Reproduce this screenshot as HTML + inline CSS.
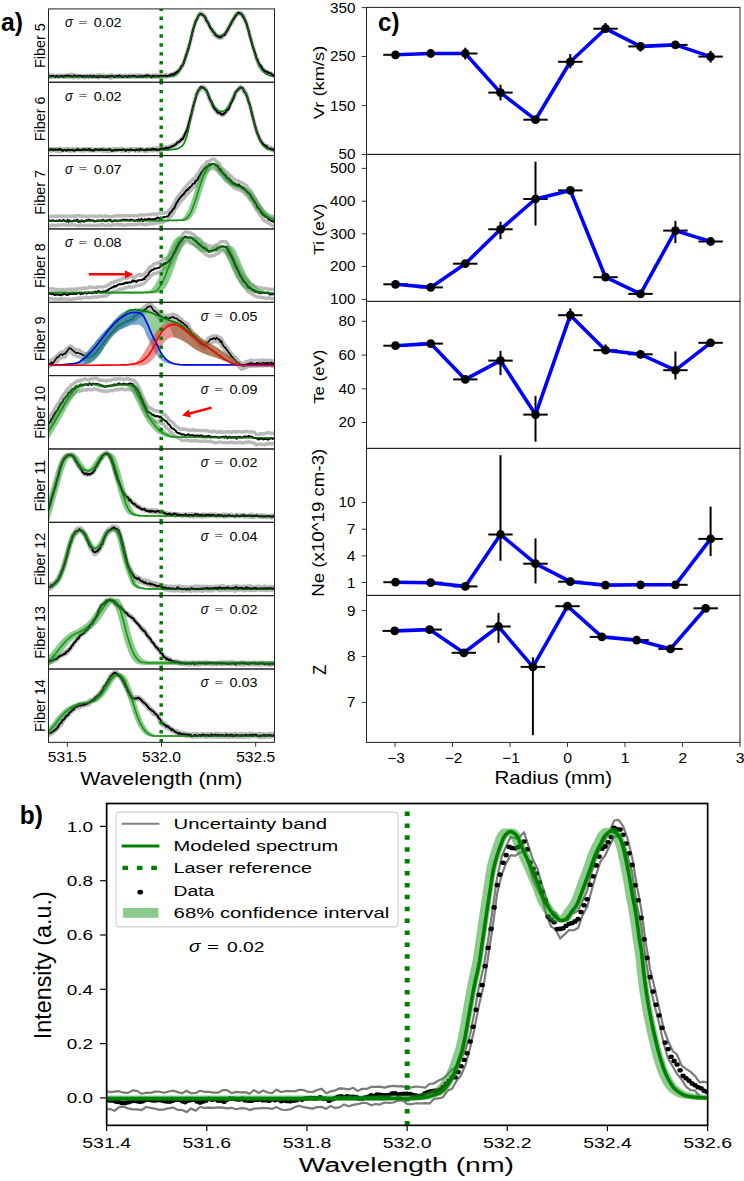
<!DOCTYPE html>
<html><head><meta charset="utf-8"><style>
html,body{margin:0;padding:0;background:#fff;}
svg{display:block;}
</style></head><body>
<svg width="744" height="1181" viewBox="0 0 744 1181" font-family='"Liberation Sans", sans-serif'>
<rect x="0" y="0" width="744" height="1181" fill="#fff"/>
<defs>
<clipPath id="ca0"><rect x="48.50" y="8.90" width="226.00" height="73.34"/></clipPath>
<clipPath id="ca1"><rect x="48.50" y="82.25" width="226.00" height="73.34"/></clipPath>
<clipPath id="ca2"><rect x="48.50" y="155.59" width="226.00" height="73.34"/></clipPath>
<clipPath id="ca3"><rect x="48.50" y="228.94" width="226.00" height="73.34"/></clipPath>
<clipPath id="ca4"><rect x="48.50" y="302.28" width="226.00" height="73.34"/></clipPath>
<clipPath id="ca5"><rect x="48.50" y="375.62" width="226.00" height="73.34"/></clipPath>
<clipPath id="ca6"><rect x="48.50" y="448.97" width="226.00" height="73.34"/></clipPath>
<clipPath id="ca7"><rect x="48.50" y="522.31" width="226.00" height="73.34"/></clipPath>
<clipPath id="ca8"><rect x="48.50" y="595.66" width="226.00" height="73.34"/></clipPath>
<clipPath id="ca9"><rect x="48.50" y="669.00" width="226.00" height="73.34"/></clipPath>
</defs>
<g clip-path="url(#ca0)">
<path d="M48.5,75.1 L49.5,74.9 L50.5,74.8 L51.5,75.1 L52.5,75.2 L53.5,75.2 L54.5,75.5 L55.5,75.9 L56.5,75.5 L57.5,75.2 L58.5,75.5 L59.5,75.3 L60.5,75.0 L61.5,74.9 L62.5,75.4 L63.5,75.5 L64.5,75.4 L65.5,75.3 L66.5,75.6 L67.5,75.6 L68.5,74.8 L69.5,74.7 L70.5,74.7 L71.5,74.1 L72.5,74.4 L73.5,75.6 L74.5,75.7 L75.5,75.1 L76.5,74.9 L77.5,75.4 L78.5,75.7 L79.5,75.4 L80.5,75.4 L81.5,75.4 L82.5,75.6 L83.5,75.7 L84.5,75.6 L85.5,75.2 L86.5,75.3 L87.5,75.4 L88.5,75.5 L89.5,75.4 L90.5,75.0 L91.5,75.4 L92.5,75.1 L93.5,75.5 L94.5,76.2 L95.5,75.6 L96.5,75.5 L97.5,75.7 L98.5,74.8 L99.5,74.8 L100.5,75.4 L101.5,75.4 L102.5,75.2 L103.5,75.1 L104.5,75.3 L105.5,75.6 L106.5,75.8 L107.5,75.5 L108.5,75.8 L109.5,75.6 L110.5,75.2 L111.5,74.8 L112.5,75.3 L113.5,76.0 L114.5,75.8 L115.5,75.8 L116.5,75.6 L117.5,75.5 L118.5,75.4 L119.5,75.3 L120.5,75.3 L121.5,75.7 L122.5,75.9 L123.5,75.5 L124.5,75.2 L125.5,75.0 L126.5,75.6 L127.5,75.9 L128.5,75.5 L129.5,75.3 L130.5,75.0 L131.5,75.0 L132.5,75.5 L133.5,75.4 L134.5,75.1 L135.5,75.2 L136.5,75.3 L137.5,74.9 L138.5,74.8 L139.5,75.0 L140.5,75.3 L141.5,75.3 L142.5,75.2 L143.5,75.8 L144.5,75.5 L145.5,75.0 L146.5,75.1 L147.5,75.3 L148.5,75.0 L149.5,75.1 L150.5,75.8 L151.5,75.6 L152.5,75.1 L153.5,74.9 L154.5,75.0 L155.5,74.9 L156.5,74.6 L157.5,75.2 L158.5,75.2 L159.5,75.2 L160.5,75.7 L161.5,75.5 L162.5,75.3 L163.5,75.7 L164.5,75.4 L165.5,74.8 L166.5,74.4 L167.5,74.5 L168.5,75.1 L169.5,75.2 L170.5,74.4 L171.5,73.7 L172.5,73.6 L173.5,73.6 L174.5,73.2 L175.5,72.5 L176.5,71.8 L177.5,70.9 L178.5,69.8 L179.5,68.8 L180.5,67.4 L181.5,65.8 L182.5,64.5 L183.5,62.3 L184.5,59.3 L185.5,55.9 L186.5,53.1 L187.5,50.0 L188.5,46.2 L189.5,43.3 L190.5,39.9 L191.5,35.4 L192.5,30.8 L193.5,27.1 L194.5,23.7 L195.5,20.8 L196.5,19.2 L197.5,17.2 L198.5,14.8 L199.5,13.2 L200.5,12.8 L201.5,13.2 L202.5,13.5 L203.5,14.5 L204.5,15.5 L205.5,17.2 L206.5,19.7 L207.5,21.7 L208.5,23.1 L209.5,24.9 L210.5,26.9 L211.5,28.4 L212.5,29.8 L213.5,31.0 L214.5,32.1 L215.5,33.7 L216.5,34.8 L217.5,35.4 L218.5,36.2 L219.5,36.1 L220.5,35.6 L221.5,35.7 L222.5,35.4 L223.5,34.5 L224.5,33.7 L225.5,32.5 L226.5,30.4 L227.5,28.4 L228.5,27.3 L229.5,25.8 L230.5,23.2 L231.5,21.5 L232.5,20.4 L233.5,18.5 L234.5,16.5 L235.5,14.5 L236.5,13.2 L237.5,13.1 L238.5,12.7 L239.5,12.2 L240.5,12.5 L241.5,13.1 L242.5,14.0 L243.5,15.3 L244.5,17.9 L245.5,19.9 L246.5,22.6 L247.5,26.3 L248.5,29.5 L249.5,33.0 L250.5,36.6 L251.5,40.3 L252.5,43.7 L253.5,46.9 L254.5,50.5 L255.5,53.8 L256.5,56.5 L257.5,59.1 L258.5,61.9 L259.5,63.5 L260.5,64.9 L261.5,66.5 L262.5,67.5 L263.5,68.9 L264.5,69.9 L265.5,70.8 L266.5,71.3 L267.5,71.5 L268.5,72.1 L269.5,72.3 L270.5,72.9 L271.5,73.5 L272.5,73.9 L273.5,74.4 L274.5,74.3" fill="none" stroke="#b9b9b9" stroke-width="3.4" stroke-linejoin="round" />
<path d="M48.5,77.3 L49.5,77.3 L50.5,77.6 L51.5,77.3 L52.5,77.1 L53.5,76.9 L54.5,77.1 L55.5,77.2 L56.5,76.6 L57.5,76.9 L58.5,77.6 L59.5,77.2 L60.5,76.7 L61.5,76.9 L62.5,76.9 L63.5,77.2 L64.5,77.3 L65.5,77.0 L66.5,77.3 L67.5,77.3 L68.5,77.3 L69.5,77.2 L70.5,76.8 L71.5,76.6 L72.5,77.4 L73.5,77.8 L74.5,77.4 L75.5,77.4 L76.5,77.4 L77.5,77.4 L78.5,77.9 L79.5,77.6 L80.5,76.7 L81.5,76.8 L82.5,76.8 L83.5,77.2 L84.5,77.8 L85.5,77.4 L86.5,76.8 L87.5,77.0 L88.5,77.7 L89.5,77.0 L90.5,76.8 L91.5,77.3 L92.5,77.4 L93.5,77.4 L94.5,77.1 L95.5,77.0 L96.5,76.8 L97.5,77.5 L98.5,77.9 L99.5,77.5 L100.5,77.1 L101.5,76.7 L102.5,76.8 L103.5,77.3 L104.5,77.4 L105.5,77.4 L106.5,77.1 L107.5,77.1 L108.5,77.4 L109.5,77.7 L110.5,78.2 L111.5,77.8 L112.5,77.2 L113.5,77.2 L114.5,77.2 L115.5,77.0 L116.5,77.2 L117.5,77.1 L118.5,77.3 L119.5,77.5 L120.5,77.4 L121.5,77.4 L122.5,77.1 L123.5,76.9 L124.5,77.1 L125.5,77.1 L126.5,77.3 L127.5,77.4 L128.5,77.0 L129.5,77.0 L130.5,77.0 L131.5,76.8 L132.5,77.1 L133.5,76.7 L134.5,76.8 L135.5,77.4 L136.5,77.3 L137.5,77.1 L138.5,77.1 L139.5,76.9 L140.5,77.0 L141.5,77.1 L142.5,77.1 L143.5,77.0 L144.5,77.0 L145.5,77.3 L146.5,77.2 L147.5,77.1 L148.5,77.2 L149.5,76.9 L150.5,76.9 L151.5,77.4 L152.5,77.3 L153.5,77.3 L154.5,77.1 L155.5,76.9 L156.5,77.2 L157.5,77.4 L158.5,77.3 L159.5,76.8 L160.5,76.9 L161.5,77.5 L162.5,77.6 L163.5,77.3 L164.5,76.7 L165.5,76.8 L166.5,77.1 L167.5,76.2 L168.5,76.2 L169.5,76.3 L170.5,75.7 L171.5,75.7 L172.5,76.1 L173.5,75.9 L174.5,75.1 L175.5,75.0 L176.5,74.5 L177.5,73.2 L178.5,71.8 L179.5,70.4 L180.5,68.8 L181.5,67.6 L182.5,66.1 L183.5,63.8 L184.5,61.4 L185.5,58.4 L186.5,55.3 L187.5,52.5 L188.5,49.3 L189.5,45.9 L190.5,41.9 L191.5,37.3 L192.5,33.3 L193.5,29.5 L194.5,25.3 L195.5,22.5 L196.5,20.6 L197.5,18.7 L198.5,16.6 L199.5,15.2 L200.5,14.9 L201.5,14.9 L202.5,15.1 L203.5,16.1 L204.5,17.9 L205.5,19.6 L206.5,21.1 L207.5,23.0 L208.5,25.2 L209.5,26.4 L210.5,28.1 L211.5,30.6 L212.5,32.3 L213.5,34.0 L214.5,35.4 L215.5,36.2 L216.5,36.8 L217.5,37.6 L218.5,38.0 L219.5,38.1 L220.5,38.4 L221.5,38.5 L222.5,37.7 L223.5,36.5 L224.5,35.6 L225.5,34.6 L226.5,32.9 L227.5,31.3 L228.5,29.5 L229.5,27.2 L230.5,25.5 L231.5,23.8 L232.5,22.4 L233.5,19.9 L234.5,17.7 L235.5,16.6 L236.5,15.5 L237.5,14.3 L238.5,14.0 L239.5,14.3 L240.5,14.5 L241.5,15.2 L242.5,16.5 L243.5,18.0 L244.5,19.9 L245.5,22.1 L246.5,24.2 L247.5,27.7 L248.5,31.5 L249.5,35.3 L250.5,39.1 L251.5,42.2 L252.5,45.6 L253.5,49.2 L254.5,52.9 L255.5,56.2 L256.5,58.8 L257.5,61.7 L258.5,64.5 L259.5,66.7 L260.5,67.8 L261.5,68.7 L262.5,70.3 L263.5,71.3 L264.5,71.5 L265.5,72.3 L266.5,73.3 L267.5,73.5 L268.5,73.5 L269.5,73.8 L270.5,74.8 L271.5,75.4 L272.5,75.6 L273.5,76.2 L274.5,76.8" fill="none" stroke="#b9b9b9" stroke-width="3.4" stroke-linejoin="round" />
<path d="M48.5,76.6 L49.5,76.6 L50.5,76.6 L51.5,76.6 L52.5,76.6 L53.5,76.6 L54.5,76.6 L55.5,76.6 L56.5,76.6 L57.5,76.6 L58.5,76.6 L59.5,76.6 L60.5,76.6 L61.5,76.6 L62.5,76.6 L63.5,76.6 L64.5,76.6 L65.5,76.6 L66.5,76.6 L67.5,76.6 L68.5,76.6 L69.5,76.6 L70.5,76.6 L71.5,76.6 L72.5,76.6 L73.5,76.6 L74.5,76.6 L75.5,76.6 L76.5,76.6 L77.5,76.6 L78.5,76.6 L79.5,76.6 L80.5,76.6 L81.5,76.6 L82.5,76.6 L83.5,76.6 L84.5,76.6 L85.5,76.6 L86.5,76.6 L87.5,76.6 L88.5,76.6 L89.5,76.6 L90.5,76.6 L91.5,76.6 L92.5,76.6 L93.5,76.6 L94.5,76.6 L95.5,76.6 L96.5,76.6 L97.5,76.6 L98.5,76.6 L99.5,76.6 L100.5,76.6 L101.5,76.6 L102.5,76.6 L103.5,76.6 L104.5,76.6 L105.5,76.6 L106.5,76.6 L107.5,76.6 L108.5,76.6 L109.5,76.6 L110.5,76.6 L111.5,76.6 L112.5,76.6 L113.5,76.6 L114.5,76.6 L115.5,76.6 L116.5,76.6 L117.5,76.6 L118.5,76.6 L119.5,76.6 L120.5,76.6 L121.5,76.6 L122.5,76.6 L123.5,76.6 L124.5,76.6 L125.5,76.6 L126.5,76.6 L127.5,76.6 L128.5,76.6 L129.5,76.6 L130.5,76.6 L131.5,76.6 L132.5,76.6 L133.5,76.6 L134.5,76.6 L135.5,76.6 L136.5,76.6 L137.5,76.6 L138.5,76.6 L139.5,76.6 L140.5,76.6 L141.5,76.6 L142.5,76.6 L143.5,76.6 L144.5,76.6 L145.5,76.6 L146.5,76.6 L147.5,76.6 L148.5,76.6 L149.5,76.6 L150.5,76.6 L151.5,76.6 L152.5,76.6 L153.5,76.6 L154.5,76.6 L155.5,76.6 L156.5,76.6 L157.5,76.6 L158.5,76.6 L159.5,76.6 L160.5,76.6 L161.5,76.6 L162.5,76.6 L163.5,76.5 L164.5,76.5 L165.5,76.5 L166.5,76.5 L167.5,76.5 L168.5,76.5 L169.5,76.4 L170.5,76.3 L171.5,76.2 L172.5,76.0 L173.5,75.7 L174.5,75.4 L175.5,74.9 L176.5,74.0 L177.5,73.1 L178.5,72.1 L179.5,70.8 L180.5,69.2 L181.5,67.5 L182.5,65.6 L183.5,63.3 L184.5,60.7 L185.5,57.9 L186.5,54.9 L187.5,51.6 L188.5,48.1 L189.5,44.5 L190.5,40.5 L191.5,36.3 L192.5,32.3 L193.5,28.6 L194.5,25.0 L195.5,21.9 L196.5,19.5 L197.5,17.5 L198.5,15.7 L199.5,14.4 L200.5,14.0 L201.5,14.2 L202.5,14.7 L203.5,15.3 L204.5,16.1 L205.5,17.4 L206.5,19.3 L207.5,21.1 L208.5,22.9 L209.5,24.9 L210.5,26.8 L211.5,28.5 L212.5,30.0 L213.5,31.5 L214.5,32.8 L215.5,33.9 L216.5,34.7 L217.5,35.3 L218.5,35.9 L219.5,36.2 L220.5,36.1 L221.5,35.8 L222.5,35.2 L223.5,34.5 L224.5,33.6 L225.5,32.2 L226.5,30.6 L227.5,29.0 L228.5,27.3 L229.5,25.4 L230.5,23.5 L231.5,21.6 L232.5,19.9 L233.5,18.2 L234.5,16.5 L235.5,15.1 L236.5,14.2 L237.5,13.7 L238.5,13.3 L239.5,13.2 L240.5,13.5 L241.5,14.3 L242.5,15.4 L243.5,16.7 L244.5,18.7 L245.5,21.0 L246.5,23.6 L247.5,26.9 L248.5,30.6 L249.5,34.3 L250.5,37.9 L251.5,41.5 L252.5,45.1 L253.5,48.6 L254.5,52.2 L255.5,55.7 L256.5,58.7 L257.5,61.3 L258.5,63.7 L259.5,65.9 L260.5,67.7 L261.5,69.2 L262.5,70.6 L263.5,71.8 L264.5,72.8 L265.5,73.5 L266.5,74.1 L267.5,74.7 L268.5,75.1 L269.5,75.5 L270.5,75.8 L271.5,76.0 L272.5,76.2 L273.5,76.3 L274.5,76.4" fill="none" stroke="#008000" stroke-width="1.6" stroke-linejoin="round" />
<path d="M48.5,76.3 L49.5,76.4 L50.5,76.2 L51.5,75.9 L52.5,76.1 L53.5,75.9 L54.5,76.4 L55.5,76.9 L56.5,76.1 L57.5,76.1 L58.5,76.6 L59.5,76.5 L60.5,76.4 L61.5,75.9 L62.5,76.3 L63.5,76.7 L64.5,75.8 L65.5,76.2 L66.5,75.5 L67.5,75.8 L68.5,75.5 L69.5,76.3 L70.5,75.8 L71.5,76.5 L72.5,76.4 L73.5,76.3 L74.5,75.2 L75.5,76.1 L76.5,76.4 L77.5,76.4 L78.5,75.7 L79.5,76.2 L80.5,76.0 L81.5,76.0 L82.5,76.9 L83.5,76.0 L84.5,76.4 L85.5,76.8 L86.5,76.1 L87.5,76.3 L88.5,76.4 L89.5,76.4 L90.5,75.8 L91.5,76.4 L92.5,77.0 L93.5,75.7 L94.5,76.8 L95.5,76.5 L96.5,76.1 L97.5,77.3 L98.5,76.7 L99.5,75.9 L100.5,76.4 L101.5,76.7 L102.5,76.3 L103.5,76.7 L104.5,76.4 L105.5,76.7 L106.5,77.0 L107.5,76.1 L108.5,76.5 L109.5,76.2 L110.5,76.4 L111.5,75.9 L112.5,76.1 L113.5,76.3 L114.5,76.8 L115.5,76.9 L116.5,75.8 L117.5,76.0 L118.5,76.7 L119.5,75.5 L120.5,76.2 L121.5,76.3 L122.5,76.9 L123.5,76.7 L124.5,76.2 L125.5,76.2 L126.5,76.2 L127.5,77.0 L128.5,76.1 L129.5,76.2 L130.5,76.5 L131.5,76.3 L132.5,76.2 L133.5,75.8 L134.5,76.3 L135.5,76.1 L136.5,76.8 L137.5,76.6 L138.5,76.3 L139.5,76.6 L140.5,76.1 L141.5,76.7 L142.5,76.2 L143.5,76.5 L144.5,75.7 L145.5,76.4 L146.5,75.5 L147.5,75.3 L148.5,76.1 L149.5,75.8 L150.5,76.3 L151.5,77.2 L152.5,75.8 L153.5,75.9 L154.5,76.3 L155.5,76.4 L156.5,76.1 L157.5,76.0 L158.5,76.4 L159.5,76.3 L160.5,75.6 L161.5,76.0 L162.5,76.1 L163.5,75.6 L164.5,76.1 L165.5,75.6 L166.5,76.4 L167.5,75.9 L168.5,75.7 L169.5,75.3 L170.5,75.3 L171.5,74.3 L172.5,74.4 L173.5,74.8 L174.5,73.2 L175.5,73.9 L176.5,71.9 L177.5,72.2 L178.5,70.5 L179.5,70.1 L180.5,68.4 L181.5,66.0 L182.5,65.5 L183.5,63.4 L184.5,60.1 L185.5,57.2 L186.5,54.4 L187.5,50.9 L188.5,48.5 L189.5,44.2 L190.5,40.5 L191.5,36.0 L192.5,32.0 L193.5,28.1 L194.5,25.6 L195.5,21.7 L196.5,20.0 L197.5,17.6 L198.5,15.6 L199.5,14.6 L200.5,13.9 L201.5,14.3 L202.5,14.7 L203.5,15.6 L204.5,16.1 L205.5,17.9 L206.5,20.9 L207.5,21.8 L208.5,23.5 L209.5,26.1 L210.5,28.4 L211.5,28.9 L212.5,30.9 L213.5,32.2 L214.5,33.0 L215.5,35.2 L216.5,35.7 L217.5,36.4 L218.5,36.6 L219.5,37.5 L220.5,37.0 L221.5,36.8 L222.5,35.7 L223.5,35.0 L224.5,35.1 L225.5,33.0 L226.5,31.7 L227.5,30.0 L228.5,28.1 L229.5,26.3 L230.5,24.8 L231.5,22.5 L232.5,20.8 L233.5,19.1 L234.5,17.8 L235.5,16.0 L236.5,14.8 L237.5,13.5 L238.5,12.5 L239.5,13.3 L240.5,13.7 L241.5,14.2 L242.5,15.6 L243.5,17.1 L244.5,19.1 L245.5,21.4 L246.5,23.4 L247.5,27.6 L248.5,30.1 L249.5,34.7 L250.5,38.1 L251.5,41.8 L252.5,45.7 L253.5,48.9 L254.5,51.3 L255.5,54.4 L256.5,58.4 L257.5,60.0 L258.5,62.7 L259.5,65.0 L260.5,65.5 L261.5,66.7 L262.5,69.0 L263.5,69.9 L264.5,70.7 L265.5,71.5 L266.5,71.7 L267.5,72.0 L268.5,73.0 L269.5,73.1 L270.5,73.2 L271.5,74.6 L272.5,74.8 L273.5,75.4 L274.5,75.2" fill="none" stroke="#000" stroke-width="2.0" stroke-linejoin="round" />
<path d="M48.5,76.3 L49.5,76.3 L50.5,76.3 L51.5,76.3 L52.5,76.3 L53.5,76.3 L54.5,76.3 L55.5,76.3 L56.5,76.3 L57.5,76.3 L58.5,76.3 L59.5,76.3 L60.5,76.3 L61.5,76.3 L62.5,76.3 L63.5,76.3 L64.5,76.3 L65.5,76.3 L66.5,76.3 L67.5,76.3 L68.5,76.3 L69.5,76.3 L70.5,76.3 L71.5,76.3 L72.5,76.3 L73.5,76.3 L74.5,76.3 L75.5,76.3 L76.5,76.3 L77.5,76.3 L78.5,76.3 L79.5,76.3 L80.5,76.3 L81.5,76.3 L82.5,76.3 L83.5,76.3 L84.5,76.3 L85.5,76.3 L86.5,76.3 L87.5,76.3 L88.5,76.3 L89.5,76.3 L90.5,76.3 L91.5,76.3 L92.5,76.3 L93.5,76.3 L94.5,76.3 L95.5,76.3 L96.5,76.3 L97.5,76.3 L98.5,76.3 L99.5,76.3 L100.5,76.3 L101.5,76.3 L102.5,76.3 L103.5,76.3 L104.5,76.3 L105.5,76.3 L106.5,76.3 L107.5,76.3 L108.5,76.3 L109.5,76.3 L110.5,76.3 L111.5,76.3 L112.5,76.3 L113.5,76.3 L114.5,76.3 L115.5,76.3 L116.5,76.3 L117.5,76.3 L118.5,76.3 L119.5,76.3 L120.5,76.3 L121.5,76.3 L122.5,76.3 L123.5,76.3 L124.5,76.3 L125.5,76.3 L126.5,76.3 L127.5,76.3 L128.5,76.3 L129.5,76.3 L130.5,76.3 L131.5,76.3 L132.5,76.3 L133.5,76.3 L134.5,76.3 L135.5,76.3 L136.5,76.3 L137.5,76.3 L138.5,76.3 L139.5,76.3 L140.5,76.3 L141.5,76.3 L142.5,76.3 L143.5,76.3 L144.5,76.3 L145.5,76.3 L146.5,76.3 L147.5,76.3 L148.5,76.3 L149.5,76.3 L150.5,76.3 L151.5,76.3 L152.5,76.3 L153.5,76.3 L154.5,76.3 L155.5,76.3 L156.5,76.3 L157.5,76.3 L158.5,76.3 L159.5,76.3 L160.5,76.3 L161.5,76.3 L162.5,76.3 L163.5,76.2 L164.5,76.2 L165.5,76.2 L166.5,76.2 L167.5,76.2 L168.5,76.2 L169.5,76.1 L170.5,75.9 L171.5,75.7 L172.5,75.5 L173.5,75.3 L174.5,74.8 L175.5,74.1 L176.5,73.2 L177.5,72.2 L178.5,71.0 L179.5,69.6 L180.5,67.9 L181.5,66.1 L182.5,64.0 L183.5,61.5 L184.5,58.7 L185.5,55.8 L186.5,52.6 L187.5,49.2 L188.5,45.6 L189.5,41.8 L190.5,37.7 L191.5,33.5 L192.5,29.8 L193.5,26.2 L194.5,22.8 L195.5,20.0 L196.5,18.0 L197.5,16.0 L198.5,14.5 L199.5,13.7 L200.5,13.7 L201.5,13.7 L202.5,14.1 L203.5,14.6 L204.5,15.3 L205.5,16.2 L206.5,17.8 L207.5,19.7 L208.5,21.5 L209.5,23.4 L210.5,25.3 L211.5,27.2 L212.5,28.9 L213.5,30.3 L214.5,31.7 L215.5,32.9 L216.5,33.9 L217.5,34.6 L218.5,35.2 L219.5,35.7 L220.5,35.6 L221.5,35.1 L222.5,34.5 L223.5,33.7 L224.5,32.5 L225.5,31.0 L226.5,29.3 L227.5,27.7 L228.5,25.9 L229.5,24.0 L230.5,22.1 L231.5,20.3 L232.5,18.6 L233.5,16.8 L234.5,15.3 L235.5,14.2 L236.5,13.6 L237.5,13.2 L238.5,12.9 L239.5,12.9 L240.5,13.0 L241.5,13.5 L242.5,14.5 L243.5,15.6 L244.5,17.2 L245.5,19.3 L246.5,21.7 L247.5,24.5 L248.5,28.1 L249.5,31.8 L250.5,35.5 L251.5,39.1 L252.5,42.7 L253.5,46.2 L254.5,49.7 L255.5,53.3 L256.5,56.7 L257.5,59.5 L258.5,62.0 L259.5,64.3 L260.5,66.3 L261.5,68.0 L262.5,69.5 L263.5,70.8 L264.5,71.9 L265.5,72.8 L266.5,73.5 L267.5,74.1 L268.5,74.6 L269.5,75.0 L270.5,75.3 L271.5,75.6 L272.5,75.8 L273.5,76.0 L274.5,76.1 L274.5,76.7 L273.5,76.7 L272.5,76.6 L271.5,76.4 L270.5,76.2 L269.5,76.0 L268.5,75.7 L267.5,75.3 L266.5,74.8 L265.5,74.2 L264.5,73.6 L263.5,72.7 L262.5,71.6 L261.5,70.4 L260.5,68.9 L259.5,67.3 L258.5,65.3 L257.5,63.1 L256.5,60.6 L255.5,57.9 L254.5,54.6 L253.5,51.1 L252.5,47.5 L251.5,44.0 L250.5,40.4 L249.5,36.8 L248.5,33.2 L247.5,29.4 L246.5,25.8 L245.5,22.8 L244.5,20.3 L243.5,18.1 L242.5,16.4 L241.5,15.3 L240.5,14.3 L239.5,13.6 L238.5,13.8 L237.5,14.3 L236.5,14.9 L235.5,16.2 L234.5,17.8 L233.5,19.5 L232.5,21.2 L231.5,23.0 L230.5,25.0 L229.5,26.9 L228.5,28.6 L227.5,30.3 L226.5,31.9 L225.5,33.3 L224.5,34.5 L223.5,35.2 L222.5,35.9 L221.5,36.3 L220.5,36.5 L219.5,36.5 L218.5,36.4 L217.5,36.0 L216.5,35.4 L215.5,34.7 L214.5,33.8 L213.5,32.6 L212.5,31.2 L211.5,29.7 L210.5,28.2 L209.5,26.3 L208.5,24.4 L207.5,22.5 L206.5,20.7 L205.5,18.8 L204.5,17.1 L203.5,16.0 L202.5,15.3 L201.5,14.7 L200.5,14.4 L199.5,15.4 L198.5,17.0 L197.5,19.0 L196.5,21.1 L195.5,24.0 L194.5,27.5 L193.5,31.1 L192.5,34.9 L191.5,39.1 L190.5,43.2 L189.5,47.0 L188.5,50.5 L187.5,53.9 L186.5,57.0 L185.5,59.9 L184.5,62.6 L183.5,65.0 L182.5,67.1 L181.5,68.9 L180.5,70.5 L179.5,71.9 L178.5,73.0 L177.5,74.0 L176.5,74.9 L175.5,75.5 L174.5,75.9 L173.5,76.2 L172.5,76.4 L171.5,76.6 L170.5,76.7 L169.5,76.8 L168.5,76.8 L167.5,76.8 L166.5,76.8 L165.5,76.8 L164.5,76.8 L163.5,76.9 L162.5,76.9 L161.5,76.9 L160.5,76.9 L159.5,76.9 L158.5,76.9 L157.5,76.9 L156.5,76.9 L155.5,76.9 L154.5,76.9 L153.5,76.9 L152.5,76.9 L151.5,76.9 L150.5,76.9 L149.5,76.9 L148.5,76.9 L147.5,76.9 L146.5,76.9 L145.5,76.9 L144.5,76.9 L143.5,76.9 L142.5,76.9 L141.5,76.9 L140.5,76.9 L139.5,76.9 L138.5,76.9 L137.5,76.9 L136.5,76.9 L135.5,76.9 L134.5,76.9 L133.5,76.9 L132.5,76.9 L131.5,76.9 L130.5,76.9 L129.5,76.9 L128.5,76.9 L127.5,76.9 L126.5,76.9 L125.5,76.9 L124.5,76.9 L123.5,76.9 L122.5,76.9 L121.5,76.9 L120.5,76.9 L119.5,76.9 L118.5,76.9 L117.5,76.9 L116.5,76.9 L115.5,76.9 L114.5,76.9 L113.5,76.9 L112.5,76.9 L111.5,76.9 L110.5,76.9 L109.5,76.9 L108.5,76.9 L107.5,76.9 L106.5,76.9 L105.5,76.9 L104.5,76.9 L103.5,76.9 L102.5,76.9 L101.5,76.9 L100.5,76.9 L99.5,76.9 L98.5,76.9 L97.5,76.9 L96.5,76.9 L95.5,76.9 L94.5,76.9 L93.5,76.9 L92.5,76.9 L91.5,76.9 L90.5,76.9 L89.5,76.9 L88.5,76.9 L87.5,76.9 L86.5,76.9 L85.5,76.9 L84.5,76.9 L83.5,76.9 L82.5,76.9 L81.5,76.9 L80.5,76.9 L79.5,76.9 L78.5,76.9 L77.5,76.9 L76.5,76.9 L75.5,76.9 L74.5,76.9 L73.5,76.9 L72.5,76.9 L71.5,76.9 L70.5,76.9 L69.5,76.9 L68.5,76.9 L67.5,76.9 L66.5,76.9 L65.5,76.9 L64.5,76.9 L63.5,76.9 L62.5,76.9 L61.5,76.9 L60.5,76.9 L59.5,76.9 L58.5,76.9 L57.5,76.9 L56.5,76.9 L55.5,76.9 L54.5,76.9 L53.5,76.9 L52.5,76.9 L51.5,76.9 L50.5,76.9 L49.5,76.9 L48.5,76.9 Z" fill="#2ca02c" stroke="none" fill-opacity="0.55"/>
</g>
<line x1="161.2" y1="82.25" x2="161.2" y2="8.90" stroke="#008000" stroke-width="3.5" stroke-dasharray="3.4 5.5"/>
<rect x="48.50" y="8.90" width="226.00" height="73.34" stroke="#222" stroke-width="1.0" fill="none" />
<text transform="translate(44.85,67.98) rotate(-90) scale(0.9800,1)" font-size="14.69" font-family='"Liberation Sans", sans-serif' fill="#000">Fiber 5</text>
<text transform="translate(64.90,27.36) scale(0.9376,1)" font-size="13.94" font-family='"Liberation Sans", sans-serif' fill="#000" font-style="italic">σ</text>
<text transform="translate(78.60,24.80) scale(1.6594,1)" font-size="9.18" font-family='"Liberation Sans", sans-serif' fill="#000">=</text>
<text transform="translate(93.70,27.37) scale(1.1405,1)" font-size="12.57" font-family='"Liberation Sans", sans-serif' fill="#000">0.02</text>
<g clip-path="url(#ca1)">
<path d="M48.5,148.3 L49.5,148.5 L50.5,148.9 L51.5,149.0 L52.5,149.0 L53.5,148.5 L54.5,148.6 L55.5,148.9 L56.5,148.9 L57.5,148.8 L58.5,148.7 L59.5,148.1 L60.5,148.4 L61.5,149.1 L62.5,148.9 L63.5,148.8 L64.5,149.0 L65.5,148.9 L66.5,148.5 L67.5,148.6 L68.5,149.0 L69.5,148.7 L70.5,148.7 L71.5,148.9 L72.5,148.4 L73.5,148.9 L74.5,149.1 L75.5,148.5 L76.5,148.4 L77.5,149.0 L78.5,149.4 L79.5,149.0 L80.5,148.8 L81.5,149.1 L82.5,148.9 L83.5,148.8 L84.5,149.0 L85.5,148.7 L86.5,148.6 L87.5,148.8 L88.5,148.9 L89.5,148.8 L90.5,148.6 L91.5,149.1 L92.5,149.2 L93.5,149.2 L94.5,149.4 L95.5,149.3 L96.5,149.6 L97.5,149.3 L98.5,148.9 L99.5,149.0 L100.5,149.3 L101.5,149.8 L102.5,148.8 L103.5,148.2 L104.5,148.8 L105.5,149.3 L106.5,149.3 L107.5,149.1 L108.5,149.0 L109.5,149.2 L110.5,149.0 L111.5,149.1 L112.5,148.6 L113.5,148.5 L114.5,148.8 L115.5,148.9 L116.5,149.1 L117.5,148.6 L118.5,148.7 L119.5,148.7 L120.5,148.4 L121.5,148.3 L122.5,148.5 L123.5,149.0 L124.5,149.2 L125.5,149.1 L126.5,149.1 L127.5,149.1 L128.5,148.8 L129.5,149.0 L130.5,149.2 L131.5,149.0 L132.5,148.7 L133.5,148.7 L134.5,148.8 L135.5,148.6 L136.5,148.8 L137.5,148.9 L138.5,148.8 L139.5,148.7 L140.5,148.7 L141.5,149.0 L142.5,148.8 L143.5,149.1 L144.5,149.3 L145.5,149.3 L146.5,149.4 L147.5,148.8 L148.5,148.5 L149.5,148.7 L150.5,148.8 L151.5,148.7 L152.5,148.6 L153.5,148.1 L154.5,148.1 L155.5,147.9 L156.5,148.0 L157.5,148.4 L158.5,148.0 L159.5,148.1 L160.5,148.3 L161.5,147.9 L162.5,147.3 L163.5,147.2 L164.5,147.0 L165.5,146.8 L166.5,147.5 L167.5,147.2 L168.5,146.7 L169.5,146.3 L170.5,145.8 L171.5,145.6 L172.5,144.9 L173.5,144.6 L174.5,144.4 L175.5,143.7 L176.5,142.7 L177.5,141.7 L178.5,141.1 L179.5,140.6 L180.5,139.8 L181.5,138.8 L182.5,138.0 L183.5,136.2 L184.5,134.1 L185.5,132.7 L186.5,130.3 L187.5,127.1 L188.5,123.6 L189.5,119.7 L190.5,115.9 L191.5,112.9 L192.5,109.0 L193.5,104.2 L194.5,100.1 L195.5,96.6 L196.5,93.9 L197.5,91.6 L198.5,89.2 L199.5,88.0 L200.5,87.2 L201.5,86.4 L202.5,86.2 L203.5,86.5 L204.5,87.5 L205.5,88.3 L206.5,90.0 L207.5,92.4 L208.5,94.7 L209.5,97.9 L210.5,100.3 L211.5,101.7 L212.5,103.8 L213.5,106.4 L214.5,107.6 L215.5,108.4 L216.5,109.8 L217.5,110.7 L218.5,111.9 L219.5,112.2 L220.5,111.9 L221.5,112.7 L222.5,113.0 L223.5,112.8 L224.5,112.2 L225.5,111.2 L226.5,110.3 L227.5,108.6 L228.5,106.7 L229.5,105.2 L230.5,103.2 L231.5,101.3 L232.5,99.0 L233.5,96.4 L234.5,94.4 L235.5,92.4 L236.5,90.3 L237.5,89.4 L238.5,88.9 L239.5,87.1 L240.5,86.1 L241.5,87.1 L242.5,88.0 L243.5,88.8 L244.5,90.1 L245.5,91.5 L246.5,93.8 L247.5,96.5 L248.5,99.9 L249.5,103.3 L250.5,106.5 L251.5,110.4 L252.5,114.7 L253.5,118.8 L254.5,122.4 L255.5,126.5 L256.5,130.2 L257.5,133.1 L258.5,135.6 L259.5,137.6 L260.5,139.4 L261.5,141.0 L262.5,142.7 L263.5,143.5 L264.5,144.5 L265.5,145.4 L266.5,145.4 L267.5,145.8 L268.5,146.3 L269.5,146.9 L270.5,147.3 L271.5,148.0 L272.5,148.4 L273.5,147.9 L274.5,148.3" fill="none" stroke="#b9b9b9" stroke-width="3.4" stroke-linejoin="round" />
<path d="M48.5,150.1 L49.5,150.1 L50.5,150.9 L51.5,151.1 L52.5,150.5 L53.5,150.1 L54.5,150.9 L55.5,151.2 L56.5,150.8 L57.5,151.0 L58.5,151.6 L59.5,151.6 L60.5,151.1 L61.5,150.8 L62.5,151.0 L63.5,150.7 L64.5,150.3 L65.5,150.5 L66.5,150.5 L67.5,150.5 L68.5,150.8 L69.5,151.4 L70.5,151.2 L71.5,150.6 L72.5,150.7 L73.5,150.9 L74.5,151.2 L75.5,151.0 L76.5,150.5 L77.5,150.2 L78.5,150.2 L79.5,150.8 L80.5,151.0 L81.5,150.6 L82.5,150.5 L83.5,150.8 L84.5,151.0 L85.5,150.9 L86.5,150.7 L87.5,150.4 L88.5,150.1 L89.5,151.0 L90.5,150.7 L91.5,150.3 L92.5,150.9 L93.5,150.9 L94.5,150.6 L95.5,150.7 L96.5,150.9 L97.5,150.9 L98.5,150.4 L99.5,150.4 L100.5,150.7 L101.5,150.6 L102.5,150.8 L103.5,151.1 L104.5,151.3 L105.5,151.0 L106.5,151.0 L107.5,151.4 L108.5,151.5 L109.5,151.5 L110.5,151.2 L111.5,150.8 L112.5,151.1 L113.5,150.8 L114.5,150.6 L115.5,150.8 L116.5,150.7 L117.5,150.4 L118.5,150.2 L119.5,150.6 L120.5,151.1 L121.5,151.3 L122.5,151.1 L123.5,150.8 L124.5,150.6 L125.5,150.7 L126.5,150.9 L127.5,150.9 L128.5,151.4 L129.5,151.3 L130.5,150.5 L131.5,150.2 L132.5,150.2 L133.5,150.2 L134.5,150.8 L135.5,151.2 L136.5,150.5 L137.5,150.6 L138.5,151.3 L139.5,151.0 L140.5,150.5 L141.5,150.5 L142.5,150.7 L143.5,151.0 L144.5,151.2 L145.5,151.3 L146.5,151.3 L147.5,151.4 L148.5,151.2 L149.5,150.5 L150.5,150.3 L151.5,150.7 L152.5,150.6 L153.5,150.8 L154.5,150.7 L155.5,150.2 L156.5,150.6 L157.5,151.0 L158.5,150.6 L159.5,150.6 L160.5,150.8 L161.5,150.5 L162.5,149.5 L163.5,149.1 L164.5,149.5 L165.5,149.2 L166.5,149.1 L167.5,149.4 L168.5,149.0 L169.5,148.1 L170.5,148.3 L171.5,148.0 L172.5,146.6 L173.5,146.2 L174.5,146.0 L175.5,145.2 L176.5,144.6 L177.5,144.0 L178.5,142.9 L179.5,142.3 L180.5,141.8 L181.5,140.7 L182.5,139.5 L183.5,138.4 L184.5,137.3 L185.5,135.1 L186.5,132.4 L187.5,129.7 L188.5,125.8 L189.5,122.2 L190.5,118.7 L191.5,114.8 L192.5,110.5 L193.5,106.2 L194.5,102.3 L195.5,98.9 L196.5,96.0 L197.5,94.0 L198.5,92.1 L199.5,90.3 L200.5,89.4 L201.5,88.7 L202.5,88.2 L203.5,88.5 L204.5,89.4 L205.5,91.1 L206.5,92.5 L207.5,94.4 L208.5,97.2 L209.5,99.9 L210.5,102.2 L211.5,103.9 L212.5,105.8 L213.5,107.8 L214.5,109.6 L215.5,110.8 L216.5,112.0 L217.5,113.6 L218.5,113.9 L219.5,114.0 L220.5,114.6 L221.5,114.8 L222.5,115.4 L223.5,115.0 L224.5,114.3 L225.5,113.0 L226.5,111.9 L227.5,111.0 L228.5,109.3 L229.5,107.6 L230.5,104.7 L231.5,102.4 L232.5,101.0 L233.5,99.2 L234.5,96.8 L235.5,94.2 L236.5,92.1 L237.5,91.1 L238.5,90.7 L239.5,89.3 L240.5,88.3 L241.5,88.0 L242.5,89.0 L243.5,91.4 L244.5,92.9 L245.5,94.2 L246.5,96.4 L247.5,98.6 L248.5,102.0 L249.5,105.2 L250.5,108.4 L251.5,112.8 L252.5,117.3 L253.5,121.4 L254.5,124.9 L255.5,128.2 L256.5,131.3 L257.5,134.6 L258.5,137.2 L259.5,139.0 L260.5,140.8 L261.5,142.7 L262.5,144.0 L263.5,144.8 L264.5,145.7 L265.5,146.7 L266.5,147.8 L267.5,148.7 L268.5,148.7 L269.5,148.5 L270.5,149.5 L271.5,150.1 L272.5,150.2 L273.5,151.0 L274.5,151.3" fill="none" stroke="#b9b9b9" stroke-width="3.4" stroke-linejoin="round" />
<path d="M48.5,150.0 L49.5,150.0 L50.5,150.0 L51.5,150.0 L52.5,150.0 L53.5,150.0 L54.5,150.0 L55.5,150.0 L56.5,150.0 L57.5,150.0 L58.5,150.0 L59.5,150.0 L60.5,150.0 L61.5,150.0 L62.5,150.0 L63.5,150.0 L64.5,150.0 L65.5,150.0 L66.5,150.0 L67.5,150.0 L68.5,150.0 L69.5,150.0 L70.5,150.0 L71.5,150.0 L72.5,150.0 L73.5,150.0 L74.5,150.0 L75.5,150.0 L76.5,150.0 L77.5,150.0 L78.5,150.0 L79.5,150.0 L80.5,150.0 L81.5,150.0 L82.5,150.0 L83.5,150.0 L84.5,150.0 L85.5,150.0 L86.5,150.0 L87.5,150.0 L88.5,150.0 L89.5,150.0 L90.5,150.0 L91.5,150.0 L92.5,150.0 L93.5,150.0 L94.5,150.0 L95.5,150.0 L96.5,150.0 L97.5,150.0 L98.5,150.0 L99.5,150.0 L100.5,150.0 L101.5,150.0 L102.5,150.0 L103.5,150.0 L104.5,150.0 L105.5,150.0 L106.5,150.0 L107.5,150.0 L108.5,150.0 L109.5,150.0 L110.5,150.0 L111.5,150.0 L112.5,150.0 L113.5,150.0 L114.5,150.0 L115.5,150.0 L116.5,150.0 L117.5,150.0 L118.5,150.0 L119.5,150.0 L120.5,150.0 L121.5,150.0 L122.5,150.0 L123.5,150.0 L124.5,150.0 L125.5,150.0 L126.5,150.0 L127.5,150.0 L128.5,150.0 L129.5,150.0 L130.5,150.0 L131.5,150.0 L132.5,150.0 L133.5,150.0 L134.5,150.0 L135.5,150.0 L136.5,150.0 L137.5,150.0 L138.5,150.0 L139.5,150.0 L140.5,150.0 L141.5,150.0 L142.5,150.0 L143.5,150.0 L144.5,150.0 L145.5,150.0 L146.5,150.0 L147.5,150.0 L148.5,150.0 L149.5,150.0 L150.5,150.0 L151.5,150.0 L152.5,150.0 L153.5,150.0 L154.5,150.0 L155.5,150.0 L156.5,150.0 L157.5,150.0 L158.5,150.0 L159.5,150.0 L160.5,150.0 L161.5,150.0 L162.5,150.0 L163.5,150.0 L164.5,150.0 L165.5,150.0 L166.5,150.0 L167.5,149.9 L168.5,149.9 L169.5,149.8 L170.5,149.7 L171.5,149.6 L172.5,149.5 L173.5,149.4 L174.5,149.3 L175.5,149.1 L176.5,148.9 L177.5,148.7 L178.5,148.3 L179.5,147.7 L180.5,147.1 L181.5,146.3 L182.5,145.4 L183.5,144.3 L184.5,142.5 L185.5,140.0 L186.5,137.1 L187.5,133.6 L188.5,129.1 L189.5,124.3 L190.5,119.7 L191.5,115.1 L192.5,110.6 L193.5,106.3 L194.5,102.3 L195.5,98.2 L196.5,94.8 L197.5,92.5 L198.5,90.6 L199.5,89.0 L200.5,87.9 L201.5,87.5 L202.5,87.7 L203.5,88.1 L204.5,88.7 L205.5,89.5 L206.5,90.5 L207.5,92.3 L208.5,94.5 L209.5,96.9 L210.5,99.0 L211.5,101.0 L212.5,103.1 L213.5,105.0 L214.5,106.5 L215.5,107.8 L216.5,108.9 L217.5,109.9 L218.5,110.6 L219.5,111.0 L220.5,111.2 L221.5,111.4 L222.5,111.5 L223.5,111.3 L224.5,110.7 L225.5,109.9 L226.5,109.0 L227.5,107.9 L228.5,106.5 L229.5,104.7 L230.5,102.7 L231.5,100.7 L232.5,98.7 L233.5,96.5 L234.5,94.1 L235.5,92.0 L236.5,90.6 L237.5,89.6 L238.5,88.7 L239.5,88.0 L240.5,87.6 L241.5,87.7 L242.5,88.5 L243.5,89.7 L244.5,91.1 L245.5,92.7 L246.5,94.9 L247.5,97.7 L248.5,100.9 L249.5,104.2 L250.5,107.7 L251.5,111.7 L252.5,115.9 L253.5,120.0 L254.5,123.8 L255.5,127.5 L256.5,131.1 L257.5,134.4 L258.5,137.0 L259.5,139.3 L260.5,141.4 L261.5,143.2 L262.5,144.8 L263.5,145.9 L264.5,146.8 L265.5,147.5 L266.5,148.2 L267.5,148.8 L268.5,149.2 L269.5,149.5 L270.5,149.8 L271.5,150.0 L272.5,150.2 L273.5,150.4 L274.5,150.4" fill="none" stroke="#008000" stroke-width="1.6" stroke-linejoin="round" />
<path d="M48.5,149.4 L49.5,149.8 L50.5,149.2 L51.5,149.5 L52.5,149.2 L53.5,150.2 L54.5,149.6 L55.5,149.3 L56.5,149.5 L57.5,149.6 L58.5,150.0 L59.5,149.0 L60.5,149.3 L61.5,149.6 L62.5,150.9 L63.5,150.2 L64.5,149.7 L65.5,150.1 L66.5,150.7 L67.5,149.7 L68.5,149.6 L69.5,150.3 L70.5,150.0 L71.5,150.1 L72.5,149.6 L73.5,150.7 L74.5,150.6 L75.5,150.1 L76.5,150.1 L77.5,148.9 L78.5,150.1 L79.5,149.8 L80.5,150.0 L81.5,150.2 L82.5,149.7 L83.5,149.1 L84.5,150.0 L85.5,149.5 L86.5,149.7 L87.5,149.6 L88.5,149.7 L89.5,148.8 L90.5,150.4 L91.5,150.0 L92.5,150.4 L93.5,150.8 L94.5,149.9 L95.5,149.1 L96.5,149.5 L97.5,149.4 L98.5,149.7 L99.5,149.9 L100.5,149.0 L101.5,150.1 L102.5,149.2 L103.5,150.0 L104.5,149.8 L105.5,149.8 L106.5,149.9 L107.5,149.7 L108.5,149.6 L109.5,149.1 L110.5,149.9 L111.5,150.7 L112.5,150.8 L113.5,150.5 L114.5,150.2 L115.5,149.6 L116.5,150.5 L117.5,149.9 L118.5,149.8 L119.5,149.7 L120.5,149.9 L121.5,149.7 L122.5,149.8 L123.5,149.4 L124.5,149.7 L125.5,150.9 L126.5,149.8 L127.5,149.7 L128.5,150.1 L129.5,150.2 L130.5,149.3 L131.5,149.7 L132.5,150.2 L133.5,149.9 L134.5,149.9 L135.5,150.5 L136.5,149.5 L137.5,149.8 L138.5,149.6 L139.5,150.5 L140.5,148.9 L141.5,149.5 L142.5,149.5 L143.5,150.1 L144.5,150.0 L145.5,150.4 L146.5,149.0 L147.5,150.1 L148.5,149.6 L149.5,149.4 L150.5,149.9 L151.5,149.3 L152.5,148.7 L153.5,149.5 L154.5,148.9 L155.5,149.3 L156.5,149.7 L157.5,149.6 L158.5,150.1 L159.5,149.2 L160.5,148.6 L161.5,148.8 L162.5,148.6 L163.5,148.4 L164.5,148.9 L165.5,148.3 L166.5,147.4 L167.5,148.4 L168.5,147.8 L169.5,147.6 L170.5,147.1 L171.5,146.8 L172.5,146.1 L173.5,146.0 L174.5,145.1 L175.5,144.4 L176.5,143.8 L177.5,142.3 L178.5,142.2 L179.5,141.4 L180.5,140.7 L181.5,139.0 L182.5,139.3 L183.5,137.3 L184.5,135.1 L185.5,132.8 L186.5,131.1 L187.5,128.3 L188.5,124.6 L189.5,121.1 L190.5,117.0 L191.5,113.5 L192.5,108.8 L193.5,105.2 L194.5,102.0 L195.5,99.1 L196.5,94.3 L197.5,92.3 L198.5,90.2 L199.5,89.3 L200.5,87.2 L201.5,87.1 L202.5,87.5 L203.5,87.7 L204.5,88.6 L205.5,89.9 L206.5,90.4 L207.5,92.7 L208.5,95.6 L209.5,98.3 L210.5,100.4 L211.5,101.9 L212.5,104.6 L213.5,107.2 L214.5,108.8 L215.5,109.8 L216.5,110.7 L217.5,112.5 L218.5,112.7 L219.5,112.9 L220.5,113.4 L221.5,114.7 L222.5,114.2 L223.5,114.4 L224.5,112.9 L225.5,112.6 L226.5,110.8 L227.5,109.8 L228.5,109.4 L229.5,106.7 L230.5,104.1 L231.5,102.2 L232.5,100.3 L233.5,98.3 L234.5,95.1 L235.5,92.3 L236.5,91.3 L237.5,90.1 L238.5,88.9 L239.5,88.5 L240.5,87.5 L241.5,87.8 L242.5,87.7 L243.5,89.9 L244.5,92.0 L245.5,93.1 L246.5,95.1 L247.5,97.8 L248.5,101.7 L249.5,103.8 L250.5,107.7 L251.5,112.0 L252.5,116.3 L253.5,119.8 L254.5,123.8 L255.5,127.2 L256.5,130.9 L257.5,133.8 L258.5,135.8 L259.5,138.5 L260.5,140.8 L261.5,141.7 L262.5,143.4 L263.5,144.9 L264.5,144.9 L265.5,146.1 L266.5,146.1 L267.5,147.6 L268.5,148.6 L269.5,148.9 L270.5,148.4 L271.5,149.2 L272.5,149.3 L273.5,149.7 L274.5,150.7" fill="none" stroke="#000" stroke-width="2.0" stroke-linejoin="round" />
<path d="M48.5,149.7 L49.5,149.7 L50.5,149.7 L51.5,149.7 L52.5,149.7 L53.5,149.7 L54.5,149.7 L55.5,149.7 L56.5,149.7 L57.5,149.7 L58.5,149.7 L59.5,149.7 L60.5,149.7 L61.5,149.7 L62.5,149.7 L63.5,149.7 L64.5,149.7 L65.5,149.7 L66.5,149.7 L67.5,149.7 L68.5,149.7 L69.5,149.7 L70.5,149.7 L71.5,149.7 L72.5,149.7 L73.5,149.7 L74.5,149.7 L75.5,149.7 L76.5,149.7 L77.5,149.7 L78.5,149.7 L79.5,149.7 L80.5,149.7 L81.5,149.7 L82.5,149.7 L83.5,149.7 L84.5,149.7 L85.5,149.7 L86.5,149.7 L87.5,149.7 L88.5,149.7 L89.5,149.7 L90.5,149.7 L91.5,149.7 L92.5,149.7 L93.5,149.7 L94.5,149.7 L95.5,149.7 L96.5,149.7 L97.5,149.7 L98.5,149.7 L99.5,149.7 L100.5,149.7 L101.5,149.7 L102.5,149.7 L103.5,149.7 L104.5,149.7 L105.5,149.7 L106.5,149.7 L107.5,149.7 L108.5,149.7 L109.5,149.7 L110.5,149.7 L111.5,149.7 L112.5,149.7 L113.5,149.7 L114.5,149.7 L115.5,149.7 L116.5,149.7 L117.5,149.7 L118.5,149.7 L119.5,149.7 L120.5,149.7 L121.5,149.7 L122.5,149.7 L123.5,149.7 L124.5,149.7 L125.5,149.7 L126.5,149.7 L127.5,149.7 L128.5,149.7 L129.5,149.7 L130.5,149.7 L131.5,149.7 L132.5,149.7 L133.5,149.7 L134.5,149.7 L135.5,149.7 L136.5,149.7 L137.5,149.7 L138.5,149.7 L139.5,149.7 L140.5,149.7 L141.5,149.7 L142.5,149.7 L143.5,149.7 L144.5,149.7 L145.5,149.7 L146.5,149.7 L147.5,149.7 L148.5,149.7 L149.5,149.7 L150.5,149.7 L151.5,149.7 L152.5,149.7 L153.5,149.7 L154.5,149.7 L155.5,149.7 L156.5,149.7 L157.5,149.7 L158.5,149.7 L159.5,149.7 L160.5,149.7 L161.5,149.7 L162.5,149.7 L163.5,149.7 L164.5,149.7 L165.5,149.7 L166.5,149.7 L167.5,149.6 L168.5,149.5 L169.5,149.5 L170.5,149.4 L171.5,149.3 L172.5,149.1 L173.5,149.0 L174.5,148.8 L175.5,148.7 L176.5,148.4 L177.5,148.1 L178.5,147.6 L179.5,146.9 L180.5,146.2 L181.5,145.3 L182.5,144.3 L183.5,142.7 L184.5,140.3 L185.5,137.4 L186.5,134.1 L187.5,129.8 L188.5,124.9 L189.5,120.3 L190.5,115.7 L191.5,111.2 L192.5,106.8 L193.5,102.8 L194.5,98.7 L195.5,95.1 L196.5,92.6 L197.5,90.7 L198.5,89.0 L199.5,87.8 L200.5,87.2 L201.5,87.2 L202.5,87.2 L203.5,87.4 L204.5,87.9 L205.5,88.6 L206.5,89.3 L207.5,90.5 L208.5,92.4 L209.5,94.7 L210.5,97.0 L211.5,99.1 L212.5,101.1 L213.5,103.2 L214.5,105.0 L215.5,106.5 L216.5,107.7 L217.5,108.8 L218.5,109.8 L219.5,110.4 L220.5,110.7 L221.5,111.0 L222.5,111.1 L223.5,110.6 L224.5,109.8 L225.5,108.9 L226.5,107.9 L227.5,106.5 L228.5,104.7 L229.5,102.8 L230.5,100.8 L231.5,98.8 L232.5,96.6 L233.5,94.3 L234.5,92.1 L235.5,90.5 L236.5,89.5 L237.5,88.6 L238.5,87.8 L239.5,87.4 L240.5,87.3 L241.5,87.3 L242.5,87.5 L243.5,88.4 L244.5,89.6 L245.5,91.1 L246.5,92.8 L247.5,95.1 L248.5,98.0 L249.5,101.2 L250.5,104.5 L251.5,108.2 L252.5,112.3 L253.5,116.5 L254.5,120.5 L255.5,124.2 L256.5,127.9 L257.5,131.5 L258.5,134.6 L259.5,137.1 L260.5,139.4 L261.5,141.4 L262.5,143.2 L263.5,144.7 L264.5,145.8 L265.5,146.6 L266.5,147.4 L267.5,148.0 L268.5,148.6 L269.5,149.0 L270.5,149.3 L271.5,149.5 L272.5,149.8 L273.5,150.0 L274.5,150.1 L274.5,150.7 L273.5,150.7 L272.5,150.6 L271.5,150.5 L270.5,150.3 L269.5,150.1 L268.5,149.8 L267.5,149.4 L266.5,149.0 L265.5,148.4 L264.5,147.7 L263.5,146.9 L262.5,146.0 L261.5,144.8 L260.5,143.2 L259.5,141.3 L258.5,139.1 L257.5,136.8 L256.5,134.1 L255.5,130.7 L254.5,127.1 L253.5,123.3 L252.5,119.5 L251.5,115.4 L250.5,111.2 L249.5,107.3 L248.5,103.8 L247.5,100.5 L246.5,97.4 L245.5,94.7 L244.5,92.7 L243.5,91.1 L242.5,89.7 L241.5,88.6 L240.5,88.2 L239.5,88.8 L238.5,89.7 L237.5,90.7 L236.5,92.0 L235.5,94.0 L234.5,96.3 L233.5,98.6 L232.5,100.6 L231.5,102.6 L230.5,104.6 L229.5,106.4 L228.5,108.0 L227.5,109.1 L226.5,110.0 L225.5,110.9 L224.5,111.5 L223.5,111.8 L222.5,111.8 L221.5,111.8 L220.5,111.7 L219.5,111.5 L218.5,111.2 L217.5,110.8 L216.5,110.0 L215.5,109.0 L214.5,107.8 L213.5,106.6 L212.5,104.9 L211.5,103.0 L210.5,100.9 L209.5,98.9 L208.5,96.7 L207.5,94.4 L206.5,92.2 L205.5,90.5 L204.5,89.6 L203.5,88.9 L202.5,88.3 L201.5,88.1 L200.5,89.1 L199.5,90.6 L198.5,92.4 L197.5,94.6 L196.5,97.8 L195.5,101.7 L194.5,105.8 L193.5,110.0 L192.5,114.5 L191.5,119.1 L190.5,123.6 L189.5,128.4 L188.5,133.1 L187.5,136.8 L186.5,139.8 L185.5,142.4 L184.5,144.4 L183.5,145.5 L182.5,146.4 L181.5,147.2 L180.5,147.9 L179.5,148.5 L178.5,148.9 L177.5,149.2 L176.5,149.4 L175.5,149.5 L174.5,149.7 L173.5,149.8 L172.5,149.9 L171.5,150.0 L170.5,150.1 L169.5,150.2 L168.5,150.2 L167.5,150.3 L166.5,150.3 L165.5,150.3 L164.5,150.3 L163.5,150.3 L162.5,150.3 L161.5,150.3 L160.5,150.3 L159.5,150.3 L158.5,150.3 L157.5,150.3 L156.5,150.3 L155.5,150.3 L154.5,150.3 L153.5,150.3 L152.5,150.3 L151.5,150.3 L150.5,150.3 L149.5,150.3 L148.5,150.3 L147.5,150.3 L146.5,150.3 L145.5,150.3 L144.5,150.3 L143.5,150.3 L142.5,150.3 L141.5,150.3 L140.5,150.3 L139.5,150.3 L138.5,150.3 L137.5,150.3 L136.5,150.3 L135.5,150.3 L134.5,150.3 L133.5,150.3 L132.5,150.3 L131.5,150.3 L130.5,150.3 L129.5,150.3 L128.5,150.3 L127.5,150.3 L126.5,150.3 L125.5,150.3 L124.5,150.3 L123.5,150.3 L122.5,150.3 L121.5,150.3 L120.5,150.3 L119.5,150.3 L118.5,150.3 L117.5,150.3 L116.5,150.3 L115.5,150.3 L114.5,150.3 L113.5,150.3 L112.5,150.3 L111.5,150.3 L110.5,150.3 L109.5,150.3 L108.5,150.3 L107.5,150.3 L106.5,150.3 L105.5,150.3 L104.5,150.3 L103.5,150.3 L102.5,150.3 L101.5,150.3 L100.5,150.3 L99.5,150.3 L98.5,150.3 L97.5,150.3 L96.5,150.3 L95.5,150.3 L94.5,150.3 L93.5,150.3 L92.5,150.3 L91.5,150.3 L90.5,150.3 L89.5,150.3 L88.5,150.3 L87.5,150.3 L86.5,150.3 L85.5,150.3 L84.5,150.3 L83.5,150.3 L82.5,150.3 L81.5,150.3 L80.5,150.3 L79.5,150.3 L78.5,150.3 L77.5,150.3 L76.5,150.3 L75.5,150.3 L74.5,150.3 L73.5,150.3 L72.5,150.3 L71.5,150.3 L70.5,150.3 L69.5,150.3 L68.5,150.3 L67.5,150.3 L66.5,150.3 L65.5,150.3 L64.5,150.3 L63.5,150.3 L62.5,150.3 L61.5,150.3 L60.5,150.3 L59.5,150.3 L58.5,150.3 L57.5,150.3 L56.5,150.3 L55.5,150.3 L54.5,150.3 L53.5,150.3 L52.5,150.3 L51.5,150.3 L50.5,150.3 L49.5,150.3 L48.5,150.3 Z" fill="#2ca02c" stroke="none" fill-opacity="0.55"/>
</g>
<line x1="161.2" y1="155.59" x2="161.2" y2="82.25" stroke="#008000" stroke-width="3.5" stroke-dasharray="3.4 5.5"/>
<rect x="48.50" y="82.25" width="226.00" height="73.34" stroke="#222" stroke-width="1.0" fill="none" />
<text transform="translate(44.85,141.32) rotate(-90) scale(0.9800,1)" font-size="14.69" font-family='"Liberation Sans", sans-serif' fill="#000">Fiber 6</text>
<text transform="translate(64.90,100.71) scale(0.9376,1)" font-size="13.94" font-family='"Liberation Sans", sans-serif' fill="#000" font-style="italic">σ</text>
<text transform="translate(78.60,98.15) scale(1.6594,1)" font-size="9.18" font-family='"Liberation Sans", sans-serif' fill="#000">=</text>
<text transform="translate(93.70,100.72) scale(1.1405,1)" font-size="12.57" font-family='"Liberation Sans", sans-serif' fill="#000">0.02</text>
<g clip-path="url(#ca2)">
<path d="M48.5,216.6 L49.5,216.5 L50.5,216.5 L51.5,216.7 L52.5,216.3 L53.5,216.2 L54.5,216.4 L55.5,215.9 L56.5,215.9 L57.5,216.3 L58.5,216.2 L59.5,215.9 L60.5,215.9 L61.5,216.3 L62.5,216.4 L63.5,216.1 L64.5,216.3 L65.5,216.2 L66.5,216.0 L67.5,216.7 L68.5,216.5 L69.5,216.1 L70.5,216.5 L71.5,216.5 L72.5,216.2 L73.5,216.3 L74.5,216.7 L75.5,216.1 L76.5,215.6 L77.5,215.9 L78.5,215.8 L79.5,215.8 L80.5,215.9 L81.5,216.2 L82.5,216.2 L83.5,216.1 L84.5,216.5 L85.5,216.2 L86.5,216.2 L87.5,216.8 L88.5,216.8 L89.5,216.2 L90.5,216.1 L91.5,216.0 L92.5,216.1 L93.5,216.6 L94.5,216.3 L95.5,216.0 L96.5,216.5 L97.5,216.4 L98.5,216.2 L99.5,216.0 L100.5,215.8 L101.5,215.9 L102.5,216.6 L103.5,216.7 L104.5,216.0 L105.5,215.9 L106.5,216.0 L107.5,216.3 L108.5,216.4 L109.5,216.7 L110.5,216.7 L111.5,216.6 L112.5,216.6 L113.5,216.3 L114.5,215.9 L115.5,215.7 L116.5,216.0 L117.5,216.0 L118.5,215.5 L119.5,215.7 L120.5,216.1 L121.5,215.8 L122.5,215.8 L123.5,215.9 L124.5,216.0 L125.5,215.7 L126.5,215.4 L127.5,215.8 L128.5,216.0 L129.5,215.8 L130.5,215.6 L131.5,215.5 L132.5,215.6 L133.5,216.0 L134.5,215.8 L135.5,215.8 L136.5,216.2 L137.5,215.7 L138.5,215.7 L139.5,215.4 L140.5,214.7 L141.5,214.7 L142.5,215.0 L143.5,215.1 L144.5,215.1 L145.5,215.1 L146.5,214.6 L147.5,214.7 L148.5,214.8 L149.5,214.4 L150.5,214.6 L151.5,214.4 L152.5,214.0 L153.5,214.0 L154.5,214.2 L155.5,214.4 L156.5,214.4 L157.5,213.9 L158.5,213.4 L159.5,213.3 L160.5,213.5 L161.5,213.1 L162.5,213.1 L163.5,213.3 L164.5,212.7 L165.5,212.6 L166.5,212.8 L167.5,212.2 L168.5,211.2 L169.5,210.0 L170.5,208.8 L171.5,207.8 L172.5,205.9 L173.5,204.2 L174.5,202.5 L175.5,200.4 L176.5,198.5 L177.5,197.0 L178.5,196.0 L179.5,194.5 L180.5,193.2 L181.5,192.3 L182.5,191.0 L183.5,189.2 L184.5,187.9 L185.5,187.4 L186.5,186.1 L187.5,184.9 L188.5,183.3 L189.5,182.4 L190.5,181.8 L191.5,180.9 L192.5,179.6 L193.5,178.7 L194.5,178.1 L195.5,177.1 L196.5,175.8 L197.5,174.1 L198.5,173.3 L199.5,171.6 L200.5,169.3 L201.5,167.9 L202.5,166.6 L203.5,165.8 L204.5,165.3 L205.5,163.8 L206.5,162.0 L207.5,161.7 L208.5,161.7 L209.5,161.0 L210.5,160.4 L211.5,159.5 L212.5,159.0 L213.5,159.1 L214.5,159.2 L215.5,160.4 L216.5,161.3 L217.5,162.3 L218.5,163.5 L219.5,163.9 L220.5,165.4 L221.5,167.4 L222.5,168.5 L223.5,168.9 L224.5,169.9 L225.5,171.5 L226.5,172.3 L227.5,172.7 L228.5,174.1 L229.5,175.2 L230.5,175.7 L231.5,176.5 L232.5,177.5 L233.5,178.5 L234.5,179.4 L235.5,180.2 L236.5,180.8 L237.5,180.5 L238.5,180.8 L239.5,181.8 L240.5,182.2 L241.5,182.7 L242.5,183.1 L243.5,183.3 L244.5,184.5 L245.5,185.3 L246.5,185.5 L247.5,187.0 L248.5,188.5 L249.5,189.5 L250.5,190.7 L251.5,191.9 L252.5,193.4 L253.5,195.1 L254.5,197.2 L255.5,198.4 L256.5,200.3 L257.5,202.3 L258.5,203.4 L259.5,205.4 L260.5,207.1 L261.5,208.0 L262.5,209.8 L263.5,211.2 L264.5,211.7 L265.5,212.8 L266.5,213.8 L267.5,214.3 L268.5,214.8 L269.5,215.2 L270.5,215.7 L271.5,216.2 L272.5,216.2 L273.5,217.3 L274.5,217.7" fill="none" stroke="#b9b9b9" stroke-width="3.4" stroke-linejoin="round" />
<path d="M48.5,225.2 L49.5,225.8 L50.5,225.8 L51.5,225.1 L52.5,225.2 L53.5,225.1 L54.5,225.2 L55.5,225.8 L56.5,225.4 L57.5,224.9 L58.5,225.1 L59.5,225.2 L60.5,225.0 L61.5,225.1 L62.5,224.8 L63.5,224.6 L64.5,225.0 L65.5,225.0 L66.5,225.2 L67.5,224.9 L68.5,225.0 L69.5,225.3 L70.5,225.0 L71.5,224.7 L72.5,224.5 L73.5,225.0 L74.5,225.0 L75.5,224.9 L76.5,225.4 L77.5,225.7 L78.5,225.8 L79.5,225.5 L80.5,224.8 L81.5,225.1 L82.5,225.5 L83.5,225.5 L84.5,225.4 L85.5,225.4 L86.5,225.6 L87.5,225.5 L88.5,225.4 L89.5,225.3 L90.5,225.3 L91.5,225.2 L92.5,225.4 L93.5,225.2 L94.5,225.4 L95.5,225.5 L96.5,225.3 L97.5,225.3 L98.5,225.0 L99.5,225.5 L100.5,225.5 L101.5,224.6 L102.5,224.5 L103.5,224.8 L104.5,225.5 L105.5,225.6 L106.5,225.3 L107.5,225.0 L108.5,224.8 L109.5,225.2 L110.5,225.6 L111.5,225.2 L112.5,224.9 L113.5,225.1 L114.5,224.7 L115.5,224.6 L116.5,224.8 L117.5,224.2 L118.5,224.4 L119.5,225.1 L120.5,224.8 L121.5,224.4 L122.5,224.8 L123.5,225.2 L124.5,225.1 L125.5,225.3 L126.5,224.9 L127.5,224.8 L128.5,224.8 L129.5,224.6 L130.5,224.6 L131.5,224.6 L132.5,224.9 L133.5,224.9 L134.5,224.5 L135.5,224.4 L136.5,224.5 L137.5,224.3 L138.5,224.0 L139.5,224.2 L140.5,224.1 L141.5,224.1 L142.5,224.0 L143.5,224.5 L144.5,224.9 L145.5,224.4 L146.5,224.0 L147.5,224.4 L148.5,224.4 L149.5,223.8 L150.5,223.7 L151.5,223.7 L152.5,223.9 L153.5,223.7 L154.5,223.7 L155.5,223.4 L156.5,222.9 L157.5,222.7 L158.5,222.8 L159.5,222.9 L160.5,222.3 L161.5,222.5 L162.5,222.7 L163.5,222.0 L164.5,221.4 L165.5,221.1 L166.5,220.9 L167.5,220.6 L168.5,219.5 L169.5,218.2 L170.5,217.0 L171.5,215.7 L172.5,214.4 L173.5,213.2 L174.5,210.8 L175.5,208.6 L176.5,207.4 L177.5,206.1 L178.5,204.6 L179.5,203.1 L180.5,201.8 L181.5,200.8 L182.5,199.9 L183.5,198.4 L184.5,197.3 L185.5,196.1 L186.5,194.5 L187.5,193.6 L188.5,192.9 L189.5,191.7 L190.5,190.8 L191.5,190.1 L192.5,188.7 L193.5,187.3 L194.5,187.0 L195.5,186.5 L196.5,184.8 L197.5,182.8 L198.5,181.3 L199.5,179.8 L200.5,177.9 L201.5,176.6 L202.5,175.4 L203.5,173.9 L204.5,173.3 L205.5,172.4 L206.5,171.2 L207.5,170.8 L208.5,170.3 L209.5,169.4 L210.5,168.6 L211.5,168.1 L212.5,168.3 L213.5,168.9 L214.5,168.6 L215.5,169.0 L216.5,170.2 L217.5,171.0 L218.5,172.3 L219.5,173.7 L220.5,174.4 L221.5,175.4 L222.5,176.4 L223.5,177.6 L224.5,179.0 L225.5,180.6 L226.5,181.6 L227.5,181.4 L228.5,182.1 L229.5,183.6 L230.5,184.4 L231.5,185.1 L232.5,186.3 L233.5,187.4 L234.5,188.1 L235.5,188.4 L236.5,189.1 L237.5,189.6 L238.5,189.6 L239.5,189.8 L240.5,190.1 L241.5,191.1 L242.5,191.5 L243.5,192.0 L244.5,193.4 L245.5,194.2 L246.5,195.1 L247.5,195.9 L248.5,197.3 L249.5,199.1 L250.5,200.2 L251.5,201.0 L252.5,202.1 L253.5,204.3 L254.5,206.6 L255.5,208.2 L256.5,209.8 L257.5,211.3 L258.5,212.6 L259.5,214.2 L260.5,215.9 L261.5,216.9 L262.5,218.4 L263.5,220.3 L264.5,220.7 L265.5,220.8 L266.5,221.9 L267.5,222.8 L268.5,222.7 L269.5,223.6 L270.5,224.7 L271.5,224.8 L272.5,225.7 L273.5,226.2 L274.5,225.8" fill="none" stroke="#b9b9b9" stroke-width="3.4" stroke-linejoin="round" />
<path d="M48.5,220.8 L49.5,220.8 L50.5,220.8 L51.5,220.8 L52.5,220.8 L53.5,220.8 L54.5,220.8 L55.5,220.8 L56.5,220.8 L57.5,220.8 L58.5,220.8 L59.5,220.8 L60.5,220.8 L61.5,220.8 L62.5,220.8 L63.5,220.8 L64.5,220.8 L65.5,220.8 L66.5,220.8 L67.5,220.8 L68.5,220.8 L69.5,220.8 L70.5,220.8 L71.5,220.8 L72.5,220.8 L73.5,220.8 L74.5,220.8 L75.5,220.8 L76.5,220.8 L77.5,220.8 L78.5,220.8 L79.5,220.8 L80.5,220.8 L81.5,220.8 L82.5,220.8 L83.5,220.8 L84.5,220.8 L85.5,220.8 L86.5,220.8 L87.5,220.8 L88.5,220.8 L89.5,220.8 L90.5,220.8 L91.5,220.8 L92.5,220.8 L93.5,220.8 L94.5,220.8 L95.5,220.8 L96.5,220.8 L97.5,220.8 L98.5,220.8 L99.5,220.7 L100.5,220.7 L101.5,220.7 L102.5,220.7 L103.5,220.7 L104.5,220.7 L105.5,220.7 L106.5,220.7 L107.5,220.7 L108.5,220.7 L109.5,220.7 L110.5,220.7 L111.5,220.7 L112.5,220.7 L113.5,220.7 L114.5,220.7 L115.5,220.7 L116.5,220.7 L117.5,220.7 L118.5,220.7 L119.5,220.7 L120.5,220.7 L121.5,220.7 L122.5,220.7 L123.5,220.7 L124.5,220.7 L125.5,220.7 L126.5,220.7 L127.5,220.7 L128.5,220.7 L129.5,220.7 L130.5,220.7 L131.5,220.7 L132.5,220.7 L133.5,220.7 L134.5,220.7 L135.5,220.7 L136.5,220.6 L137.5,220.6 L138.5,220.6 L139.5,220.6 L140.5,220.6 L141.5,220.6 L142.5,220.6 L143.5,220.6 L144.5,220.6 L145.5,220.6 L146.5,220.6 L147.5,220.6 L148.5,220.6 L149.5,220.6 L150.5,220.6 L151.5,220.6 L152.5,220.6 L153.5,220.6 L154.5,220.6 L155.5,220.6 L156.5,220.6 L157.5,220.6 L158.5,220.6 L159.5,220.6 L160.5,220.6 L161.5,220.6 L162.5,220.5 L163.5,220.5 L164.5,220.5 L165.5,220.5 L166.5,220.5 L167.5,220.5 L168.5,220.5 L169.5,220.5 L170.5,220.5 L171.5,220.5 L172.5,220.4 L173.5,220.4 L174.5,220.4 L175.5,220.4 L176.5,220.4 L177.5,220.4 L178.5,220.3 L179.5,220.3 L180.5,220.3 L181.5,220.3 L182.5,220.2 L183.5,220.2 L184.5,219.8 L185.5,219.2 L186.5,218.4 L187.5,217.4 L188.5,216.1 L189.5,214.7 L190.5,213.1 L191.5,211.0 L192.5,208.5 L193.5,205.8 L194.5,203.1 L195.5,200.2 L196.5,196.9 L197.5,193.6 L198.5,190.3 L199.5,187.2 L200.5,184.2 L201.5,181.2 L202.5,178.3 L203.5,175.8 L204.5,173.5 L205.5,171.3 L206.5,169.3 L207.5,167.6 L208.5,166.3 L209.5,165.4 L210.5,164.5 L211.5,163.9 L212.5,163.7 L213.5,163.9 L214.5,164.5 L215.5,165.3 L216.5,166.3 L217.5,167.3 L218.5,168.4 L219.5,169.4 L220.5,170.5 L221.5,171.8 L222.5,173.1 L223.5,174.5 L224.5,175.8 L225.5,177.1 L226.5,178.2 L227.5,179.2 L228.5,180.3 L229.5,181.2 L230.5,182.2 L231.5,183.1 L232.5,183.9 L233.5,184.6 L234.5,185.1 L235.5,185.6 L236.5,185.9 L237.5,186.3 L238.5,186.6 L239.5,186.9 L240.5,187.3 L241.5,187.8 L242.5,188.3 L243.5,188.9 L244.5,189.5 L245.5,190.2 L246.5,191.0 L247.5,191.9 L248.5,192.8 L249.5,194.0 L250.5,195.3 L251.5,196.8 L252.5,198.4 L253.5,200.0 L254.5,201.5 L255.5,202.9 L256.5,204.4 L257.5,206.0 L258.5,207.5 L259.5,208.9 L260.5,210.3 L261.5,211.4 L262.5,212.4 L263.5,213.4 L264.5,214.4 L265.5,215.2 L266.5,216.0 L267.5,216.6 L268.5,217.2 L269.5,217.7 L270.5,218.1 L271.5,218.6 L272.5,218.9 L273.5,219.2 L274.5,219.4" fill="none" stroke="#008000" stroke-width="1.6" stroke-linejoin="round" />
<path d="M48.5,220.3 L49.5,220.2 L50.5,221.0 L51.5,220.9 L52.5,220.2 L53.5,220.4 L54.5,221.0 L55.5,221.1 L56.5,220.5 L57.5,221.1 L58.5,221.0 L59.5,220.0 L60.5,220.6 L61.5,221.0 L62.5,220.5 L63.5,219.8 L64.5,220.7 L65.5,221.1 L66.5,221.5 L67.5,219.8 L68.5,221.9 L69.5,220.3 L70.5,221.2 L71.5,221.3 L72.5,221.2 L73.5,220.8 L74.5,220.2 L75.5,221.0 L76.5,220.4 L77.5,219.6 L78.5,222.0 L79.5,221.1 L80.5,221.6 L81.5,220.3 L82.5,221.4 L83.5,221.4 L84.5,221.4 L85.5,220.7 L86.5,220.2 L87.5,220.6 L88.5,219.7 L89.5,219.9 L90.5,220.7 L91.5,220.2 L92.5,220.6 L93.5,220.6 L94.5,221.5 L95.5,221.3 L96.5,220.6 L97.5,221.2 L98.5,220.3 L99.5,220.5 L100.5,221.1 L101.5,220.1 L102.5,220.5 L103.5,220.0 L104.5,220.7 L105.5,221.3 L106.5,220.3 L107.5,220.7 L108.5,220.2 L109.5,220.0 L110.5,220.0 L111.5,221.2 L112.5,221.6 L113.5,220.7 L114.5,220.2 L115.5,220.8 L116.5,220.3 L117.5,220.8 L118.5,220.6 L119.5,220.6 L120.5,220.7 L121.5,220.1 L122.5,220.2 L123.5,219.6 L124.5,220.2 L125.5,219.7 L126.5,220.3 L127.5,219.9 L128.5,220.3 L129.5,220.5 L130.5,219.6 L131.5,219.9 L132.5,219.8 L133.5,220.5 L134.5,220.9 L135.5,220.5 L136.5,219.9 L137.5,220.7 L138.5,219.3 L139.5,220.6 L140.5,219.6 L141.5,218.6 L142.5,221.0 L143.5,220.4 L144.5,219.2 L145.5,219.7 L146.5,219.4 L147.5,219.5 L148.5,218.7 L149.5,219.0 L150.5,219.5 L151.5,219.3 L152.5,219.6 L153.5,219.0 L154.5,219.9 L155.5,218.4 L156.5,218.7 L157.5,217.5 L158.5,217.7 L159.5,218.7 L160.5,217.6 L161.5,218.1 L162.5,217.7 L163.5,217.1 L164.5,217.2 L165.5,216.9 L166.5,216.6 L167.5,216.6 L168.5,215.6 L169.5,213.8 L170.5,212.4 L171.5,211.7 L172.5,210.0 L173.5,208.7 L174.5,207.7 L175.5,205.1 L176.5,203.1 L177.5,201.6 L178.5,199.9 L179.5,198.6 L180.5,197.3 L181.5,196.3 L182.5,195.1 L183.5,194.4 L184.5,192.7 L185.5,191.6 L186.5,190.0 L187.5,190.2 L188.5,188.5 L189.5,188.0 L190.5,186.5 L191.5,185.9 L192.5,184.2 L193.5,183.7 L194.5,183.6 L195.5,180.8 L196.5,180.7 L197.5,179.6 L198.5,177.5 L199.5,176.0 L200.5,174.6 L201.5,172.3 L202.5,171.5 L203.5,169.7 L204.5,168.7 L205.5,167.7 L206.5,167.0 L207.5,166.3 L208.5,165.8 L209.5,164.2 L210.5,165.2 L211.5,164.4 L212.5,164.0 L213.5,163.7 L214.5,164.2 L215.5,165.1 L216.5,165.8 L217.5,165.6 L218.5,167.6 L219.5,169.8 L220.5,169.0 L221.5,171.6 L222.5,172.5 L223.5,173.4 L224.5,175.1 L225.5,175.0 L226.5,176.6 L227.5,178.1 L228.5,178.3 L229.5,179.2 L230.5,180.4 L231.5,181.1 L232.5,182.9 L233.5,182.6 L234.5,184.1 L235.5,183.7 L236.5,185.0 L237.5,185.1 L238.5,184.3 L239.5,185.8 L240.5,185.8 L241.5,186.5 L242.5,188.1 L243.5,187.5 L244.5,188.4 L245.5,190.4 L246.5,190.8 L247.5,192.4 L248.5,193.0 L249.5,193.7 L250.5,195.5 L251.5,197.5 L252.5,198.8 L253.5,199.9 L254.5,201.6 L255.5,203.3 L256.5,204.8 L257.5,207.7 L258.5,208.4 L259.5,209.3 L260.5,211.1 L261.5,213.1 L262.5,214.4 L263.5,215.3 L264.5,216.0 L265.5,217.1 L266.5,217.0 L267.5,217.8 L268.5,219.4 L269.5,219.3 L270.5,220.2 L271.5,221.1 L272.5,221.2 L273.5,221.3 L274.5,222.6" fill="none" stroke="#000" stroke-width="2.0" stroke-linejoin="round" />
<path d="M48.5,220.2 L49.5,220.2 L50.5,220.2 L51.5,220.2 L52.5,220.2 L53.5,220.2 L54.5,220.2 L55.5,220.2 L56.5,220.2 L57.5,220.2 L58.5,220.2 L59.5,220.2 L60.5,220.2 L61.5,220.2 L62.5,220.2 L63.5,220.2 L64.5,220.2 L65.5,220.2 L66.5,220.2 L67.5,220.2 L68.5,220.2 L69.5,220.2 L70.5,220.2 L71.5,220.2 L72.5,220.2 L73.5,220.2 L74.5,220.2 L75.5,220.2 L76.5,220.2 L77.5,220.2 L78.5,220.2 L79.5,220.2 L80.5,220.2 L81.5,220.2 L82.5,220.2 L83.5,220.2 L84.5,220.2 L85.5,220.2 L86.5,220.2 L87.5,220.2 L88.5,220.2 L89.5,220.2 L90.5,220.2 L91.5,220.2 L92.5,220.2 L93.5,220.2 L94.5,220.2 L95.5,220.1 L96.5,220.1 L97.5,220.1 L98.5,220.1 L99.5,220.1 L100.5,220.1 L101.5,220.1 L102.5,220.1 L103.5,220.1 L104.5,220.1 L105.5,220.1 L106.5,220.1 L107.5,220.1 L108.5,220.1 L109.5,220.1 L110.5,220.1 L111.5,220.1 L112.5,220.1 L113.5,220.1 L114.5,220.1 L115.5,220.1 L116.5,220.1 L117.5,220.1 L118.5,220.1 L119.5,220.1 L120.5,220.1 L121.5,220.1 L122.5,220.1 L123.5,220.1 L124.5,220.1 L125.5,220.1 L126.5,220.1 L127.5,220.1 L128.5,220.1 L129.5,220.1 L130.5,220.1 L131.5,220.1 L132.5,220.1 L133.5,220.0 L134.5,220.0 L135.5,220.0 L136.5,220.0 L137.5,220.0 L138.5,220.0 L139.5,220.0 L140.5,220.0 L141.5,220.0 L142.5,220.0 L143.5,220.0 L144.5,220.0 L145.5,220.0 L146.5,220.0 L147.5,220.0 L148.5,220.0 L149.5,220.0 L150.5,220.0 L151.5,220.0 L152.5,220.0 L153.5,220.0 L154.5,220.0 L155.5,220.0 L156.5,220.0 L157.5,220.0 L158.5,220.0 L159.5,219.9 L160.5,219.9 L161.5,219.9 L162.5,219.9 L163.5,219.9 L164.5,219.9 L165.5,219.9 L166.5,219.9 L167.5,219.9 L168.5,219.9 L169.5,219.8 L170.5,219.8 L171.5,219.8 L172.5,219.8 L173.5,219.8 L174.5,219.7 L175.5,219.7 L176.5,219.7 L177.5,219.7 L178.5,219.6 L179.5,219.6 L180.5,219.4 L181.5,218.9 L182.5,218.2 L183.5,217.3 L184.5,216.2 L185.5,214.8 L186.5,213.3 L187.5,211.5 L188.5,209.2 L189.5,206.6 L190.5,203.9 L191.5,201.1 L192.5,198.0 L193.5,194.7 L194.5,191.3 L195.5,188.1 L196.5,185.1 L197.5,182.1 L198.5,179.1 L199.5,176.4 L200.5,174.0 L201.5,171.8 L202.5,169.7 L203.5,167.8 L204.5,166.3 L205.5,165.2 L206.5,164.3 L207.5,163.6 L208.5,163.2 L209.5,163.1 L210.5,163.1 L211.5,163.1 L212.5,163.1 L213.5,163.1 L214.5,163.1 L215.5,163.1 L216.5,163.2 L217.5,163.5 L218.5,164.2 L219.5,165.2 L220.5,166.2 L221.5,167.3 L222.5,168.3 L223.5,169.4 L224.5,170.6 L225.5,171.9 L226.5,173.2 L227.5,174.6 L228.5,175.9 L229.5,177.1 L230.5,178.1 L231.5,179.1 L232.5,180.2 L233.5,181.1 L234.5,182.0 L235.5,182.9 L236.5,183.6 L237.5,184.2 L238.5,184.7 L239.5,185.2 L240.5,185.5 L241.5,185.8 L242.5,186.2 L243.5,186.5 L244.5,186.9 L245.5,187.4 L246.5,188.0 L247.5,188.6 L248.5,189.3 L249.5,190.0 L250.5,190.8 L251.5,191.7 L252.5,192.7 L253.5,194.0 L254.5,195.4 L255.5,197.0 L256.5,198.6 L257.5,200.1 L258.5,201.6 L259.5,203.1 L260.5,204.6 L261.5,206.1 L262.5,207.6 L263.5,209.0 L264.5,210.3 L265.5,211.3 L266.5,212.3 L267.5,213.3 L268.5,214.2 L269.5,215.0 L270.5,215.7 L271.5,216.3 L272.5,216.8 L273.5,217.3 L274.5,217.8 L274.5,220.1 L273.5,220.1 L272.5,220.1 L271.5,220.1 L270.5,219.9 L269.5,219.7 L268.5,219.3 L267.5,219.0 L266.5,218.5 L265.5,218.0 L264.5,217.5 L263.5,216.9 L262.5,216.2 L261.5,215.4 L260.5,214.5 L259.5,213.5 L258.5,212.5 L257.5,211.5 L256.5,210.2 L255.5,208.8 L254.5,207.3 L253.5,205.8 L252.5,204.3 L251.5,202.8 L250.5,201.3 L249.5,199.8 L248.5,198.2 L247.5,196.6 L246.5,195.2 L245.5,193.9 L244.5,192.9 L243.5,192.0 L242.5,191.2 L241.5,190.5 L240.5,189.8 L239.5,189.2 L238.5,188.6 L237.5,188.1 L236.5,187.7 L235.5,187.4 L234.5,187.0 L233.5,186.7 L232.5,186.4 L231.5,185.9 L230.5,185.4 L229.5,184.8 L228.5,184.1 L227.5,183.2 L226.5,182.3 L225.5,181.4 L224.5,180.3 L223.5,179.3 L222.5,178.3 L221.5,177.1 L220.5,175.8 L219.5,174.4 L218.5,173.1 L217.5,171.8 L216.5,170.6 L215.5,169.5 L214.5,168.5 L213.5,167.4 L212.5,166.4 L211.5,167.5 L210.5,169.0 L209.5,170.9 L208.5,173.0 L207.5,175.2 L206.5,177.6 L205.5,180.3 L204.5,183.3 L203.5,186.3 L202.5,189.3 L201.5,192.5 L200.5,195.9 L199.5,199.2 L198.5,202.3 L197.5,205.1 L196.5,207.8 L195.5,210.4 L194.5,212.7 L193.5,214.5 L192.5,216.0 L191.5,217.4 L190.5,218.5 L189.5,219.4 L188.5,220.1 L187.5,220.6 L186.5,220.8 L185.5,220.8 L184.5,220.9 L183.5,220.9 L182.5,220.9 L181.5,220.9 L180.5,221.0 L179.5,221.0 L178.5,221.0 L177.5,221.0 L176.5,221.0 L175.5,221.1 L174.5,221.1 L173.5,221.1 L172.5,221.1 L171.5,221.1 L170.5,221.1 L169.5,221.1 L168.5,221.1 L167.5,221.1 L166.5,221.1 L165.5,221.2 L164.5,221.2 L163.5,221.2 L162.5,221.2 L161.5,221.2 L160.5,221.2 L159.5,221.2 L158.5,221.2 L157.5,221.2 L156.5,221.2 L155.5,221.2 L154.5,221.2 L153.5,221.2 L152.5,221.2 L151.5,221.2 L150.5,221.2 L149.5,221.2 L148.5,221.2 L147.5,221.2 L146.5,221.2 L145.5,221.2 L144.5,221.2 L143.5,221.2 L142.5,221.2 L141.5,221.2 L140.5,221.2 L139.5,221.3 L138.5,221.3 L137.5,221.3 L136.5,221.3 L135.5,221.3 L134.5,221.3 L133.5,221.3 L132.5,221.3 L131.5,221.3 L130.5,221.3 L129.5,221.3 L128.5,221.3 L127.5,221.3 L126.5,221.3 L125.5,221.3 L124.5,221.3 L123.5,221.3 L122.5,221.3 L121.5,221.3 L120.5,221.3 L119.5,221.3 L118.5,221.3 L117.5,221.3 L116.5,221.3 L115.5,221.3 L114.5,221.3 L113.5,221.3 L112.5,221.3 L111.5,221.3 L110.5,221.3 L109.5,221.3 L108.5,221.3 L107.5,221.3 L106.5,221.3 L105.5,221.3 L104.5,221.3 L103.5,221.3 L102.5,221.3 L101.5,221.4 L100.5,221.4 L99.5,221.4 L98.5,221.4 L97.5,221.4 L96.5,221.4 L95.5,221.4 L94.5,221.4 L93.5,221.4 L92.5,221.4 L91.5,221.4 L90.5,221.4 L89.5,221.4 L88.5,221.4 L87.5,221.4 L86.5,221.4 L85.5,221.4 L84.5,221.4 L83.5,221.4 L82.5,221.4 L81.5,221.4 L80.5,221.4 L79.5,221.4 L78.5,221.4 L77.5,221.4 L76.5,221.4 L75.5,221.4 L74.5,221.4 L73.5,221.4 L72.5,221.4 L71.5,221.4 L70.5,221.4 L69.5,221.4 L68.5,221.4 L67.5,221.4 L66.5,221.4 L65.5,221.4 L64.5,221.4 L63.5,221.4 L62.5,221.4 L61.5,221.4 L60.5,221.4 L59.5,221.4 L58.5,221.4 L57.5,221.4 L56.5,221.4 L55.5,221.4 L54.5,221.4 L53.5,221.4 L52.5,221.4 L51.5,221.4 L50.5,221.4 L49.5,221.4 L48.5,221.4 Z" fill="#2ca02c" stroke="none" fill-opacity="0.55"/>
</g>
<line x1="161.2" y1="228.94" x2="161.2" y2="155.59" stroke="#008000" stroke-width="3.5" stroke-dasharray="3.4 5.5"/>
<rect x="48.50" y="155.59" width="226.00" height="73.34" stroke="#222" stroke-width="1.0" fill="none" />
<text transform="translate(44.85,214.67) rotate(-90) scale(0.9800,1)" font-size="14.69" font-family='"Liberation Sans", sans-serif' fill="#000">Fiber 7</text>
<text transform="translate(64.90,174.05) scale(0.9376,1)" font-size="13.94" font-family='"Liberation Sans", sans-serif' fill="#000" font-style="italic">σ</text>
<text transform="translate(78.60,171.49) scale(1.6594,1)" font-size="9.18" font-family='"Liberation Sans", sans-serif' fill="#000">=</text>
<text transform="translate(93.70,174.06) scale(1.1405,1)" font-size="12.57" font-family='"Liberation Sans", sans-serif' fill="#000">0.07</text>
<g clip-path="url(#ca3)">
<path d="M48.5,289.0 L49.5,288.8 L50.5,288.6 L51.5,289.0 L52.5,289.2 L53.5,289.0 L54.5,289.2 L55.5,289.5 L56.5,289.7 L57.5,289.8 L58.5,289.5 L59.5,289.6 L60.5,289.7 L61.5,289.5 L62.5,289.4 L63.5,289.8 L64.5,290.0 L65.5,290.2 L66.5,289.6 L67.5,289.1 L68.5,289.4 L69.5,289.4 L70.5,289.4 L71.5,289.1 L72.5,289.3 L73.5,289.4 L74.5,288.9 L75.5,289.0 L76.5,289.5 L77.5,288.9 L78.5,288.8 L79.5,288.7 L80.5,288.7 L81.5,288.7 L82.5,288.2 L83.5,288.1 L84.5,288.0 L85.5,288.1 L86.5,288.2 L87.5,288.1 L88.5,287.8 L89.5,286.8 L90.5,286.9 L91.5,287.3 L92.5,287.2 L93.5,287.9 L94.5,287.8 L95.5,287.4 L96.5,287.2 L97.5,287.1 L98.5,287.0 L99.5,286.8 L100.5,286.6 L101.5,286.9 L102.5,287.1 L103.5,286.9 L104.5,286.7 L105.5,286.2 L106.5,285.8 L107.5,285.4 L108.5,285.1 L109.5,284.4 L110.5,283.5 L111.5,282.6 L112.5,282.7 L113.5,282.4 L114.5,281.5 L115.5,281.5 L116.5,281.4 L117.5,280.7 L118.5,280.0 L119.5,280.1 L120.5,280.0 L121.5,279.3 L122.5,278.9 L123.5,278.3 L124.5,277.8 L125.5,278.0 L126.5,278.3 L127.5,278.0 L128.5,277.4 L129.5,276.9 L130.5,276.9 L131.5,276.7 L132.5,276.8 L133.5,277.2 L134.5,277.5 L135.5,277.2 L136.5,276.1 L137.5,275.5 L138.5,274.6 L139.5,274.4 L140.5,275.0 L141.5,275.2 L142.5,275.1 L143.5,274.6 L144.5,273.7 L145.5,272.7 L146.5,271.8 L147.5,270.2 L148.5,268.7 L149.5,267.5 L150.5,266.8 L151.5,266.4 L152.5,265.4 L153.5,264.2 L154.5,263.7 L155.5,263.6 L156.5,263.3 L157.5,263.0 L158.5,262.7 L159.5,262.2 L160.5,261.6 L161.5,261.0 L162.5,260.0 L163.5,259.3 L164.5,258.9 L165.5,258.8 L166.5,258.4 L167.5,257.8 L168.5,257.2 L169.5,255.7 L170.5,254.6 L171.5,253.2 L172.5,251.4 L173.5,249.9 L174.5,247.4 L175.5,245.2 L176.5,243.7 L177.5,241.9 L178.5,240.0 L179.5,238.8 L180.5,237.7 L181.5,236.3 L182.5,234.9 L183.5,233.7 L184.5,232.7 L185.5,232.0 L186.5,232.2 L187.5,232.4 L188.5,232.4 L189.5,232.4 L190.5,233.0 L191.5,233.7 L192.5,234.0 L193.5,234.3 L194.5,235.2 L195.5,236.8 L196.5,237.4 L197.5,237.6 L198.5,238.6 L199.5,238.8 L200.5,239.7 L201.5,241.1 L202.5,242.3 L203.5,243.1 L204.5,243.3 L205.5,244.0 L206.5,244.9 L207.5,245.4 L208.5,245.8 L209.5,246.0 L210.5,246.0 L211.5,246.4 L212.5,246.7 L213.5,246.3 L214.5,245.4 L215.5,245.1 L216.5,244.8 L217.5,244.4 L218.5,243.9 L219.5,242.8 L220.5,241.9 L221.5,241.6 L222.5,241.5 L223.5,241.7 L224.5,241.7 L225.5,241.4 L226.5,242.2 L227.5,243.7 L228.5,245.8 L229.5,248.4 L230.5,250.0 L231.5,252.2 L232.5,255.0 L233.5,257.1 L234.5,259.6 L235.5,262.2 L236.5,263.5 L237.5,265.4 L238.5,267.9 L239.5,269.7 L240.5,271.6 L241.5,273.0 L242.5,274.2 L243.5,275.7 L244.5,277.0 L245.5,278.5 L246.5,279.5 L247.5,280.3 L248.5,281.8 L249.5,283.0 L250.5,283.8 L251.5,284.1 L252.5,284.4 L253.5,285.2 L254.5,285.9 L255.5,286.3 L256.5,286.9 L257.5,287.4 L258.5,287.4 L259.5,287.7 L260.5,288.0 L261.5,288.0 L262.5,288.2 L263.5,288.6 L264.5,288.4 L265.5,288.4 L266.5,288.6 L267.5,288.9 L268.5,289.2 L269.5,289.1 L270.5,289.2 L271.5,289.2 L272.5,289.4 L273.5,289.4 L274.5,288.7" fill="none" stroke="#b9b9b9" stroke-width="3.4" stroke-linejoin="round" />
<path d="M48.5,298.8 L49.5,299.0 L50.5,298.4 L51.5,298.5 L52.5,298.6 L53.5,299.2 L54.5,299.7 L55.5,298.8 L56.5,298.9 L57.5,299.2 L58.5,299.6 L59.5,299.5 L60.5,298.4 L61.5,298.7 L62.5,299.2 L63.5,299.1 L64.5,298.7 L65.5,298.9 L66.5,299.8 L67.5,299.2 L68.5,299.0 L69.5,299.3 L70.5,299.5 L71.5,299.6 L72.5,298.9 L73.5,299.0 L74.5,299.1 L75.5,298.6 L76.5,298.5 L77.5,298.5 L78.5,297.8 L79.5,298.3 L80.5,298.6 L81.5,297.9 L82.5,298.0 L83.5,297.7 L84.5,297.2 L85.5,297.3 L86.5,297.5 L87.5,297.5 L88.5,297.9 L89.5,297.6 L90.5,297.4 L91.5,297.6 L92.5,297.1 L93.5,296.9 L94.5,296.9 L95.5,297.0 L96.5,297.3 L97.5,296.9 L98.5,296.4 L99.5,296.4 L100.5,296.4 L101.5,296.5 L102.5,296.5 L103.5,296.0 L104.5,296.1 L105.5,296.3 L106.5,295.5 L107.5,295.1 L108.5,294.6 L109.5,293.6 L110.5,293.1 L111.5,292.4 L112.5,291.8 L113.5,291.5 L114.5,291.5 L115.5,291.5 L116.5,290.6 L117.5,290.3 L118.5,289.9 L119.5,289.3 L120.5,289.2 L121.5,289.0 L122.5,289.1 L123.5,288.9 L124.5,287.8 L125.5,287.9 L126.5,287.9 L127.5,287.3 L128.5,286.5 L129.5,286.6 L130.5,287.4 L131.5,287.1 L132.5,286.9 L133.5,287.0 L134.5,286.5 L135.5,286.1 L136.5,285.7 L137.5,285.2 L138.5,285.4 L139.5,285.4 L140.5,284.6 L141.5,284.3 L142.5,284.3 L143.5,283.6 L144.5,283.0 L145.5,282.1 L146.5,280.4 L147.5,279.1 L148.5,278.8 L149.5,277.6 L150.5,276.0 L151.5,275.5 L152.5,274.8 L153.5,273.8 L154.5,273.2 L155.5,273.2 L156.5,273.2 L157.5,272.7 L158.5,271.8 L159.5,271.8 L160.5,271.7 L161.5,270.7 L162.5,269.5 L163.5,269.0 L164.5,268.8 L165.5,268.5 L166.5,267.8 L167.5,267.2 L168.5,266.8 L169.5,265.5 L170.5,264.1 L171.5,262.9 L172.5,261.0 L173.5,259.2 L174.5,257.0 L175.5,255.1 L176.5,253.7 L177.5,252.0 L178.5,250.5 L179.5,248.5 L180.5,246.5 L181.5,245.6 L182.5,244.7 L183.5,244.0 L184.5,243.0 L185.5,241.7 L186.5,241.7 L187.5,241.8 L188.5,241.5 L189.5,242.7 L190.5,243.5 L191.5,243.5 L192.5,243.9 L193.5,244.8 L194.5,245.4 L195.5,246.0 L196.5,246.5 L197.5,246.6 L198.5,248.1 L199.5,249.7 L200.5,250.4 L201.5,251.0 L202.5,251.8 L203.5,252.3 L204.5,253.3 L205.5,254.4 L206.5,254.8 L207.5,255.3 L208.5,255.9 L209.5,256.3 L210.5,256.3 L211.5,255.8 L212.5,255.5 L213.5,255.9 L214.5,255.2 L215.5,254.1 L216.5,254.0 L217.5,253.8 L218.5,253.2 L219.5,251.9 L220.5,251.2 L221.5,250.9 L222.5,250.5 L223.5,251.1 L224.5,251.5 L225.5,251.9 L226.5,253.5 L227.5,254.9 L228.5,256.2 L229.5,257.9 L230.5,259.6 L231.5,261.6 L232.5,263.8 L233.5,266.0 L234.5,268.3 L235.5,270.7 L236.5,272.7 L237.5,274.5 L238.5,276.4 L239.5,278.8 L240.5,281.0 L241.5,282.8 L242.5,284.6 L243.5,285.8 L244.5,287.1 L245.5,288.1 L246.5,289.7 L247.5,291.4 L248.5,291.8 L249.5,292.1 L250.5,293.1 L251.5,293.7 L252.5,294.0 L253.5,295.2 L254.5,295.9 L255.5,296.0 L256.5,296.6 L257.5,296.8 L258.5,296.9 L259.5,297.2 L260.5,297.1 L261.5,297.4 L262.5,297.5 L263.5,298.0 L264.5,298.2 L265.5,298.3 L266.5,298.3 L267.5,298.0 L268.5,298.1 L269.5,297.7 L270.5,298.2 L271.5,298.8 L272.5,298.5 L273.5,298.7 L274.5,298.9" fill="none" stroke="#b9b9b9" stroke-width="3.4" stroke-linejoin="round" />
<path d="M48.5,292.6 L49.5,292.6 L50.5,292.6 L51.5,292.6 L52.5,292.6 L53.5,292.6 L54.5,292.6 L55.5,292.6 L56.5,292.6 L57.5,292.6 L58.5,292.6 L59.5,292.6 L60.5,292.6 L61.5,292.6 L62.5,292.6 L63.5,292.6 L64.5,292.6 L65.5,292.6 L66.5,292.6 L67.5,292.6 L68.5,292.6 L69.5,292.6 L70.5,292.6 L71.5,292.6 L72.5,292.6 L73.5,292.6 L74.5,292.6 L75.5,292.6 L76.5,292.6 L77.5,292.6 L78.5,292.6 L79.5,292.6 L80.5,292.6 L81.5,292.6 L82.5,292.6 L83.5,292.6 L84.5,292.6 L85.5,292.6 L86.5,292.6 L87.5,292.6 L88.5,292.6 L89.5,292.6 L90.5,292.6 L91.5,292.6 L92.5,292.6 L93.5,292.6 L94.5,292.6 L95.5,292.6 L96.5,292.6 L97.5,292.6 L98.5,292.6 L99.5,292.6 L100.5,292.6 L101.5,292.6 L102.5,292.6 L103.5,292.6 L104.5,292.6 L105.5,292.6 L106.5,292.6 L107.5,292.6 L108.5,292.6 L109.5,292.6 L110.5,292.6 L111.5,292.6 L112.5,292.6 L113.5,292.6 L114.5,292.6 L115.5,292.6 L116.5,292.6 L117.5,292.6 L118.5,292.6 L119.5,292.6 L120.5,292.6 L121.5,292.6 L122.5,292.6 L123.5,292.6 L124.5,292.6 L125.5,292.6 L126.5,292.6 L127.5,292.6 L128.5,292.6 L129.5,292.6 L130.5,292.6 L131.5,292.6 L132.5,292.6 L133.5,292.6 L134.5,292.6 L135.5,292.6 L136.5,292.6 L137.5,292.6 L138.5,292.6 L139.5,292.6 L140.5,292.6 L141.5,292.6 L142.5,292.6 L143.5,292.6 L144.5,292.5 L145.5,292.5 L146.5,292.5 L147.5,292.4 L148.5,292.4 L149.5,292.3 L150.5,292.2 L151.5,292.1 L152.5,292.0 L153.5,291.8 L154.5,291.6 L155.5,291.3 L156.5,290.7 L157.5,289.7 L158.5,288.5 L159.5,287.2 L160.5,285.8 L161.5,284.1 L162.5,282.2 L163.5,280.0 L164.5,277.8 L165.5,275.5 L166.5,272.9 L167.5,270.2 L168.5,267.4 L169.5,264.6 L170.5,261.9 L171.5,259.1 L172.5,256.4 L173.5,253.6 L174.5,251.1 L175.5,248.8 L176.5,246.6 L177.5,244.5 L178.5,242.6 L179.5,241.1 L180.5,240.0 L181.5,239.2 L182.5,238.4 L183.5,237.8 L184.5,237.5 L185.5,237.4 L186.5,237.4 L187.5,237.5 L188.5,237.6 L189.5,237.7 L190.5,237.8 L191.5,238.2 L192.5,238.8 L193.5,239.6 L194.5,240.5 L195.5,241.5 L196.5,242.4 L197.5,243.2 L198.5,244.1 L199.5,245.1 L200.5,246.1 L201.5,247.0 L202.5,247.8 L203.5,248.6 L204.5,249.2 L205.5,249.9 L206.5,250.5 L207.5,250.9 L208.5,251.2 L209.5,251.2 L210.5,251.0 L211.5,250.8 L212.5,250.5 L213.5,250.2 L214.5,249.8 L215.5,249.5 L216.5,249.1 L217.5,248.5 L218.5,247.9 L219.5,247.4 L220.5,246.9 L221.5,246.6 L222.5,246.5 L223.5,246.6 L224.5,246.8 L225.5,247.1 L226.5,247.5 L227.5,248.0 L228.5,249.0 L229.5,250.6 L230.5,252.5 L231.5,254.6 L232.5,256.6 L233.5,258.8 L234.5,261.2 L235.5,263.7 L236.5,266.2 L237.5,268.4 L238.5,270.6 L239.5,272.7 L240.5,274.7 L241.5,276.6 L242.5,278.3 L243.5,279.8 L244.5,281.3 L245.5,282.6 L246.5,283.9 L247.5,284.9 L248.5,285.8 L249.5,286.7 L250.5,287.5 L251.5,288.3 L252.5,289.0 L253.5,289.5 L254.5,290.0 L255.5,290.4 L256.5,290.8 L257.5,291.2 L258.5,291.5 L259.5,291.8 L260.5,292.1 L261.5,292.3 L262.5,292.4 L263.5,292.5 L264.5,292.6 L265.5,292.7 L266.5,292.8 L267.5,292.9 L268.5,293.0 L269.5,293.0 L270.5,293.1 L271.5,293.1 L272.5,293.2 L273.5,293.2 L274.5,293.2" fill="none" stroke="#008000" stroke-width="1.6" stroke-linejoin="round" />
<path d="M48.5,293.7 L49.5,293.3 L50.5,293.6 L51.5,294.2 L52.5,293.8 L53.5,293.9 L54.5,295.0 L55.5,294.7 L56.5,294.7 L57.5,294.6 L58.5,294.6 L59.5,295.1 L60.5,294.5 L61.5,295.3 L62.5,294.1 L63.5,294.4 L64.5,293.9 L65.5,294.3 L66.5,294.7 L67.5,295.1 L68.5,294.1 L69.5,294.3 L70.5,294.1 L71.5,293.8 L72.5,293.5 L73.5,294.0 L74.5,293.1 L75.5,293.9 L76.5,293.7 L77.5,293.3 L78.5,293.1 L79.5,292.8 L80.5,294.2 L81.5,292.7 L82.5,293.9 L83.5,293.4 L84.5,292.9 L85.5,292.5 L86.5,293.4 L87.5,293.6 L88.5,292.3 L89.5,292.6 L90.5,293.1 L91.5,292.7 L92.5,293.3 L93.5,292.1 L94.5,292.5 L95.5,291.6 L96.5,293.0 L97.5,291.7 L98.5,290.9 L99.5,291.8 L100.5,291.7 L101.5,292.5 L102.5,291.4 L103.5,291.4 L104.5,291.6 L105.5,291.8 L106.5,290.6 L107.5,290.6 L108.5,289.8 L109.5,288.8 L110.5,288.4 L111.5,287.8 L112.5,286.9 L113.5,287.4 L114.5,285.8 L115.5,286.5 L116.5,286.0 L117.5,285.1 L118.5,284.4 L119.5,284.3 L120.5,284.3 L121.5,284.2 L122.5,283.8 L123.5,283.9 L124.5,283.0 L125.5,283.2 L126.5,282.2 L127.5,283.1 L128.5,282.6 L129.5,282.1 L130.5,282.6 L131.5,282.2 L132.5,280.4 L133.5,281.5 L134.5,280.6 L135.5,281.5 L136.5,282.0 L137.5,280.4 L138.5,280.5 L139.5,280.1 L140.5,280.2 L141.5,280.1 L142.5,280.0 L143.5,278.6 L144.5,279.0 L145.5,276.9 L146.5,276.2 L147.5,275.5 L148.5,274.2 L149.5,272.3 L150.5,271.2 L151.5,270.3 L152.5,269.7 L153.5,269.7 L154.5,268.2 L155.5,268.6 L156.5,268.4 L157.5,268.1 L158.5,267.7 L159.5,267.7 L160.5,266.5 L161.5,265.9 L162.5,265.1 L163.5,265.1 L164.5,263.0 L165.5,264.0 L166.5,263.0 L167.5,262.5 L168.5,261.6 L169.5,260.1 L170.5,259.4 L171.5,257.7 L172.5,256.5 L173.5,253.8 L174.5,253.1 L175.5,250.8 L176.5,248.7 L177.5,246.7 L178.5,245.0 L179.5,243.2 L180.5,242.2 L181.5,241.1 L182.5,239.6 L183.5,237.9 L184.5,237.4 L185.5,236.6 L186.5,237.0 L187.5,237.9 L188.5,237.6 L189.5,237.5 L190.5,237.3 L191.5,237.8 L192.5,238.1 L193.5,239.7 L194.5,239.7 L195.5,240.9 L196.5,241.3 L197.5,242.4 L198.5,243.9 L199.5,243.9 L200.5,245.0 L201.5,245.7 L202.5,247.3 L203.5,247.2 L204.5,247.8 L205.5,248.4 L206.5,249.1 L207.5,250.5 L208.5,251.9 L209.5,250.7 L210.5,251.6 L211.5,251.2 L212.5,250.3 L213.5,250.3 L214.5,249.9 L215.5,249.2 L216.5,249.9 L217.5,247.7 L218.5,248.1 L219.5,247.5 L220.5,246.4 L221.5,246.4 L222.5,246.6 L223.5,246.4 L224.5,246.8 L225.5,247.3 L226.5,246.8 L227.5,249.8 L228.5,252.1 L229.5,253.6 L230.5,255.7 L231.5,256.6 L232.5,259.3 L233.5,261.3 L234.5,263.7 L235.5,266.5 L236.5,267.8 L237.5,270.2 L238.5,271.5 L239.5,274.2 L240.5,276.1 L241.5,277.4 L242.5,279.0 L243.5,281.7 L244.5,281.7 L245.5,283.1 L246.5,284.3 L247.5,286.3 L248.5,287.7 L249.5,287.8 L250.5,288.2 L251.5,289.1 L252.5,290.3 L253.5,290.0 L254.5,291.5 L255.5,291.9 L256.5,291.7 L257.5,292.3 L258.5,292.6 L259.5,293.2 L260.5,292.1 L261.5,293.3 L262.5,292.7 L263.5,292.6 L264.5,293.1 L265.5,293.1 L266.5,292.8 L267.5,292.6 L268.5,293.0 L269.5,294.2 L270.5,294.5 L271.5,294.0 L272.5,294.4 L273.5,293.7 L274.5,294.0" fill="none" stroke="#000" stroke-width="2.0" stroke-linejoin="round" />
<path d="M48.5,291.6 L49.5,291.6 L50.5,291.6 L51.5,291.6 L52.5,291.6 L53.5,291.6 L54.5,291.6 L55.5,291.6 L56.5,291.6 L57.5,291.6 L58.5,291.6 L59.5,291.6 L60.5,291.6 L61.5,291.6 L62.5,291.6 L63.5,291.6 L64.5,291.6 L65.5,291.6 L66.5,291.6 L67.5,291.6 L68.5,291.6 L69.5,291.6 L70.5,291.6 L71.5,291.6 L72.5,291.6 L73.5,291.6 L74.5,291.6 L75.5,291.6 L76.5,291.6 L77.5,291.6 L78.5,291.6 L79.5,291.6 L80.5,291.6 L81.5,291.6 L82.5,291.6 L83.5,291.6 L84.5,291.6 L85.5,291.6 L86.5,291.6 L87.5,291.6 L88.5,291.6 L89.5,291.6 L90.5,291.6 L91.5,291.6 L92.5,291.6 L93.5,291.6 L94.5,291.6 L95.5,291.6 L96.5,291.6 L97.5,291.6 L98.5,291.6 L99.5,291.6 L100.5,291.6 L101.5,291.6 L102.5,291.6 L103.5,291.6 L104.5,291.6 L105.5,291.6 L106.5,291.6 L107.5,291.6 L108.5,291.6 L109.5,291.6 L110.5,291.6 L111.5,291.6 L112.5,291.6 L113.5,291.6 L114.5,291.6 L115.5,291.6 L116.5,291.6 L117.5,291.6 L118.5,291.6 L119.5,291.6 L120.5,291.6 L121.5,291.6 L122.5,291.6 L123.5,291.6 L124.5,291.6 L125.5,291.6 L126.5,291.6 L127.5,291.6 L128.5,291.6 L129.5,291.6 L130.5,291.6 L131.5,291.6 L132.5,291.6 L133.5,291.6 L134.5,291.6 L135.5,291.6 L136.5,291.6 L137.5,291.6 L138.5,291.5 L139.5,291.5 L140.5,291.5 L141.5,291.4 L142.5,291.4 L143.5,291.3 L144.5,291.3 L145.5,291.2 L146.5,291.1 L147.5,290.9 L148.5,290.7 L149.5,290.5 L150.5,290.0 L151.5,289.2 L152.5,288.1 L153.5,286.8 L154.5,285.5 L155.5,284.0 L156.5,282.2 L157.5,280.1 L158.5,277.9 L159.5,275.6 L160.5,273.2 L161.5,270.6 L162.5,267.8 L163.5,265.0 L164.5,262.3 L165.5,259.5 L166.5,256.7 L167.5,254.0 L168.5,251.3 L169.5,248.9 L170.5,246.7 L171.5,244.5 L172.5,242.5 L173.5,240.8 L174.5,239.5 L175.5,238.6 L176.5,237.8 L177.5,237.1 L178.5,236.6 L179.5,236.4 L180.5,236.4 L181.5,236.4 L182.5,236.4 L183.5,236.4 L184.5,236.4 L185.5,236.4 L186.5,236.4 L187.5,236.4 L188.5,236.4 L189.5,236.4 L190.5,236.4 L191.5,236.4 L192.5,236.5 L193.5,236.5 L194.5,236.6 L195.5,236.8 L196.5,237.0 L197.5,237.5 L198.5,238.2 L199.5,239.1 L200.5,240.0 L201.5,240.9 L202.5,241.8 L203.5,242.7 L204.5,243.6 L205.5,244.6 L206.5,245.5 L207.5,246.4 L208.5,247.2 L209.5,247.9 L210.5,248.3 L211.5,247.8 L212.5,247.2 L213.5,246.6 L214.5,246.1 L215.5,245.7 L216.5,245.5 L217.5,245.5 L218.5,245.5 L219.5,245.5 L220.5,245.5 L221.5,245.5 L222.5,245.5 L223.5,245.5 L224.5,245.5 L225.5,245.5 L226.5,245.5 L227.5,245.5 L228.5,245.5 L229.5,245.7 L230.5,246.0 L231.5,246.3 L232.5,246.7 L233.5,247.4 L234.5,248.7 L235.5,250.5 L236.5,252.6 L237.5,254.6 L238.5,256.7 L239.5,259.0 L240.5,261.5 L241.5,264.0 L242.5,266.3 L243.5,268.5 L244.5,270.6 L245.5,272.7 L246.5,274.7 L247.5,276.4 L248.5,278.0 L249.5,279.6 L250.5,281.0 L251.5,282.3 L252.5,283.4 L253.5,284.4 L254.5,285.3 L255.5,286.1 L256.5,286.9 L257.5,287.6 L258.5,288.2 L259.5,288.8 L260.5,289.2 L261.5,289.6 L262.5,290.0 L263.5,290.3 L264.5,290.7 L265.5,290.9 L266.5,291.2 L267.5,291.3 L268.5,291.5 L269.5,291.6 L270.5,291.7 L271.5,291.8 L272.5,291.9 L273.5,291.9 L274.5,292.0 L274.5,294.2 L273.5,294.2 L272.5,294.2 L271.5,294.2 L270.5,294.2 L269.5,294.2 L268.5,294.2 L267.5,294.2 L266.5,294.2 L265.5,294.1 L264.5,294.1 L263.5,294.0 L262.5,293.9 L261.5,293.9 L260.5,293.8 L259.5,293.7 L258.5,293.6 L257.5,293.5 L256.5,293.3 L255.5,293.2 L254.5,292.9 L253.5,292.7 L252.5,292.3 L251.5,292.0 L250.5,291.6 L249.5,291.2 L248.5,290.8 L247.5,290.2 L246.5,289.6 L245.5,288.9 L244.5,288.1 L243.5,287.3 L242.5,286.4 L241.5,285.4 L240.5,284.3 L239.5,283.0 L238.5,281.6 L237.5,280.0 L236.5,278.4 L235.5,276.7 L234.5,274.7 L233.5,272.6 L232.5,270.5 L231.5,268.3 L230.5,266.0 L229.5,263.5 L228.5,261.0 L227.5,258.7 L226.5,256.6 L225.5,254.6 L224.5,252.5 L223.5,250.7 L222.5,249.8 L221.5,250.3 L220.5,250.7 L219.5,251.0 L218.5,251.4 L217.5,251.7 L216.5,251.9 L215.5,252.1 L214.5,252.2 L213.5,252.2 L212.5,252.2 L211.5,252.2 L210.5,252.2 L209.5,252.2 L208.5,252.2 L207.5,252.2 L206.5,252.2 L205.5,252.2 L204.5,252.2 L203.5,252.2 L202.5,252.1 L201.5,251.7 L200.5,251.2 L199.5,250.6 L198.5,249.9 L197.5,249.2 L196.5,248.4 L195.5,247.5 L194.5,246.6 L193.5,245.6 L192.5,244.7 L191.5,243.8 L190.5,242.9 L189.5,242.0 L188.5,241.1 L187.5,240.2 L186.5,240.6 L185.5,241.5 L184.5,242.8 L183.5,244.5 L182.5,246.5 L181.5,248.7 L180.5,250.9 L179.5,253.3 L178.5,256.0 L177.5,258.7 L176.5,261.5 L175.5,264.3 L174.5,267.0 L173.5,269.8 L172.5,272.6 L171.5,275.2 L170.5,277.6 L169.5,279.9 L168.5,282.1 L167.5,284.2 L166.5,286.0 L165.5,287.5 L164.5,288.8 L163.5,290.1 L162.5,291.2 L161.5,292.0 L160.5,292.5 L159.5,292.7 L158.5,292.9 L157.5,293.1 L156.5,293.2 L155.5,293.3 L154.5,293.3 L153.5,293.4 L152.5,293.4 L151.5,293.5 L150.5,293.5 L149.5,293.5 L148.5,293.6 L147.5,293.6 L146.5,293.6 L145.5,293.6 L144.5,293.6 L143.5,293.6 L142.5,293.6 L141.5,293.6 L140.5,293.6 L139.5,293.6 L138.5,293.6 L137.5,293.6 L136.5,293.6 L135.5,293.6 L134.5,293.6 L133.5,293.6 L132.5,293.6 L131.5,293.6 L130.5,293.6 L129.5,293.6 L128.5,293.6 L127.5,293.6 L126.5,293.6 L125.5,293.6 L124.5,293.6 L123.5,293.6 L122.5,293.6 L121.5,293.6 L120.5,293.6 L119.5,293.6 L118.5,293.6 L117.5,293.6 L116.5,293.6 L115.5,293.6 L114.5,293.6 L113.5,293.6 L112.5,293.6 L111.5,293.6 L110.5,293.6 L109.5,293.6 L108.5,293.6 L107.5,293.6 L106.5,293.6 L105.5,293.6 L104.5,293.6 L103.5,293.6 L102.5,293.6 L101.5,293.6 L100.5,293.6 L99.5,293.6 L98.5,293.6 L97.5,293.6 L96.5,293.6 L95.5,293.6 L94.5,293.6 L93.5,293.6 L92.5,293.6 L91.5,293.6 L90.5,293.6 L89.5,293.6 L88.5,293.6 L87.5,293.6 L86.5,293.6 L85.5,293.6 L84.5,293.6 L83.5,293.6 L82.5,293.6 L81.5,293.6 L80.5,293.6 L79.5,293.6 L78.5,293.6 L77.5,293.6 L76.5,293.6 L75.5,293.6 L74.5,293.6 L73.5,293.6 L72.5,293.6 L71.5,293.6 L70.5,293.6 L69.5,293.6 L68.5,293.6 L67.5,293.6 L66.5,293.6 L65.5,293.6 L64.5,293.6 L63.5,293.6 L62.5,293.6 L61.5,293.6 L60.5,293.6 L59.5,293.6 L58.5,293.6 L57.5,293.6 L56.5,293.6 L55.5,293.6 L54.5,293.6 L53.5,293.6 L52.5,293.6 L51.5,293.6 L50.5,293.6 L49.5,293.6 L48.5,293.6 Z" fill="#2ca02c" stroke="none" fill-opacity="0.55"/>
</g>
<line x1="88.80" y1="274.30" x2="126.00" y2="274.30" stroke="#ff0000" stroke-width="2.5"/>
<path d="M133.10,274.30 L125.00,278.40 L125.00,270.20 Z" fill="#ff0000"/>
<line x1="161.2" y1="302.28" x2="161.2" y2="228.94" stroke="#008000" stroke-width="3.5" stroke-dasharray="3.4 5.5"/>
<rect x="48.50" y="228.94" width="226.00" height="73.34" stroke="#222" stroke-width="1.0" fill="none" />
<text transform="translate(44.85,288.01) rotate(-90) scale(0.9800,1)" font-size="14.69" font-family='"Liberation Sans", sans-serif' fill="#000">Fiber 8</text>
<text transform="translate(64.90,247.40) scale(0.9376,1)" font-size="13.94" font-family='"Liberation Sans", sans-serif' fill="#000" font-style="italic">σ</text>
<text transform="translate(78.60,244.83) scale(1.6594,1)" font-size="9.18" font-family='"Liberation Sans", sans-serif' fill="#000">=</text>
<text transform="translate(93.70,247.41) scale(1.1405,1)" font-size="12.57" font-family='"Liberation Sans", sans-serif' fill="#000">0.08</text>
<g clip-path="url(#ca4)">
<path d="M48.5,360.8 L49.5,360.9 L50.5,360.8 L51.5,360.3 L52.5,359.5 L53.5,358.9 L54.5,358.1 L55.5,357.1 L56.5,356.3 L57.5,355.1 L58.5,354.4 L59.5,353.5 L60.5,352.5 L61.5,352.1 L62.5,351.7 L63.5,351.6 L64.5,351.6 L65.5,350.2 L66.5,348.9 L67.5,348.2 L68.5,347.2 L69.5,346.5 L70.5,346.1 L71.5,346.2 L72.5,347.6 L73.5,348.6 L74.5,348.7 L75.5,349.5 L76.5,350.3 L77.5,350.1 L78.5,349.9 L79.5,350.2 L80.5,351.2 L81.5,352.0 L82.5,352.4 L83.5,353.1 L84.5,353.8 L85.5,353.6 L86.5,353.9 L87.5,354.5 L88.5,354.2 L89.5,354.0 L90.5,353.8 L91.5,353.2 L92.5,352.2 L93.5,351.5 L94.5,351.4 L95.5,350.3 L96.5,348.3 L97.5,347.5 L98.5,346.8 L99.5,345.7 L100.5,344.1 L101.5,343.0 L102.5,341.8 L103.5,340.0 L104.5,338.7 L105.5,337.5 L106.5,336.5 L107.5,335.4 L108.5,334.0 L109.5,332.9 L110.5,331.7 L111.5,330.6 L112.5,329.0 L113.5,327.3 L114.5,326.8 L115.5,325.8 L116.5,324.7 L117.5,324.2 L118.5,323.3 L119.5,322.5 L120.5,322.2 L121.5,321.0 L122.5,320.2 L123.5,320.8 L124.5,320.1 L125.5,319.0 L126.5,318.8 L127.5,318.9 L128.5,318.1 L129.5,317.3 L130.5,317.2 L131.5,316.9 L132.5,316.4 L133.5,315.8 L134.5,314.8 L135.5,313.8 L136.5,312.8 L137.5,311.8 L138.5,311.2 L139.5,310.5 L140.5,309.5 L141.5,309.2 L142.5,308.8 L143.5,307.3 L144.5,306.9 L145.5,306.2 L146.5,305.3 L147.5,304.9 L148.5,304.5 L149.5,304.3 L150.5,304.0 L151.5,304.7 L152.5,306.7 L153.5,307.3 L154.5,307.8 L155.5,309.5 L156.5,310.2 L157.5,310.6 L158.5,312.2 L159.5,313.2 L160.5,313.7 L161.5,314.4 L162.5,314.4 L163.5,314.9 L164.5,315.4 L165.5,315.8 L166.5,315.8 L167.5,315.5 L168.5,315.3 L169.5,315.4 L170.5,315.4 L171.5,314.7 L172.5,314.2 L173.5,314.6 L174.5,314.8 L175.5,315.1 L176.5,315.6 L177.5,316.3 L178.5,317.3 L179.5,318.2 L180.5,318.7 L181.5,319.6 L182.5,320.2 L183.5,321.2 L184.5,322.2 L185.5,322.5 L186.5,323.2 L187.5,323.8 L188.5,325.3 L189.5,327.5 L190.5,329.4 L191.5,330.3 L192.5,331.5 L193.5,333.0 L194.5,333.9 L195.5,334.4 L196.5,335.3 L197.5,336.9 L198.5,338.2 L199.5,339.5 L200.5,340.1 L201.5,341.3 L202.5,342.5 L203.5,342.8 L204.5,342.8 L205.5,342.3 L206.5,341.1 L207.5,339.4 L208.5,338.1 L209.5,337.6 L210.5,337.3 L211.5,336.7 L212.5,336.2 L213.5,336.0 L214.5,336.0 L215.5,335.8 L216.5,335.7 L217.5,336.6 L218.5,337.3 L219.5,337.3 L220.5,337.8 L221.5,338.9 L222.5,340.9 L223.5,342.9 L224.5,344.2 L225.5,345.4 L226.5,346.7 L227.5,347.8 L228.5,349.6 L229.5,351.3 L230.5,352.9 L231.5,353.8 L232.5,354.4 L233.5,356.1 L234.5,357.2 L235.5,357.6 L236.5,358.4 L237.5,359.7 L238.5,361.0 L239.5,361.8 L240.5,362.7 L241.5,363.5 L242.5,363.5 L243.5,363.1 L244.5,362.5 L245.5,362.1 L246.5,361.9 L247.5,361.5 L248.5,361.2 L249.5,361.0 L250.5,360.4 L251.5,360.1 L252.5,360.5 L253.5,360.7 L254.5,360.9 L255.5,360.7 L256.5,360.5 L257.5,360.8 L258.5,360.9 L259.5,360.4 L260.5,360.1 L261.5,360.3 L262.5,360.1 L263.5,360.2 L264.5,360.7 L265.5,360.4 L266.5,360.7 L267.5,360.7 L268.5,360.2 L269.5,360.3 L270.5,360.3 L271.5,360.6 L272.5,361.0 L273.5,361.5 L274.5,361.9" fill="none" stroke="#b9b9b9" stroke-width="3.6" stroke-linejoin="round" />
<path d="M48.5,366.5 L49.5,366.4 L50.5,365.7 L51.5,365.4 L52.5,365.1 L53.5,364.8 L54.5,364.1 L55.5,363.2 L56.5,362.1 L57.5,360.8 L58.5,359.6 L59.5,358.4 L60.5,357.9 L61.5,357.7 L62.5,357.1 L63.5,356.8 L64.5,357.2 L65.5,356.3 L66.5,354.3 L67.5,353.0 L68.5,351.7 L69.5,351.5 L70.5,352.0 L71.5,352.3 L72.5,353.4 L73.5,354.6 L74.5,354.8 L75.5,355.2 L76.5,356.1 L77.5,356.3 L78.5,356.5 L79.5,356.7 L80.5,357.3 L81.5,357.9 L82.5,358.1 L83.5,358.8 L84.5,359.5 L85.5,359.8 L86.5,360.0 L87.5,360.7 L88.5,360.7 L89.5,360.0 L90.5,359.1 L91.5,358.4 L92.5,357.7 L93.5,357.1 L94.5,356.5 L95.5,355.0 L96.5,353.9 L97.5,353.4 L98.5,352.2 L99.5,350.6 L100.5,349.7 L101.5,348.6 L102.5,346.7 L103.5,345.3 L104.5,344.2 L105.5,343.4 L106.5,342.3 L107.5,340.8 L108.5,339.0 L109.5,337.6 L110.5,336.5 L111.5,335.4 L112.5,334.1 L113.5,333.0 L114.5,332.6 L115.5,331.5 L116.5,330.6 L117.5,329.5 L118.5,328.3 L119.5,327.6 L120.5,327.5 L121.5,327.2 L122.5,326.2 L123.5,325.6 L124.5,325.1 L125.5,324.7 L126.5,324.5 L127.5,323.7 L128.5,323.4 L129.5,323.0 L130.5,322.2 L131.5,321.6 L132.5,321.4 L133.5,321.1 L134.5,320.1 L135.5,319.2 L136.5,318.6 L137.5,317.8 L138.5,316.5 L139.5,316.1 L140.5,315.9 L141.5,315.0 L142.5,313.5 L143.5,312.5 L144.5,312.3 L145.5,311.7 L146.5,311.1 L147.5,310.2 L148.5,309.7 L149.5,309.6 L150.5,309.7 L151.5,310.6 L152.5,311.8 L153.5,312.9 L154.5,313.3 L155.5,314.1 L156.5,315.3 L157.5,316.2 L158.5,317.5 L159.5,318.7 L160.5,319.1 L161.5,319.0 L162.5,319.4 L163.5,319.9 L164.5,320.7 L165.5,321.2 L166.5,321.0 L167.5,320.8 L168.5,320.0 L169.5,319.7 L170.5,319.8 L171.5,319.9 L172.5,320.1 L173.5,319.9 L174.5,320.0 L175.5,321.1 L176.5,321.5 L177.5,321.5 L178.5,322.4 L179.5,323.0 L180.5,323.6 L181.5,324.5 L182.5,325.7 L183.5,325.8 L184.5,326.1 L185.5,327.5 L186.5,328.6 L187.5,329.9 L188.5,331.3 L189.5,333.1 L190.5,334.5 L191.5,335.4 L192.5,336.8 L193.5,338.0 L194.5,339.1 L195.5,340.5 L196.5,341.5 L197.5,342.4 L198.5,343.6 L199.5,344.4 L200.5,345.4 L201.5,346.3 L202.5,347.2 L203.5,347.7 L204.5,347.4 L205.5,347.0 L206.5,346.4 L207.5,344.9 L208.5,344.1 L209.5,343.4 L210.5,342.2 L211.5,342.2 L212.5,342.0 L213.5,341.4 L214.5,341.8 L215.5,341.6 L216.5,341.0 L217.5,341.8 L218.5,342.1 L219.5,342.5 L220.5,343.7 L221.5,345.5 L222.5,346.7 L223.5,347.7 L224.5,349.6 L225.5,351.0 L226.5,351.9 L227.5,353.4 L228.5,355.1 L229.5,356.4 L230.5,357.9 L231.5,359.3 L232.5,360.4 L233.5,361.5 L234.5,362.2 L235.5,363.1 L236.5,364.4 L237.5,365.3 L238.5,366.2 L239.5,367.0 L240.5,368.1 L241.5,369.3 L242.5,369.0 L243.5,368.4 L244.5,368.0 L245.5,367.7 L246.5,367.4 L247.5,366.8 L248.5,366.5 L249.5,366.3 L250.5,366.0 L251.5,366.0 L252.5,365.9 L253.5,365.8 L254.5,365.9 L255.5,366.0 L256.5,366.0 L257.5,365.9 L258.5,365.7 L259.5,365.6 L260.5,365.8 L261.5,365.7 L262.5,365.8 L263.5,365.9 L264.5,365.4 L265.5,365.3 L266.5,365.4 L267.5,365.6 L268.5,365.5 L269.5,365.0 L270.5,365.2 L271.5,366.1 L272.5,366.4 L273.5,366.2 L274.5,366.6" fill="none" stroke="#b9b9b9" stroke-width="3.6" stroke-linejoin="round" />
<path d="M48.5,363.8 L49.5,363.8 L50.5,363.6 L51.5,362.2 L52.5,363.4 L53.5,362.3 L54.5,361.0 L55.5,359.6 L56.5,358.1 L57.5,357.1 L58.5,356.9 L59.5,355.4 L60.5,354.5 L61.5,354.4 L62.5,355.1 L63.5,354.0 L64.5,353.5 L65.5,353.6 L66.5,351.9 L67.5,350.5 L68.5,349.2 L69.5,348.1 L70.5,348.4 L71.5,349.3 L72.5,350.0 L73.5,351.0 L74.5,351.9 L75.5,352.5 L76.5,353.1 L77.5,352.9 L78.5,352.7 L79.5,353.7 L80.5,353.8 L81.5,354.3 L82.5,355.0 L83.5,355.2 L84.5,355.8 L85.5,356.7 L86.5,357.2 L87.5,357.2 L88.5,357.7 L89.5,357.1 L90.5,356.2 L91.5,356.0 L92.5,356.2 L93.5,354.3 L94.5,354.3 L95.5,353.4 L96.5,352.3 L97.5,350.1 L98.5,350.2 L99.5,348.2 L100.5,346.9 L101.5,345.7 L102.5,344.7 L103.5,343.2 L104.5,341.7 L105.5,341.0 L106.5,338.8 L107.5,337.3 L108.5,336.9 L109.5,335.7 L110.5,334.7 L111.5,332.5 L112.5,332.3 L113.5,331.0 L114.5,330.5 L115.5,328.1 L116.5,327.9 L117.5,326.8 L118.5,325.4 L119.5,325.1 L120.5,325.2 L121.5,323.8 L122.5,323.0 L123.5,323.1 L124.5,322.6 L125.5,322.2 L126.5,321.0 L127.5,320.9 L128.5,321.1 L129.5,320.0 L130.5,319.6 L131.5,319.8 L132.5,319.7 L133.5,317.8 L134.5,316.3 L135.5,315.9 L136.5,315.2 L137.5,314.8 L138.5,314.3 L139.5,313.2 L140.5,312.2 L141.5,311.9 L142.5,310.7 L143.5,310.4 L144.5,309.3 L145.5,310.0 L146.5,308.4 L147.5,307.1 L148.5,306.7 L149.5,306.7 L150.5,306.1 L151.5,307.2 L152.5,308.6 L153.5,310.5 L154.5,310.9 L155.5,311.7 L156.5,312.4 L157.5,313.4 L158.5,314.7 L159.5,315.3 L160.5,316.5 L161.5,316.2 L162.5,317.5 L163.5,317.5 L164.5,317.8 L165.5,317.1 L166.5,317.5 L167.5,318.4 L168.5,318.5 L169.5,317.8 L170.5,317.9 L171.5,317.2 L172.5,317.1 L173.5,317.0 L174.5,318.1 L175.5,318.2 L176.5,318.5 L177.5,319.1 L178.5,320.2 L179.5,320.7 L180.5,320.8 L181.5,322.5 L182.5,322.5 L183.5,323.1 L184.5,324.6 L185.5,325.2 L186.5,325.9 L187.5,327.5 L188.5,328.3 L189.5,329.9 L190.5,330.6 L191.5,333.4 L192.5,333.2 L193.5,335.6 L194.5,336.1 L195.5,337.1 L196.5,338.5 L197.5,339.8 L198.5,341.1 L199.5,342.8 L200.5,343.3 L201.5,344.4 L202.5,344.5 L203.5,345.5 L204.5,345.2 L205.5,344.3 L206.5,343.5 L207.5,342.5 L208.5,341.5 L209.5,340.5 L210.5,339.3 L211.5,338.9 L212.5,339.3 L213.5,338.1 L214.5,338.4 L215.5,339.3 L216.5,337.4 L217.5,338.6 L218.5,339.8 L219.5,339.4 L220.5,342.1 L221.5,341.0 L222.5,344.3 L223.5,345.9 L224.5,347.1 L225.5,348.0 L226.5,349.7 L227.5,350.5 L228.5,352.6 L229.5,353.1 L230.5,354.7 L231.5,356.6 L232.5,356.9 L233.5,358.4 L234.5,359.8 L235.5,360.1 L236.5,362.2 L237.5,362.8 L238.5,362.9 L239.5,364.4 L240.5,364.8 L241.5,365.4 L242.5,365.9 L243.5,365.4 L244.5,365.7 L245.5,364.4 L246.5,364.7 L247.5,363.9 L248.5,364.2 L249.5,363.4 L250.5,363.3 L251.5,362.8 L252.5,363.5 L253.5,363.6 L254.5,364.0 L255.5,363.6 L256.5,363.1 L257.5,362.9 L258.5,363.2 L259.5,363.0 L260.5,363.7 L261.5,363.4 L262.5,362.6 L263.5,362.7 L264.5,363.6 L265.5,363.1 L266.5,362.9 L267.5,363.5 L268.5,362.8 L269.5,363.0 L270.5,363.0 L271.5,362.5 L272.5,364.0 L273.5,363.2 L274.5,363.7" fill="none" stroke="#000" stroke-width="1.6" stroke-linejoin="round" />
<path d="M84.0,355.2 L85.0,354.0 L86.0,352.9 L87.0,351.7 L88.0,350.6 L89.0,349.4 L90.0,348.2 L91.0,347.0 L92.0,345.9 L93.0,344.7 L94.0,343.5 L95.0,342.2 L96.0,341.0 L97.0,339.8 L98.0,338.6 L99.0,337.4 L100.0,336.2 L101.0,335.1 L102.0,334.0 L103.0,332.9 L104.0,331.8 L105.0,330.7 L106.0,329.7 L107.0,328.6 L108.0,327.5 L109.0,326.3 L110.0,325.1 L111.0,323.9 L112.0,322.8 L113.0,321.6 L114.0,320.5 L115.0,319.4 L116.0,318.4 L117.0,317.4 L118.0,316.5 L119.0,315.6 L120.0,314.8 L121.0,314.0 L122.0,313.2 L123.0,312.6 L124.0,312.0 L125.0,311.5 L126.0,311.0 L127.0,310.6 L128.0,310.2 L129.0,309.8 L130.0,309.5 L131.0,309.3 L132.0,309.1 L133.0,308.9 L134.0,308.8 L135.0,308.6 L136.0,308.5 L137.0,308.5 L138.0,308.5 L139.0,308.6 L140.0,308.6 L141.0,308.7 L142.0,308.9 L143.0,309.0 L144.0,309.1 L145.0,309.3 L146.0,309.5 L147.0,309.9 L148.0,310.3 L149.0,310.7 L150.0,311.2 L151.0,311.6 L152.0,312.0 L153.0,312.4 L154.0,312.8 L155.0,313.2 L156.0,313.6 L157.0,314.1 L158.0,314.5 L159.0,314.9 L160.0,315.3 L161.0,315.7 L162.0,316.1 L163.0,316.6 L164.0,317.0 L165.0,317.4 L166.0,317.8 L167.0,318.2 L168.0,318.6 L169.0,319.0 L170.0,319.4 L171.0,319.8 L172.0,320.1 L173.0,320.5 L174.0,320.8 L175.0,321.1 L176.0,321.5 L177.0,321.9 L178.0,322.3 L179.0,322.7 L180.0,323.2 L181.0,323.7 L182.0,324.3 L183.0,324.8 L184.0,325.4 L185.0,326.0 L186.0,326.6 L187.0,327.3 L188.0,328.0 L189.0,328.8 L190.0,329.5 L191.0,330.3 L192.0,331.1 L193.0,331.9 L194.0,332.6 L195.0,333.4 L196.0,334.1 L197.0,334.9 L198.0,335.6 L199.0,336.3 L200.0,337.0 L201.0,337.7 L202.0,338.3 L203.0,339.0 L204.0,339.7 L205.0,340.3 L206.0,340.9 L207.0,341.5 L208.0,342.1 L209.0,342.7 L210.0,343.2 L211.0,343.8 L212.0,344.3 L213.0,344.9 L214.0,345.5 L215.0,346.1 L216.0,346.7 L217.0,347.4 L218.0,348.1 L219.0,348.8 L220.0,349.4 L221.0,350.1 L222.0,350.8 L223.0,351.5 L224.0,352.1 L225.0,352.8 L226.0,353.5 L227.0,354.1 L228.0,354.8 L229.0,355.4 L230.0,356.1 L231.0,356.8 L232.0,357.4 L233.0,358.1 L234.0,358.8 L235.0,359.5 L236.0,360.1 L237.0,360.7 L238.0,361.3 L239.0,361.8 L240.0,362.3 L241.0,362.8 L242.0,363.3 L243.0,363.8 L244.0,364.2 L245.0,364.6 L246.0,365.0 L246.0,366.0 L245.0,366.0 L244.0,366.0 L243.0,365.9 L242.0,365.9 L241.0,365.8 L240.0,365.7 L239.0,365.6 L238.0,365.5 L237.0,365.3 L236.0,365.1 L235.0,364.8 L234.0,364.4 L233.0,364.0 L232.0,363.6 L231.0,363.2 L230.0,362.9 L229.0,362.5 L228.0,362.2 L227.0,361.8 L226.0,361.5 L225.0,361.1 L224.0,360.7 L223.0,360.4 L222.0,360.0 L221.0,359.6 L220.0,359.3 L219.0,358.9 L218.0,358.5 L217.0,358.1 L216.0,357.8 L215.0,357.4 L214.0,357.0 L213.0,356.7 L212.0,356.4 L211.0,356.1 L210.0,355.8 L209.0,355.4 L208.0,355.1 L207.0,354.7 L206.0,354.4 L205.0,354.0 L204.0,353.6 L203.0,353.2 L202.0,352.7 L201.0,352.3 L200.0,351.8 L199.0,351.3 L198.0,350.8 L197.0,350.3 L196.0,349.7 L195.0,349.1 L194.0,348.4 L193.0,347.7 L192.0,347.0 L191.0,346.2 L190.0,345.5 L189.0,344.7 L188.0,344.0 L187.0,343.3 L186.0,342.6 L185.0,342.0 L184.0,341.4 L183.0,340.9 L182.0,340.4 L181.0,339.9 L180.0,339.5 L179.0,339.0 L178.0,338.5 L177.0,338.1 L176.0,337.7 L175.0,337.2 L174.0,336.5 L173.0,334.8 L172.0,332.3 L171.0,330.0 L170.0,328.2 L169.0,326.5 L168.0,325.8 L167.0,325.9 L166.0,326.3 L165.0,326.9 L164.0,327.5 L163.0,328.4 L162.0,329.7 L161.0,331.3 L160.0,333.0 L159.0,335.3 L158.0,338.1 L157.0,340.5 L156.0,341.5 L155.0,340.9 L154.0,339.2 L153.0,337.1 L152.0,335.0 L151.0,332.9 L150.0,330.4 L149.0,327.9 L148.0,325.4 L147.0,323.3 L146.0,321.2 L145.0,318.9 L144.0,317.0 L143.0,315.8 L142.0,315.5 L141.0,316.0 L140.0,316.8 L139.0,317.8 L138.0,318.5 L137.0,319.0 L136.0,319.5 L135.0,319.9 L134.0,320.3 L133.0,320.8 L132.0,321.3 L131.0,321.9 L130.0,322.6 L129.0,323.3 L128.0,324.0 L127.0,324.7 L126.0,325.5 L125.0,326.2 L124.0,326.8 L123.0,327.5 L122.0,328.1 L121.0,328.7 L120.0,329.3 L119.0,330.0 L118.0,330.6 L117.0,331.4 L116.0,332.2 L115.0,333.1 L114.0,334.1 L113.0,335.2 L112.0,336.3 L111.0,337.4 L110.0,338.7 L109.0,339.9 L108.0,341.2 L107.0,342.7 L106.0,344.4 L105.0,346.1 L104.0,347.8 L103.0,349.6 L102.0,351.2 L101.0,352.7 L100.0,354.0 L99.0,355.2 L98.0,356.4 L97.0,357.6 L96.0,358.7 L95.0,359.7 L94.0,360.5 L93.0,361.3 L92.0,361.9 L91.0,362.4 L90.0,362.9 L89.0,363.4 L88.0,363.8 L87.0,364.2 L86.0,364.5 L85.0,364.7 L84.0,364.8 Z" fill="#2ca02c" stroke="none" fill-opacity="0.5"/>
<path d="M60.0,365.0 L61.0,365.0 L62.0,365.0 L63.0,365.0 L64.0,365.0 L65.0,364.9 L66.0,364.9 L67.0,364.9 L68.0,364.8 L69.0,364.8 L70.0,364.7 L71.0,364.7 L72.0,364.6 L73.0,364.5 L74.0,364.5 L75.0,364.4 L76.0,364.3 L77.0,364.0 L78.0,363.3 L79.0,362.2 L80.0,361.0 L81.0,359.6 L82.0,358.1 L83.0,356.7 L84.0,355.4 L85.0,354.3 L86.0,353.1 L87.0,351.9 L88.0,350.7 L89.0,349.5 L90.0,348.3 L91.0,347.1 L92.0,345.9 L93.0,344.7 L94.0,343.4 L95.0,342.2 L96.0,341.0 L97.0,339.8 L98.0,338.6 L99.0,337.4 L100.0,336.2 L101.0,335.1 L102.0,334.0 L103.0,332.9 L104.0,331.8 L105.0,330.7 L106.0,329.7 L107.0,328.6 L108.0,327.5 L109.0,326.3 L110.0,325.1 L111.0,323.9 L112.0,322.8 L113.0,321.6 L114.0,320.5 L115.0,319.4 L116.0,318.4 L117.0,317.4 L118.0,316.5 L119.0,315.6 L120.0,314.8 L121.0,314.0 L122.0,313.2 L123.0,312.6 L124.0,312.0 L125.0,311.5 L126.0,311.0 L127.0,310.5 L128.0,310.1 L129.0,309.7 L130.0,309.5 L131.0,309.3 L132.0,309.2 L133.0,309.1 L134.0,309.1 L135.0,309.0 L136.0,309.0 L137.0,309.0 L138.0,309.1 L139.0,309.4 L140.0,309.8 L141.0,310.3 L142.0,311.2 L143.0,312.3 L144.0,313.9 L145.0,316.4 L146.0,319.4 L147.0,322.2 L148.0,324.7 L149.0,327.2 L150.0,329.5 L151.0,331.8 L152.0,334.0 L153.0,336.1 L154.0,338.0 L155.0,339.9 L156.0,341.8 L157.0,343.8 L158.0,345.9 L159.0,348.1 L160.0,350.3 L161.0,352.1 L162.0,353.7 L163.0,355.1 L164.0,356.4 L165.0,357.6 L166.0,358.7 L167.0,359.6 L168.0,360.3 L169.0,360.9 L170.0,361.5 L171.0,362.0 L172.0,362.5 L173.0,362.9 L174.0,363.3 L175.0,363.6 L176.0,363.8 L177.0,364.0 L178.0,364.1 L179.0,364.3 L180.0,364.4 L181.0,364.5 L182.0,364.6 L183.0,364.7 L184.0,364.7 L185.0,364.8 L186.0,364.9 L187.0,364.9 L188.0,364.9 L189.0,365.0 L190.0,365.0 L190.0,365.5 L189.0,365.5 L188.0,365.5 L187.0,365.5 L186.0,365.5 L185.0,365.4 L184.0,365.4 L183.0,365.4 L182.0,365.4 L181.0,365.3 L180.0,365.3 L179.0,365.3 L178.0,365.2 L177.0,365.1 L176.0,365.0 L175.0,364.9 L174.0,364.8 L173.0,364.6 L172.0,364.5 L171.0,364.3 L170.0,364.1 L169.0,363.9 L168.0,363.6 L167.0,363.3 L166.0,362.9 L165.0,362.5 L164.0,362.0 L163.0,361.4 L162.0,360.7 L161.0,359.9 L160.0,359.0 L159.0,358.0 L158.0,356.8 L157.0,355.5 L156.0,354.0 L155.0,352.5 L154.0,350.8 L153.0,348.8 L152.0,346.7 L151.0,344.6 L150.0,342.5 L149.0,340.6 L148.0,338.7 L147.0,336.8 L146.0,334.5 L145.0,331.3 L144.0,329.2 L143.0,327.8 L142.0,326.7 L141.0,326.0 L140.0,325.4 L139.0,325.0 L138.0,324.8 L137.0,324.8 L136.0,324.8 L135.0,324.9 L134.0,324.9 L133.0,325.0 L132.0,325.1 L131.0,325.2 L130.0,325.5 L129.0,325.9 L128.0,326.3 L127.0,326.7 L126.0,327.2 L125.0,327.6 L124.0,328.0 L123.0,328.4 L122.0,328.8 L121.0,329.3 L120.0,329.8 L119.0,330.3 L118.0,330.8 L117.0,331.5 L116.0,332.2 L115.0,333.0 L114.0,333.9 L113.0,335.0 L112.0,336.2 L111.0,337.4 L110.0,338.6 L109.0,339.9 L108.0,341.2 L107.0,342.7 L106.0,344.4 L105.0,346.1 L104.0,347.8 L103.0,349.6 L102.0,351.2 L101.0,352.7 L100.0,354.0 L99.0,355.2 L98.0,356.4 L97.0,357.6 L96.0,358.6 L95.0,359.6 L94.0,360.5 L93.0,361.3 L92.0,361.9 L91.0,362.4 L90.0,362.9 L89.0,363.4 L88.0,363.9 L87.0,364.2 L86.0,364.5 L85.0,364.7 L84.0,364.8 L83.0,364.9 L82.0,364.9 L81.0,365.0 L80.0,365.0 L79.0,365.1 L78.0,365.1 L77.0,365.2 L76.0,365.2 L75.0,365.2 L74.0,365.3 L73.0,365.3 L72.0,365.3 L71.0,365.4 L70.0,365.4 L69.0,365.4 L68.0,365.4 L67.0,365.4 L66.0,365.5 L65.0,365.5 L64.0,365.5 L63.0,365.5 L62.0,365.5 L61.0,365.5 L60.0,365.5 Z" fill="#1f77b4" stroke="none" fill-opacity="0.6"/>
<path d="M115.0,365.2 L116.0,365.2 L117.0,365.2 L118.0,365.2 L119.0,365.2 L120.0,365.1 L121.0,365.1 L122.0,365.1 L123.0,365.0 L124.0,365.0 L125.0,364.9 L126.0,364.8 L127.0,364.8 L128.0,364.7 L129.0,364.6 L130.0,364.5 L131.0,364.3 L132.0,364.0 L133.0,363.6 L134.0,363.1 L135.0,362.6 L136.0,362.0 L137.0,361.3 L138.0,360.4 L139.0,359.4 L140.0,358.2 L141.0,357.0 L142.0,355.7 L143.0,354.1 L144.0,352.4 L145.0,350.7 L146.0,349.0 L147.0,347.3 L148.0,345.4 L149.0,343.6 L150.0,341.7 L151.0,340.0 L152.0,338.3 L153.0,336.6 L154.0,335.0 L155.0,333.4 L156.0,332.0 L157.0,330.6 L158.0,329.4 L159.0,328.3 L160.0,327.3 L161.0,326.5 L162.0,325.7 L163.0,325.0 L164.0,324.4 L165.0,323.8 L166.0,323.2 L167.0,322.8 L168.0,322.5 L169.0,322.3 L170.0,322.1 L171.0,321.9 L172.0,321.8 L173.0,321.8 L174.0,321.8 L175.0,322.0 L176.0,322.1 L177.0,322.4 L178.0,322.6 L179.0,323.0 L180.0,323.4 L181.0,324.0 L182.0,324.6 L183.0,325.2 L184.0,325.9 L185.0,326.5 L186.0,327.1 L187.0,327.8 L188.0,328.5 L189.0,329.2 L190.0,330.0 L191.0,330.7 L192.0,331.5 L193.0,332.2 L194.0,333.0 L195.0,333.7 L196.0,334.4 L197.0,335.1 L198.0,335.8 L199.0,336.5 L200.0,337.2 L201.0,337.9 L202.0,338.6 L203.0,339.2 L204.0,339.9 L205.0,340.5 L206.0,341.1 L207.0,341.7 L208.0,342.3 L209.0,342.9 L210.0,343.4 L211.0,344.0 L212.0,344.5 L213.0,345.1 L214.0,345.7 L215.0,346.3 L216.0,346.9 L217.0,347.6 L218.0,348.3 L219.0,349.0 L220.0,349.6 L221.0,350.3 L222.0,351.0 L223.0,351.7 L224.0,352.3 L225.0,353.0 L226.0,353.7 L227.0,354.3 L228.0,355.0 L229.0,355.6 L230.0,356.3 L231.0,357.0 L232.0,357.6 L233.0,358.3 L234.0,359.0 L235.0,359.7 L236.0,360.3 L237.0,360.9 L238.0,361.5 L239.0,362.1 L240.0,362.8 L241.0,363.4 L242.0,364.0 L243.0,364.5 L244.0,364.9 L245.0,365.0 L246.0,365.0 L247.0,365.1 L248.0,365.1 L249.0,365.1 L250.0,365.1 L251.0,365.1 L252.0,365.1 L253.0,365.2 L254.0,365.2 L255.0,365.2 L256.0,365.2 L257.0,365.2 L258.0,365.2 L259.0,365.2 L260.0,365.2 L260.0,366.0 L259.0,366.0 L258.0,366.0 L257.0,366.0 L256.0,366.0 L255.0,366.0 L254.0,366.0 L253.0,366.0 L252.0,366.0 L251.0,366.0 L250.0,366.0 L249.0,366.0 L248.0,366.0 L247.0,366.0 L246.0,366.0 L245.0,366.0 L244.0,366.0 L243.0,365.9 L242.0,365.9 L241.0,365.8 L240.0,365.7 L239.0,365.6 L238.0,365.5 L237.0,365.3 L236.0,365.1 L235.0,364.8 L234.0,364.4 L233.0,364.0 L232.0,363.6 L231.0,363.2 L230.0,362.9 L229.0,362.5 L228.0,362.2 L227.0,361.8 L226.0,361.5 L225.0,361.1 L224.0,360.7 L223.0,360.4 L222.0,360.0 L221.0,359.6 L220.0,359.3 L219.0,358.9 L218.0,358.5 L217.0,358.1 L216.0,357.8 L215.0,357.4 L214.0,357.0 L213.0,356.7 L212.0,356.4 L211.0,356.1 L210.0,355.8 L209.0,355.4 L208.0,355.1 L207.0,354.7 L206.0,354.4 L205.0,354.0 L204.0,353.6 L203.0,353.2 L202.0,352.7 L201.0,352.3 L200.0,351.8 L199.0,351.3 L198.0,350.8 L197.0,350.3 L196.0,349.7 L195.0,349.1 L194.0,348.4 L193.0,347.7 L192.0,347.0 L191.0,346.2 L190.0,345.5 L189.0,344.7 L188.0,344.0 L187.0,343.3 L186.0,342.6 L185.0,342.0 L184.0,341.4 L183.0,340.8 L182.0,340.3 L181.0,339.7 L180.0,339.2 L179.0,338.8 L178.0,338.5 L177.0,338.2 L176.0,337.9 L175.0,337.7 L174.0,337.6 L173.0,337.5 L172.0,337.6 L171.0,337.8 L170.0,338.1 L169.0,338.6 L168.0,339.0 L167.0,339.6 L166.0,340.4 L165.0,341.4 L164.0,342.5 L163.0,343.8 L162.0,345.3 L161.0,346.9 L160.0,348.5 L159.0,350.1 L158.0,351.8 L157.0,353.5 L156.0,355.0 L155.0,356.4 L154.0,357.7 L153.0,358.9 L152.0,360.0 L151.0,361.0 L150.0,361.9 L149.0,362.7 L148.0,363.5 L147.0,364.1 L146.0,364.5 L145.0,364.8 L144.0,365.0 L143.0,365.3 L142.0,365.4 L141.0,365.6 L140.0,365.6 L139.0,365.6 L138.0,365.6 L137.0,365.6 L136.0,365.6 L135.0,365.6 L134.0,365.6 L133.0,365.6 L132.0,365.6 L131.0,365.6 L130.0,365.6 L129.0,365.6 L128.0,365.6 L127.0,365.6 L126.0,365.6 L125.0,365.6 L124.0,365.6 L123.0,365.6 L122.0,365.6 L121.0,365.6 L120.0,365.6 L119.0,365.6 L118.0,365.6 L117.0,365.6 L116.0,365.6 L115.0,365.6 Z" fill="#d62728" stroke="none" fill-opacity="0.5"/>
<path d="M48.5,365.2 L49.5,365.2 L50.5,365.2 L51.5,365.1 L52.5,365.1 L53.5,365.1 L54.5,365.1 L55.5,365.0 L56.5,365.0 L57.5,364.9 L58.5,364.9 L59.5,364.8 L60.5,364.8 L61.5,364.7 L62.5,364.7 L63.5,364.6 L64.5,364.5 L65.5,364.5 L66.5,364.4 L67.5,364.3 L68.5,364.2 L69.5,364.1 L70.5,364.0 L71.5,363.9 L72.5,363.8 L73.5,363.6 L74.5,363.5 L75.5,363.3 L76.5,363.1 L77.5,362.8 L78.5,362.3 L79.5,361.8 L80.5,361.1 L81.5,360.4 L82.5,359.7 L83.5,358.9 L84.5,358.2 L85.5,357.4 L86.5,356.4 L87.5,355.5 L88.5,354.4 L89.5,353.4 L90.5,352.3 L91.5,351.2 L92.5,350.1 L93.5,349.0 L94.5,347.8 L95.5,346.6 L96.5,345.4 L97.5,344.1 L98.5,342.9 L99.5,341.6 L100.5,340.3 L101.5,339.1 L102.5,337.7 L103.5,336.4 L104.5,335.1 L105.5,333.8 L106.5,332.5 L107.5,331.2 L108.5,330.0 L109.5,328.8 L110.5,327.7 L111.5,326.5 L112.5,325.4 L113.5,324.3 L114.5,323.3 L115.5,322.3 L116.5,321.3 L117.5,320.4 L118.5,319.5 L119.5,318.6 L120.5,317.8 L121.5,317.0 L122.5,316.2 L123.5,315.3 L124.5,314.5 L125.5,313.5 L126.5,312.5 L127.5,311.5 L128.5,310.7 L129.5,310.3 L130.5,310.1 L131.5,309.9 L132.5,309.8 L133.5,309.7 L134.5,309.6 L135.5,309.6 L136.5,309.7 L137.5,309.8 L138.5,310.0 L139.5,310.2 L140.5,310.4 L141.5,310.6 L142.5,310.7 L143.5,310.9 L144.5,311.1 L145.5,311.3 L146.5,311.5 L147.5,311.8 L148.5,312.0 L149.5,312.3 L150.5,312.6 L151.5,312.9 L152.5,313.2 L153.5,313.6 L154.5,314.1 L155.5,314.5 L156.5,315.0 L157.5,315.4 L158.5,315.9 L159.5,316.3 L160.5,316.7 L161.5,317.1 L162.5,317.5 L163.5,318.0 L164.5,318.4 L165.5,318.8 L166.5,319.2 L167.5,319.6 L168.5,320.0 L169.5,320.4 L170.5,320.8 L171.5,321.1 L172.5,321.5 L173.5,321.8 L174.5,322.1 L175.5,322.4 L176.5,322.8 L177.5,323.1 L178.5,323.6 L179.5,324.0 L180.5,324.6 L181.5,325.3 L182.5,326.2 L183.5,327.1 L184.5,328.1 L185.5,329.1 L186.5,330.1 L187.5,330.9 L188.5,331.8 L189.5,332.7 L190.5,333.5 L191.5,334.4 L192.5,335.2 L193.5,336.1 L194.5,336.9 L195.5,337.7 L196.5,338.5 L197.5,339.3 L198.5,340.1 L199.5,340.8 L200.5,341.6 L201.5,342.3 L202.5,343.1 L203.5,343.8 L204.5,344.6 L205.5,345.3 L206.5,346.0 L207.5,346.8 L208.5,347.5 L209.5,348.3 L210.5,349.0 L211.5,349.7 L212.5,350.5 L213.5,351.2 L214.5,351.9 L215.5,352.6 L216.5,353.4 L217.5,354.2 L218.5,354.9 L219.5,355.7 L220.5,356.4 L221.5,357.2 L222.5,357.9 L223.5,358.6 L224.5,359.2 L225.5,359.8 L226.5,360.4 L227.5,361.0 L228.5,361.6 L229.5,362.1 L230.5,362.6 L231.5,363.1 L232.5,363.5 L233.5,363.8 L234.5,364.1 L235.5,364.3 L236.5,364.6 L237.5,364.8 L238.5,365.0 L239.5,365.2 L240.5,365.3 L241.5,365.4 L242.5,365.5 L243.5,365.5 L244.5,365.5 L245.5,365.5 L246.5,365.5 L247.5,365.5 L248.5,365.5 L249.5,365.5 L250.5,365.5 L251.5,365.5 L252.5,365.5 L253.5,365.5 L254.5,365.5 L255.5,365.5 L256.5,365.5 L257.5,365.5 L258.5,365.5 L259.5,365.5 L260.5,365.5 L261.5,365.5 L262.5,365.5 L263.5,365.5 L264.5,365.5 L265.5,365.5 L266.5,365.5 L267.5,365.5 L268.5,365.5 L269.5,365.5 L270.5,365.5 L271.5,365.5 L272.5,365.5 L273.5,365.5 L274.5,365.5" fill="none" stroke="#008000" stroke-width="1.6" stroke-linejoin="round" />
<path d="M48.5,365.3 L49.5,365.3 L50.5,365.3 L51.5,365.2 L52.5,365.2 L53.5,365.2 L54.5,365.2 L55.5,365.1 L56.5,365.1 L57.5,365.0 L58.5,365.0 L59.5,364.9 L60.5,364.9 L61.5,364.8 L62.5,364.8 L63.5,364.7 L64.5,364.6 L65.5,364.6 L66.5,364.5 L67.5,364.4 L68.5,364.3 L69.5,364.2 L70.5,364.1 L71.5,364.0 L72.5,363.9 L73.5,363.7 L74.5,363.6 L75.5,363.4 L76.5,363.2 L77.5,362.9 L78.5,362.4 L79.5,361.9 L80.5,361.2 L81.5,360.5 L82.5,359.8 L83.5,359.0 L84.5,358.3 L85.5,357.5 L86.5,356.5 L87.5,355.6 L88.5,354.5 L89.5,353.5 L90.5,352.4 L91.5,351.3 L92.5,350.2 L93.5,349.1 L94.5,347.9 L95.5,346.7 L96.5,345.5 L97.5,344.2 L98.5,343.0 L99.5,341.7 L100.5,340.4 L101.5,339.2 L102.5,337.8 L103.5,336.5 L104.5,335.2 L105.5,333.9 L106.5,332.6 L107.5,331.3 L108.5,330.1 L109.5,328.9 L110.5,327.7 L111.5,326.6 L112.5,325.4 L113.5,324.3 L114.5,323.3 L115.5,322.3 L116.5,321.4 L117.5,320.6 L118.5,319.7 L119.5,318.9 L120.5,318.2 L121.5,317.5 L122.5,316.8 L123.5,316.2 L124.5,315.7 L125.5,315.2 L126.5,314.6 L127.5,314.1 L128.5,313.6 L129.5,313.2 L130.5,312.8 L131.5,312.6 L132.5,312.5 L133.5,312.5 L134.5,312.5 L135.5,312.5 L136.5,312.5 L137.5,312.5 L138.5,312.7 L139.5,313.1 L140.5,313.6 L141.5,314.3 L142.5,315.1 L143.5,316.2 L144.5,317.9 L145.5,319.8 L146.5,321.8 L147.5,323.8 L148.5,326.1 L149.5,328.5 L150.5,331.0 L151.5,333.4 L152.5,335.6 L153.5,337.6 L154.5,339.5 L155.5,341.4 L156.5,343.3 L157.5,345.3 L158.5,347.5 L159.5,349.7 L160.5,351.7 L161.5,353.5 L162.5,354.9 L163.5,356.3 L164.5,357.5 L165.5,358.7 L166.5,359.7 L167.5,360.5 L168.5,361.1 L169.5,361.7 L170.5,362.2 L171.5,362.7 L172.5,363.1 L173.5,363.5 L174.5,363.8 L175.5,364.0 L176.5,364.2 L177.5,364.3 L178.5,364.4 L179.5,364.6 L180.5,364.7 L181.5,364.8 L182.5,364.8 L183.5,364.9 L184.5,364.9 L185.5,364.9 L186.5,364.9 L187.5,364.9 L188.5,364.9 L189.5,364.9 L190.5,364.9 L191.5,364.9 L192.5,364.9 L193.5,364.9 L194.5,364.9 L195.5,364.9 L196.5,364.9 L197.5,364.9 L198.5,364.9 L199.5,364.9 L200.5,364.9 L201.5,364.9 L202.5,364.9 L203.5,364.9 L204.5,364.9 L205.5,364.9 L206.5,364.9 L207.5,364.9 L208.5,364.9 L209.5,364.9 L210.5,364.9 L211.5,364.9 L212.5,364.9 L213.5,364.9 L214.5,364.9 L215.5,364.9 L216.5,364.9 L217.5,364.9 L218.5,364.9 L219.5,364.9 L220.5,364.9 L221.5,364.9 L222.5,364.9 L223.5,364.9 L224.5,364.9 L225.5,364.9 L226.5,364.9 L227.5,364.9 L228.5,364.9 L229.5,364.9 L230.5,364.9 L231.5,364.9 L232.5,364.9 L233.5,364.9 L234.5,364.9 L235.5,364.9 L236.5,364.9 L237.5,364.9 L238.5,364.9 L239.5,364.9 L240.5,364.9 L241.5,364.9 L242.5,364.9 L243.5,364.9 L244.5,364.9 L245.5,364.9 L246.5,364.9 L247.5,364.9 L248.5,364.9 L249.5,364.9 L250.5,364.9 L251.5,364.9 L252.5,364.9 L253.5,364.9 L254.5,364.9 L255.5,364.9 L256.5,364.9 L257.5,364.9 L258.5,364.9 L259.5,364.9 L260.5,364.9 L261.5,364.9 L262.5,364.9 L263.5,364.9 L264.5,364.9 L265.5,364.9 L266.5,364.9 L267.5,364.9 L268.5,364.9 L269.5,364.9 L270.5,364.9 L271.5,364.9 L272.5,364.9 L273.5,364.9 L274.5,364.9" fill="none" stroke="#0000ff" stroke-width="1.6" stroke-linejoin="round" />
<path d="M48.5,365.3 L49.5,365.3 L50.5,365.3 L51.5,365.3 L52.5,365.3 L53.5,365.3 L54.5,365.3 L55.5,365.3 L56.5,365.3 L57.5,365.3 L58.5,365.3 L59.5,365.3 L60.5,365.3 L61.5,365.3 L62.5,365.3 L63.5,365.3 L64.5,365.3 L65.5,365.3 L66.5,365.3 L67.5,365.3 L68.5,365.3 L69.5,365.3 L70.5,365.3 L71.5,365.3 L72.5,365.3 L73.5,365.3 L74.5,365.3 L75.5,365.3 L76.5,365.3 L77.5,365.3 L78.5,365.3 L79.5,365.3 L80.5,365.2 L81.5,365.2 L82.5,365.2 L83.5,365.2 L84.5,365.2 L85.5,365.2 L86.5,365.2 L87.5,365.2 L88.5,365.2 L89.5,365.2 L90.5,365.2 L91.5,365.2 L92.5,365.2 L93.5,365.2 L94.5,365.2 L95.5,365.2 L96.5,365.2 L97.5,365.2 L98.5,365.2 L99.5,365.1 L100.5,365.1 L101.5,365.1 L102.5,365.1 L103.5,365.1 L104.5,365.1 L105.5,365.1 L106.5,365.1 L107.5,365.1 L108.5,365.1 L109.5,365.1 L110.5,365.1 L111.5,365.0 L112.5,365.0 L113.5,365.0 L114.5,365.0 L115.5,365.0 L116.5,365.0 L117.5,365.0 L118.5,365.0 L119.5,365.0 L120.5,365.0 L121.5,364.9 L122.5,364.9 L123.5,364.9 L124.5,364.9 L125.5,364.9 L126.5,364.8 L127.5,364.7 L128.5,364.6 L129.5,364.5 L130.5,364.4 L131.5,364.3 L132.5,364.1 L133.5,363.9 L134.5,363.7 L135.5,363.5 L136.5,363.2 L137.5,362.9 L138.5,362.5 L139.5,362.2 L140.5,361.7 L141.5,361.3 L142.5,360.7 L143.5,360.0 L144.5,359.2 L145.5,358.3 L146.5,357.4 L147.5,356.4 L148.5,355.2 L149.5,353.8 L150.5,352.3 L151.5,350.6 L152.5,348.9 L153.5,347.2 L154.5,345.3 L155.5,343.3 L156.5,341.2 L157.5,339.2 L158.5,337.3 L159.5,335.6 L160.5,333.9 L161.5,332.3 L162.5,331.0 L163.5,329.9 L164.5,328.9 L165.5,328.0 L166.5,327.2 L167.5,326.5 L168.5,325.9 L169.5,325.5 L170.5,325.1 L171.5,324.8 L172.5,324.6 L173.5,324.4 L174.5,324.4 L175.5,324.6 L176.5,324.9 L177.5,325.4 L178.5,325.8 L179.5,326.3 L180.5,326.8 L181.5,327.5 L182.5,328.3 L183.5,329.1 L184.5,329.9 L185.5,330.8 L186.5,331.6 L187.5,332.4 L188.5,333.2 L189.5,334.0 L190.5,334.8 L191.5,335.6 L192.5,336.4 L193.5,337.2 L194.5,338.0 L195.5,338.7 L196.5,339.5 L197.5,340.2 L198.5,341.0 L199.5,341.7 L200.5,342.4 L201.5,343.1 L202.5,343.7 L203.5,344.4 L204.5,345.1 L205.5,345.8 L206.5,346.5 L207.5,347.2 L208.5,347.9 L209.5,348.6 L210.5,349.3 L211.5,350.0 L212.5,350.7 L213.5,351.4 L214.5,352.1 L215.5,352.8 L216.5,353.6 L217.5,354.3 L218.5,355.0 L219.5,355.8 L220.5,356.5 L221.5,357.2 L222.5,357.9 L223.5,358.6 L224.5,359.2 L225.5,359.8 L226.5,360.4 L227.5,361.0 L228.5,361.5 L229.5,362.1 L230.5,362.6 L231.5,363.1 L232.5,363.5 L233.5,363.8 L234.5,364.1 L235.5,364.3 L236.5,364.6 L237.5,364.8 L238.5,365.0 L239.5,365.2 L240.5,365.3 L241.5,365.4 L242.5,365.5 L243.5,365.5 L244.5,365.5 L245.5,365.5 L246.5,365.5 L247.5,365.5 L248.5,365.5 L249.5,365.5 L250.5,365.5 L251.5,365.5 L252.5,365.5 L253.5,365.5 L254.5,365.5 L255.5,365.5 L256.5,365.5 L257.5,365.5 L258.5,365.5 L259.5,365.5 L260.5,365.5 L261.5,365.5 L262.5,365.5 L263.5,365.5 L264.5,365.5 L265.5,365.5 L266.5,365.5 L267.5,365.5 L268.5,365.5 L269.5,365.5 L270.5,365.5 L271.5,365.5 L272.5,365.5 L273.5,365.5 L274.5,365.5" fill="none" stroke="#ff0000" stroke-width="1.6" stroke-linejoin="round" />
</g>
<line x1="161.2" y1="375.62" x2="161.2" y2="302.28" stroke="#008000" stroke-width="3.5" stroke-dasharray="3.4 5.5"/>
<rect x="48.50" y="302.28" width="226.00" height="73.35" stroke="#222" stroke-width="1.0" fill="none" />
<text transform="translate(44.85,361.36) rotate(-90) scale(0.9800,1)" font-size="14.69" font-family='"Liberation Sans", sans-serif' fill="#000">Fiber 9</text>
<text transform="translate(200.70,320.74) scale(0.9376,1)" font-size="13.94" font-family='"Liberation Sans", sans-serif' fill="#000" font-style="italic">σ</text>
<text transform="translate(214.40,318.18) scale(1.6594,1)" font-size="9.18" font-family='"Liberation Sans", sans-serif' fill="#000">=</text>
<text transform="translate(229.50,320.75) scale(1.1405,1)" font-size="12.57" font-family='"Liberation Sans", sans-serif' fill="#000">0.05</text>
<g clip-path="url(#ca5)">
<path d="M48.5,419.3 L49.5,417.3 L50.5,415.7 L51.5,414.3 L52.5,412.5 L53.5,410.7 L54.5,409.0 L55.5,407.3 L56.5,405.8 L57.5,404.6 L58.5,403.0 L59.5,401.3 L60.5,399.7 L61.5,397.3 L62.5,395.9 L63.5,395.1 L64.5,393.5 L65.5,392.2 L66.5,390.4 L67.5,389.1 L68.5,388.4 L69.5,387.7 L70.5,386.4 L71.5,384.9 L72.5,384.5 L73.5,383.6 L74.5,382.9 L75.5,382.5 L76.5,381.2 L77.5,381.0 L78.5,381.3 L79.5,380.4 L80.5,380.1 L81.5,380.2 L82.5,379.9 L83.5,379.8 L84.5,378.9 L85.5,379.0 L86.5,379.5 L87.5,379.9 L88.5,380.0 L89.5,379.6 L90.5,379.1 L91.5,378.7 L92.5,378.7 L93.5,378.6 L94.5,378.5 L95.5,378.1 L96.5,378.2 L97.5,378.9 L98.5,379.8 L99.5,380.3 L100.5,379.9 L101.5,380.3 L102.5,380.4 L103.5,380.4 L104.5,380.3 L105.5,380.7 L106.5,381.2 L107.5,380.4 L108.5,380.1 L109.5,380.4 L110.5,380.3 L111.5,380.0 L112.5,379.5 L113.5,379.1 L114.5,379.2 L115.5,379.5 L116.5,379.2 L117.5,378.6 L118.5,379.0 L119.5,378.9 L120.5,378.9 L121.5,379.1 L122.5,379.1 L123.5,379.5 L124.5,379.4 L125.5,379.2 L126.5,378.8 L127.5,378.5 L128.5,378.9 L129.5,379.5 L130.5,379.7 L131.5,380.0 L132.5,380.1 L133.5,380.1 L134.5,381.0 L135.5,381.9 L136.5,383.1 L137.5,384.4 L138.5,386.4 L139.5,388.5 L140.5,390.8 L141.5,393.2 L142.5,395.7 L143.5,397.9 L144.5,400.0 L145.5,401.9 L146.5,403.5 L147.5,405.8 L148.5,406.8 L149.5,407.5 L150.5,408.4 L151.5,408.5 L152.5,409.3 L153.5,410.4 L154.5,410.4 L155.5,410.7 L156.5,411.0 L157.5,410.7 L158.5,411.1 L159.5,411.4 L160.5,412.3 L161.5,412.6 L162.5,413.0 L163.5,414.4 L164.5,414.6 L165.5,414.8 L166.5,416.4 L167.5,417.8 L168.5,418.8 L169.5,420.3 L170.5,421.1 L171.5,421.6 L172.5,422.1 L173.5,423.4 L174.5,424.8 L175.5,425.6 L176.5,426.6 L177.5,426.8 L178.5,427.9 L179.5,429.0 L180.5,429.3 L181.5,429.0 L182.5,428.9 L183.5,429.2 L184.5,429.3 L185.5,429.3 L186.5,429.6 L187.5,430.0 L188.5,430.1 L189.5,430.0 L190.5,430.3 L191.5,430.5 L192.5,429.6 L193.5,429.5 L194.5,430.2 L195.5,430.6 L196.5,430.6 L197.5,430.4 L198.5,430.3 L199.5,430.6 L200.5,430.7 L201.5,430.4 L202.5,430.4 L203.5,430.8 L204.5,430.9 L205.5,430.4 L206.5,430.7 L207.5,431.0 L208.5,431.0 L209.5,431.4 L210.5,431.6 L211.5,431.9 L212.5,431.5 L213.5,431.3 L214.5,431.2 L215.5,431.7 L216.5,432.2 L217.5,432.2 L218.5,432.1 L219.5,431.3 L220.5,431.8 L221.5,432.3 L222.5,432.0 L223.5,431.9 L224.5,432.1 L225.5,432.2 L226.5,431.6 L227.5,431.8 L228.5,432.0 L229.5,431.7 L230.5,432.2 L231.5,432.6 L232.5,432.0 L233.5,431.4 L234.5,431.5 L235.5,432.1 L236.5,432.0 L237.5,431.6 L238.5,431.4 L239.5,431.4 L240.5,431.6 L241.5,432.1 L242.5,432.2 L243.5,431.8 L244.5,431.5 L245.5,431.7 L246.5,431.5 L247.5,431.3 L248.5,431.9 L249.5,432.0 L250.5,431.8 L251.5,431.9 L252.5,432.0 L253.5,432.0 L254.5,432.3 L255.5,433.4 L256.5,434.3 L257.5,434.5 L258.5,434.3 L259.5,434.1 L260.5,433.7 L261.5,433.7 L262.5,433.9 L263.5,433.7 L264.5,433.7 L265.5,433.6 L266.5,432.9 L267.5,432.8 L268.5,432.8 L269.5,432.7 L270.5,433.3 L271.5,433.5 L272.5,433.2 L273.5,433.5 L274.5,433.7" fill="none" stroke="#b9b9b9" stroke-width="3.4" stroke-linejoin="round" />
<path d="M48.5,429.7 L49.5,428.3 L50.5,426.8 L51.5,424.8 L52.5,423.1 L53.5,421.1 L54.5,419.1 L55.5,417.8 L56.5,416.5 L57.5,414.8 L58.5,413.0 L59.5,411.8 L60.5,410.6 L61.5,409.0 L62.5,407.5 L63.5,405.7 L64.5,404.0 L65.5,402.8 L66.5,401.5 L67.5,400.0 L68.5,399.2 L69.5,398.2 L70.5,396.5 L71.5,395.7 L72.5,395.5 L73.5,394.5 L74.5,393.6 L75.5,392.7 L76.5,391.8 L77.5,391.3 L78.5,391.1 L79.5,391.4 L80.5,390.9 L81.5,390.6 L82.5,390.4 L83.5,389.8 L84.5,390.1 L85.5,390.2 L86.5,390.0 L87.5,389.4 L88.5,389.3 L89.5,389.4 L90.5,389.9 L91.5,390.1 L92.5,389.5 L93.5,389.2 L94.5,389.0 L95.5,389.0 L96.5,389.3 L97.5,389.7 L98.5,389.8 L99.5,390.1 L100.5,390.2 L101.5,391.0 L102.5,391.3 L103.5,390.7 L104.5,391.2 L105.5,391.3 L106.5,390.9 L107.5,391.3 L108.5,391.0 L109.5,390.8 L110.5,390.6 L111.5,390.5 L112.5,390.9 L113.5,390.3 L114.5,389.8 L115.5,389.6 L116.5,389.6 L117.5,390.0 L118.5,389.5 L119.5,389.4 L120.5,389.3 L121.5,388.9 L122.5,388.7 L123.5,389.5 L124.5,389.9 L125.5,389.5 L126.5,389.3 L127.5,389.6 L128.5,389.2 L129.5,389.0 L130.5,390.1 L131.5,390.1 L132.5,389.9 L133.5,390.8 L134.5,391.3 L135.5,392.1 L136.5,393.9 L137.5,395.6 L138.5,397.2 L139.5,399.1 L140.5,401.5 L141.5,404.1 L142.5,406.7 L143.5,409.1 L144.5,410.8 L145.5,412.1 L146.5,414.2 L147.5,416.6 L148.5,417.3 L149.5,417.6 L150.5,418.3 L151.5,419.7 L152.5,420.3 L153.5,420.4 L154.5,421.1 L155.5,421.8 L156.5,421.9 L157.5,421.7 L158.5,421.8 L159.5,422.4 L160.5,423.2 L161.5,423.3 L162.5,423.4 L163.5,424.1 L164.5,425.4 L165.5,426.3 L166.5,427.4 L167.5,428.7 L168.5,429.6 L169.5,430.7 L170.5,431.8 L171.5,432.5 L172.5,433.3 L173.5,435.1 L174.5,435.8 L175.5,435.9 L176.5,437.2 L177.5,438.0 L178.5,438.1 L179.5,438.4 L180.5,439.2 L181.5,440.1 L182.5,440.5 L183.5,440.4 L184.5,440.5 L185.5,440.3 L186.5,440.2 L187.5,440.4 L188.5,440.4 L189.5,440.9 L190.5,441.1 L191.5,440.8 L192.5,440.9 L193.5,441.1 L194.5,440.6 L195.5,440.7 L196.5,440.7 L197.5,440.8 L198.5,441.2 L199.5,441.2 L200.5,441.3 L201.5,441.4 L202.5,441.3 L203.5,441.0 L204.5,441.1 L205.5,441.3 L206.5,441.2 L207.5,441.5 L208.5,441.7 L209.5,441.4 L210.5,441.1 L211.5,441.5 L212.5,442.1 L213.5,442.3 L214.5,442.5 L215.5,442.8 L216.5,442.7 L217.5,442.5 L218.5,442.2 L219.5,442.0 L220.5,442.1 L221.5,442.4 L222.5,442.6 L223.5,442.6 L224.5,442.5 L225.5,442.6 L226.5,442.7 L227.5,442.6 L228.5,442.7 L229.5,442.4 L230.5,442.1 L231.5,442.4 L232.5,442.7 L233.5,442.5 L234.5,442.3 L235.5,443.0 L236.5,442.9 L237.5,442.3 L238.5,442.5 L239.5,442.3 L240.5,442.2 L241.5,442.9 L242.5,443.0 L243.5,442.7 L244.5,442.5 L245.5,442.3 L246.5,442.3 L247.5,442.2 L248.5,441.9 L249.5,441.9 L250.5,442.4 L251.5,442.7 L252.5,442.9 L253.5,442.7 L254.5,443.2 L255.5,444.6 L256.5,445.0 L257.5,444.6 L258.5,444.2 L259.5,444.4 L260.5,444.3 L261.5,444.4 L262.5,444.4 L263.5,444.4 L264.5,444.9 L265.5,444.1 L266.5,443.7 L267.5,444.0 L268.5,443.5 L269.5,443.5 L270.5,443.7 L271.5,444.1 L272.5,443.7 L273.5,443.6 L274.5,444.5" fill="none" stroke="#b9b9b9" stroke-width="3.4" stroke-linejoin="round" />
<path d="M48.5,431.8 L49.5,430.2 L50.5,428.6 L51.5,427.0 L52.5,425.4 L53.5,423.7 L54.5,422.0 L55.5,420.3 L56.5,418.5 L57.5,416.8 L58.5,415.0 L59.5,413.2 L60.5,411.4 L61.5,409.6 L62.5,407.8 L63.5,406.0 L64.5,404.3 L65.5,402.5 L66.5,400.8 L67.5,399.2 L68.5,397.7 L69.5,396.1 L70.5,394.6 L71.5,393.2 L72.5,391.9 L73.5,390.8 L74.5,389.8 L75.5,388.9 L76.5,388.0 L77.5,387.2 L78.5,386.6 L79.5,386.0 L80.5,385.6 L81.5,385.3 L82.5,385.0 L83.5,384.8 L84.5,384.5 L85.5,384.3 L86.5,384.2 L87.5,384.1 L88.5,384.1 L89.5,384.1 L90.5,384.1 L91.5,384.2 L92.5,384.3 L93.5,384.3 L94.5,384.4 L95.5,384.5 L96.5,384.6 L97.5,384.8 L98.5,385.1 L99.5,385.4 L100.5,385.8 L101.5,386.2 L102.5,386.5 L103.5,386.7 L104.5,386.8 L105.5,386.8 L106.5,386.7 L107.5,386.5 L108.5,386.4 L109.5,386.2 L110.5,386.0 L111.5,385.9 L112.5,385.7 L113.5,385.6 L114.5,385.4 L115.5,385.2 L116.5,385.0 L117.5,384.9 L118.5,384.7 L119.5,384.6 L120.5,384.5 L121.5,384.4 L122.5,384.4 L123.5,384.4 L124.5,384.5 L125.5,384.5 L126.5,384.6 L127.5,384.8 L128.5,384.9 L129.5,385.1 L130.5,385.5 L131.5,386.0 L132.5,386.6 L133.5,387.3 L134.5,388.5 L135.5,390.2 L136.5,392.4 L137.5,394.6 L138.5,396.6 L139.5,398.5 L140.5,400.5 L141.5,402.5 L142.5,404.5 L143.5,406.5 L144.5,408.6 L145.5,410.7 L146.5,412.7 L147.5,414.6 L148.5,416.4 L149.5,418.0 L150.5,419.6 L151.5,421.1 L152.5,422.6 L153.5,423.9 L154.5,425.2 L155.5,426.4 L156.5,427.5 L157.5,428.6 L158.5,429.7 L159.5,430.6 L160.5,431.4 L161.5,432.1 L162.5,432.7 L163.5,433.3 L164.5,433.8 L165.5,434.3 L166.5,434.7 L167.5,435.2 L168.5,435.7 L169.5,436.1 L170.5,436.5 L171.5,436.7 L172.5,436.7 L173.5,436.8 L174.5,436.9 L175.5,436.9 L176.5,436.9 L177.5,437.0 L178.5,437.0 L179.5,437.0 L180.5,437.1 L181.5,437.1 L182.5,437.1 L183.5,437.1 L184.5,437.1 L185.5,437.2 L186.5,437.2 L187.5,437.2 L188.5,437.2 L189.5,437.2 L190.5,437.2 L191.5,437.2 L192.5,437.3 L193.5,437.3 L194.5,437.3 L195.5,437.3 L196.5,437.3 L197.5,437.3 L198.5,437.3 L199.5,437.3 L200.5,437.3 L201.5,437.3 L202.5,437.4 L203.5,437.4 L204.5,437.4 L205.5,437.4 L206.5,437.4 L207.5,437.4 L208.5,437.4 L209.5,437.4 L210.5,437.4 L211.5,437.4 L212.5,437.4 L213.5,437.4 L214.5,437.4 L215.5,437.4 L216.5,437.5 L217.5,437.5 L218.5,437.5 L219.5,437.5 L220.5,437.5 L221.5,437.5 L222.5,437.5 L223.5,437.5 L224.5,437.5 L225.5,437.5 L226.5,437.5 L227.5,437.5 L228.5,437.6 L229.5,437.6 L230.5,437.6 L231.5,437.6 L232.5,437.6 L233.5,437.6 L234.5,437.6 L235.5,437.6 L236.5,437.6 L237.5,437.6 L238.5,437.6 L239.5,437.6 L240.5,437.6 L241.5,437.7 L242.5,437.7 L243.5,437.7 L244.5,437.7 L245.5,437.7 L246.5,437.7 L247.5,437.7 L248.5,437.7 L249.5,437.7 L250.5,437.7 L251.5,437.7 L252.5,437.7 L253.5,437.7 L254.5,437.8 L255.5,437.8 L256.5,437.8 L257.5,437.8 L258.5,437.8 L259.5,437.8 L260.5,437.8 L261.5,437.8 L262.5,437.8 L263.5,437.8 L264.5,437.8 L265.5,437.8 L266.5,437.8 L267.5,437.9 L268.5,437.9 L269.5,437.9 L270.5,437.9 L271.5,437.9 L272.5,437.9 L273.5,437.9 L274.5,437.9" fill="none" stroke="#008000" stroke-width="1.6" stroke-linejoin="round" />
<path d="M48.5,423.7 L49.5,422.6 L50.5,421.4 L51.5,419.3 L52.5,418.1 L53.5,415.9 L54.5,414.4 L55.5,412.5 L56.5,411.2 L57.5,410.3 L58.5,408.0 L59.5,406.3 L60.5,404.4 L61.5,402.8 L62.5,402.3 L63.5,399.7 L64.5,398.4 L65.5,397.5 L66.5,396.0 L67.5,395.8 L68.5,392.6 L69.5,392.7 L70.5,391.8 L71.5,390.0 L72.5,389.3 L73.5,388.9 L74.5,388.7 L75.5,386.8 L76.5,386.0 L77.5,386.8 L78.5,386.7 L79.5,385.5 L80.5,384.4 L81.5,385.8 L82.5,384.9 L83.5,385.3 L84.5,384.6 L85.5,384.4 L86.5,384.3 L87.5,385.1 L88.5,385.0 L89.5,383.3 L90.5,383.8 L91.5,385.0 L92.5,384.0 L93.5,383.5 L94.5,384.1 L95.5,384.1 L96.5,384.1 L97.5,384.0 L98.5,384.3 L99.5,384.6 L100.5,385.3 L101.5,385.2 L102.5,385.7 L103.5,386.0 L104.5,386.8 L105.5,386.3 L106.5,386.0 L107.5,386.1 L108.5,385.8 L109.5,385.9 L110.5,385.5 L111.5,385.8 L112.5,385.5 L113.5,384.8 L114.5,384.5 L115.5,385.0 L116.5,384.7 L117.5,384.3 L118.5,383.6 L119.5,383.4 L120.5,384.3 L121.5,384.5 L122.5,384.5 L123.5,383.5 L124.5,384.6 L125.5,383.9 L126.5,384.3 L127.5,384.4 L128.5,383.8 L129.5,384.0 L130.5,383.3 L131.5,384.0 L132.5,383.9 L133.5,385.5 L134.5,386.0 L135.5,387.4 L136.5,388.5 L137.5,389.7 L138.5,391.9 L139.5,393.6 L140.5,396.5 L141.5,398.8 L142.5,400.6 L143.5,403.2 L144.5,405.4 L145.5,407.3 L146.5,409.7 L147.5,411.7 L148.5,411.9 L149.5,412.8 L150.5,412.8 L151.5,414.4 L152.5,414.9 L153.5,414.5 L154.5,416.0 L155.5,416.4 L156.5,416.0 L157.5,416.3 L158.5,416.2 L159.5,417.2 L160.5,416.5 L161.5,417.6 L162.5,419.3 L163.5,419.3 L164.5,420.4 L165.5,421.0 L166.5,421.5 L167.5,423.0 L168.5,424.3 L169.5,424.7 L170.5,426.4 L171.5,427.8 L172.5,428.8 L173.5,428.6 L174.5,429.8 L175.5,430.3 L176.5,432.2 L177.5,432.7 L178.5,433.4 L179.5,433.2 L180.5,433.6 L181.5,434.5 L182.5,434.6 L183.5,434.4 L184.5,434.9 L185.5,435.3 L186.5,435.2 L187.5,434.7 L188.5,434.3 L189.5,435.2 L190.5,435.5 L191.5,435.3 L192.5,435.3 L193.5,435.3 L194.5,436.0 L195.5,435.7 L196.5,435.8 L197.5,435.4 L198.5,435.6 L199.5,436.0 L200.5,435.5 L201.5,435.4 L202.5,435.9 L203.5,436.6 L204.5,436.2 L205.5,436.9 L206.5,436.2 L207.5,436.2 L208.5,435.8 L209.5,436.2 L210.5,437.2 L211.5,436.8 L212.5,437.0 L213.5,437.1 L214.5,436.9 L215.5,436.8 L216.5,437.1 L217.5,437.4 L218.5,437.3 L219.5,437.4 L220.5,437.2 L221.5,436.9 L222.5,437.1 L223.5,436.8 L224.5,437.7 L225.5,436.3 L226.5,437.1 L227.5,438.3 L228.5,437.0 L229.5,436.7 L230.5,437.2 L231.5,437.8 L232.5,437.1 L233.5,437.5 L234.5,437.2 L235.5,437.0 L236.5,438.6 L237.5,437.2 L238.5,437.0 L239.5,437.0 L240.5,437.3 L241.5,437.3 L242.5,437.4 L243.5,437.1 L244.5,436.3 L245.5,437.1 L246.5,436.6 L247.5,436.6 L248.5,436.0 L249.5,436.5 L250.5,436.5 L251.5,437.0 L252.5,436.7 L253.5,437.7 L254.5,438.1 L255.5,437.9 L256.5,438.5 L257.5,438.6 L258.5,439.6 L259.5,438.1 L260.5,439.0 L261.5,438.4 L262.5,438.9 L263.5,439.4 L264.5,438.7 L265.5,439.0 L266.5,438.5 L267.5,439.7 L268.5,439.2 L269.5,439.2 L270.5,438.1 L271.5,438.1 L272.5,439.0 L273.5,438.4 L274.5,438.3" fill="none" stroke="#000" stroke-width="2.0" stroke-linejoin="round" />
<path d="M48.5,424.6 L49.5,422.9 L50.5,421.2 L51.5,419.5 L52.5,417.7 L53.5,416.0 L54.5,414.2 L55.5,412.4 L56.5,410.6 L57.5,408.8 L58.5,407.0 L59.5,405.2 L60.5,403.5 L61.5,401.7 L62.5,400.0 L63.5,398.4 L64.5,396.9 L65.5,395.3 L66.5,393.8 L67.5,392.4 L68.5,391.1 L69.5,390.0 L70.5,389.0 L71.5,388.1 L72.5,387.2 L73.5,386.4 L74.5,385.8 L75.5,385.2 L76.5,384.8 L77.5,384.5 L78.5,384.2 L79.5,384.0 L80.5,383.7 L81.5,383.5 L82.5,383.4 L83.5,383.3 L84.5,383.3 L85.5,383.3 L86.5,383.3 L87.5,383.3 L88.5,383.3 L89.5,383.3 L90.5,383.3 L91.5,383.3 L92.5,383.3 L93.5,383.3 L94.5,383.3 L95.5,383.4 L96.5,383.5 L97.5,383.5 L98.5,383.6 L99.5,383.7 L100.5,383.8 L101.5,384.0 L102.5,384.3 L103.5,384.6 L104.5,385.0 L105.5,385.4 L106.5,385.2 L107.5,385.1 L108.5,384.9 L109.5,384.8 L110.5,384.6 L111.5,384.4 L112.5,384.2 L113.5,384.1 L114.5,383.9 L115.5,383.8 L116.5,383.7 L117.5,383.6 L118.5,383.6 L119.5,383.6 L120.5,383.6 L121.5,383.6 L122.5,383.6 L123.5,383.6 L124.5,383.6 L125.5,383.6 L126.5,383.6 L127.5,383.6 L128.5,383.7 L129.5,383.7 L130.5,383.8 L131.5,384.0 L132.5,384.1 L133.5,384.3 L134.5,384.7 L135.5,385.2 L136.5,385.8 L137.5,386.5 L138.5,387.7 L139.5,389.4 L140.5,391.6 L141.5,393.8 L142.5,395.8 L143.5,397.7 L144.5,399.7 L145.5,401.7 L146.5,403.7 L147.5,405.7 L148.5,407.8 L149.5,409.9 L150.5,411.9 L151.5,413.8 L152.5,415.6 L153.5,417.2 L154.5,418.8 L155.5,420.3 L156.5,421.8 L157.5,423.1 L158.5,424.4 L159.5,425.6 L160.5,426.7 L161.5,427.8 L162.5,428.9 L163.5,429.8 L164.5,430.6 L165.5,431.3 L166.5,431.9 L167.5,432.5 L168.5,433.0 L169.5,433.5 L170.5,433.9 L171.5,434.4 L172.5,434.9 L173.5,435.3 L174.5,435.7 L175.5,435.9 L176.5,435.9 L177.5,436.0 L178.5,436.1 L179.5,436.1 L180.5,436.1 L181.5,436.2 L182.5,436.2 L183.5,436.2 L184.5,436.3 L185.5,436.3 L186.5,436.3 L187.5,436.3 L188.5,436.3 L189.5,436.4 L190.5,436.4 L191.5,436.4 L192.5,436.4 L193.5,436.4 L194.5,436.4 L195.5,436.4 L196.5,436.5 L197.5,436.5 L198.5,436.5 L199.5,436.5 L200.5,436.5 L201.5,436.5 L202.5,436.5 L203.5,436.5 L204.5,436.5 L205.5,436.5 L206.5,436.6 L207.5,436.6 L208.5,436.6 L209.5,436.6 L210.5,436.6 L211.5,436.6 L212.5,436.6 L213.5,436.6 L214.5,436.6 L215.5,436.6 L216.5,436.6 L217.5,436.6 L218.5,436.6 L219.5,436.6 L220.5,436.7 L221.5,436.7 L222.5,436.7 L223.5,436.7 L224.5,436.7 L225.5,436.7 L226.5,436.7 L227.5,436.7 L228.5,436.7 L229.5,436.7 L230.5,436.7 L231.5,436.7 L232.5,436.8 L233.5,436.8 L234.5,436.8 L235.5,436.8 L236.5,436.8 L237.5,436.8 L238.5,436.8 L239.5,436.8 L240.5,436.8 L241.5,436.8 L242.5,436.8 L243.5,436.8 L244.5,436.8 L245.5,436.9 L246.5,436.9 L247.5,436.9 L248.5,436.9 L249.5,436.9 L250.5,436.9 L251.5,436.9 L252.5,436.9 L253.5,436.9 L254.5,436.9 L255.5,436.9 L256.5,436.9 L257.5,436.9 L258.5,437.0 L259.5,437.0 L260.5,437.0 L261.5,437.0 L262.5,437.0 L263.5,437.0 L264.5,437.0 L265.5,437.0 L266.5,437.0 L267.5,437.0 L268.5,437.0 L269.5,437.0 L270.5,437.0 L271.5,437.1 L272.5,437.1 L273.5,437.1 L274.5,437.1 L274.5,438.7 L273.5,438.7 L272.5,438.7 L271.5,438.7 L270.5,438.7 L269.5,438.7 L268.5,438.7 L267.5,438.7 L266.5,438.7 L265.5,438.7 L264.5,438.7 L263.5,438.7 L262.5,438.6 L261.5,438.6 L260.5,438.6 L259.5,438.6 L258.5,438.6 L257.5,438.6 L256.5,438.6 L255.5,438.6 L254.5,438.6 L253.5,438.6 L252.5,438.6 L251.5,438.6 L250.5,438.6 L249.5,438.5 L248.5,438.5 L247.5,438.5 L246.5,438.5 L245.5,438.5 L244.5,438.5 L243.5,438.5 L242.5,438.5 L241.5,438.5 L240.5,438.5 L239.5,438.5 L238.5,438.5 L237.5,438.5 L236.5,438.4 L235.5,438.4 L234.5,438.4 L233.5,438.4 L232.5,438.4 L231.5,438.4 L230.5,438.4 L229.5,438.4 L228.5,438.4 L227.5,438.4 L226.5,438.4 L225.5,438.4 L224.5,438.4 L223.5,438.3 L222.5,438.3 L221.5,438.3 L220.5,438.3 L219.5,438.3 L218.5,438.3 L217.5,438.3 L216.5,438.3 L215.5,438.3 L214.5,438.3 L213.5,438.3 L212.5,438.3 L211.5,438.2 L210.5,438.2 L209.5,438.2 L208.5,438.2 L207.5,438.2 L206.5,438.2 L205.5,438.2 L204.5,438.2 L203.5,438.2 L202.5,438.2 L201.5,438.2 L200.5,438.2 L199.5,438.2 L198.5,438.2 L197.5,438.1 L196.5,438.1 L195.5,438.1 L194.5,438.1 L193.5,438.1 L192.5,438.1 L191.5,438.1 L190.5,438.1 L189.5,438.1 L188.5,438.1 L187.5,438.0 L186.5,438.0 L185.5,438.0 L184.5,438.0 L183.5,438.0 L182.5,438.0 L181.5,438.0 L180.5,437.9 L179.5,437.9 L178.5,437.9 L177.5,437.9 L176.5,437.9 L175.5,437.8 L174.5,437.8 L173.5,437.8 L172.5,437.7 L171.5,437.7 L170.5,437.7 L169.5,437.6 L168.5,437.5 L167.5,437.5 L166.5,437.3 L165.5,436.9 L164.5,436.5 L163.5,436.0 L162.5,435.5 L161.5,435.1 L160.5,434.6 L159.5,434.1 L158.5,433.5 L157.5,432.9 L156.5,432.2 L155.5,431.4 L154.5,430.5 L153.5,429.4 L152.5,428.3 L151.5,427.2 L150.5,426.0 L149.5,424.7 L148.5,423.4 L147.5,421.9 L146.5,420.4 L145.5,418.8 L144.5,417.2 L143.5,415.4 L142.5,413.5 L141.5,411.5 L140.5,409.4 L139.5,407.3 L138.5,405.3 L137.5,403.3 L136.5,401.3 L135.5,399.3 L134.5,397.4 L133.5,395.4 L132.5,393.2 L131.5,391.0 L130.5,389.3 L129.5,388.1 L128.5,387.4 L127.5,386.8 L126.5,386.3 L125.5,385.9 L124.5,385.7 L123.5,385.6 L122.5,385.5 L121.5,385.7 L120.5,385.8 L119.5,386.0 L118.5,386.2 L117.5,386.4 L116.5,386.5 L115.5,386.7 L114.5,386.8 L113.5,387.0 L112.5,387.2 L111.5,387.3 L110.5,387.5 L109.5,387.6 L108.5,387.6 L107.5,387.6 L106.5,387.6 L105.5,387.6 L104.5,387.6 L103.5,387.6 L102.5,387.6 L101.5,387.6 L100.5,387.6 L99.5,387.5 L98.5,387.3 L97.5,387.0 L96.5,386.6 L95.5,386.2 L94.5,385.9 L93.5,385.6 L92.5,385.4 L91.5,385.3 L90.5,385.2 L89.5,385.1 L88.5,385.3 L87.5,385.6 L86.5,385.8 L85.5,386.1 L84.5,386.4 L83.5,386.8 L82.5,387.4 L81.5,388.0 L80.5,388.8 L79.5,389.7 L78.5,390.6 L77.5,391.6 L76.5,392.7 L75.5,394.0 L74.5,395.4 L73.5,396.9 L72.5,398.5 L71.5,400.0 L70.5,401.6 L69.5,403.3 L68.5,405.1 L67.5,406.8 L66.5,408.6 L65.5,410.4 L64.5,412.2 L63.5,414.0 L62.5,415.8 L61.5,417.6 L60.5,419.3 L59.5,421.1 L58.5,422.8 L57.5,424.5 L56.5,426.2 L55.5,427.8 L54.5,429.4 L53.5,431.0 L52.5,432.6 L51.5,434.2 L50.5,435.7 L49.5,437.2 L48.5,438.7 Z" fill="#2ca02c" stroke="none" fill-opacity="0.55"/>
</g>
<line x1="211.60" y1="407.60" x2="188.85" y2="413.75" stroke="#ff0000" stroke-width="2.5"/>
<path d="M182.00,415.60 L188.75,409.53 L190.89,417.44 Z" fill="#ff0000"/>
<line x1="161.2" y1="448.97" x2="161.2" y2="375.62" stroke="#008000" stroke-width="3.5" stroke-dasharray="3.4 5.5"/>
<rect x="48.50" y="375.62" width="226.00" height="73.35" stroke="#222" stroke-width="1.0" fill="none" />
<text transform="translate(44.85,438.71) rotate(-90) scale(0.9800,1)" font-size="14.69" font-family='"Liberation Sans", sans-serif' fill="#000">Fiber 10</text>
<text transform="translate(200.70,394.09) scale(0.9376,1)" font-size="13.94" font-family='"Liberation Sans", sans-serif' fill="#000" font-style="italic">σ</text>
<text transform="translate(214.40,391.52) scale(1.6594,1)" font-size="9.18" font-family='"Liberation Sans", sans-serif' fill="#000">=</text>
<text transform="translate(229.50,394.10) scale(1.1405,1)" font-size="12.57" font-family='"Liberation Sans", sans-serif' fill="#000">0.09</text>
<g clip-path="url(#ca6)">
<path d="M48.5,507.6 L49.5,504.3 L50.5,501.3 L51.5,498.0 L52.5,494.2 L53.5,491.1 L54.5,487.5 L55.5,483.8 L56.5,480.9 L57.5,477.8 L58.5,473.9 L59.5,469.8 L60.5,466.0 L61.5,463.2 L62.5,460.9 L63.5,458.7 L64.5,457.1 L65.5,455.7 L66.5,454.8 L67.5,454.2 L68.5,454.4 L69.5,454.5 L70.5,453.8 L71.5,453.7 L72.5,454.0 L73.5,455.0 L74.5,457.1 L75.5,459.1 L76.5,460.5 L77.5,462.3 L78.5,464.2 L79.5,465.6 L80.5,467.0 L81.5,468.5 L82.5,470.6 L83.5,471.7 L84.5,472.5 L85.5,473.4 L86.5,473.1 L87.5,472.9 L88.5,472.8 L89.5,472.8 L90.5,472.8 L91.5,472.1 L92.5,471.4 L93.5,470.8 L94.5,469.3 L95.5,467.4 L96.5,465.5 L97.5,463.7 L98.5,461.5 L99.5,459.5 L100.5,458.0 L101.5,456.3 L102.5,455.5 L103.5,454.3 L104.5,452.6 L105.5,452.3 L106.5,452.0 L107.5,452.3 L108.5,453.4 L109.5,454.6 L110.5,456.5 L111.5,459.3 L112.5,462.8 L113.5,466.1 L114.5,469.4 L115.5,472.7 L116.5,475.5 L117.5,478.5 L118.5,481.2 L119.5,483.3 L120.5,486.1 L121.5,488.7 L122.5,490.4 L123.5,492.1 L124.5,493.8 L125.5,494.5 L126.5,495.4 L127.5,496.5 L128.5,497.6 L129.5,498.7 L130.5,500.0 L131.5,501.2 L132.5,501.5 L133.5,502.2 L134.5,502.9 L135.5,503.7 L136.5,504.8 L137.5,505.6 L138.5,505.7 L139.5,506.2 L140.5,507.3 L141.5,507.9 L142.5,508.4 L143.5,508.3 L144.5,508.5 L145.5,508.9 L146.5,509.1 L147.5,509.6 L148.5,509.9 L149.5,509.9 L150.5,509.9 L151.5,509.9 L152.5,509.6 L153.5,510.1 L154.5,510.5 L155.5,510.0 L156.5,509.9 L157.5,510.3 L158.5,511.0 L159.5,511.4 L160.5,511.3 L161.5,510.7 L162.5,510.8 L163.5,511.7 L164.5,512.2 L165.5,512.5 L166.5,512.7 L167.5,513.3 L168.5,513.8 L169.5,513.5 L170.5,513.0 L171.5,513.6 L172.5,513.8 L173.5,513.6 L174.5,514.3 L175.5,513.8 L176.5,513.5 L177.5,513.7 L178.5,513.8 L179.5,514.0 L180.5,514.4 L181.5,514.6 L182.5,514.1 L183.5,514.3 L184.5,514.3 L185.5,513.9 L186.5,514.6 L187.5,514.5 L188.5,513.8 L189.5,514.1 L190.5,514.0 L191.5,513.4 L192.5,514.0 L193.5,514.3 L194.5,513.9 L195.5,514.1 L196.5,514.0 L197.5,513.8 L198.5,514.1 L199.5,515.0 L200.5,515.1 L201.5,514.7 L202.5,514.2 L203.5,514.0 L204.5,514.1 L205.5,514.3 L206.5,514.5 L207.5,514.4 L208.5,514.4 L209.5,514.3 L210.5,513.9 L211.5,514.2 L212.5,514.3 L213.5,513.8 L214.5,514.1 L215.5,514.2 L216.5,514.4 L217.5,514.8 L218.5,514.8 L219.5,514.6 L220.5,514.6 L221.5,514.8 L222.5,514.3 L223.5,514.2 L224.5,514.5 L225.5,514.1 L226.5,514.3 L227.5,514.5 L228.5,514.7 L229.5,515.1 L230.5,514.4 L231.5,514.1 L232.5,515.2 L233.5,515.4 L234.5,515.3 L235.5,515.1 L236.5,514.4 L237.5,514.1 L238.5,514.7 L239.5,515.2 L240.5,514.9 L241.5,514.6 L242.5,514.9 L243.5,514.5 L244.5,514.4 L245.5,515.2 L246.5,515.9 L247.5,515.4 L248.5,515.4 L249.5,515.3 L250.5,514.6 L251.5,514.2 L252.5,514.7 L253.5,515.2 L254.5,515.5 L255.5,515.7 L256.5,515.2 L257.5,514.7 L258.5,515.0 L259.5,515.4 L260.5,515.0 L261.5,514.6 L262.5,514.9 L263.5,515.7 L264.5,515.3 L265.5,515.1 L266.5,515.4 L267.5,515.6 L268.5,515.5 L269.5,515.7 L270.5,515.7 L271.5,515.1 L272.5,515.1 L273.5,514.6 L274.5,514.5" fill="none" stroke="#b9b9b9" stroke-width="3.4" stroke-linejoin="round" />
<path d="M48.5,509.8 L49.5,506.7 L50.5,503.0 L51.5,499.7 L52.5,496.0 L53.5,492.4 L54.5,489.5 L55.5,486.3 L56.5,482.5 L57.5,479.0 L58.5,476.0 L59.5,471.9 L60.5,468.2 L61.5,465.1 L62.5,461.9 L63.5,460.3 L64.5,459.3 L65.5,457.9 L66.5,456.7 L67.5,455.9 L68.5,456.1 L69.5,456.7 L70.5,456.5 L71.5,455.9 L72.5,456.5 L73.5,458.0 L74.5,459.4 L75.5,461.1 L76.5,463.2 L77.5,465.0 L78.5,466.5 L79.5,467.8 L80.5,469.1 L81.5,470.8 L82.5,472.3 L83.5,473.8 L84.5,474.4 L85.5,475.0 L86.5,475.0 L87.5,474.5 L88.5,474.9 L89.5,474.7 L90.5,474.4 L91.5,474.3 L92.5,473.3 L93.5,472.7 L94.5,471.5 L95.5,469.4 L96.5,467.3 L97.5,465.0 L98.5,463.1 L99.5,461.5 L100.5,459.7 L101.5,458.6 L102.5,456.8 L103.5,455.2 L104.5,454.3 L105.5,454.4 L106.5,454.6 L107.5,454.7 L108.5,455.6 L109.5,457.2 L110.5,458.9 L111.5,461.2 L112.5,464.0 L113.5,467.4 L114.5,471.3 L115.5,474.5 L116.5,477.9 L117.5,480.6 L118.5,483.0 L119.5,485.7 L120.5,488.2 L121.5,490.1 L122.5,492.1 L123.5,493.8 L124.5,495.4 L125.5,497.1 L126.5,498.0 L127.5,499.3 L128.5,500.0 L129.5,500.4 L130.5,502.2 L131.5,503.1 L132.5,503.1 L133.5,504.4 L134.5,505.7 L135.5,505.8 L136.5,506.6 L137.5,507.4 L138.5,507.5 L139.5,508.3 L140.5,509.1 L141.5,509.3 L142.5,509.7 L143.5,510.0 L144.5,510.4 L145.5,511.0 L146.5,511.4 L147.5,511.5 L148.5,511.2 L149.5,511.2 L150.5,511.6 L151.5,512.4 L152.5,512.8 L153.5,512.4 L154.5,512.4 L155.5,512.4 L156.5,512.5 L157.5,512.7 L158.5,512.7 L159.5,513.1 L160.5,512.9 L161.5,513.0 L162.5,513.1 L163.5,513.3 L164.5,514.2 L165.5,515.6 L166.5,515.8 L167.5,515.1 L168.5,514.8 L169.5,515.2 L170.5,515.1 L171.5,514.7 L172.5,515.3 L173.5,515.3 L174.5,515.6 L175.5,516.3 L176.5,515.8 L177.5,515.4 L178.5,515.3 L179.5,515.2 L180.5,515.6 L181.5,516.2 L182.5,516.2 L183.5,516.2 L184.5,516.0 L185.5,516.0 L186.5,515.8 L187.5,515.8 L188.5,516.5 L189.5,516.9 L190.5,516.4 L191.5,516.0 L192.5,516.5 L193.5,517.1 L194.5,516.4 L195.5,515.8 L196.5,516.3 L197.5,516.7 L198.5,516.4 L199.5,516.3 L200.5,516.4 L201.5,516.9 L202.5,517.1 L203.5,516.5 L204.5,516.3 L205.5,516.6 L206.5,516.8 L207.5,516.3 L208.5,516.2 L209.5,516.2 L210.5,515.9 L211.5,516.0 L212.5,515.8 L213.5,516.0 L214.5,516.1 L215.5,516.4 L216.5,516.8 L217.5,516.7 L218.5,516.2 L219.5,516.5 L220.5,516.3 L221.5,515.6 L222.5,516.3 L223.5,516.9 L224.5,517.0 L225.5,516.8 L226.5,516.3 L227.5,516.2 L228.5,516.7 L229.5,516.6 L230.5,516.3 L231.5,516.2 L232.5,516.1 L233.5,516.7 L234.5,517.1 L235.5,516.6 L236.5,516.2 L237.5,516.4 L238.5,516.8 L239.5,516.7 L240.5,516.5 L241.5,516.3 L242.5,516.0 L243.5,516.7 L244.5,517.2 L245.5,516.8 L246.5,516.4 L247.5,516.9 L248.5,517.1 L249.5,516.7 L250.5,517.0 L251.5,517.2 L252.5,517.3 L253.5,517.5 L254.5,517.1 L255.5,516.9 L256.5,517.0 L257.5,516.7 L258.5,516.5 L259.5,517.1 L260.5,517.0 L261.5,517.0 L262.5,517.5 L263.5,517.2 L264.5,517.3 L265.5,517.5 L266.5,517.7 L267.5,517.5 L268.5,517.1 L269.5,517.2 L270.5,517.7 L271.5,518.0 L272.5,517.3 L273.5,517.0 L274.5,517.1" fill="none" stroke="#b9b9b9" stroke-width="3.4" stroke-linejoin="round" />
<path d="M48.5,510.9 L49.5,507.5 L50.5,504.0 L51.5,500.4 L52.5,496.8 L53.5,493.1 L54.5,489.4 L55.5,485.8 L56.5,482.3 L57.5,478.7 L58.5,475.1 L59.5,471.8 L60.5,468.7 L61.5,466.0 L62.5,463.3 L63.5,460.9 L64.5,458.8 L65.5,457.3 L66.5,456.3 L67.5,455.4 L68.5,454.8 L69.5,454.4 L70.5,454.5 L71.5,454.8 L72.5,455.4 L73.5,456.1 L74.5,457.0 L75.5,458.4 L76.5,460.1 L77.5,461.8 L78.5,463.4 L79.5,464.7 L80.5,466.1 L81.5,467.4 L82.5,468.5 L83.5,469.2 L84.5,469.7 L85.5,470.2 L86.5,470.5 L87.5,470.7 L88.5,470.8 L89.5,470.6 L90.5,470.2 L91.5,469.6 L92.5,468.9 L93.5,468.2 L94.5,467.1 L95.5,465.7 L96.5,464.1 L97.5,462.6 L98.5,461.2 L99.5,459.7 L100.5,458.2 L101.5,456.8 L102.5,455.7 L103.5,455.0 L104.5,454.3 L105.5,453.7 L106.5,453.4 L107.5,453.5 L108.5,453.9 L109.5,454.7 L110.5,455.6 L111.5,456.8 L112.5,459.0 L113.5,461.8 L114.5,464.8 L115.5,467.9 L116.5,471.3 L117.5,475.0 L118.5,478.7 L119.5,482.3 L120.5,486.1 L121.5,489.8 L122.5,493.4 L123.5,496.6 L124.5,499.7 L125.5,502.7 L126.5,505.2 L127.5,507.3 L128.5,509.1 L129.5,510.8 L130.5,512.2 L131.5,513.2 L132.5,513.8 L133.5,514.3 L134.5,514.7 L135.5,515.1 L136.5,515.3 L137.5,515.5 L138.5,515.6 L139.5,515.7 L140.5,515.7 L141.5,515.8 L142.5,515.8 L143.5,515.8 L144.5,515.9 L145.5,515.9 L146.5,515.9 L147.5,515.9 L148.5,516.0 L149.5,516.0 L150.5,516.0 L151.5,516.0 L152.5,516.0 L153.5,516.0 L154.5,516.0 L155.5,516.0 L156.5,516.0 L157.5,516.0 L158.5,516.0 L159.5,516.0 L160.5,516.0 L161.5,516.0 L162.5,516.0 L163.5,516.0 L164.5,516.0 L165.5,516.0 L166.5,516.0 L167.5,516.0 L168.5,516.0 L169.5,516.0 L170.5,516.0 L171.5,516.0 L172.5,516.0 L173.5,516.0 L174.5,516.0 L175.5,516.0 L176.5,516.0 L177.5,516.0 L178.5,516.0 L179.5,516.0 L180.5,516.0 L181.5,516.0 L182.5,516.0 L183.5,516.0 L184.5,516.0 L185.5,516.0 L186.5,516.0 L187.5,516.0 L188.5,516.0 L189.5,516.0 L190.5,516.0 L191.5,516.0 L192.5,516.0 L193.5,516.0 L194.5,516.0 L195.5,516.0 L196.5,516.0 L197.5,516.0 L198.5,516.0 L199.5,516.0 L200.5,516.0 L201.5,516.0 L202.5,516.0 L203.5,516.0 L204.5,516.0 L205.5,516.0 L206.5,516.0 L207.5,516.0 L208.5,516.0 L209.5,516.0 L210.5,516.0 L211.5,516.0 L212.5,516.0 L213.5,516.0 L214.5,516.0 L215.5,516.0 L216.5,516.0 L217.5,516.0 L218.5,516.0 L219.5,516.0 L220.5,516.0 L221.5,516.0 L222.5,516.0 L223.5,516.0 L224.5,516.0 L225.5,516.0 L226.5,516.0 L227.5,516.0 L228.5,516.0 L229.5,516.0 L230.5,516.0 L231.5,516.0 L232.5,516.0 L233.5,516.0 L234.5,516.0 L235.5,516.0 L236.5,516.0 L237.5,516.0 L238.5,516.0 L239.5,516.0 L240.5,516.0 L241.5,516.0 L242.5,516.0 L243.5,516.0 L244.5,516.0 L245.5,516.0 L246.5,516.0 L247.5,516.0 L248.5,516.0 L249.5,516.0 L250.5,516.0 L251.5,516.0 L252.5,516.0 L253.5,516.0 L254.5,516.0 L255.5,516.0 L256.5,516.0 L257.5,516.0 L258.5,516.0 L259.5,516.0 L260.5,516.0 L261.5,516.0 L262.5,516.0 L263.5,516.0 L264.5,516.0 L265.5,516.0 L266.5,516.0 L267.5,516.0 L268.5,516.0 L269.5,516.0 L270.5,516.0 L271.5,516.0 L272.5,516.0 L273.5,516.0 L274.5,516.0" fill="none" stroke="#008000" stroke-width="1.6" stroke-linejoin="round" />
<path d="M48.5,508.9 L49.5,505.6 L50.5,502.1 L51.5,498.3 L52.5,495.6 L53.5,492.1 L54.5,488.8 L55.5,486.2 L56.5,481.8 L57.5,478.2 L58.5,475.1 L59.5,470.0 L60.5,466.7 L61.5,464.2 L62.5,461.5 L63.5,460.0 L64.5,458.0 L65.5,457.7 L66.5,456.5 L67.5,455.5 L68.5,454.8 L69.5,455.3 L70.5,455.5 L71.5,454.9 L72.5,455.8 L73.5,456.9 L74.5,458.2 L75.5,460.6 L76.5,462.1 L77.5,463.0 L78.5,465.4 L79.5,466.8 L80.5,468.9 L81.5,469.7 L82.5,471.9 L83.5,472.9 L84.5,473.9 L85.5,473.7 L86.5,473.2 L87.5,474.7 L88.5,473.9 L89.5,474.6 L90.5,473.8 L91.5,473.3 L92.5,473.0 L93.5,471.5 L94.5,470.6 L95.5,467.6 L96.5,466.8 L97.5,464.6 L98.5,462.7 L99.5,460.7 L100.5,459.1 L101.5,458.3 L102.5,455.4 L103.5,455.1 L104.5,453.8 L105.5,454.0 L106.5,453.3 L107.5,454.2 L108.5,454.8 L109.5,456.6 L110.5,458.2 L111.5,460.1 L112.5,463.5 L113.5,466.0 L114.5,470.0 L115.5,473.7 L116.5,476.3 L117.5,479.9 L118.5,481.2 L119.5,483.8 L120.5,486.3 L121.5,488.9 L122.5,491.2 L123.5,492.9 L124.5,494.4 L125.5,496.0 L126.5,496.6 L127.5,497.3 L128.5,498.3 L129.5,500.8 L130.5,499.8 L131.5,501.7 L132.5,503.3 L133.5,503.7 L134.5,503.9 L135.5,505.0 L136.5,506.1 L137.5,507.0 L138.5,506.7 L139.5,508.1 L140.5,508.4 L141.5,509.2 L142.5,509.7 L143.5,509.2 L144.5,509.0 L145.5,510.2 L146.5,511.0 L147.5,510.8 L148.5,510.8 L149.5,511.9 L150.5,510.5 L151.5,511.5 L152.5,511.0 L153.5,511.3 L154.5,511.4 L155.5,512.1 L156.5,511.1 L157.5,511.3 L158.5,510.9 L159.5,512.0 L160.5,511.6 L161.5,512.2 L162.5,511.8 L163.5,512.4 L164.5,513.4 L165.5,513.3 L166.5,513.9 L167.5,514.2 L168.5,513.9 L169.5,513.5 L170.5,514.7 L171.5,514.4 L172.5,514.9 L173.5,513.6 L174.5,513.8 L175.5,513.7 L176.5,514.3 L177.5,515.2 L178.5,515.1 L179.5,514.8 L180.5,515.0 L181.5,515.3 L182.5,514.9 L183.5,515.2 L184.5,515.1 L185.5,514.1 L186.5,515.0 L187.5,515.8 L188.5,515.0 L189.5,515.2 L190.5,515.0 L191.5,515.0 L192.5,515.8 L193.5,515.2 L194.5,514.8 L195.5,513.9 L196.5,515.1 L197.5,514.5 L198.5,514.5 L199.5,515.7 L200.5,515.7 L201.5,514.5 L202.5,515.8 L203.5,515.6 L204.5,515.1 L205.5,515.8 L206.5,514.7 L207.5,514.9 L208.5,514.8 L209.5,515.0 L210.5,515.9 L211.5,514.9 L212.5,515.0 L213.5,515.1 L214.5,515.6 L215.5,515.4 L216.5,515.9 L217.5,515.2 L218.5,515.0 L219.5,515.3 L220.5,515.6 L221.5,515.2 L222.5,515.7 L223.5,516.4 L224.5,515.4 L225.5,515.7 L226.5,516.3 L227.5,515.4 L228.5,515.3 L229.5,515.2 L230.5,515.9 L231.5,516.0 L232.5,515.7 L233.5,515.8 L234.5,516.3 L235.5,516.2 L236.5,515.2 L237.5,515.8 L238.5,515.9 L239.5,516.2 L240.5,515.7 L241.5,515.6 L242.5,515.7 L243.5,515.1 L244.5,515.9 L245.5,515.6 L246.5,516.1 L247.5,515.5 L248.5,515.8 L249.5,515.5 L250.5,515.5 L251.5,516.3 L252.5,515.8 L253.5,516.2 L254.5,515.5 L255.5,516.1 L256.5,515.3 L257.5,515.9 L258.5,515.9 L259.5,516.4 L260.5,516.2 L261.5,516.1 L262.5,516.6 L263.5,516.3 L264.5,516.5 L265.5,516.6 L266.5,516.2 L267.5,516.1 L268.5,516.4 L269.5,516.1 L270.5,516.5 L271.5,516.8 L272.5,516.7 L273.5,516.2 L274.5,515.8" fill="none" stroke="#000" stroke-width="2.0" stroke-linejoin="round" />
<path d="M48.5,498.0 L49.5,494.4 L50.5,490.7 L51.5,487.0 L52.5,483.4 L53.5,479.9 L54.5,476.3 L55.5,472.8 L56.5,469.6 L57.5,466.7 L58.5,464.1 L59.5,461.5 L60.5,459.2 L61.5,457.4 L62.5,456.2 L63.5,455.3 L64.5,454.5 L65.5,453.9 L66.5,453.8 L67.5,453.8 L68.5,453.8 L69.5,453.8 L70.5,453.8 L71.5,453.8 L72.5,453.8 L73.5,453.8 L74.5,454.0 L75.5,454.5 L76.5,455.1 L77.5,455.9 L78.5,457.0 L79.5,458.6 L80.5,460.4 L81.5,462.0 L82.5,463.4 L83.5,464.8 L84.5,466.2 L85.5,467.4 L86.5,468.3 L87.5,468.9 L88.5,468.7 L89.5,467.9 L90.5,467.1 L91.5,465.8 L92.5,464.3 L93.5,462.8 L94.5,461.3 L95.5,459.9 L96.5,458.3 L97.5,456.9 L98.5,455.6 L99.5,454.8 L100.5,454.0 L101.5,453.4 L102.5,452.9 L103.5,452.8 L104.5,452.8 L105.5,452.8 L106.5,452.8 L107.5,452.8 L108.5,452.8 L109.5,452.8 L110.5,452.8 L111.5,453.1 L112.5,453.7 L113.5,454.5 L114.5,455.5 L115.5,457.2 L116.5,459.7 L117.5,462.7 L118.5,465.7 L119.5,468.9 L120.5,472.5 L121.5,476.2 L122.5,479.9 L123.5,483.6 L124.5,487.4 L125.5,491.0 L126.5,494.4 L127.5,497.6 L128.5,500.7 L129.5,503.4 L130.5,505.7 L131.5,507.6 L132.5,509.4 L133.5,511.0 L134.5,512.2 L135.5,513.0 L136.5,513.5 L137.5,513.9 L138.5,514.3 L139.5,514.6 L140.5,514.8 L141.5,515.0 L142.5,515.0 L143.5,515.1 L144.5,515.1 L145.5,515.2 L146.5,515.2 L147.5,515.3 L148.5,515.3 L149.5,515.3 L150.5,515.3 L151.5,515.4 L152.5,515.4 L153.5,515.4 L154.5,515.4 L155.5,515.4 L156.5,515.4 L157.5,515.4 L158.5,515.4 L159.5,515.4 L160.5,515.4 L161.5,515.4 L162.5,515.4 L163.5,515.4 L164.5,515.4 L165.5,515.4 L166.5,515.4 L167.5,515.4 L168.5,515.4 L169.5,515.4 L170.5,515.4 L171.5,515.4 L172.5,515.4 L173.5,515.4 L174.5,515.4 L175.5,515.4 L176.5,515.4 L177.5,515.4 L178.5,515.4 L179.5,515.4 L180.5,515.4 L181.5,515.4 L182.5,515.4 L183.5,515.4 L184.5,515.4 L185.5,515.4 L186.5,515.4 L187.5,515.4 L188.5,515.4 L189.5,515.4 L190.5,515.4 L191.5,515.4 L192.5,515.4 L193.5,515.4 L194.5,515.4 L195.5,515.4 L196.5,515.4 L197.5,515.4 L198.5,515.4 L199.5,515.4 L200.5,515.4 L201.5,515.4 L202.5,515.4 L203.5,515.4 L204.5,515.4 L205.5,515.4 L206.5,515.4 L207.5,515.4 L208.5,515.4 L209.5,515.4 L210.5,515.4 L211.5,515.4 L212.5,515.4 L213.5,515.4 L214.5,515.4 L215.5,515.4 L216.5,515.4 L217.5,515.4 L218.5,515.4 L219.5,515.4 L220.5,515.4 L221.5,515.4 L222.5,515.4 L223.5,515.4 L224.5,515.4 L225.5,515.4 L226.5,515.4 L227.5,515.4 L228.5,515.4 L229.5,515.4 L230.5,515.4 L231.5,515.4 L232.5,515.4 L233.5,515.4 L234.5,515.4 L235.5,515.4 L236.5,515.4 L237.5,515.4 L238.5,515.4 L239.5,515.4 L240.5,515.4 L241.5,515.4 L242.5,515.4 L243.5,515.4 L244.5,515.4 L245.5,515.4 L246.5,515.4 L247.5,515.4 L248.5,515.4 L249.5,515.4 L250.5,515.4 L251.5,515.4 L252.5,515.4 L253.5,515.4 L254.5,515.4 L255.5,515.4 L256.5,515.4 L257.5,515.4 L258.5,515.4 L259.5,515.4 L260.5,515.4 L261.5,515.4 L262.5,515.4 L263.5,515.4 L264.5,515.4 L265.5,515.4 L266.5,515.4 L267.5,515.4 L268.5,515.4 L269.5,515.4 L270.5,515.4 L271.5,515.4 L272.5,515.4 L273.5,515.4 L274.5,515.4 L274.5,516.6 L273.5,516.6 L272.5,516.6 L271.5,516.6 L270.5,516.6 L269.5,516.6 L268.5,516.6 L267.5,516.6 L266.5,516.6 L265.5,516.6 L264.5,516.6 L263.5,516.6 L262.5,516.6 L261.5,516.6 L260.5,516.6 L259.5,516.6 L258.5,516.6 L257.5,516.6 L256.5,516.6 L255.5,516.6 L254.5,516.6 L253.5,516.6 L252.5,516.6 L251.5,516.6 L250.5,516.6 L249.5,516.6 L248.5,516.6 L247.5,516.6 L246.5,516.6 L245.5,516.6 L244.5,516.6 L243.5,516.6 L242.5,516.6 L241.5,516.6 L240.5,516.6 L239.5,516.6 L238.5,516.6 L237.5,516.6 L236.5,516.6 L235.5,516.6 L234.5,516.6 L233.5,516.6 L232.5,516.6 L231.5,516.6 L230.5,516.6 L229.5,516.6 L228.5,516.6 L227.5,516.6 L226.5,516.6 L225.5,516.6 L224.5,516.6 L223.5,516.6 L222.5,516.6 L221.5,516.6 L220.5,516.6 L219.5,516.6 L218.5,516.6 L217.5,516.6 L216.5,516.6 L215.5,516.6 L214.5,516.6 L213.5,516.6 L212.5,516.6 L211.5,516.6 L210.5,516.6 L209.5,516.6 L208.5,516.6 L207.5,516.6 L206.5,516.6 L205.5,516.6 L204.5,516.6 L203.5,516.6 L202.5,516.6 L201.5,516.6 L200.5,516.6 L199.5,516.6 L198.5,516.6 L197.5,516.6 L196.5,516.6 L195.5,516.6 L194.5,516.6 L193.5,516.6 L192.5,516.6 L191.5,516.6 L190.5,516.6 L189.5,516.6 L188.5,516.6 L187.5,516.6 L186.5,516.6 L185.5,516.6 L184.5,516.6 L183.5,516.6 L182.5,516.6 L181.5,516.6 L180.5,516.6 L179.5,516.6 L178.5,516.6 L177.5,516.6 L176.5,516.6 L175.5,516.6 L174.5,516.6 L173.5,516.6 L172.5,516.6 L171.5,516.6 L170.5,516.6 L169.5,516.6 L168.5,516.6 L167.5,516.6 L166.5,516.6 L165.5,516.6 L164.5,516.6 L163.5,516.6 L162.5,516.6 L161.5,516.6 L160.5,516.6 L159.5,516.6 L158.5,516.6 L157.5,516.6 L156.5,516.6 L155.5,516.6 L154.5,516.6 L153.5,516.6 L152.5,516.6 L151.5,516.6 L150.5,516.6 L149.5,516.6 L148.5,516.6 L147.5,516.6 L146.5,516.6 L145.5,516.6 L144.5,516.6 L143.5,516.5 L142.5,516.5 L141.5,516.5 L140.5,516.5 L139.5,516.4 L138.5,516.4 L137.5,516.3 L136.5,516.3 L135.5,516.2 L134.5,516.2 L133.5,516.0 L132.5,515.8 L131.5,515.5 L130.5,515.1 L129.5,514.7 L128.5,514.2 L127.5,513.4 L126.5,512.2 L125.5,510.6 L124.5,508.8 L123.5,506.9 L122.5,504.6 L121.5,501.9 L120.5,498.8 L119.5,495.6 L118.5,492.2 L117.5,488.6 L116.5,484.8 L115.5,481.1 L114.5,477.4 L113.5,473.7 L112.5,470.1 L111.5,466.9 L110.5,463.9 L109.5,460.9 L108.5,458.4 L107.5,456.7 L106.5,456.0 L105.5,456.8 L104.5,458.1 L103.5,459.5 L102.5,461.1 L101.5,462.5 L100.5,464.0 L99.5,465.5 L98.5,467.0 L97.5,468.3 L96.5,469.1 L95.5,469.9 L94.5,470.5 L93.5,471.0 L92.5,471.3 L91.5,471.4 L90.5,471.4 L89.5,471.4 L88.5,471.4 L87.5,471.4 L86.5,471.4 L85.5,471.4 L84.5,471.4 L83.5,471.2 L82.5,470.9 L81.5,470.5 L80.5,470.1 L79.5,469.5 L78.5,468.6 L77.5,467.4 L76.5,466.0 L75.5,464.6 L74.5,463.2 L73.5,461.6 L72.5,459.8 L71.5,458.2 L70.5,457.1 L69.5,457.4 L68.5,458.6 L67.5,460.4 L66.5,462.7 L65.5,465.3 L64.5,467.9 L63.5,470.8 L62.5,474.0 L61.5,477.5 L60.5,481.1 L59.5,484.6 L58.5,488.2 L57.5,491.9 L56.5,495.6 L55.5,499.2 L54.5,502.8 L53.5,506.3 L52.5,509.8 L51.5,513.2 L50.5,516.6 L49.5,520.0 L48.5,523.4 Z" fill="#2ca02c" stroke="none" fill-opacity="0.55"/>
</g>
<line x1="161.2" y1="522.31" x2="161.2" y2="448.97" stroke="#008000" stroke-width="3.5" stroke-dasharray="3.4 5.5"/>
<rect x="48.50" y="448.97" width="226.00" height="73.34" stroke="#222" stroke-width="1.0" fill="none" />
<text transform="translate(44.85,511.52) rotate(-90) scale(0.9800,1)" font-size="14.69" font-family='"Liberation Sans", sans-serif' fill="#000">Fiber 11</text>
<text transform="translate(200.70,467.43) scale(0.9376,1)" font-size="13.94" font-family='"Liberation Sans", sans-serif' fill="#000" font-style="italic">σ</text>
<text transform="translate(214.40,464.87) scale(1.6594,1)" font-size="9.18" font-family='"Liberation Sans", sans-serif' fill="#000">=</text>
<text transform="translate(229.50,467.44) scale(1.1405,1)" font-size="12.57" font-family='"Liberation Sans", sans-serif' fill="#000">0.02</text>
<g clip-path="url(#ca7)">
<path d="M48.5,585.6 L49.5,585.3 L50.5,584.0 L51.5,583.4 L52.5,583.4 L53.5,582.6 L54.5,581.8 L55.5,581.1 L56.5,579.9 L57.5,578.4 L58.5,576.7 L59.5,574.7 L60.5,572.6 L61.5,570.3 L62.5,567.8 L63.5,564.8 L64.5,561.5 L65.5,558.2 L66.5,554.4 L67.5,550.5 L68.5,546.9 L69.5,543.4 L70.5,540.4 L71.5,537.6 L72.5,534.9 L73.5,533.0 L74.5,531.7 L75.5,530.0 L76.5,528.8 L77.5,528.1 L78.5,528.0 L79.5,527.9 L80.5,527.7 L81.5,528.4 L82.5,529.4 L83.5,530.4 L84.5,532.4 L85.5,534.5 L86.5,536.7 L87.5,539.1 L88.5,540.8 L89.5,543.1 L90.5,545.5 L91.5,547.0 L92.5,548.1 L93.5,549.4 L94.5,550.5 L95.5,550.0 L96.5,550.0 L97.5,549.4 L98.5,547.9 L99.5,546.7 L100.5,545.5 L101.5,544.0 L102.5,542.0 L103.5,539.3 L104.5,536.6 L105.5,533.3 L106.5,531.1 L107.5,529.8 L108.5,528.7 L109.5,528.4 L110.5,527.9 L111.5,526.7 L112.5,526.0 L113.5,526.2 L114.5,526.2 L115.5,526.1 L116.5,526.9 L117.5,527.1 L118.5,528.2 L119.5,531.0 L120.5,534.2 L121.5,537.2 L122.5,540.7 L123.5,545.0 L124.5,549.4 L125.5,553.6 L126.5,557.6 L127.5,561.6 L128.5,564.6 L129.5,566.4 L130.5,568.0 L131.5,570.4 L132.5,572.1 L133.5,573.4 L134.5,575.1 L135.5,575.7 L136.5,576.2 L137.5,577.0 L138.5,577.5 L139.5,577.7 L140.5,578.3 L141.5,579.2 L142.5,579.5 L143.5,579.7 L144.5,580.0 L145.5,580.0 L146.5,580.8 L147.5,580.9 L148.5,580.6 L149.5,581.6 L150.5,581.7 L151.5,582.0 L152.5,582.9 L153.5,582.8 L154.5,582.8 L155.5,583.0 L156.5,583.3 L157.5,583.8 L158.5,584.0 L159.5,584.6 L160.5,584.9 L161.5,585.1 L162.5,585.4 L163.5,585.1 L164.5,585.3 L165.5,586.0 L166.5,585.8 L167.5,586.1 L168.5,586.6 L169.5,586.4 L170.5,586.2 L171.5,586.2 L172.5,586.6 L173.5,586.5 L174.5,586.5 L175.5,586.1 L176.5,586.5 L177.5,586.8 L178.5,585.9 L179.5,586.0 L180.5,586.4 L181.5,586.8 L182.5,586.8 L183.5,586.7 L184.5,586.7 L185.5,587.2 L186.5,587.6 L187.5,587.5 L188.5,587.1 L189.5,586.8 L190.5,586.8 L191.5,586.8 L192.5,587.2 L193.5,586.6 L194.5,586.2 L195.5,586.3 L196.5,586.1 L197.5,586.2 L198.5,586.3 L199.5,586.1 L200.5,586.4 L201.5,586.8 L202.5,586.5 L203.5,586.2 L204.5,586.4 L205.5,586.5 L206.5,586.3 L207.5,586.5 L208.5,586.9 L209.5,586.8 L210.5,586.5 L211.5,586.8 L212.5,587.3 L213.5,586.7 L214.5,586.2 L215.5,586.5 L216.5,586.4 L217.5,586.1 L218.5,586.3 L219.5,586.1 L220.5,586.0 L221.5,585.8 L222.5,585.7 L223.5,585.6 L224.5,586.3 L225.5,587.1 L226.5,586.9 L227.5,586.6 L228.5,586.5 L229.5,586.8 L230.5,586.8 L231.5,586.7 L232.5,586.2 L233.5,586.1 L234.5,586.2 L235.5,585.8 L236.5,585.6 L237.5,586.0 L238.5,586.6 L239.5,586.1 L240.5,586.3 L241.5,587.0 L242.5,586.5 L243.5,586.0 L244.5,586.1 L245.5,586.5 L246.5,586.4 L247.5,585.9 L248.5,586.1 L249.5,585.8 L250.5,585.8 L251.5,586.6 L252.5,586.6 L253.5,586.6 L254.5,586.6 L255.5,586.6 L256.5,586.5 L257.5,586.2 L258.5,586.1 L259.5,586.3 L260.5,586.7 L261.5,587.1 L262.5,586.9 L263.5,586.3 L264.5,586.0 L265.5,586.2 L266.5,586.7 L267.5,586.9 L268.5,586.5 L269.5,586.3 L270.5,586.5 L271.5,586.8 L272.5,586.6 L273.5,586.6 L274.5,587.0" fill="none" stroke="#b9b9b9" stroke-width="3.4" stroke-linejoin="round" />
<path d="M48.5,589.2 L49.5,589.2 L50.5,589.1 L51.5,588.1 L52.5,587.3 L53.5,586.6 L54.5,585.4 L55.5,584.4 L56.5,583.3 L57.5,582.3 L58.5,581.0 L59.5,579.1 L60.5,577.0 L61.5,573.6 L62.5,570.9 L63.5,568.4 L64.5,565.1 L65.5,561.9 L66.5,558.5 L67.5,555.5 L68.5,551.2 L69.5,547.3 L70.5,544.5 L71.5,541.3 L72.5,538.9 L73.5,537.2 L74.5,535.3 L75.5,534.0 L76.5,533.9 L77.5,533.1 L78.5,531.3 L79.5,530.9 L80.5,531.5 L81.5,532.3 L82.5,533.3 L83.5,534.2 L84.5,535.9 L85.5,538.1 L86.5,539.9 L87.5,542.1 L88.5,544.4 L89.5,547.0 L90.5,549.3 L91.5,550.6 L92.5,552.0 L93.5,553.5 L94.5,554.7 L95.5,554.4 L96.5,553.5 L97.5,553.0 L98.5,551.8 L99.5,550.5 L100.5,549.3 L101.5,547.4 L102.5,545.6 L103.5,543.2 L104.5,540.4 L105.5,537.5 L106.5,535.5 L107.5,534.7 L108.5,533.2 L109.5,531.8 L110.5,531.6 L111.5,531.1 L112.5,530.5 L113.5,530.3 L114.5,530.3 L115.5,530.8 L116.5,531.1 L117.5,531.5 L118.5,532.5 L119.5,534.6 L120.5,537.8 L121.5,541.0 L122.5,545.0 L123.5,549.9 L124.5,554.3 L125.5,558.3 L126.5,561.7 L127.5,565.3 L128.5,568.1 L129.5,570.1 L130.5,572.8 L131.5,574.4 L132.5,575.6 L133.5,577.4 L134.5,578.4 L135.5,579.2 L136.5,580.2 L137.5,581.0 L138.5,581.8 L139.5,582.7 L140.5,582.6 L141.5,582.6 L142.5,583.2 L143.5,583.4 L144.5,583.6 L145.5,584.2 L146.5,584.8 L147.5,584.6 L148.5,584.8 L149.5,585.6 L150.5,585.7 L151.5,585.7 L152.5,586.6 L153.5,587.4 L154.5,586.9 L155.5,586.5 L156.5,587.2 L157.5,587.5 L158.5,587.6 L159.5,588.0 L160.5,588.4 L161.5,588.2 L162.5,587.8 L163.5,588.4 L164.5,589.5 L165.5,590.0 L166.5,589.5 L167.5,589.9 L168.5,590.5 L169.5,590.4 L170.5,590.2 L171.5,590.4 L172.5,590.9 L173.5,590.9 L174.5,590.7 L175.5,590.7 L176.5,590.6 L177.5,590.4 L178.5,590.6 L179.5,590.8 L180.5,590.7 L181.5,591.0 L182.5,591.2 L183.5,591.2 L184.5,590.7 L185.5,590.6 L186.5,590.9 L187.5,590.6 L188.5,590.5 L189.5,591.0 L190.5,591.4 L191.5,590.9 L192.5,590.4 L193.5,590.6 L194.5,590.7 L195.5,591.1 L196.5,590.9 L197.5,590.0 L198.5,590.2 L199.5,590.7 L200.5,590.7 L201.5,590.9 L202.5,591.3 L203.5,591.0 L204.5,590.4 L205.5,590.0 L206.5,590.1 L207.5,590.8 L208.5,590.6 L209.5,590.7 L210.5,590.7 L211.5,590.8 L212.5,590.8 L213.5,590.1 L214.5,589.9 L215.5,589.7 L216.5,589.4 L217.5,589.9 L218.5,590.5 L219.5,590.9 L220.5,590.7 L221.5,590.1 L222.5,589.9 L223.5,590.2 L224.5,590.5 L225.5,590.1 L226.5,590.2 L227.5,590.5 L228.5,589.9 L229.5,589.9 L230.5,590.4 L231.5,590.1 L232.5,590.0 L233.5,590.5 L234.5,591.0 L235.5,591.0 L236.5,590.4 L237.5,589.8 L238.5,590.3 L239.5,590.1 L240.5,589.7 L241.5,589.6 L242.5,590.2 L243.5,590.9 L244.5,590.6 L245.5,590.4 L246.5,590.2 L247.5,590.0 L248.5,590.3 L249.5,590.2 L250.5,590.4 L251.5,590.5 L252.5,589.9 L253.5,590.4 L254.5,590.6 L255.5,590.4 L256.5,590.3 L257.5,589.7 L258.5,589.9 L259.5,590.1 L260.5,590.3 L261.5,590.3 L262.5,589.5 L263.5,590.0 L264.5,590.6 L265.5,590.6 L266.5,590.2 L267.5,590.4 L268.5,590.3 L269.5,590.0 L270.5,590.2 L271.5,590.2 L272.5,590.7 L273.5,590.6 L274.5,590.6" fill="none" stroke="#b9b9b9" stroke-width="3.4" stroke-linejoin="round" />
<path d="M48.5,587.6 L49.5,587.3 L50.5,586.8 L51.5,586.3 L52.5,585.7 L53.5,585.0 L54.5,584.2 L55.5,583.2 L56.5,582.1 L57.5,580.9 L58.5,579.4 L59.5,577.5 L60.5,575.2 L61.5,572.8 L62.5,570.2 L63.5,567.3 L64.5,564.0 L65.5,560.5 L66.5,557.0 L67.5,553.3 L68.5,549.4 L69.5,545.7 L70.5,542.5 L71.5,539.7 L72.5,537.2 L73.5,535.0 L74.5,533.4 L75.5,532.4 L76.5,531.4 L77.5,530.6 L78.5,530.1 L79.5,529.9 L80.5,530.1 L81.5,530.5 L82.5,531.2 L83.5,532.0 L84.5,533.2 L85.5,535.0 L86.5,537.1 L87.5,539.0 L88.5,540.9 L89.5,542.8 L90.5,544.6 L91.5,546.0 L92.5,547.1 L93.5,548.0 L94.5,548.6 L95.5,548.5 L96.5,548.0 L97.5,547.4 L98.5,546.6 L99.5,545.4 L100.5,543.9 L101.5,542.3 L102.5,540.6 L103.5,538.5 L104.5,536.3 L105.5,534.4 L106.5,533.0 L107.5,531.8 L108.5,530.8 L109.5,530.1 L110.5,529.7 L111.5,529.4 L112.5,529.3 L113.5,529.4 L114.5,529.7 L115.5,530.1 L116.5,530.7 L117.5,532.3 L118.5,534.6 L119.5,537.3 L120.5,540.8 L121.5,545.2 L122.5,549.5 L123.5,553.4 L124.5,557.3 L125.5,561.0 L126.5,564.3 L127.5,567.4 L128.5,570.3 L129.5,573.0 L130.5,575.5 L131.5,578.2 L132.5,580.7 L133.5,582.9 L134.5,584.6 L135.5,585.5 L136.5,586.2 L137.5,586.8 L138.5,587.3 L139.5,587.7 L140.5,588.0 L141.5,588.2 L142.5,588.3 L143.5,588.4 L144.5,588.6 L145.5,588.7 L146.5,588.7 L147.5,588.8 L148.5,588.9 L149.5,588.9 L150.5,589.0 L151.5,589.0 L152.5,589.0 L153.5,589.0 L154.5,589.0 L155.5,589.0 L156.5,589.0 L157.5,589.0 L158.5,589.0 L159.5,589.0 L160.5,589.0 L161.5,589.0 L162.5,589.0 L163.5,589.0 L164.5,589.0 L165.5,589.0 L166.5,589.0 L167.5,589.0 L168.5,589.0 L169.5,589.0 L170.5,589.0 L171.5,589.0 L172.5,589.0 L173.5,589.0 L174.5,589.0 L175.5,589.0 L176.5,589.0 L177.5,589.0 L178.5,589.0 L179.5,589.0 L180.5,589.0 L181.5,589.0 L182.5,589.0 L183.5,589.0 L184.5,589.0 L185.5,589.0 L186.5,589.0 L187.5,589.0 L188.5,589.0 L189.5,589.0 L190.5,589.0 L191.5,589.0 L192.5,589.0 L193.5,589.0 L194.5,589.0 L195.5,589.0 L196.5,589.0 L197.5,589.0 L198.5,589.0 L199.5,589.0 L200.5,589.0 L201.5,589.0 L202.5,589.0 L203.5,589.0 L204.5,589.0 L205.5,589.0 L206.5,589.0 L207.5,589.0 L208.5,589.0 L209.5,589.0 L210.5,589.0 L211.5,589.0 L212.5,589.0 L213.5,589.0 L214.5,589.0 L215.5,589.0 L216.5,589.0 L217.5,589.0 L218.5,589.0 L219.5,589.0 L220.5,589.0 L221.5,589.0 L222.5,589.0 L223.5,589.0 L224.5,589.0 L225.5,589.0 L226.5,589.0 L227.5,589.0 L228.5,589.0 L229.5,589.0 L230.5,589.0 L231.5,589.0 L232.5,589.0 L233.5,589.0 L234.5,589.0 L235.5,589.0 L236.5,589.0 L237.5,589.0 L238.5,589.0 L239.5,589.0 L240.5,589.0 L241.5,589.0 L242.5,589.0 L243.5,589.0 L244.5,589.0 L245.5,589.0 L246.5,589.0 L247.5,589.0 L248.5,589.0 L249.5,589.0 L250.5,589.0 L251.5,589.0 L252.5,589.0 L253.5,589.0 L254.5,589.0 L255.5,589.0 L256.5,589.0 L257.5,589.0 L258.5,589.0 L259.5,589.0 L260.5,589.0 L261.5,589.0 L262.5,589.0 L263.5,589.0 L264.5,589.0 L265.5,589.0 L266.5,589.0 L267.5,589.0 L268.5,589.0 L269.5,589.0 L270.5,589.0 L271.5,589.0 L272.5,589.0 L273.5,589.0 L274.5,589.0" fill="none" stroke="#008000" stroke-width="1.6" stroke-linejoin="round" />
<path d="M48.5,587.2 L49.5,586.9 L50.5,587.3 L51.5,584.9 L52.5,585.6 L53.5,584.6 L54.5,583.3 L55.5,582.6 L56.5,581.4 L57.5,580.4 L58.5,579.3 L59.5,576.2 L60.5,575.3 L61.5,572.0 L62.5,570.3 L63.5,566.9 L64.5,564.1 L65.5,560.4 L66.5,557.2 L67.5,553.1 L68.5,548.9 L69.5,545.9 L70.5,542.8 L71.5,540.7 L72.5,536.3 L73.5,534.9 L74.5,533.9 L75.5,531.7 L76.5,531.1 L77.5,531.3 L78.5,530.4 L79.5,529.2 L80.5,530.5 L81.5,531.0 L82.5,531.8 L83.5,532.7 L84.5,534.1 L85.5,535.7 L86.5,538.2 L87.5,540.9 L88.5,542.8 L89.5,545.7 L90.5,546.8 L91.5,547.5 L92.5,549.9 L93.5,551.5 L94.5,552.3 L95.5,552.1 L96.5,551.1 L97.5,551.4 L98.5,549.5 L99.5,549.0 L100.5,547.0 L101.5,544.9 L102.5,544.2 L103.5,539.7 L104.5,537.5 L105.5,535.4 L106.5,533.3 L107.5,532.4 L108.5,530.9 L109.5,529.8 L110.5,530.3 L111.5,528.7 L112.5,528.3 L113.5,527.6 L114.5,527.7 L115.5,528.6 L116.5,529.0 L117.5,529.5 L118.5,530.1 L119.5,533.0 L120.5,535.1 L121.5,539.2 L122.5,543.0 L123.5,547.0 L124.5,551.6 L125.5,555.2 L126.5,559.2 L127.5,563.9 L128.5,566.2 L129.5,568.8 L130.5,570.4 L131.5,572.6 L132.5,574.1 L133.5,575.7 L134.5,577.4 L135.5,577.4 L136.5,578.5 L137.5,579.0 L138.5,578.0 L139.5,579.5 L140.5,580.6 L141.5,581.3 L142.5,581.2 L143.5,582.3 L144.5,582.7 L145.5,582.3 L146.5,583.4 L147.5,583.9 L148.5,583.6 L149.5,583.2 L150.5,584.6 L151.5,584.1 L152.5,584.3 L153.5,584.8 L154.5,584.7 L155.5,585.7 L156.5,585.8 L157.5,586.2 L158.5,586.2 L159.5,585.8 L160.5,586.3 L161.5,587.0 L162.5,586.8 L163.5,588.5 L164.5,587.4 L165.5,587.5 L166.5,588.5 L167.5,588.5 L168.5,588.2 L169.5,588.2 L170.5,588.6 L171.5,588.8 L172.5,588.8 L173.5,588.4 L174.5,588.8 L175.5,589.0 L176.5,589.0 L177.5,587.3 L178.5,588.3 L179.5,588.4 L180.5,588.7 L181.5,588.9 L182.5,589.3 L183.5,589.1 L184.5,588.8 L185.5,588.9 L186.5,589.7 L187.5,588.6 L188.5,589.0 L189.5,589.6 L190.5,589.0 L191.5,588.0 L192.5,589.0 L193.5,588.7 L194.5,588.8 L195.5,589.3 L196.5,589.0 L197.5,588.7 L198.5,589.2 L199.5,588.9 L200.5,588.7 L201.5,588.8 L202.5,588.8 L203.5,588.5 L204.5,588.4 L205.5,588.6 L206.5,588.1 L207.5,587.9 L208.5,589.0 L209.5,588.3 L210.5,588.4 L211.5,588.3 L212.5,588.4 L213.5,588.3 L214.5,588.3 L215.5,587.9 L216.5,588.7 L217.5,587.9 L218.5,588.7 L219.5,587.3 L220.5,587.7 L221.5,588.6 L222.5,588.1 L223.5,587.9 L224.5,588.4 L225.5,587.7 L226.5,588.2 L227.5,587.2 L228.5,588.0 L229.5,587.9 L230.5,588.4 L231.5,588.6 L232.5,587.8 L233.5,588.9 L234.5,587.9 L235.5,587.3 L236.5,587.1 L237.5,588.9 L238.5,588.2 L239.5,587.9 L240.5,587.9 L241.5,587.7 L242.5,588.8 L243.5,588.2 L244.5,589.0 L245.5,588.1 L246.5,587.2 L247.5,588.6 L248.5,588.1 L249.5,588.2 L250.5,589.0 L251.5,588.2 L252.5,588.8 L253.5,588.3 L254.5,588.0 L255.5,588.5 L256.5,588.0 L257.5,588.9 L258.5,588.8 L259.5,588.4 L260.5,588.6 L261.5,588.6 L262.5,588.3 L263.5,588.8 L264.5,588.3 L265.5,588.7 L266.5,588.0 L267.5,588.5 L268.5,588.7 L269.5,588.1 L270.5,588.3 L271.5,588.3 L272.5,588.9 L273.5,588.3 L274.5,588.8" fill="none" stroke="#000" stroke-width="2.0" stroke-linejoin="round" />
<path d="M48.5,586.0 L49.5,585.4 L50.5,584.8 L51.5,584.0 L52.5,583.1 L53.5,582.1 L54.5,580.9 L55.5,579.6 L56.5,577.9 L57.5,575.8 L58.5,573.4 L59.5,570.9 L60.5,568.2 L61.5,565.1 L62.5,561.7 L63.5,558.1 L64.5,554.6 L65.5,550.8 L66.5,546.9 L67.5,543.4 L68.5,540.5 L69.5,537.8 L70.5,535.4 L71.5,533.5 L72.5,532.3 L73.5,531.3 L74.5,530.4 L75.5,529.7 L76.5,529.3 L77.5,529.3 L78.5,529.3 L79.5,529.3 L80.5,529.3 L81.5,529.3 L82.5,529.3 L83.5,529.7 L84.5,530.3 L85.5,531.0 L86.5,531.9 L87.5,533.5 L88.5,535.4 L89.5,537.5 L90.5,539.3 L91.5,541.3 L92.5,543.2 L93.5,544.8 L94.5,545.9 L95.5,546.4 L96.5,545.4 L97.5,544.1 L98.5,542.5 L99.5,540.9 L100.5,539.0 L101.5,536.8 L102.5,534.7 L103.5,533.0 L104.5,531.8 L105.5,530.7 L106.5,529.8 L107.5,529.2 L108.5,528.9 L109.5,528.7 L110.5,528.7 L111.5,528.7 L112.5,528.7 L113.5,528.7 L114.5,528.7 L115.5,528.7 L116.5,528.9 L117.5,529.3 L118.5,529.8 L119.5,530.8 L120.5,532.8 L121.5,535.3 L122.5,538.3 L123.5,542.4 L124.5,546.8 L125.5,550.9 L126.5,554.8 L127.5,558.6 L128.5,562.1 L129.5,565.3 L130.5,568.3 L131.5,571.1 L132.5,573.7 L133.5,576.3 L134.5,578.9 L135.5,581.3 L136.5,583.2 L137.5,584.5 L138.5,585.3 L139.5,585.9 L140.5,586.5 L141.5,586.9 L142.5,587.3 L143.5,587.5 L144.5,587.7 L145.5,587.8 L146.5,587.9 L147.5,588.0 L148.5,588.1 L149.5,588.2 L150.5,588.2 L151.5,588.3 L152.5,588.3 L153.5,588.4 L154.5,588.4 L155.5,588.4 L156.5,588.4 L157.5,588.4 L158.5,588.4 L159.5,588.4 L160.5,588.4 L161.5,588.4 L162.5,588.4 L163.5,588.4 L164.5,588.4 L165.5,588.4 L166.5,588.4 L167.5,588.4 L168.5,588.4 L169.5,588.4 L170.5,588.4 L171.5,588.4 L172.5,588.4 L173.5,588.4 L174.5,588.4 L175.5,588.4 L176.5,588.4 L177.5,588.4 L178.5,588.4 L179.5,588.4 L180.5,588.4 L181.5,588.4 L182.5,588.4 L183.5,588.4 L184.5,588.4 L185.5,588.4 L186.5,588.4 L187.5,588.4 L188.5,588.4 L189.5,588.4 L190.5,588.4 L191.5,588.4 L192.5,588.4 L193.5,588.4 L194.5,588.4 L195.5,588.4 L196.5,588.4 L197.5,588.4 L198.5,588.4 L199.5,588.4 L200.5,588.4 L201.5,588.4 L202.5,588.4 L203.5,588.4 L204.5,588.4 L205.5,588.4 L206.5,588.4 L207.5,588.4 L208.5,588.4 L209.5,588.4 L210.5,588.4 L211.5,588.4 L212.5,588.4 L213.5,588.4 L214.5,588.4 L215.5,588.4 L216.5,588.4 L217.5,588.4 L218.5,588.4 L219.5,588.4 L220.5,588.4 L221.5,588.4 L222.5,588.4 L223.5,588.4 L224.5,588.4 L225.5,588.4 L226.5,588.4 L227.5,588.4 L228.5,588.4 L229.5,588.4 L230.5,588.4 L231.5,588.4 L232.5,588.4 L233.5,588.4 L234.5,588.4 L235.5,588.4 L236.5,588.4 L237.5,588.4 L238.5,588.4 L239.5,588.4 L240.5,588.4 L241.5,588.4 L242.5,588.4 L243.5,588.4 L244.5,588.4 L245.5,588.4 L246.5,588.4 L247.5,588.4 L248.5,588.4 L249.5,588.4 L250.5,588.4 L251.5,588.4 L252.5,588.4 L253.5,588.4 L254.5,588.4 L255.5,588.4 L256.5,588.4 L257.5,588.4 L258.5,588.4 L259.5,588.4 L260.5,588.4 L261.5,588.4 L262.5,588.4 L263.5,588.4 L264.5,588.4 L265.5,588.4 L266.5,588.4 L267.5,588.4 L268.5,588.4 L269.5,588.4 L270.5,588.4 L271.5,588.4 L272.5,588.4 L273.5,588.4 L274.5,588.4 L274.5,589.6 L273.5,589.6 L272.5,589.6 L271.5,589.6 L270.5,589.6 L269.5,589.6 L268.5,589.6 L267.5,589.6 L266.5,589.6 L265.5,589.6 L264.5,589.6 L263.5,589.6 L262.5,589.6 L261.5,589.6 L260.5,589.6 L259.5,589.6 L258.5,589.6 L257.5,589.6 L256.5,589.6 L255.5,589.6 L254.5,589.6 L253.5,589.6 L252.5,589.6 L251.5,589.6 L250.5,589.6 L249.5,589.6 L248.5,589.6 L247.5,589.6 L246.5,589.6 L245.5,589.6 L244.5,589.6 L243.5,589.6 L242.5,589.6 L241.5,589.6 L240.5,589.6 L239.5,589.6 L238.5,589.6 L237.5,589.6 L236.5,589.6 L235.5,589.6 L234.5,589.6 L233.5,589.6 L232.5,589.6 L231.5,589.6 L230.5,589.6 L229.5,589.6 L228.5,589.6 L227.5,589.6 L226.5,589.6 L225.5,589.6 L224.5,589.6 L223.5,589.6 L222.5,589.6 L221.5,589.6 L220.5,589.6 L219.5,589.6 L218.5,589.6 L217.5,589.6 L216.5,589.6 L215.5,589.6 L214.5,589.6 L213.5,589.6 L212.5,589.6 L211.5,589.6 L210.5,589.6 L209.5,589.6 L208.5,589.6 L207.5,589.6 L206.5,589.6 L205.5,589.6 L204.5,589.6 L203.5,589.6 L202.5,589.6 L201.5,589.6 L200.5,589.6 L199.5,589.6 L198.5,589.6 L197.5,589.6 L196.5,589.6 L195.5,589.6 L194.5,589.6 L193.5,589.6 L192.5,589.6 L191.5,589.6 L190.5,589.6 L189.5,589.6 L188.5,589.6 L187.5,589.6 L186.5,589.6 L185.5,589.6 L184.5,589.6 L183.5,589.6 L182.5,589.6 L181.5,589.6 L180.5,589.6 L179.5,589.6 L178.5,589.6 L177.5,589.6 L176.5,589.6 L175.5,589.6 L174.5,589.6 L173.5,589.6 L172.5,589.6 L171.5,589.6 L170.5,589.6 L169.5,589.6 L168.5,589.6 L167.5,589.6 L166.5,589.6 L165.5,589.6 L164.5,589.6 L163.5,589.6 L162.5,589.6 L161.5,589.6 L160.5,589.6 L159.5,589.6 L158.5,589.6 L157.5,589.6 L156.5,589.6 L155.5,589.6 L154.5,589.6 L153.5,589.6 L152.5,589.6 L151.5,589.6 L150.5,589.6 L149.5,589.6 L148.5,589.6 L147.5,589.5 L146.5,589.5 L145.5,589.4 L144.5,589.4 L143.5,589.3 L142.5,589.2 L141.5,589.1 L140.5,589.0 L139.5,588.9 L138.5,588.7 L137.5,588.5 L136.5,588.1 L135.5,587.7 L134.5,587.1 L133.5,586.5 L132.5,585.7 L131.5,584.4 L130.5,582.5 L129.5,580.1 L128.5,577.5 L127.5,574.9 L126.5,572.3 L125.5,569.5 L124.5,566.5 L123.5,563.3 L122.5,559.8 L121.5,556.0 L120.5,552.1 L119.5,548.0 L118.5,543.6 L117.5,539.5 L116.5,536.5 L115.5,534.0 L114.5,532.0 L113.5,531.0 L112.5,530.5 L111.5,531.0 L110.5,531.9 L109.5,533.0 L108.5,534.2 L107.5,535.9 L106.5,538.0 L105.5,540.2 L104.5,542.1 L103.5,543.7 L102.5,545.3 L101.5,546.6 L100.5,547.6 L99.5,548.3 L98.5,548.9 L97.5,549.2 L96.5,549.2 L95.5,549.2 L94.5,549.2 L93.5,549.2 L92.5,549.2 L91.5,549.0 L90.5,548.2 L89.5,547.1 L88.5,546.0 L87.5,544.4 L86.5,542.5 L85.5,540.5 L84.5,538.7 L83.5,536.6 L82.5,534.7 L81.5,533.1 L80.5,532.2 L79.5,531.6 L78.5,532.5 L77.5,533.5 L76.5,534.7 L75.5,536.6 L74.5,539.0 L73.5,541.7 L72.5,544.6 L71.5,548.1 L70.5,552.0 L69.5,555.8 L68.5,559.3 L67.5,562.9 L66.5,566.3 L65.5,569.4 L64.5,572.1 L63.5,574.6 L62.5,577.0 L61.5,579.1 L60.5,580.8 L59.5,582.1 L58.5,583.3 L57.5,584.3 L56.5,585.2 L55.5,586.0 L54.5,586.6 L53.5,587.2 L52.5,587.7 L51.5,588.1 L50.5,588.3 L49.5,588.4 L48.5,588.4 Z" fill="#2ca02c" stroke="none" fill-opacity="0.55"/>
</g>
<line x1="161.2" y1="595.66" x2="161.2" y2="522.31" stroke="#008000" stroke-width="3.5" stroke-dasharray="3.4 5.5"/>
<rect x="48.50" y="522.31" width="226.00" height="73.35" stroke="#222" stroke-width="1.0" fill="none" />
<text transform="translate(44.85,585.40) rotate(-90) scale(0.9800,1)" font-size="14.69" font-family='"Liberation Sans", sans-serif' fill="#000">Fiber 12</text>
<text transform="translate(200.70,540.78) scale(0.9376,1)" font-size="13.94" font-family='"Liberation Sans", sans-serif' fill="#000" font-style="italic">σ</text>
<text transform="translate(214.40,538.22) scale(1.6594,1)" font-size="9.18" font-family='"Liberation Sans", sans-serif' fill="#000">=</text>
<text transform="translate(229.50,540.79) scale(1.1405,1)" font-size="12.57" font-family='"Liberation Sans", sans-serif' fill="#000">0.04</text>
<g clip-path="url(#ca8)">
<path d="M48.5,661.1 L49.5,660.9 L50.5,660.5 L51.5,659.9 L52.5,659.6 L53.5,659.2 L54.5,658.6 L55.5,658.0 L56.5,657.0 L57.5,656.4 L58.5,656.0 L59.5,655.5 L60.5,655.2 L61.5,654.2 L62.5,653.4 L63.5,652.7 L64.5,651.9 L65.5,651.7 L66.5,650.7 L67.5,649.6 L68.5,649.2 L69.5,648.5 L70.5,647.1 L71.5,645.5 L72.5,644.7 L73.5,643.5 L74.5,641.5 L75.5,640.6 L76.5,639.7 L77.5,637.8 L78.5,636.7 L79.5,635.7 L80.5,634.5 L81.5,633.6 L82.5,632.3 L83.5,631.7 L84.5,631.2 L85.5,629.8 L86.5,628.7 L87.5,628.1 L88.5,627.1 L89.5,625.8 L90.5,624.8 L91.5,623.5 L92.5,621.5 L93.5,620.1 L94.5,619.0 L95.5,617.3 L96.5,615.6 L97.5,613.3 L98.5,610.6 L99.5,608.4 L100.5,606.1 L101.5,604.7 L102.5,604.2 L103.5,603.1 L104.5,602.3 L105.5,601.7 L106.5,600.5 L107.5,600.0 L108.5,599.7 L109.5,599.1 L110.5,598.9 L111.5,599.2 L112.5,600.0 L113.5,600.6 L114.5,601.8 L115.5,603.2 L116.5,603.7 L117.5,604.0 L118.5,604.7 L119.5,605.3 L120.5,606.2 L121.5,607.4 L122.5,608.9 L123.5,610.0 L124.5,610.9 L125.5,611.8 L126.5,612.8 L127.5,613.2 L128.5,613.8 L129.5,614.8 L130.5,615.4 L131.5,616.2 L132.5,617.0 L133.5,618.1 L134.5,618.9 L135.5,620.2 L136.5,621.6 L137.5,622.6 L138.5,623.9 L139.5,625.2 L140.5,626.2 L141.5,627.1 L142.5,628.0 L143.5,628.6 L144.5,629.6 L145.5,631.7 L146.5,633.0 L147.5,634.0 L148.5,636.2 L149.5,637.3 L150.5,638.7 L151.5,640.7 L152.5,641.8 L153.5,643.3 L154.5,644.5 L155.5,645.0 L156.5,646.2 L157.5,647.5 L158.5,648.3 L159.5,649.2 L160.5,651.3 L161.5,652.7 L162.5,653.4 L163.5,654.7 L164.5,655.9 L165.5,656.8 L166.5,657.3 L167.5,657.7 L168.5,658.0 L169.5,658.5 L170.5,659.4 L171.5,660.4 L172.5,660.9 L173.5,661.1 L174.5,661.2 L175.5,661.0 L176.5,660.8 L177.5,661.1 L178.5,661.1 L179.5,661.2 L180.5,662.3 L181.5,662.6 L182.5,662.6 L183.5,662.5 L184.5,662.0 L185.5,662.0 L186.5,662.2 L187.5,662.6 L188.5,663.2 L189.5,662.7 L190.5,662.1 L191.5,662.3 L192.5,662.3 L193.5,662.0 L194.5,662.1 L195.5,662.5 L196.5,662.6 L197.5,662.2 L198.5,662.1 L199.5,662.0 L200.5,662.2 L201.5,662.4 L202.5,662.1 L203.5,662.2 L204.5,662.2 L205.5,662.0 L206.5,661.7 L207.5,662.4 L208.5,662.9 L209.5,662.5 L210.5,663.0 L211.5,662.9 L212.5,662.5 L213.5,662.6 L214.5,662.7 L215.5,662.8 L216.5,662.6 L217.5,662.4 L218.5,662.4 L219.5,662.8 L220.5,662.2 L221.5,661.9 L222.5,662.3 L223.5,662.2 L224.5,661.9 L225.5,662.1 L226.5,662.4 L227.5,662.2 L228.5,662.2 L229.5,661.9 L230.5,661.9 L231.5,661.9 L232.5,661.8 L233.5,662.1 L234.5,662.4 L235.5,662.5 L236.5,662.4 L237.5,663.0 L238.5,663.1 L239.5,662.3 L240.5,662.0 L241.5,662.2 L242.5,662.3 L243.5,662.3 L244.5,662.2 L245.5,662.7 L246.5,663.0 L247.5,662.5 L248.5,662.4 L249.5,662.5 L250.5,662.9 L251.5,663.1 L252.5,663.0 L253.5,662.1 L254.5,661.9 L255.5,663.0 L256.5,663.4 L257.5,663.2 L258.5,662.3 L259.5,662.4 L260.5,662.7 L261.5,662.1 L262.5,662.1 L263.5,662.9 L264.5,663.3 L265.5,663.3 L266.5,662.7 L267.5,663.2 L268.5,663.2 L269.5,662.5 L270.5,662.5 L271.5,662.8 L272.5,663.3 L273.5,663.2 L274.5,663.2" fill="none" stroke="#b9b9b9" stroke-width="3.4" stroke-linejoin="round" />
<path d="M48.5,663.1 L49.5,662.8 L50.5,662.0 L51.5,661.8 L52.5,662.1 L53.5,661.3 L54.5,660.6 L55.5,660.3 L56.5,660.1 L57.5,659.5 L58.5,658.4 L59.5,657.5 L60.5,656.5 L61.5,655.8 L62.5,655.7 L63.5,655.2 L64.5,654.6 L65.5,654.3 L66.5,653.7 L67.5,652.8 L68.5,651.9 L69.5,650.7 L70.5,649.2 L71.5,647.9 L72.5,646.0 L73.5,644.9 L74.5,643.7 L75.5,642.3 L76.5,641.3 L77.5,640.1 L78.5,638.8 L79.5,637.2 L80.5,636.4 L81.5,635.7 L82.5,634.6 L83.5,633.8 L84.5,633.2 L85.5,632.5 L86.5,631.4 L87.5,629.8 L88.5,628.5 L89.5,627.8 L90.5,627.1 L91.5,625.9 L92.5,624.0 L93.5,622.6 L94.5,620.9 L95.5,618.9 L96.5,617.1 L97.5,614.5 L98.5,612.2 L99.5,610.2 L100.5,607.8 L101.5,606.0 L102.5,605.1 L103.5,604.9 L104.5,603.9 L105.5,602.6 L106.5,602.3 L107.5,601.6 L108.5,600.5 L109.5,600.3 L110.5,600.5 L111.5,600.6 L112.5,601.4 L113.5,602.7 L114.5,604.0 L115.5,604.8 L116.5,605.4 L117.5,606.4 L118.5,607.3 L119.5,608.0 L120.5,608.6 L121.5,608.5 L122.5,609.1 L123.5,610.9 L124.5,612.3 L125.5,613.0 L126.5,614.1 L127.5,615.4 L128.5,615.7 L129.5,616.4 L130.5,617.4 L131.5,618.1 L132.5,619.2 L133.5,620.3 L134.5,620.9 L135.5,621.9 L136.5,623.3 L137.5,624.3 L138.5,625.8 L139.5,627.0 L140.5,628.3 L141.5,630.0 L142.5,630.5 L143.5,631.4 L144.5,633.0 L145.5,634.1 L146.5,634.7 L147.5,636.1 L148.5,638.2 L149.5,639.2 L150.5,640.3 L151.5,642.0 L152.5,643.1 L153.5,644.4 L154.5,645.6 L155.5,647.3 L156.5,648.7 L157.5,649.4 L158.5,650.9 L159.5,652.0 L160.5,652.9 L161.5,654.5 L162.5,656.0 L163.5,657.3 L164.5,658.4 L165.5,659.1 L166.5,659.7 L167.5,660.4 L168.5,661.3 L169.5,661.5 L170.5,661.6 L171.5,662.3 L172.5,662.3 L173.5,662.3 L174.5,662.7 L175.5,662.7 L176.5,662.5 L177.5,663.3 L178.5,663.5 L179.5,663.8 L180.5,664.3 L181.5,664.2 L182.5,664.4 L183.5,664.5 L184.5,664.5 L185.5,664.3 L186.5,664.3 L187.5,664.7 L188.5,665.0 L189.5,665.0 L190.5,664.8 L191.5,664.5 L192.5,664.0 L193.5,664.2 L194.5,664.8 L195.5,664.5 L196.5,664.5 L197.5,665.0 L198.5,664.8 L199.5,664.7 L200.5,664.8 L201.5,664.1 L202.5,663.9 L203.5,664.2 L204.5,664.5 L205.5,664.4 L206.5,664.1 L207.5,664.1 L208.5,664.2 L209.5,664.4 L210.5,664.7 L211.5,664.9 L212.5,664.7 L213.5,664.5 L214.5,664.5 L215.5,664.5 L216.5,664.8 L217.5,664.2 L218.5,663.8 L219.5,664.5 L220.5,664.8 L221.5,664.4 L222.5,664.3 L223.5,664.7 L224.5,664.5 L225.5,663.9 L226.5,663.9 L227.5,664.1 L228.5,664.3 L229.5,664.4 L230.5,664.7 L231.5,664.9 L232.5,664.3 L233.5,664.1 L234.5,664.1 L235.5,664.3 L236.5,665.0 L237.5,664.8 L238.5,664.7 L239.5,664.5 L240.5,664.4 L241.5,665.2 L242.5,664.8 L243.5,664.5 L244.5,665.1 L245.5,664.4 L246.5,663.7 L247.5,664.0 L248.5,664.6 L249.5,664.7 L250.5,664.5 L251.5,664.8 L252.5,664.8 L253.5,664.7 L254.5,664.6 L255.5,664.9 L256.5,664.8 L257.5,664.9 L258.5,665.0 L259.5,664.4 L260.5,664.7 L261.5,665.0 L262.5,664.4 L263.5,664.3 L264.5,664.5 L265.5,664.3 L266.5,664.8 L267.5,664.8 L268.5,664.7 L269.5,664.9 L270.5,665.3 L271.5,665.3 L272.5,664.6 L273.5,664.4 L274.5,664.4" fill="none" stroke="#b9b9b9" stroke-width="3.4" stroke-linejoin="round" />
<path d="M48.5,661.2 L49.5,660.2 L50.5,659.2 L51.5,658.2 L52.5,657.1 L53.5,656.0 L54.5,654.9 L55.5,653.7 L56.5,652.4 L57.5,651.1 L58.5,649.8 L59.5,648.5 L60.5,647.3 L61.5,646.1 L62.5,644.9 L63.5,643.7 L64.5,642.6 L65.5,641.5 L66.5,640.5 L67.5,639.5 L68.5,638.6 L69.5,637.8 L70.5,637.0 L71.5,636.2 L72.5,635.5 L73.5,634.9 L74.5,634.3 L75.5,633.8 L76.5,633.3 L77.5,632.9 L78.5,632.4 L79.5,631.9 L80.5,631.4 L81.5,630.8 L82.5,630.2 L83.5,629.6 L84.5,629.0 L85.5,628.3 L86.5,627.6 L87.5,626.9 L88.5,626.1 L89.5,625.3 L90.5,624.4 L91.5,623.5 L92.5,622.5 L93.5,621.5 L94.5,620.3 L95.5,618.9 L96.5,617.5 L97.5,616.0 L98.5,614.6 L99.5,613.1 L100.5,611.7 L101.5,610.2 L102.5,608.7 L103.5,607.2 L104.5,605.9 L105.5,604.7 L106.5,603.4 L107.5,602.2 L108.5,601.2 L109.5,600.5 L110.5,600.4 L111.5,600.4 L112.5,600.4 L113.5,600.4 L114.5,600.5 L115.5,601.1 L116.5,602.3 L117.5,603.8 L118.5,605.6 L119.5,607.6 L120.5,610.4 L121.5,613.9 L122.5,617.6 L123.5,621.2 L124.5,625.1 L125.5,629.1 L126.5,632.9 L127.5,636.4 L128.5,639.8 L129.5,643.1 L130.5,646.0 L131.5,648.6 L132.5,651.0 L133.5,653.2 L134.5,655.2 L135.5,656.8 L136.5,658.0 L137.5,659.2 L138.5,660.3 L139.5,661.2 L140.5,661.9 L141.5,662.2 L142.5,662.4 L143.5,662.5 L144.5,662.6 L145.5,662.7 L146.5,662.8 L147.5,662.9 L148.5,662.9 L149.5,663.0 L150.5,663.0 L151.5,663.0 L152.5,663.0 L153.5,663.0 L154.5,663.0 L155.5,663.0 L156.5,663.0 L157.5,663.0 L158.5,663.0 L159.5,663.0 L160.5,663.0 L161.5,663.0 L162.5,663.0 L163.5,663.0 L164.5,663.0 L165.5,663.0 L166.5,663.0 L167.5,663.0 L168.5,663.0 L169.5,663.0 L170.5,663.0 L171.5,663.0 L172.5,663.0 L173.5,663.0 L174.5,663.0 L175.5,663.0 L176.5,663.0 L177.5,663.0 L178.5,663.0 L179.5,663.0 L180.5,663.0 L181.5,663.0 L182.5,663.0 L183.5,663.0 L184.5,663.0 L185.5,663.0 L186.5,663.0 L187.5,663.0 L188.5,663.0 L189.5,663.0 L190.5,663.0 L191.5,663.0 L192.5,663.0 L193.5,663.0 L194.5,663.0 L195.5,663.0 L196.5,663.0 L197.5,663.0 L198.5,663.0 L199.5,663.0 L200.5,663.0 L201.5,663.0 L202.5,663.0 L203.5,663.0 L204.5,663.0 L205.5,663.0 L206.5,663.0 L207.5,663.0 L208.5,663.0 L209.5,663.0 L210.5,663.0 L211.5,663.0 L212.5,663.0 L213.5,663.0 L214.5,663.0 L215.5,663.0 L216.5,663.0 L217.5,663.0 L218.5,663.0 L219.5,663.0 L220.5,663.0 L221.5,663.0 L222.5,663.0 L223.5,663.0 L224.5,663.0 L225.5,663.0 L226.5,663.0 L227.5,663.0 L228.5,663.0 L229.5,663.0 L230.5,663.0 L231.5,663.0 L232.5,663.0 L233.5,663.0 L234.5,663.0 L235.5,663.0 L236.5,663.0 L237.5,663.0 L238.5,663.0 L239.5,663.0 L240.5,663.0 L241.5,663.0 L242.5,663.0 L243.5,663.0 L244.5,663.0 L245.5,663.0 L246.5,663.0 L247.5,663.0 L248.5,663.0 L249.5,663.0 L250.5,663.0 L251.5,663.0 L252.5,663.0 L253.5,663.0 L254.5,663.0 L255.5,663.0 L256.5,663.0 L257.5,663.0 L258.5,663.0 L259.5,663.0 L260.5,663.0 L261.5,663.0 L262.5,663.0 L263.5,663.0 L264.5,663.0 L265.5,663.0 L266.5,663.0 L267.5,663.0 L268.5,663.0 L269.5,663.0 L270.5,663.0 L271.5,663.0 L272.5,663.0 L273.5,663.0 L274.5,663.0" fill="none" stroke="#008000" stroke-width="1.6" stroke-linejoin="round" />
<path d="M48.5,662.4 L49.5,661.0 L50.5,660.9 L51.5,660.9 L52.5,660.4 L53.5,660.3 L54.5,658.8 L55.5,659.5 L56.5,658.9 L57.5,657.9 L58.5,656.7 L59.5,656.6 L60.5,655.7 L61.5,655.6 L62.5,654.7 L63.5,654.6 L64.5,653.5 L65.5,653.7 L66.5,651.4 L67.5,651.2 L68.5,650.9 L69.5,648.8 L70.5,648.5 L71.5,646.2 L72.5,645.4 L73.5,643.6 L74.5,642.5 L75.5,641.5 L76.5,640.0 L77.5,638.6 L78.5,638.5 L79.5,636.4 L80.5,634.9 L81.5,634.8 L82.5,633.9 L83.5,633.2 L84.5,632.7 L85.5,630.6 L86.5,630.6 L87.5,629.6 L88.5,628.0 L89.5,627.0 L90.5,624.3 L91.5,624.0 L92.5,623.7 L93.5,620.5 L94.5,619.4 L95.5,618.0 L96.5,616.3 L97.5,614.5 L98.5,610.5 L99.5,608.8 L100.5,607.1 L101.5,604.8 L102.5,604.3 L103.5,604.3 L104.5,603.3 L105.5,602.3 L106.5,600.3 L107.5,600.8 L108.5,600.5 L109.5,599.8 L110.5,599.7 L111.5,601.2 L112.5,600.5 L113.5,601.2 L114.5,603.0 L115.5,603.8 L116.5,604.5 L117.5,605.3 L118.5,606.2 L119.5,606.6 L120.5,606.7 L121.5,608.0 L122.5,609.3 L123.5,610.0 L124.5,611.8 L125.5,612.6 L126.5,612.7 L127.5,614.1 L128.5,615.6 L129.5,616.2 L130.5,616.4 L131.5,617.7 L132.5,618.0 L133.5,618.6 L134.5,620.6 L135.5,621.5 L136.5,622.7 L137.5,623.6 L138.5,624.9 L139.5,625.7 L140.5,627.3 L141.5,628.7 L142.5,629.4 L143.5,630.9 L144.5,630.9 L145.5,632.5 L146.5,634.7 L147.5,636.1 L148.5,636.8 L149.5,638.0 L150.5,638.9 L151.5,641.0 L152.5,642.5 L153.5,642.8 L154.5,645.0 L155.5,646.3 L156.5,647.5 L157.5,648.0 L158.5,649.9 L159.5,650.2 L160.5,652.7 L161.5,653.3 L162.5,654.1 L163.5,656.5 L164.5,657.5 L165.5,657.5 L166.5,659.5 L167.5,658.6 L168.5,659.7 L169.5,660.6 L170.5,659.5 L171.5,661.3 L172.5,661.1 L173.5,661.4 L174.5,661.2 L175.5,662.1 L176.5,661.7 L177.5,662.0 L178.5,662.4 L179.5,662.3 L180.5,663.7 L181.5,662.5 L182.5,662.9 L183.5,663.2 L184.5,663.4 L185.5,663.8 L186.5,663.8 L187.5,663.3 L188.5,663.2 L189.5,663.4 L190.5,663.8 L191.5,663.7 L192.5,663.2 L193.5,662.5 L194.5,664.4 L195.5,663.8 L196.5,663.5 L197.5,663.6 L198.5,663.2 L199.5,662.9 L200.5,663.3 L201.5,663.3 L202.5,663.1 L203.5,662.7 L204.5,663.3 L205.5,663.7 L206.5,663.2 L207.5,663.4 L208.5,662.5 L209.5,663.3 L210.5,663.3 L211.5,662.8 L212.5,662.6 L213.5,663.6 L214.5,663.0 L215.5,663.6 L216.5,663.2 L217.5,663.7 L218.5,663.2 L219.5,662.7 L220.5,663.4 L221.5,663.3 L222.5,663.7 L223.5,663.2 L224.5,663.2 L225.5,663.8 L226.5,663.9 L227.5,663.7 L228.5,663.9 L229.5,663.6 L230.5,663.8 L231.5,663.8 L232.5,663.6 L233.5,663.5 L234.5,663.5 L235.5,664.5 L236.5,663.5 L237.5,663.3 L238.5,663.3 L239.5,663.5 L240.5,663.6 L241.5,663.0 L242.5,662.6 L243.5,663.6 L244.5,662.8 L245.5,663.6 L246.5,663.6 L247.5,664.1 L248.5,664.3 L249.5,663.7 L250.5,663.3 L251.5,663.1 L252.5,663.2 L253.5,663.6 L254.5,662.7 L255.5,663.7 L256.5,663.6 L257.5,663.9 L258.5,663.5 L259.5,663.7 L260.5,663.4 L261.5,663.5 L262.5,662.9 L263.5,663.8 L264.5,664.4 L265.5,663.8 L266.5,663.9 L267.5,663.4 L268.5,664.5 L269.5,663.5 L270.5,664.2 L271.5,663.9 L272.5,663.4 L273.5,664.3 L274.5,663.9" fill="none" stroke="#000" stroke-width="2.0" stroke-linejoin="round" />
<path d="M48.5,655.7 L49.5,654.6 L50.5,653.5 L51.5,652.3 L52.5,651.1 L53.5,649.8 L54.5,648.5 L55.5,647.2 L56.5,645.9 L57.5,644.7 L58.5,643.5 L59.5,642.3 L60.5,641.1 L61.5,640.0 L62.5,639.0 L63.5,638.0 L64.5,637.1 L65.5,636.2 L66.5,635.4 L67.5,634.6 L68.5,633.9 L69.5,633.2 L70.5,632.6 L71.5,632.0 L72.5,631.5 L73.5,631.1 L74.5,630.6 L75.5,630.2 L76.5,629.7 L77.5,629.1 L78.5,628.5 L79.5,627.9 L80.5,627.3 L81.5,626.7 L82.5,626.0 L83.5,625.3 L84.5,624.5 L85.5,623.7 L86.5,622.9 L87.5,622.0 L88.5,621.0 L89.5,620.0 L90.5,618.9 L91.5,617.6 L92.5,616.2 L93.5,614.8 L94.5,613.3 L95.5,611.9 L96.5,610.4 L97.5,609.0 L98.5,607.4 L99.5,605.9 L100.5,604.5 L101.5,603.2 L102.5,602.1 L103.5,600.8 L104.5,599.6 L105.5,598.8 L106.5,598.4 L107.5,598.4 L108.5,598.4 L109.5,598.4 L110.5,598.4 L111.5,598.4 L112.5,598.4 L113.5,598.4 L114.5,598.4 L115.5,598.4 L116.5,598.4 L117.5,598.4 L118.5,598.7 L119.5,599.6 L120.5,601.0 L121.5,602.7 L122.5,604.5 L123.5,606.9 L124.5,610.1 L125.5,613.8 L126.5,617.4 L127.5,621.1 L128.5,625.1 L129.5,629.0 L130.5,632.7 L131.5,636.1 L132.5,639.5 L133.5,642.6 L134.5,645.3 L135.5,647.8 L136.5,650.1 L137.5,652.2 L138.5,654.0 L139.5,655.4 L140.5,656.6 L141.5,657.8 L142.5,658.8 L143.5,659.6 L144.5,660.1 L145.5,660.3 L146.5,660.4 L147.5,660.6 L148.5,660.7 L149.5,660.8 L150.5,660.8 L151.5,660.9 L152.5,661.0 L153.5,661.0 L154.5,661.0 L155.5,661.0 L156.5,661.0 L157.5,661.0 L158.5,661.0 L159.5,661.0 L160.5,661.0 L161.5,661.0 L162.5,661.0 L163.5,661.0 L164.5,661.0 L165.5,661.0 L166.5,661.0 L167.5,661.0 L168.5,661.0 L169.5,661.0 L170.5,661.0 L171.5,661.0 L172.5,661.0 L173.5,661.0 L174.5,661.0 L175.5,661.0 L176.5,661.0 L177.5,661.0 L178.5,661.0 L179.5,661.0 L180.5,661.0 L181.5,661.0 L182.5,661.0 L183.5,661.0 L184.5,661.0 L185.5,661.0 L186.5,661.0 L187.5,661.0 L188.5,661.0 L189.5,661.0 L190.5,661.0 L191.5,661.0 L192.5,661.0 L193.5,661.0 L194.5,661.0 L195.5,661.0 L196.5,661.0 L197.5,661.0 L198.5,661.0 L199.5,661.0 L200.5,661.0 L201.5,661.0 L202.5,661.0 L203.5,661.0 L204.5,661.0 L205.5,661.0 L206.5,661.0 L207.5,661.0 L208.5,661.0 L209.5,661.0 L210.5,661.0 L211.5,661.0 L212.5,661.0 L213.5,661.0 L214.5,661.0 L215.5,661.0 L216.5,661.0 L217.5,661.0 L218.5,661.0 L219.5,661.0 L220.5,661.0 L221.5,661.0 L222.5,661.0 L223.5,661.0 L224.5,661.0 L225.5,661.0 L226.5,661.0 L227.5,661.0 L228.5,661.0 L229.5,661.0 L230.5,661.0 L231.5,661.0 L232.5,661.0 L233.5,661.0 L234.5,661.0 L235.5,661.0 L236.5,661.0 L237.5,661.0 L238.5,661.0 L239.5,661.0 L240.5,661.0 L241.5,661.0 L242.5,661.0 L243.5,661.0 L244.5,661.0 L245.5,661.0 L246.5,661.0 L247.5,661.0 L248.5,661.0 L249.5,661.0 L250.5,661.0 L251.5,661.0 L252.5,661.0 L253.5,661.0 L254.5,661.0 L255.5,661.0 L256.5,661.0 L257.5,661.0 L258.5,661.0 L259.5,661.0 L260.5,661.0 L261.5,661.0 L262.5,661.0 L263.5,661.0 L264.5,661.0 L265.5,661.0 L266.5,661.0 L267.5,661.0 L268.5,661.0 L269.5,661.0 L270.5,661.0 L271.5,661.0 L272.5,661.0 L273.5,661.0 L274.5,661.0 L274.5,665.0 L273.5,665.0 L272.5,665.0 L271.5,665.0 L270.5,665.0 L269.5,665.0 L268.5,665.0 L267.5,665.0 L266.5,665.0 L265.5,665.0 L264.5,665.0 L263.5,665.0 L262.5,665.0 L261.5,665.0 L260.5,665.0 L259.5,665.0 L258.5,665.0 L257.5,665.0 L256.5,665.0 L255.5,665.0 L254.5,665.0 L253.5,665.0 L252.5,665.0 L251.5,665.0 L250.5,665.0 L249.5,665.0 L248.5,665.0 L247.5,665.0 L246.5,665.0 L245.5,665.0 L244.5,665.0 L243.5,665.0 L242.5,665.0 L241.5,665.0 L240.5,665.0 L239.5,665.0 L238.5,665.0 L237.5,665.0 L236.5,665.0 L235.5,665.0 L234.5,665.0 L233.5,665.0 L232.5,665.0 L231.5,665.0 L230.5,665.0 L229.5,665.0 L228.5,665.0 L227.5,665.0 L226.5,665.0 L225.5,665.0 L224.5,665.0 L223.5,665.0 L222.5,665.0 L221.5,665.0 L220.5,665.0 L219.5,665.0 L218.5,665.0 L217.5,665.0 L216.5,665.0 L215.5,665.0 L214.5,665.0 L213.5,665.0 L212.5,665.0 L211.5,665.0 L210.5,665.0 L209.5,665.0 L208.5,665.0 L207.5,665.0 L206.5,665.0 L205.5,665.0 L204.5,665.0 L203.5,665.0 L202.5,665.0 L201.5,665.0 L200.5,665.0 L199.5,665.0 L198.5,665.0 L197.5,665.0 L196.5,665.0 L195.5,665.0 L194.5,665.0 L193.5,665.0 L192.5,665.0 L191.5,665.0 L190.5,665.0 L189.5,665.0 L188.5,665.0 L187.5,665.0 L186.5,665.0 L185.5,665.0 L184.5,665.0 L183.5,665.0 L182.5,665.0 L181.5,665.0 L180.5,665.0 L179.5,665.0 L178.5,665.0 L177.5,665.0 L176.5,665.0 L175.5,665.0 L174.5,665.0 L173.5,665.0 L172.5,665.0 L171.5,665.0 L170.5,665.0 L169.5,665.0 L168.5,665.0 L167.5,665.0 L166.5,665.0 L165.5,665.0 L164.5,665.0 L163.5,665.0 L162.5,665.0 L161.5,665.0 L160.5,665.0 L159.5,665.0 L158.5,665.0 L157.5,665.0 L156.5,665.0 L155.5,665.0 L154.5,665.0 L153.5,665.0 L152.5,665.0 L151.5,665.0 L150.5,665.0 L149.5,665.0 L148.5,665.0 L147.5,665.0 L146.5,665.0 L145.5,665.0 L144.5,664.9 L143.5,664.8 L142.5,664.8 L141.5,664.7 L140.5,664.6 L139.5,664.4 L138.5,664.3 L137.5,664.1 L136.5,663.6 L135.5,662.8 L134.5,661.8 L133.5,660.6 L132.5,659.4 L131.5,658.0 L130.5,656.2 L129.5,654.1 L128.5,651.8 L127.5,649.3 L126.5,646.6 L125.5,643.5 L124.5,640.1 L123.5,636.7 L122.5,633.0 L121.5,629.1 L120.5,625.1 L119.5,621.4 L118.5,617.8 L117.5,614.1 L116.5,610.9 L115.5,608.5 L114.5,606.7 L113.5,605.0 L112.5,603.6 L111.5,603.6 L110.5,604.8 L109.5,606.1 L108.5,607.2 L107.5,608.5 L106.5,609.9 L105.5,611.4 L104.5,613.0 L103.5,614.4 L102.5,615.9 L101.5,617.3 L100.5,618.8 L99.5,620.2 L98.5,621.6 L97.5,622.9 L96.5,624.0 L95.5,625.0 L94.5,626.0 L93.5,626.9 L92.5,627.7 L91.5,628.5 L90.5,629.3 L89.5,630.0 L88.5,630.7 L87.5,631.3 L86.5,631.9 L85.5,632.5 L84.5,633.1 L83.5,633.7 L82.5,634.2 L81.5,634.6 L80.5,635.1 L79.5,635.5 L78.5,636.0 L77.5,636.6 L76.5,637.2 L75.5,637.9 L74.5,638.6 L73.5,639.4 L72.5,640.2 L71.5,641.1 L70.5,642.0 L69.5,643.0 L68.5,644.0 L67.5,645.1 L66.5,646.3 L65.5,647.5 L64.5,648.7 L63.5,649.9 L62.5,651.2 L61.5,652.5 L60.5,653.8 L59.5,655.1 L58.5,656.3 L57.5,657.5 L56.5,658.6 L55.5,659.7 L54.5,660.7 L53.5,661.7 L52.5,662.7 L51.5,663.7 L50.5,664.6 L49.5,665.4 L48.5,666.3 Z" fill="#2ca02c" stroke="none" fill-opacity="0.55"/>
</g>
<line x1="161.2" y1="669.00" x2="161.2" y2="595.66" stroke="#008000" stroke-width="3.5" stroke-dasharray="3.4 5.5"/>
<rect x="48.50" y="595.66" width="226.00" height="73.35" stroke="#222" stroke-width="1.0" fill="none" />
<text transform="translate(44.85,658.74) rotate(-90) scale(0.9800,1)" font-size="14.69" font-family='"Liberation Sans", sans-serif' fill="#000">Fiber 13</text>
<text transform="translate(200.70,614.12) scale(0.9376,1)" font-size="13.94" font-family='"Liberation Sans", sans-serif' fill="#000" font-style="italic">σ</text>
<text transform="translate(214.40,611.56) scale(1.6594,1)" font-size="9.18" font-family='"Liberation Sans", sans-serif' fill="#000">=</text>
<text transform="translate(229.50,614.13) scale(1.1405,1)" font-size="12.57" font-family='"Liberation Sans", sans-serif' fill="#000">0.02</text>
<g clip-path="url(#ca9)">
<path d="M48.5,731.8 L49.5,731.2 L50.5,730.6 L51.5,730.8 L52.5,730.9 L53.5,730.1 L54.5,728.6 L55.5,727.9 L56.5,726.6 L57.5,725.1 L58.5,724.8 L59.5,723.9 L60.5,721.9 L61.5,720.1 L62.5,719.4 L63.5,718.5 L64.5,716.9 L65.5,715.7 L66.5,714.5 L67.5,712.7 L68.5,711.9 L69.5,711.1 L70.5,709.6 L71.5,708.3 L72.5,707.7 L73.5,707.0 L74.5,706.5 L75.5,706.0 L76.5,705.6 L77.5,705.1 L78.5,704.2 L79.5,703.4 L80.5,703.0 L81.5,703.3 L82.5,704.1 L83.5,703.4 L84.5,702.2 L85.5,702.4 L86.5,702.4 L87.5,701.8 L88.5,701.2 L89.5,700.4 L90.5,699.6 L91.5,699.6 L92.5,699.3 L93.5,698.3 L94.5,697.1 L95.5,696.4 L96.5,695.9 L97.5,695.0 L98.5,693.6 L99.5,692.5 L100.5,691.7 L101.5,690.1 L102.5,688.1 L103.5,686.8 L104.5,685.6 L105.5,684.1 L106.5,682.5 L107.5,680.4 L108.5,678.4 L109.5,676.5 L110.5,674.9 L111.5,673.8 L112.5,673.0 L113.5,672.6 L114.5,671.9 L115.5,671.3 L116.5,671.6 L117.5,672.6 L118.5,673.8 L119.5,674.4 L120.5,675.7 L121.5,677.3 L122.5,678.7 L123.5,680.9 L124.5,683.1 L125.5,685.2 L126.5,687.5 L127.5,689.4 L128.5,690.9 L129.5,692.2 L130.5,694.1 L131.5,696.0 L132.5,697.1 L133.5,697.5 L134.5,697.1 L135.5,696.7 L136.5,696.8 L137.5,697.1 L138.5,696.8 L139.5,697.0 L140.5,698.2 L141.5,699.0 L142.5,699.6 L143.5,700.5 L144.5,701.8 L145.5,703.2 L146.5,703.8 L147.5,704.3 L148.5,705.4 L149.5,707.1 L150.5,708.1 L151.5,708.8 L152.5,710.0 L153.5,710.8 L154.5,711.6 L155.5,713.0 L156.5,713.8 L157.5,714.5 L158.5,715.9 L159.5,717.6 L160.5,719.0 L161.5,720.4 L162.5,721.7 L163.5,722.3 L164.5,722.9 L165.5,723.9 L166.5,725.0 L167.5,725.9 L168.5,726.0 L169.5,726.7 L170.5,727.8 L171.5,728.2 L172.5,728.7 L173.5,729.5 L174.5,730.4 L175.5,730.4 L176.5,730.5 L177.5,731.2 L178.5,731.3 L179.5,732.0 L180.5,732.6 L181.5,732.3 L182.5,732.3 L183.5,732.8 L184.5,732.8 L185.5,733.1 L186.5,733.6 L187.5,733.6 L188.5,733.8 L189.5,734.3 L190.5,734.2 L191.5,733.7 L192.5,734.1 L193.5,734.1 L194.5,733.6 L195.5,733.4 L196.5,733.8 L197.5,734.2 L198.5,734.0 L199.5,734.0 L200.5,733.9 L201.5,733.6 L202.5,733.5 L203.5,733.8 L204.5,734.0 L205.5,734.3 L206.5,734.1 L207.5,733.6 L208.5,733.5 L209.5,734.0 L210.5,733.9 L211.5,733.8 L212.5,734.4 L213.5,734.2 L214.5,734.0 L215.5,733.5 L216.5,733.3 L217.5,733.4 L218.5,733.5 L219.5,733.9 L220.5,733.7 L221.5,733.9 L222.5,734.2 L223.5,733.8 L224.5,733.6 L225.5,733.4 L226.5,733.5 L227.5,734.4 L228.5,734.2 L229.5,733.8 L230.5,733.9 L231.5,733.9 L232.5,734.2 L233.5,733.9 L234.5,733.4 L235.5,733.3 L236.5,734.1 L237.5,734.1 L238.5,734.0 L239.5,733.9 L240.5,733.3 L241.5,733.5 L242.5,734.1 L243.5,733.8 L244.5,733.7 L245.5,733.9 L246.5,733.8 L247.5,733.8 L248.5,733.9 L249.5,733.3 L250.5,733.3 L251.5,733.7 L252.5,733.5 L253.5,733.8 L254.5,733.9 L255.5,733.9 L256.5,734.3 L257.5,734.2 L258.5,733.5 L259.5,733.3 L260.5,733.9 L261.5,734.0 L262.5,733.6 L263.5,733.7 L264.5,734.0 L265.5,734.1 L266.5,734.1 L267.5,733.8 L268.5,733.6 L269.5,733.8 L270.5,733.8 L271.5,733.4 L272.5,733.3 L273.5,733.5 L274.5,733.9" fill="none" stroke="#b9b9b9" stroke-width="3.4" stroke-linejoin="round" />
<path d="M48.5,735.2 L49.5,735.3 L50.5,734.8 L51.5,733.7 L52.5,733.2 L53.5,732.6 L54.5,731.9 L55.5,730.9 L56.5,729.6 L57.5,728.8 L58.5,728.1 L59.5,726.7 L60.5,725.6 L61.5,725.1 L62.5,723.0 L63.5,721.0 L64.5,719.8 L65.5,718.5 L66.5,717.4 L67.5,716.2 L68.5,715.5 L69.5,714.6 L70.5,713.3 L71.5,712.0 L72.5,711.0 L73.5,710.3 L74.5,709.7 L75.5,709.1 L76.5,708.5 L77.5,707.7 L78.5,707.3 L79.5,707.7 L80.5,707.2 L81.5,706.1 L82.5,706.2 L83.5,706.3 L84.5,705.0 L85.5,704.8 L86.5,705.4 L87.5,705.1 L88.5,704.8 L89.5,704.2 L90.5,703.3 L91.5,702.0 L92.5,700.9 L93.5,700.7 L94.5,700.4 L95.5,699.3 L96.5,698.2 L97.5,697.6 L98.5,696.3 L99.5,694.7 L100.5,693.9 L101.5,693.1 L102.5,691.5 L103.5,689.3 L104.5,687.9 L105.5,686.5 L106.5,685.1 L107.5,683.7 L108.5,681.7 L109.5,680.1 L110.5,678.4 L111.5,677.2 L112.5,676.8 L113.5,675.9 L114.5,675.3 L115.5,674.8 L116.5,674.9 L117.5,675.7 L118.5,676.2 L119.5,677.2 L120.5,678.5 L121.5,679.9 L122.5,681.7 L123.5,683.9 L124.5,685.7 L125.5,687.6 L126.5,689.5 L127.5,691.6 L128.5,694.0 L129.5,695.9 L130.5,697.5 L131.5,698.8 L132.5,699.6 L133.5,700.1 L134.5,700.0 L135.5,699.5 L136.5,699.8 L137.5,699.7 L138.5,699.8 L139.5,700.1 L140.5,700.6 L141.5,701.7 L142.5,702.7 L143.5,703.7 L144.5,704.6 L145.5,705.8 L146.5,706.7 L147.5,707.9 L148.5,709.4 L149.5,710.1 L150.5,711.0 L151.5,712.2 L152.5,713.0 L153.5,714.5 L154.5,714.9 L155.5,715.1 L156.5,716.2 L157.5,717.3 L158.5,719.0 L159.5,721.4 L160.5,723.1 L161.5,724.0 L162.5,725.4 L163.5,725.7 L164.5,726.3 L165.5,727.5 L166.5,728.1 L167.5,728.4 L168.5,729.1 L169.5,729.4 L170.5,729.7 L171.5,730.9 L172.5,731.8 L173.5,732.1 L174.5,732.5 L175.5,733.1 L176.5,733.6 L177.5,734.2 L178.5,734.6 L179.5,734.9 L180.5,734.8 L181.5,734.8 L182.5,735.4 L183.5,735.5 L184.5,735.7 L185.5,736.2 L186.5,736.1 L187.5,736.6 L188.5,736.7 L189.5,736.4 L190.5,736.4 L191.5,736.7 L192.5,737.5 L193.5,737.0 L194.5,736.3 L195.5,736.8 L196.5,737.0 L197.5,737.0 L198.5,736.1 L199.5,736.6 L200.5,736.9 L201.5,736.6 L202.5,736.5 L203.5,736.3 L204.5,736.5 L205.5,737.0 L206.5,737.3 L207.5,736.9 L208.5,736.9 L209.5,736.9 L210.5,736.8 L211.5,736.9 L212.5,737.1 L213.5,736.9 L214.5,736.7 L215.5,736.9 L216.5,737.0 L217.5,736.7 L218.5,737.1 L219.5,737.2 L220.5,737.0 L221.5,737.1 L222.5,737.2 L223.5,736.6 L224.5,736.9 L225.5,737.3 L226.5,736.5 L227.5,736.6 L228.5,737.5 L229.5,737.6 L230.5,736.7 L231.5,736.5 L232.5,737.1 L233.5,736.9 L234.5,736.5 L235.5,736.8 L236.5,737.3 L237.5,737.3 L238.5,737.1 L239.5,737.0 L240.5,736.5 L241.5,736.9 L242.5,737.3 L243.5,736.6 L244.5,736.6 L245.5,737.2 L246.5,736.9 L247.5,736.8 L248.5,737.0 L249.5,736.8 L250.5,736.6 L251.5,736.6 L252.5,736.7 L253.5,736.5 L254.5,736.5 L255.5,736.5 L256.5,736.5 L257.5,736.9 L258.5,736.6 L259.5,736.8 L260.5,737.6 L261.5,737.7 L262.5,736.9 L263.5,736.9 L264.5,737.3 L265.5,736.9 L266.5,736.7 L267.5,736.7 L268.5,737.2 L269.5,737.4 L270.5,736.9 L271.5,736.6 L272.5,736.6 L273.5,736.9 L274.5,737.5" fill="none" stroke="#b9b9b9" stroke-width="3.4" stroke-linejoin="round" />
<path d="M48.5,731.7 L49.5,730.6 L50.5,729.4 L51.5,728.3 L52.5,727.1 L53.5,725.9 L54.5,724.7 L55.5,723.5 L56.5,722.2 L57.5,720.8 L58.5,719.5 L59.5,718.2 L60.5,717.1 L61.5,715.9 L62.5,714.9 L63.5,713.8 L64.5,712.8 L65.5,711.8 L66.5,710.9 L67.5,710.1 L68.5,709.4 L69.5,708.6 L70.5,708.0 L71.5,707.3 L72.5,706.8 L73.5,706.2 L74.5,705.8 L75.5,705.3 L76.5,704.9 L77.5,704.5 L78.5,704.2 L79.5,703.9 L80.5,703.7 L81.5,703.5 L82.5,703.4 L83.5,703.3 L84.5,703.2 L85.5,703.1 L86.5,702.9 L87.5,702.8 L88.5,702.6 L89.5,702.4 L90.5,702.1 L91.5,701.9 L92.5,701.5 L93.5,701.2 L94.5,700.7 L95.5,700.0 L96.5,699.3 L97.5,698.5 L98.5,697.5 L99.5,696.6 L100.5,695.5 L101.5,694.3 L102.5,692.9 L103.5,691.5 L104.5,690.0 L105.5,688.5 L106.5,687.0 L107.5,685.4 L108.5,683.7 L109.5,682.0 L110.5,680.4 L111.5,679.0 L112.5,677.9 L113.5,677.0 L114.5,676.2 L115.5,675.4 L116.5,674.8 L117.5,674.5 L118.5,674.4 L119.5,674.8 L120.5,675.4 L121.5,676.3 L122.5,677.4 L123.5,678.5 L124.5,680.3 L125.5,682.6 L126.5,685.1 L127.5,687.7 L128.5,690.2 L129.5,692.9 L130.5,695.7 L131.5,698.6 L132.5,701.5 L133.5,704.5 L134.5,707.7 L135.5,710.9 L136.5,713.9 L137.5,716.6 L138.5,719.1 L139.5,721.5 L140.5,723.7 L141.5,725.6 L142.5,727.2 L143.5,728.7 L144.5,730.1 L145.5,731.3 L146.5,732.3 L147.5,733.2 L148.5,733.8 L149.5,734.4 L150.5,734.9 L151.5,735.3 L152.5,735.7 L153.5,735.9 L154.5,736.0 L155.5,736.0 L156.5,736.0 L157.5,736.0 L158.5,736.0 L159.5,736.0 L160.5,736.0 L161.5,736.0 L162.5,736.0 L163.5,736.0 L164.5,736.0 L165.5,736.0 L166.5,736.0 L167.5,736.0 L168.5,736.0 L169.5,736.0 L170.5,736.0 L171.5,736.0 L172.5,736.0 L173.5,736.0 L174.5,736.0 L175.5,736.0 L176.5,736.0 L177.5,736.0 L178.5,736.0 L179.5,736.0 L180.5,736.0 L181.5,736.0 L182.5,736.0 L183.5,736.0 L184.5,736.0 L185.5,736.0 L186.5,736.0 L187.5,736.0 L188.5,736.0 L189.5,736.0 L190.5,736.0 L191.5,736.0 L192.5,736.0 L193.5,736.0 L194.5,736.0 L195.5,736.0 L196.5,736.0 L197.5,736.0 L198.5,736.0 L199.5,736.0 L200.5,736.0 L201.5,736.0 L202.5,736.0 L203.5,736.0 L204.5,736.0 L205.5,736.0 L206.5,736.0 L207.5,736.0 L208.5,736.0 L209.5,736.0 L210.5,736.0 L211.5,736.0 L212.5,736.0 L213.5,736.0 L214.5,736.0 L215.5,736.0 L216.5,736.0 L217.5,736.0 L218.5,736.0 L219.5,736.0 L220.5,736.0 L221.5,736.0 L222.5,736.0 L223.5,736.0 L224.5,736.0 L225.5,736.0 L226.5,736.0 L227.5,736.0 L228.5,736.0 L229.5,736.0 L230.5,736.0 L231.5,736.0 L232.5,736.0 L233.5,736.0 L234.5,736.0 L235.5,736.0 L236.5,736.0 L237.5,736.0 L238.5,736.0 L239.5,736.0 L240.5,736.0 L241.5,736.0 L242.5,736.0 L243.5,736.0 L244.5,736.0 L245.5,736.0 L246.5,736.0 L247.5,736.0 L248.5,736.0 L249.5,736.0 L250.5,736.0 L251.5,736.0 L252.5,736.0 L253.5,736.0 L254.5,736.0 L255.5,736.0 L256.5,736.0 L257.5,736.0 L258.5,736.0 L259.5,736.0 L260.5,736.0 L261.5,736.0 L262.5,736.0 L263.5,736.0 L264.5,736.0 L265.5,736.0 L266.5,736.0 L267.5,736.0 L268.5,736.0 L269.5,736.0 L270.5,736.0 L271.5,736.0 L272.5,736.0 L273.5,736.0 L274.5,736.0" fill="none" stroke="#008000" stroke-width="1.6" stroke-linejoin="round" />
<path d="M48.5,733.4 L49.5,733.1 L50.5,733.1 L51.5,732.3 L52.5,731.7 L53.5,731.2 L54.5,730.3 L55.5,729.7 L56.5,728.9 L57.5,727.7 L58.5,725.9 L59.5,724.1 L60.5,723.2 L61.5,722.5 L62.5,720.0 L63.5,719.7 L64.5,718.8 L65.5,717.0 L66.5,715.6 L67.5,715.7 L68.5,714.4 L69.5,712.5 L70.5,712.1 L71.5,711.1 L72.5,709.0 L73.5,709.9 L74.5,707.7 L75.5,707.4 L76.5,706.4 L77.5,706.5 L78.5,705.4 L79.5,705.6 L80.5,705.7 L81.5,705.1 L82.5,704.6 L83.5,705.2 L84.5,703.9 L85.5,704.5 L86.5,703.7 L87.5,703.5 L88.5,702.9 L89.5,702.4 L90.5,701.6 L91.5,700.6 L92.5,700.0 L93.5,699.7 L94.5,698.7 L95.5,697.4 L96.5,696.8 L97.5,695.9 L98.5,695.2 L99.5,694.2 L100.5,693.0 L101.5,691.3 L102.5,690.1 L103.5,687.9 L104.5,685.6 L105.5,685.3 L106.5,683.0 L107.5,681.6 L108.5,679.7 L109.5,678.7 L110.5,676.3 L111.5,675.8 L112.5,674.6 L113.5,673.5 L114.5,672.7 L115.5,673.3 L116.5,673.5 L117.5,674.3 L118.5,675.7 L119.5,676.1 L120.5,677.3 L121.5,678.6 L122.5,680.4 L123.5,682.0 L124.5,683.6 L125.5,687.0 L126.5,687.5 L127.5,690.5 L128.5,692.4 L129.5,694.0 L130.5,695.3 L131.5,697.2 L132.5,698.3 L133.5,698.4 L134.5,698.8 L135.5,698.4 L136.5,698.1 L137.5,698.5 L138.5,697.6 L139.5,698.7 L140.5,699.0 L141.5,700.5 L142.5,701.4 L143.5,702.5 L144.5,702.9 L145.5,704.0 L146.5,705.0 L147.5,706.5 L148.5,707.7 L149.5,708.9 L150.5,709.2 L151.5,710.5 L152.5,710.8 L153.5,711.5 L154.5,713.0 L155.5,714.0 L156.5,714.6 L157.5,715.6 L158.5,717.8 L159.5,718.7 L160.5,719.8 L161.5,723.0 L162.5,723.2 L163.5,723.8 L164.5,725.1 L165.5,725.1 L166.5,726.8 L167.5,726.1 L168.5,726.8 L169.5,728.1 L170.5,728.5 L171.5,730.1 L172.5,729.4 L173.5,730.4 L174.5,731.4 L175.5,732.0 L176.5,732.6 L177.5,732.7 L178.5,733.9 L179.5,733.1 L180.5,733.7 L181.5,734.3 L182.5,734.0 L183.5,734.2 L184.5,734.3 L185.5,734.5 L186.5,734.4 L187.5,734.8 L188.5,734.5 L189.5,735.4 L190.5,734.6 L191.5,736.2 L192.5,736.1 L193.5,735.8 L194.5,735.2 L195.5,735.1 L196.5,735.9 L197.5,735.4 L198.5,735.6 L199.5,735.0 L200.5,735.8 L201.5,735.0 L202.5,735.4 L203.5,734.6 L204.5,735.1 L205.5,735.6 L206.5,735.2 L207.5,735.2 L208.5,735.7 L209.5,735.3 L210.5,735.9 L211.5,734.3 L212.5,735.6 L213.5,735.6 L214.5,734.7 L215.5,734.8 L216.5,735.8 L217.5,734.9 L218.5,735.1 L219.5,735.6 L220.5,735.2 L221.5,735.6 L222.5,735.0 L223.5,735.5 L224.5,735.9 L225.5,735.5 L226.5,734.4 L227.5,735.7 L228.5,735.4 L229.5,735.0 L230.5,736.0 L231.5,734.6 L232.5,736.2 L233.5,735.1 L234.5,736.1 L235.5,735.4 L236.5,734.8 L237.5,735.4 L238.5,735.5 L239.5,735.6 L240.5,735.9 L241.5,735.0 L242.5,735.6 L243.5,735.7 L244.5,735.3 L245.5,735.0 L246.5,734.9 L247.5,735.7 L248.5,735.7 L249.5,735.0 L250.5,734.8 L251.5,735.9 L252.5,734.7 L253.5,735.4 L254.5,735.0 L255.5,734.6 L256.5,735.4 L257.5,735.3 L258.5,736.0 L259.5,736.4 L260.5,735.3 L261.5,735.8 L262.5,735.8 L263.5,735.1 L264.5,735.0 L265.5,736.1 L266.5,735.2 L267.5,735.4 L268.5,735.2 L269.5,735.3 L270.5,735.1 L271.5,735.7 L272.5,735.9 L273.5,735.2 L274.5,734.8" fill="none" stroke="#000" stroke-width="2.0" stroke-linejoin="round" />
<path d="M48.5,727.5 L49.5,726.3 L50.5,725.1 L51.5,723.9 L52.5,722.7 L53.5,721.4 L54.5,720.0 L55.5,718.7 L56.5,717.4 L57.5,716.3 L58.5,715.1 L59.5,714.1 L60.5,713.0 L61.5,712.0 L62.5,711.0 L63.5,710.1 L64.5,709.3 L65.5,708.6 L66.5,707.8 L67.5,707.2 L68.5,706.5 L69.5,706.0 L70.5,705.4 L71.5,705.0 L72.5,704.5 L73.5,704.1 L74.5,703.7 L75.5,703.4 L76.5,703.1 L77.5,702.9 L78.5,702.7 L79.5,702.6 L80.5,702.5 L81.5,702.4 L82.5,702.3 L83.5,702.1 L84.5,702.0 L85.5,701.8 L86.5,701.6 L87.5,701.3 L88.5,701.1 L89.5,700.7 L90.5,700.4 L91.5,699.9 L92.5,699.2 L93.5,698.5 L94.5,697.7 L95.5,696.7 L96.5,695.8 L97.5,694.7 L98.5,693.5 L99.5,692.1 L100.5,690.7 L101.5,689.2 L102.5,687.7 L103.5,686.2 L104.5,684.6 L105.5,682.9 L106.5,681.2 L107.5,679.6 L108.5,678.2 L109.5,677.1 L110.5,676.2 L111.5,675.4 L112.5,674.6 L113.5,674.0 L114.5,673.7 L115.5,673.6 L116.5,673.6 L117.5,673.6 L118.5,673.6 L119.5,673.6 L120.5,673.6 L121.5,673.6 L122.5,674.0 L123.5,674.6 L124.5,675.5 L125.5,676.6 L126.5,677.7 L127.5,679.5 L128.5,681.8 L129.5,684.3 L130.5,686.9 L131.5,689.4 L132.5,692.1 L133.5,694.9 L134.5,697.8 L135.5,700.7 L136.5,703.7 L137.5,706.9 L138.5,710.1 L139.5,713.1 L140.5,715.8 L141.5,718.3 L142.5,720.7 L143.5,722.9 L144.5,724.8 L145.5,726.4 L146.5,727.9 L147.5,729.3 L148.5,730.5 L149.5,731.5 L150.5,732.4 L151.5,733.0 L152.5,733.6 L153.5,734.1 L154.5,734.5 L155.5,734.9 L156.5,735.1 L157.5,735.2 L158.5,735.2 L159.5,735.2 L160.5,735.2 L161.5,735.2 L162.5,735.2 L163.5,735.2 L164.5,735.2 L165.5,735.2 L166.5,735.2 L167.5,735.2 L168.5,735.2 L169.5,735.2 L170.5,735.2 L171.5,735.2 L172.5,735.2 L173.5,735.2 L174.5,735.2 L175.5,735.2 L176.5,735.2 L177.5,735.2 L178.5,735.2 L179.5,735.2 L180.5,735.2 L181.5,735.2 L182.5,735.2 L183.5,735.2 L184.5,735.2 L185.5,735.2 L186.5,735.2 L187.5,735.2 L188.5,735.2 L189.5,735.2 L190.5,735.2 L191.5,735.2 L192.5,735.2 L193.5,735.2 L194.5,735.2 L195.5,735.2 L196.5,735.2 L197.5,735.2 L198.5,735.2 L199.5,735.2 L200.5,735.2 L201.5,735.2 L202.5,735.2 L203.5,735.2 L204.5,735.2 L205.5,735.2 L206.5,735.2 L207.5,735.2 L208.5,735.2 L209.5,735.2 L210.5,735.2 L211.5,735.2 L212.5,735.2 L213.5,735.2 L214.5,735.2 L215.5,735.2 L216.5,735.2 L217.5,735.2 L218.5,735.2 L219.5,735.2 L220.5,735.2 L221.5,735.2 L222.5,735.2 L223.5,735.2 L224.5,735.2 L225.5,735.2 L226.5,735.2 L227.5,735.2 L228.5,735.2 L229.5,735.2 L230.5,735.2 L231.5,735.2 L232.5,735.2 L233.5,735.2 L234.5,735.2 L235.5,735.2 L236.5,735.2 L237.5,735.2 L238.5,735.2 L239.5,735.2 L240.5,735.2 L241.5,735.2 L242.5,735.2 L243.5,735.2 L244.5,735.2 L245.5,735.2 L246.5,735.2 L247.5,735.2 L248.5,735.2 L249.5,735.2 L250.5,735.2 L251.5,735.2 L252.5,735.2 L253.5,735.2 L254.5,735.2 L255.5,735.2 L256.5,735.2 L257.5,735.2 L258.5,735.2 L259.5,735.2 L260.5,735.2 L261.5,735.2 L262.5,735.2 L263.5,735.2 L264.5,735.2 L265.5,735.2 L266.5,735.2 L267.5,735.2 L268.5,735.2 L269.5,735.2 L270.5,735.2 L271.5,735.2 L272.5,735.2 L273.5,735.2 L274.5,735.2 L274.5,736.8 L273.5,736.8 L272.5,736.8 L271.5,736.8 L270.5,736.8 L269.5,736.8 L268.5,736.8 L267.5,736.8 L266.5,736.8 L265.5,736.8 L264.5,736.8 L263.5,736.8 L262.5,736.8 L261.5,736.8 L260.5,736.8 L259.5,736.8 L258.5,736.8 L257.5,736.8 L256.5,736.8 L255.5,736.8 L254.5,736.8 L253.5,736.8 L252.5,736.8 L251.5,736.8 L250.5,736.8 L249.5,736.8 L248.5,736.8 L247.5,736.8 L246.5,736.8 L245.5,736.8 L244.5,736.8 L243.5,736.8 L242.5,736.8 L241.5,736.8 L240.5,736.8 L239.5,736.8 L238.5,736.8 L237.5,736.8 L236.5,736.8 L235.5,736.8 L234.5,736.8 L233.5,736.8 L232.5,736.8 L231.5,736.8 L230.5,736.8 L229.5,736.8 L228.5,736.8 L227.5,736.8 L226.5,736.8 L225.5,736.8 L224.5,736.8 L223.5,736.8 L222.5,736.8 L221.5,736.8 L220.5,736.8 L219.5,736.8 L218.5,736.8 L217.5,736.8 L216.5,736.8 L215.5,736.8 L214.5,736.8 L213.5,736.8 L212.5,736.8 L211.5,736.8 L210.5,736.8 L209.5,736.8 L208.5,736.8 L207.5,736.8 L206.5,736.8 L205.5,736.8 L204.5,736.8 L203.5,736.8 L202.5,736.8 L201.5,736.8 L200.5,736.8 L199.5,736.8 L198.5,736.8 L197.5,736.8 L196.5,736.8 L195.5,736.8 L194.5,736.8 L193.5,736.8 L192.5,736.8 L191.5,736.8 L190.5,736.8 L189.5,736.8 L188.5,736.8 L187.5,736.8 L186.5,736.8 L185.5,736.8 L184.5,736.8 L183.5,736.8 L182.5,736.8 L181.5,736.8 L180.5,736.8 L179.5,736.8 L178.5,736.8 L177.5,736.8 L176.5,736.8 L175.5,736.8 L174.5,736.8 L173.5,736.8 L172.5,736.8 L171.5,736.8 L170.5,736.8 L169.5,736.8 L168.5,736.8 L167.5,736.8 L166.5,736.8 L165.5,736.8 L164.5,736.8 L163.5,736.8 L162.5,736.8 L161.5,736.8 L160.5,736.8 L159.5,736.8 L158.5,736.8 L157.5,736.8 L156.5,736.8 L155.5,736.8 L154.5,736.8 L153.5,736.8 L152.5,736.8 L151.5,736.8 L150.5,736.7 L149.5,736.5 L148.5,736.1 L147.5,735.7 L146.5,735.2 L145.5,734.6 L144.5,734.0 L143.5,733.1 L142.5,732.1 L141.5,730.9 L140.5,729.5 L139.5,728.0 L138.5,726.4 L137.5,724.5 L136.5,722.3 L135.5,719.9 L134.5,717.4 L133.5,714.7 L132.5,711.7 L131.5,708.5 L130.5,705.3 L129.5,702.3 L128.5,699.4 L127.5,696.5 L126.5,693.7 L125.5,691.0 L124.5,688.5 L123.5,685.9 L122.5,683.4 L121.5,681.1 L120.5,679.3 L119.5,678.2 L118.5,677.1 L117.5,677.0 L116.5,677.8 L115.5,678.7 L114.5,679.8 L113.5,681.2 L112.5,682.8 L111.5,684.5 L110.5,686.2 L109.5,687.8 L108.5,689.3 L107.5,690.8 L106.5,692.3 L105.5,693.7 L104.5,695.1 L103.5,696.3 L102.5,697.4 L101.5,698.3 L100.5,699.3 L99.5,700.1 L98.5,700.8 L97.5,701.5 L96.5,702.0 L95.5,702.3 L94.5,702.7 L93.5,702.9 L92.5,703.2 L91.5,703.4 L90.5,703.6 L89.5,703.7 L88.5,703.9 L87.5,704.0 L86.5,704.1 L85.5,704.2 L84.5,704.3 L83.5,704.5 L82.5,704.7 L81.5,705.0 L80.5,705.3 L79.5,705.7 L78.5,706.1 L77.5,706.6 L76.5,707.0 L75.5,707.6 L74.5,708.1 L73.5,708.8 L72.5,709.4 L71.5,710.2 L70.5,710.9 L69.5,711.7 L68.5,712.6 L67.5,713.6 L66.5,714.6 L65.5,715.7 L64.5,716.7 L63.5,717.9 L62.5,719.0 L61.5,720.3 L60.5,721.6 L59.5,723.0 L58.5,724.3 L57.5,725.5 L56.5,726.7 L55.5,727.9 L54.5,729.1 L53.5,730.2 L52.5,731.4 L51.5,732.5 L50.5,733.6 L49.5,734.7 L48.5,735.8 Z" fill="#2ca02c" stroke="none" fill-opacity="0.55"/>
</g>
<line x1="161.2" y1="742.35" x2="161.2" y2="669.00" stroke="#008000" stroke-width="3.5" stroke-dasharray="3.4 5.5"/>
<rect x="48.50" y="669.00" width="226.00" height="73.35" stroke="#222" stroke-width="1.0" fill="none" />
<text transform="translate(44.85,732.09) rotate(-90) scale(0.9800,1)" font-size="14.69" font-family='"Liberation Sans", sans-serif' fill="#000">Fiber 14</text>
<text transform="translate(200.70,687.47) scale(0.9376,1)" font-size="13.94" font-family='"Liberation Sans", sans-serif' fill="#000" font-style="italic">σ</text>
<text transform="translate(214.40,684.91) scale(1.6594,1)" font-size="9.18" font-family='"Liberation Sans", sans-serif' fill="#000">=</text>
<text transform="translate(229.50,687.48) scale(1.1405,1)" font-size="12.57" font-family='"Liberation Sans", sans-serif' fill="#000">0.03</text>
<line x1="67.33" y1="742.35" x2="67.33" y2="746.85" stroke="#222" stroke-width="0.9" />
<text transform="translate(47.86,762.25) scale(1.0700,1)" font-size="14.55" font-family='"Liberation Sans", sans-serif' fill="#000">531.5</text>
<line x1="161.50" y1="742.35" x2="161.50" y2="746.85" stroke="#222" stroke-width="0.9" />
<text transform="translate(142.03,762.25) scale(1.0700,1)" font-size="14.55" font-family='"Liberation Sans", sans-serif' fill="#000">532.0</text>
<line x1="255.67" y1="742.35" x2="255.67" y2="746.85" stroke="#222" stroke-width="0.9" />
<text transform="translate(236.19,762.25) scale(1.0700,1)" font-size="14.55" font-family='"Liberation Sans", sans-serif' fill="#000">532.5</text>
<text transform="translate(80.30,784.55) scale(1.1291,1)" font-size="18.97" font-family='"Liberation Sans", sans-serif' fill="#000">Wavelength (nm)</text>
<text transform="translate(1.00,30.82) scale(0.9386,1)" font-size="26.37" font-family='"Liberation Sans", sans-serif' fill="#000" font-weight="bold">a)</text>
<line x1="361.60" y1="7.60" x2="366.50" y2="7.60" stroke="#222" stroke-width="0.9" />
<text transform="translate(329.94,12.51) scale(1.0700,1)" font-size="14.27" font-family='"Liberation Sans", sans-serif' fill="#000">350</text>
<line x1="361.60" y1="56.50" x2="366.50" y2="56.50" stroke="#222" stroke-width="0.9" />
<text transform="translate(329.94,61.41) scale(1.0700,1)" font-size="14.27" font-family='"Liberation Sans", sans-serif' fill="#000">250</text>
<line x1="361.60" y1="105.60" x2="366.50" y2="105.60" stroke="#222" stroke-width="0.9" />
<text transform="translate(329.94,110.51) scale(1.0700,1)" font-size="14.27" font-family='"Liberation Sans", sans-serif' fill="#000">150</text>
<line x1="361.60" y1="154.50" x2="366.50" y2="154.50" stroke="#222" stroke-width="0.9" />
<text transform="translate(338.43,159.41) scale(1.0700,1)" font-size="14.27" font-family='"Liberation Sans", sans-serif' fill="#000">50</text>
<line x1="383.30" y1="54.80" x2="407.70" y2="54.80" stroke="#000" stroke-width="2.0" />
<line x1="418.50" y1="53.50" x2="442.90" y2="53.50" stroke="#000" stroke-width="2.0" />
<line x1="453.10" y1="53.50" x2="477.50" y2="53.50" stroke="#000" stroke-width="2.0" />
<line x1="465.30" y1="47.70" x2="465.30" y2="59.50" stroke="#000" stroke-width="2.0" />
<line x1="488.30" y1="92.60" x2="512.70" y2="92.60" stroke="#000" stroke-width="2.0" />
<line x1="500.50" y1="84.70" x2="500.50" y2="100.40" stroke="#000" stroke-width="2.0" />
<line x1="523.30" y1="119.70" x2="547.70" y2="119.70" stroke="#000" stroke-width="2.0" />
<line x1="558.10" y1="61.80" x2="582.50" y2="61.80" stroke="#000" stroke-width="2.0" />
<line x1="570.30" y1="54.00" x2="570.30" y2="68.30" stroke="#000" stroke-width="2.0" />
<line x1="593.30" y1="28.70" x2="617.70" y2="28.70" stroke="#000" stroke-width="2.0" />
<line x1="605.50" y1="23.00" x2="605.50" y2="32.60" stroke="#000" stroke-width="2.0" />
<line x1="628.30" y1="46.40" x2="652.70" y2="46.40" stroke="#000" stroke-width="2.0" />
<line x1="640.50" y1="44.00" x2="640.50" y2="51.60" stroke="#000" stroke-width="2.0" />
<line x1="663.20" y1="44.90" x2="687.60" y2="44.90" stroke="#000" stroke-width="2.0" />
<line x1="698.40" y1="56.60" x2="722.80" y2="56.60" stroke="#000" stroke-width="2.0" />
<line x1="710.60" y1="50.80" x2="710.60" y2="62.60" stroke="#000" stroke-width="2.0" />
<path d="M395.50,54.80 L430.70,53.50 L465.30,53.50 L500.50,92.60 L535.50,119.70 L570.30,61.80 L605.50,28.70 L640.50,46.40 L675.40,44.90 L710.60,56.60" stroke="#0000ff" stroke-width="3.6" fill="none" stroke-linejoin="round" stroke-linecap="round" />
<circle cx="395.50" cy="54.80" r="4.4" fill="#000"/>
<circle cx="430.70" cy="53.50" r="4.4" fill="#000"/>
<circle cx="465.30" cy="53.50" r="4.4" fill="#000"/>
<circle cx="500.50" cy="92.60" r="4.4" fill="#000"/>
<circle cx="535.50" cy="119.70" r="4.4" fill="#000"/>
<circle cx="570.30" cy="61.80" r="4.4" fill="#000"/>
<circle cx="605.50" cy="28.70" r="4.4" fill="#000"/>
<circle cx="640.50" cy="46.40" r="4.4" fill="#000"/>
<circle cx="675.40" cy="44.90" r="4.4" fill="#000"/>
<circle cx="710.60" cy="56.60" r="4.4" fill="#000"/>
<rect x="366.50" y="7.40" width="373.50" height="147.00" stroke="#222" stroke-width="1.0" fill="none" />
<line x1="361.60" y1="168.40" x2="366.50" y2="168.40" stroke="#222" stroke-width="0.9" />
<text transform="translate(329.94,173.31) scale(1.0700,1)" font-size="14.27" font-family='"Liberation Sans", sans-serif' fill="#000">500</text>
<line x1="361.60" y1="201.20" x2="366.50" y2="201.20" stroke="#222" stroke-width="0.9" />
<text transform="translate(329.94,206.11) scale(1.0700,1)" font-size="14.27" font-family='"Liberation Sans", sans-serif' fill="#000">400</text>
<line x1="361.60" y1="233.80" x2="366.50" y2="233.80" stroke="#222" stroke-width="0.9" />
<text transform="translate(329.94,238.71) scale(1.0700,1)" font-size="14.27" font-family='"Liberation Sans", sans-serif' fill="#000">300</text>
<line x1="361.60" y1="266.50" x2="366.50" y2="266.50" stroke="#222" stroke-width="0.9" />
<text transform="translate(329.94,271.41) scale(1.0700,1)" font-size="14.27" font-family='"Liberation Sans", sans-serif' fill="#000">200</text>
<line x1="361.60" y1="299.40" x2="366.50" y2="299.40" stroke="#222" stroke-width="0.9" />
<text transform="translate(329.94,304.31) scale(1.0700,1)" font-size="14.27" font-family='"Liberation Sans", sans-serif' fill="#000">100</text>
<line x1="383.30" y1="284.30" x2="407.70" y2="284.30" stroke="#000" stroke-width="2.0" />
<line x1="418.50" y1="287.40" x2="442.90" y2="287.40" stroke="#000" stroke-width="2.0" />
<line x1="453.10" y1="263.70" x2="477.50" y2="263.70" stroke="#000" stroke-width="2.0" />
<line x1="488.30" y1="229.30" x2="512.70" y2="229.30" stroke="#000" stroke-width="2.0" />
<line x1="500.50" y1="221.70" x2="500.50" y2="239.20" stroke="#000" stroke-width="2.0" />
<line x1="523.30" y1="199.00" x2="547.70" y2="199.00" stroke="#000" stroke-width="2.0" />
<line x1="535.50" y1="161.70" x2="535.50" y2="225.60" stroke="#000" stroke-width="2.0" />
<line x1="558.10" y1="190.40" x2="582.50" y2="190.40" stroke="#000" stroke-width="2.0" />
<line x1="593.30" y1="277.20" x2="617.70" y2="277.20" stroke="#000" stroke-width="2.0" />
<line x1="628.30" y1="293.90" x2="652.70" y2="293.90" stroke="#000" stroke-width="2.0" />
<line x1="663.20" y1="230.60" x2="687.60" y2="230.60" stroke="#000" stroke-width="2.0" />
<line x1="675.40" y1="220.90" x2="675.40" y2="243.10" stroke="#000" stroke-width="2.0" />
<line x1="698.40" y1="241.50" x2="722.80" y2="241.50" stroke="#000" stroke-width="2.0" />
<path d="M395.50,284.30 L430.70,287.40 L465.30,263.70 L500.50,229.30 L535.50,199.00 L570.30,190.40 L605.50,277.20 L640.50,293.90 L675.40,230.60 L710.60,241.50" stroke="#0000ff" stroke-width="3.6" fill="none" stroke-linejoin="round" stroke-linecap="round" />
<circle cx="395.50" cy="284.30" r="4.4" fill="#000"/>
<circle cx="430.70" cy="287.40" r="4.4" fill="#000"/>
<circle cx="465.30" cy="263.70" r="4.4" fill="#000"/>
<circle cx="500.50" cy="229.30" r="4.4" fill="#000"/>
<circle cx="535.50" cy="199.00" r="4.4" fill="#000"/>
<circle cx="570.30" cy="190.40" r="4.4" fill="#000"/>
<circle cx="605.50" cy="277.20" r="4.4" fill="#000"/>
<circle cx="640.50" cy="293.90" r="4.4" fill="#000"/>
<circle cx="675.40" cy="230.60" r="4.4" fill="#000"/>
<circle cx="710.60" cy="241.50" r="4.4" fill="#000"/>
<rect x="366.50" y="154.40" width="373.50" height="147.00" stroke="#222" stroke-width="1.0" fill="none" />
<line x1="361.60" y1="321.30" x2="366.50" y2="321.30" stroke="#222" stroke-width="0.9" />
<text transform="translate(338.43,326.21) scale(1.0700,1)" font-size="14.27" font-family='"Liberation Sans", sans-serif' fill="#000">80</text>
<line x1="361.60" y1="355.10" x2="366.50" y2="355.10" stroke="#222" stroke-width="0.9" />
<text transform="translate(338.43,360.01) scale(1.0700,1)" font-size="14.27" font-family='"Liberation Sans", sans-serif' fill="#000">60</text>
<line x1="361.60" y1="388.80" x2="366.50" y2="388.80" stroke="#222" stroke-width="0.9" />
<text transform="translate(338.43,393.71) scale(1.0700,1)" font-size="14.27" font-family='"Liberation Sans", sans-serif' fill="#000">40</text>
<line x1="361.60" y1="422.50" x2="366.50" y2="422.50" stroke="#222" stroke-width="0.9" />
<text transform="translate(338.43,427.41) scale(1.0700,1)" font-size="14.27" font-family='"Liberation Sans", sans-serif' fill="#000">20</text>
<line x1="383.30" y1="345.70" x2="407.70" y2="345.70" stroke="#000" stroke-width="2.0" />
<line x1="418.50" y1="343.60" x2="442.90" y2="343.60" stroke="#000" stroke-width="2.0" />
<line x1="453.10" y1="379.40" x2="477.50" y2="379.40" stroke="#000" stroke-width="2.0" />
<line x1="488.30" y1="360.60" x2="512.70" y2="360.60" stroke="#000" stroke-width="2.0" />
<line x1="500.50" y1="350.90" x2="500.50" y2="375.20" stroke="#000" stroke-width="2.0" />
<line x1="523.30" y1="414.60" x2="547.70" y2="414.60" stroke="#000" stroke-width="2.0" />
<line x1="535.50" y1="395.80" x2="535.50" y2="441.70" stroke="#000" stroke-width="2.0" />
<line x1="558.10" y1="315.20" x2="582.50" y2="315.20" stroke="#000" stroke-width="2.0" />
<line x1="570.30" y1="308.40" x2="570.30" y2="321.00" stroke="#000" stroke-width="2.0" />
<line x1="593.30" y1="350.20" x2="617.70" y2="350.20" stroke="#000" stroke-width="2.0" />
<line x1="605.50" y1="344.40" x2="605.50" y2="352.00" stroke="#000" stroke-width="2.0" />
<line x1="628.30" y1="354.30" x2="652.70" y2="354.30" stroke="#000" stroke-width="2.0" />
<line x1="663.20" y1="370.20" x2="687.60" y2="370.20" stroke="#000" stroke-width="2.0" />
<line x1="675.40" y1="351.50" x2="675.40" y2="379.60" stroke="#000" stroke-width="2.0" />
<line x1="698.40" y1="342.80" x2="722.80" y2="342.80" stroke="#000" stroke-width="2.0" />
<path d="M395.50,345.70 L430.70,343.60 L465.30,379.40 L500.50,360.60 L535.50,414.60 L570.30,315.20 L605.50,350.20 L640.50,354.30 L675.40,370.20 L710.60,342.80" stroke="#0000ff" stroke-width="3.6" fill="none" stroke-linejoin="round" stroke-linecap="round" />
<circle cx="395.50" cy="345.70" r="4.4" fill="#000"/>
<circle cx="430.70" cy="343.60" r="4.4" fill="#000"/>
<circle cx="465.30" cy="379.40" r="4.4" fill="#000"/>
<circle cx="500.50" cy="360.60" r="4.4" fill="#000"/>
<circle cx="535.50" cy="414.60" r="4.4" fill="#000"/>
<circle cx="570.30" cy="315.20" r="4.4" fill="#000"/>
<circle cx="605.50" cy="350.20" r="4.4" fill="#000"/>
<circle cx="640.50" cy="354.30" r="4.4" fill="#000"/>
<circle cx="675.40" cy="370.20" r="4.4" fill="#000"/>
<circle cx="710.60" cy="342.80" r="4.4" fill="#000"/>
<rect x="366.50" y="301.40" width="373.50" height="147.00" stroke="#222" stroke-width="1.0" fill="none" />
<line x1="361.60" y1="502.40" x2="366.50" y2="502.40" stroke="#222" stroke-width="0.9" />
<text transform="translate(338.43,507.31) scale(1.0700,1)" font-size="14.27" font-family='"Liberation Sans", sans-serif' fill="#000">10</text>
<line x1="361.60" y1="529.20" x2="366.50" y2="529.20" stroke="#222" stroke-width="0.9" />
<text transform="translate(346.67,534.25) scale(1.0700,1)" font-size="14.68" font-family='"Liberation Sans", sans-serif' fill="#000">7</text>
<line x1="361.60" y1="555.90" x2="366.50" y2="555.90" stroke="#222" stroke-width="0.9" />
<text transform="translate(346.67,560.95) scale(1.0700,1)" font-size="14.68" font-family='"Liberation Sans", sans-serif' fill="#000">4</text>
<line x1="361.60" y1="582.50" x2="366.50" y2="582.50" stroke="#222" stroke-width="0.9" />
<text transform="translate(346.67,587.55) scale(1.0700,1)" font-size="14.68" font-family='"Liberation Sans", sans-serif' fill="#000">1</text>
<line x1="383.30" y1="582.20" x2="407.70" y2="582.20" stroke="#000" stroke-width="2.0" />
<line x1="418.50" y1="582.70" x2="442.90" y2="582.70" stroke="#000" stroke-width="2.0" />
<line x1="453.10" y1="586.40" x2="477.50" y2="586.40" stroke="#000" stroke-width="2.0" />
<line x1="488.30" y1="534.50" x2="512.70" y2="534.50" stroke="#000" stroke-width="2.0" />
<line x1="500.50" y1="455.20" x2="500.50" y2="560.80" stroke="#000" stroke-width="2.0" />
<line x1="523.30" y1="563.70" x2="547.70" y2="563.70" stroke="#000" stroke-width="2.0" />
<line x1="535.50" y1="538.40" x2="535.50" y2="583.50" stroke="#000" stroke-width="2.0" />
<line x1="558.10" y1="581.70" x2="582.50" y2="581.70" stroke="#000" stroke-width="2.0" />
<line x1="570.30" y1="577.50" x2="570.30" y2="585.00" stroke="#000" stroke-width="2.0" />
<line x1="593.30" y1="585.10" x2="617.70" y2="585.10" stroke="#000" stroke-width="2.0" />
<line x1="628.30" y1="584.80" x2="652.70" y2="584.80" stroke="#000" stroke-width="2.0" />
<line x1="663.20" y1="584.80" x2="687.60" y2="584.80" stroke="#000" stroke-width="2.0" />
<line x1="698.40" y1="538.90" x2="722.80" y2="538.90" stroke="#000" stroke-width="2.0" />
<line x1="710.60" y1="506.60" x2="710.60" y2="556.10" stroke="#000" stroke-width="2.0" />
<path d="M395.50,582.20 L430.70,582.70 L465.30,586.40 L500.50,534.50 L535.50,563.70 L570.30,581.70 L605.50,585.10 L640.50,584.80 L675.40,584.80 L710.60,538.90" stroke="#0000ff" stroke-width="3.6" fill="none" stroke-linejoin="round" stroke-linecap="round" />
<circle cx="395.50" cy="582.20" r="4.4" fill="#000"/>
<circle cx="430.70" cy="582.70" r="4.4" fill="#000"/>
<circle cx="465.30" cy="586.40" r="4.4" fill="#000"/>
<circle cx="500.50" cy="534.50" r="4.4" fill="#000"/>
<circle cx="535.50" cy="563.70" r="4.4" fill="#000"/>
<circle cx="570.30" cy="581.70" r="4.4" fill="#000"/>
<circle cx="605.50" cy="585.10" r="4.4" fill="#000"/>
<circle cx="640.50" cy="584.80" r="4.4" fill="#000"/>
<circle cx="675.40" cy="584.80" r="4.4" fill="#000"/>
<circle cx="710.60" cy="538.90" r="4.4" fill="#000"/>
<rect x="366.50" y="448.40" width="373.50" height="147.00" stroke="#222" stroke-width="1.0" fill="none" />
<line x1="361.60" y1="610.60" x2="366.50" y2="610.60" stroke="#222" stroke-width="0.9" />
<text transform="translate(346.91,615.51) scale(1.0700,1)" font-size="14.27" font-family='"Liberation Sans", sans-serif' fill="#000">9</text>
<line x1="361.60" y1="656.50" x2="366.50" y2="656.50" stroke="#222" stroke-width="0.9" />
<text transform="translate(346.91,661.41) scale(1.0700,1)" font-size="14.27" font-family='"Liberation Sans", sans-serif' fill="#000">8</text>
<line x1="361.60" y1="702.40" x2="366.50" y2="702.40" stroke="#222" stroke-width="0.9" />
<text transform="translate(346.67,707.45) scale(1.0700,1)" font-size="14.68" font-family='"Liberation Sans", sans-serif' fill="#000">7</text>
<line x1="382.50" y1="630.90" x2="406.90" y2="630.90" stroke="#000" stroke-width="2.0" />
<line x1="417.40" y1="629.60" x2="441.80" y2="629.60" stroke="#000" stroke-width="2.0" />
<line x1="451.60" y1="652.80" x2="476.00" y2="652.80" stroke="#000" stroke-width="2.0" />
<line x1="486.30" y1="626.50" x2="510.70" y2="626.50" stroke="#000" stroke-width="2.0" />
<line x1="498.50" y1="612.90" x2="498.50" y2="642.90" stroke="#000" stroke-width="2.0" />
<line x1="520.70" y1="666.90" x2="545.10" y2="666.90" stroke="#000" stroke-width="2.0" />
<line x1="532.90" y1="657.30" x2="532.90" y2="735.20" stroke="#000" stroke-width="2.0" />
<line x1="555.30" y1="606.20" x2="579.70" y2="606.20" stroke="#000" stroke-width="2.0" />
<line x1="589.70" y1="636.90" x2="614.10" y2="636.90" stroke="#000" stroke-width="2.0" />
<line x1="624.40" y1="640.10" x2="648.80" y2="640.10" stroke="#000" stroke-width="2.0" />
<line x1="658.30" y1="648.90" x2="682.70" y2="648.90" stroke="#000" stroke-width="2.0" />
<line x1="693.50" y1="608.30" x2="717.90" y2="608.30" stroke="#000" stroke-width="2.0" />
<line x1="705.70" y1="604.00" x2="705.70" y2="612.00" stroke="#000" stroke-width="2.0" />
<path d="M394.70,630.90 L429.60,629.60 L463.80,652.80 L498.50,626.50 L532.90,666.90 L567.50,606.20 L601.90,636.90 L636.60,640.10 L670.50,648.90 L705.70,608.30" stroke="#0000ff" stroke-width="3.6" fill="none" stroke-linejoin="round" stroke-linecap="round" />
<circle cx="394.70" cy="630.90" r="4.4" fill="#000"/>
<circle cx="429.60" cy="629.60" r="4.4" fill="#000"/>
<circle cx="463.80" cy="652.80" r="4.4" fill="#000"/>
<circle cx="498.50" cy="626.50" r="4.4" fill="#000"/>
<circle cx="532.90" cy="666.90" r="4.4" fill="#000"/>
<circle cx="567.50" cy="606.20" r="4.4" fill="#000"/>
<circle cx="601.90" cy="636.90" r="4.4" fill="#000"/>
<circle cx="636.60" cy="640.10" r="4.4" fill="#000"/>
<circle cx="670.50" cy="648.90" r="4.4" fill="#000"/>
<circle cx="705.70" cy="608.30" r="4.4" fill="#000"/>
<rect x="366.50" y="595.40" width="373.50" height="147.00" stroke="#222" stroke-width="1.0" fill="none" />
<text transform="translate(323.88,119.20) rotate(-90) scale(1.1758,1)" font-size="15.56" font-family='"Liberation Sans", sans-serif' fill="#000">Vr (km/s)</text>
<text transform="translate(323.80,255.00) rotate(-90) scale(1.1228,1)" font-size="15.45" font-family='"Liberation Sans", sans-serif' fill="#000">Ti (eV)</text>
<text transform="translate(323.80,403.80) rotate(-90) scale(1.0884,1)" font-size="15.45" font-family='"Liberation Sans", sans-serif' fill="#000">Te (eV)</text>
<text transform="translate(323.91,596.80) rotate(-90) scale(1.1790,1)" font-size="15.88" font-family='"Liberation Sans", sans-serif' fill="#000">Ne (x10^19 cm-3)</text>
<text transform="translate(326.40,674.80) rotate(-90) scale(0.9063,1)" font-size="17.88" font-family='"Liberation Sans", sans-serif' fill="#000">Z</text>
<line x1="395.00" y1="742.40" x2="395.00" y2="747.00" stroke="#222" stroke-width="0.9" />
<text transform="translate(387.20,762.76) scale(1.0655,1)" font-size="14.41" font-family='"Liberation Sans", sans-serif' fill="#000">−3</text>
<line x1="452.50" y1="742.40" x2="452.50" y2="747.00" stroke="#222" stroke-width="0.9" />
<text transform="translate(444.70,762.90) scale(1.0505,1)" font-size="14.61" font-family='"Liberation Sans", sans-serif' fill="#000">−2</text>
<line x1="510.00" y1="742.40" x2="510.00" y2="747.00" stroke="#222" stroke-width="0.9" />
<text transform="translate(502.20,762.90) scale(1.0354,1)" font-size="14.83" font-family='"Liberation Sans", sans-serif' fill="#000">−1</text>
<line x1="567.50" y1="742.40" x2="567.50" y2="747.00" stroke="#222" stroke-width="0.9" />
<text transform="translate(563.19,762.66) scale(1.1000,1)" font-size="14.41" font-family='"Liberation Sans", sans-serif' fill="#000">0</text>
<line x1="625.00" y1="742.40" x2="625.00" y2="747.00" stroke="#222" stroke-width="0.9" />
<text transform="translate(620.57,762.80) scale(1.1000,1)" font-size="14.83" font-family='"Liberation Sans", sans-serif' fill="#000">1</text>
<line x1="682.50" y1="742.40" x2="682.50" y2="747.00" stroke="#222" stroke-width="0.9" />
<text transform="translate(678.13,762.80) scale(1.1000,1)" font-size="14.61" font-family='"Liberation Sans", sans-serif' fill="#000">2</text>
<line x1="740.00" y1="742.40" x2="740.00" y2="747.00" stroke="#222" stroke-width="0.9" />
<text transform="translate(735.69,762.66) scale(1.1000,1)" font-size="14.41" font-family='"Liberation Sans", sans-serif' fill="#000">3</text>
<text transform="translate(494.50,784.40) scale(1.1200,1)" font-size="18.35" font-family='"Liberation Sans", sans-serif' fill="#000">Radius (mm)</text>
<text transform="translate(378.10,30.99) scale(0.9135,1)" font-size="26.47" font-family='"Liberation Sans", sans-serif' fill="#000" font-weight="bold">c)</text>
<rect x="106.60" y="803.50" width="601.00" height="321.90" stroke="#000" stroke-width="1.4" fill="none" />
<line x1="100.10" y1="1097.90" x2="106.60" y2="1097.90" stroke="#000" stroke-width="1.2" />
<text transform="translate(66.80,1103.10) scale(1.2520,1)" font-size="15.11" font-family='"Liberation Sans", sans-serif' fill="#000">0.0</text>
<line x1="100.10" y1="1043.60" x2="106.60" y2="1043.60" stroke="#000" stroke-width="1.2" />
<text transform="translate(66.80,1048.80) scale(1.2520,1)" font-size="15.11" font-family='"Liberation Sans", sans-serif' fill="#000">0.2</text>
<line x1="100.10" y1="989.30" x2="106.60" y2="989.30" stroke="#000" stroke-width="1.2" />
<text transform="translate(66.80,994.50) scale(1.2520,1)" font-size="15.11" font-family='"Liberation Sans", sans-serif' fill="#000">0.4</text>
<line x1="100.10" y1="935.00" x2="106.60" y2="935.00" stroke="#000" stroke-width="1.2" />
<text transform="translate(66.80,940.20) scale(1.2520,1)" font-size="15.11" font-family='"Liberation Sans", sans-serif' fill="#000">0.6</text>
<line x1="100.10" y1="880.70" x2="106.60" y2="880.70" stroke="#000" stroke-width="1.2" />
<text transform="translate(66.80,885.90) scale(1.2520,1)" font-size="15.11" font-family='"Liberation Sans", sans-serif' fill="#000">0.8</text>
<line x1="100.10" y1="826.40" x2="106.60" y2="826.40" stroke="#000" stroke-width="1.2" />
<text transform="translate(66.80,831.60) scale(1.2520,1)" font-size="15.11" font-family='"Liberation Sans", sans-serif' fill="#000">1.0</text>
<line x1="106.60" y1="1125.40" x2="106.60" y2="1131.10" stroke="#000" stroke-width="1.2" />
<text transform="translate(82.30,1147.74) scale(1.2528,1)" font-size="15.54" font-family='"Liberation Sans", sans-serif' fill="#000">531.4</text>
<line x1="206.77" y1="1125.40" x2="206.77" y2="1131.10" stroke="#000" stroke-width="1.2" />
<text transform="translate(182.47,1147.74) scale(1.2528,1)" font-size="15.54" font-family='"Liberation Sans", sans-serif' fill="#000">531.6</text>
<line x1="306.93" y1="1125.40" x2="306.93" y2="1131.10" stroke="#000" stroke-width="1.2" />
<text transform="translate(282.63,1147.74) scale(1.2528,1)" font-size="15.54" font-family='"Liberation Sans", sans-serif' fill="#000">531.8</text>
<line x1="407.10" y1="1125.40" x2="407.10" y2="1131.10" stroke="#000" stroke-width="1.2" />
<text transform="translate(382.80,1147.74) scale(1.2528,1)" font-size="15.54" font-family='"Liberation Sans", sans-serif' fill="#000">532.0</text>
<line x1="507.27" y1="1125.40" x2="507.27" y2="1131.10" stroke="#000" stroke-width="1.2" />
<text transform="translate(482.97,1147.74) scale(1.2528,1)" font-size="15.54" font-family='"Liberation Sans", sans-serif' fill="#000">532.2</text>
<line x1="607.43" y1="1125.40" x2="607.43" y2="1131.10" stroke="#000" stroke-width="1.2" />
<text transform="translate(583.13,1147.74) scale(1.2528,1)" font-size="15.54" font-family='"Liberation Sans", sans-serif' fill="#000">532.4</text>
<line x1="707.60" y1="1125.40" x2="707.60" y2="1131.10" stroke="#000" stroke-width="1.2" />
<text transform="translate(683.30,1147.74) scale(1.2528,1)" font-size="15.54" font-family='"Liberation Sans", sans-serif' fill="#000">532.6</text>
<defs><clipPath id="cb"><rect x="106.6" y="803.5" width="601.00" height="321.90"/></clipPath></defs>
<g clip-path="url(#cb)">
<path d="M105.6,1090.7 L110.1,1092.1 L114.6,1091.6 L119.1,1091.2 L123.6,1092.7 L128.1,1092.9 L132.6,1090.4 L137.1,1090.9 L141.6,1093.8 L146.1,1092.7 L150.6,1092.9 L155.1,1091.6 L159.6,1091.7 L164.1,1092.8 L168.6,1091.5 L173.1,1090.7 L177.6,1092.1 L182.1,1093.3 L186.6,1090.7 L191.1,1093.4 L195.6,1092.9 L200.1,1090.8 L204.6,1091.9 L209.1,1091.8 L213.6,1092.7 L218.1,1092.7 L222.6,1090.1 L227.1,1090.1 L231.6,1093.1 L236.1,1091.9 L240.6,1092.3 L245.1,1092.1 L249.6,1093.6 L254.1,1090.1 L258.6,1093.0 L263.1,1090.5 L267.6,1092.5 L272.1,1093.2 L276.6,1089.7 L281.1,1092.0 L285.6,1091.1 L290.1,1091.0 L294.6,1091.4 L299.1,1089.9 L303.6,1090.0 L308.1,1091.9 L312.6,1092.0 L317.1,1090.0 L321.6,1088.7 L326.1,1093.3 L330.6,1091.5 L335.1,1090.4 L339.6,1088.3 L344.1,1088.7 L348.6,1089.5 L353.1,1087.8 L357.6,1090.9 L362.1,1088.8 L366.6,1088.9 L371.1,1086.9 L375.6,1086.8 L380.1,1086.6 L384.6,1087.6 L389.1,1086.4 L393.6,1085.9 L398.1,1086.3 L402.6,1086.2 L407.1,1088.6 L411.6,1087.3 L416.1,1086.5 L420.6,1087.0 L425.1,1087.6 L429.6,1084.0 L434.1,1083.3 L438.6,1080.5 L443.1,1078.4 L447.6,1074.5 L452.1,1069.3 L456.6,1067.2 L461.1,1058.1 L465.6,1049.4 L470.1,1034.8 L474.6,1011.4 L479.1,986.0 L483.6,967.1 L488.1,940.2 L492.6,908.9 L497.1,877.9 L501.6,856.8 L506.1,846.1 L510.6,837.1 L515.1,838.3 L519.6,837.0 L524.1,832.2 L528.6,846.5 L533.1,860.1 L537.6,869.0 L542.1,885.3 L546.6,899.0 L551.1,911.8 L555.6,912.6 L560.1,920.7 L564.6,918.7 L569.1,914.3 L573.6,913.3 L578.1,910.6 L582.6,900.9 L587.1,890.7 L591.6,872.4 L596.1,857.1 L600.6,847.2 L605.1,839.8 L609.6,831.2 L614.1,820.6 L618.6,819.8 L623.1,826.1 L627.6,838.9 L632.1,857.0 L636.6,884.3 L641.1,908.4 L645.6,941.4 L650.1,969.4 L654.6,987.5 L659.1,1008.0 L663.6,1028.6 L668.1,1041.0 L672.6,1050.8 L677.1,1054.8 L681.6,1065.6 L686.1,1068.8 L690.6,1071.9 L695.1,1076.1 L699.6,1082.3 L704.1,1081.7 L708.6,1082.9" fill="none" stroke="#7a7a7a" stroke-width="2.2" stroke-linejoin="round" />
<path d="M105.6,1109.2 L110.1,1109.0 L114.6,1110.8 L119.1,1107.1 L123.6,1106.8 L128.1,1108.4 L132.6,1109.3 L137.1,1109.3 L141.6,1110.2 L146.1,1107.0 L150.6,1107.8 L155.1,1108.7 L159.6,1109.9 L164.1,1109.4 L168.6,1108.3 L173.1,1107.5 L177.6,1109.9 L182.1,1109.9 L186.6,1112.1 L191.1,1108.4 L195.6,1110.7 L200.1,1107.0 L204.6,1107.8 L209.1,1107.6 L213.6,1107.9 L218.1,1107.3 L222.6,1107.7 L227.1,1108.3 L231.6,1107.8 L236.1,1109.2 L240.6,1108.2 L245.1,1108.3 L249.6,1110.1 L254.1,1108.6 L258.6,1108.4 L263.1,1108.2 L267.6,1108.2 L272.1,1108.9 L276.6,1107.1 L281.1,1109.5 L285.6,1110.0 L290.1,1109.4 L294.6,1107.3 L299.1,1105.8 L303.6,1107.2 L308.1,1107.9 L312.6,1108.6 L317.1,1107.1 L321.6,1106.8 L326.1,1108.9 L330.6,1105.9 L335.1,1107.9 L339.6,1107.4 L344.1,1104.4 L348.6,1106.2 L353.1,1104.9 L357.6,1104.2 L362.1,1102.9 L366.6,1103.0 L371.1,1105.3 L375.6,1104.0 L380.1,1104.6 L384.6,1102.5 L389.1,1102.9 L393.6,1102.5 L398.1,1100.6 L402.6,1100.4 L407.1,1103.8 L411.6,1104.3 L416.1,1103.2 L420.6,1103.5 L425.1,1103.2 L429.6,1103.6 L434.1,1098.8 L438.6,1098.4 L443.1,1097.2 L447.6,1090.8 L452.1,1088.8 L456.6,1080.8 L461.1,1075.3 L465.6,1064.6 L470.1,1047.8 L474.6,1027.9 L479.1,1004.4 L483.6,985.7 L488.1,957.2 L492.6,927.0 L497.1,893.7 L501.6,875.1 L506.1,863.1 L510.6,855.2 L515.1,855.9 L519.6,852.9 L524.1,850.9 L528.6,864.0 L533.1,880.0 L537.6,889.3 L542.1,898.6 L546.6,915.5 L551.1,926.5 L555.6,929.4 L560.1,938.6 L564.6,934.4 L569.1,930.0 L573.6,930.3 L578.1,928.0 L582.6,915.1 L587.1,907.0 L591.6,890.3 L596.1,874.9 L600.6,861.1 L605.1,855.5 L609.6,845.8 L614.1,836.6 L618.6,836.5 L623.1,844.2 L627.6,856.3 L632.1,872.1 L636.6,903.7 L641.1,924.5 L645.6,958.9 L650.1,985.8 L654.6,1005.6 L659.1,1023.1 L663.6,1043.2 L668.1,1058.4 L672.6,1066.2 L677.1,1074.0 L681.6,1079.4 L686.1,1086.8 L690.6,1090.1 L695.1,1090.7 L699.6,1096.3 L704.1,1097.4 L708.6,1097.9" fill="none" stroke="#7a7a7a" stroke-width="2.2" stroke-linejoin="round" />
<ellipse cx="107.1" cy="1099.8" rx="2.7" ry="2.3"/>
<ellipse cx="110.1" cy="1100.4" rx="2.7" ry="2.3"/>
<ellipse cx="113.1" cy="1100.5" rx="2.7" ry="2.3"/>
<ellipse cx="116.1" cy="1101.6" rx="2.7" ry="2.3"/>
<ellipse cx="119.1" cy="1102.0" rx="2.7" ry="2.3"/>
<ellipse cx="122.1" cy="1103.0" rx="2.7" ry="2.3"/>
<ellipse cx="125.1" cy="1102.9" rx="2.7" ry="2.3"/>
<ellipse cx="128.1" cy="1102.2" rx="2.7" ry="2.3"/>
<ellipse cx="131.1" cy="1101.2" rx="2.7" ry="2.3"/>
<ellipse cx="134.1" cy="1100.8" rx="2.7" ry="2.3"/>
<ellipse cx="137.1" cy="1101.2" rx="2.7" ry="2.3"/>
<ellipse cx="140.1" cy="1101.7" rx="2.7" ry="2.3"/>
<ellipse cx="143.1" cy="1101.1" rx="2.7" ry="2.3"/>
<ellipse cx="146.1" cy="1099.6" rx="2.7" ry="2.3"/>
<ellipse cx="149.1" cy="1099.8" rx="2.7" ry="2.3"/>
<ellipse cx="152.1" cy="1100.2" rx="2.7" ry="2.3"/>
<ellipse cx="155.1" cy="1100.4" rx="2.7" ry="2.3"/>
<ellipse cx="158.1" cy="1100.0" rx="2.7" ry="2.3"/>
<ellipse cx="161.1" cy="1100.2" rx="2.7" ry="2.3"/>
<ellipse cx="164.1" cy="1100.9" rx="2.7" ry="2.3"/>
<ellipse cx="167.1" cy="1101.4" rx="2.7" ry="2.3"/>
<ellipse cx="170.1" cy="1101.4" rx="2.7" ry="2.3"/>
<ellipse cx="173.1" cy="1100.5" rx="2.7" ry="2.3"/>
<ellipse cx="176.1" cy="1099.8" rx="2.7" ry="2.3"/>
<ellipse cx="179.1" cy="1099.6" rx="2.7" ry="2.3"/>
<ellipse cx="182.1" cy="1101.1" rx="2.7" ry="2.3"/>
<ellipse cx="185.1" cy="1102.1" rx="2.7" ry="2.3"/>
<ellipse cx="188.1" cy="1100.6" rx="2.7" ry="2.3"/>
<ellipse cx="191.1" cy="1099.9" rx="2.7" ry="2.3"/>
<ellipse cx="194.1" cy="1099.5" rx="2.7" ry="2.3"/>
<ellipse cx="197.1" cy="1101.4" rx="2.7" ry="2.3"/>
<ellipse cx="200.1" cy="1102.5" rx="2.7" ry="2.3"/>
<ellipse cx="203.1" cy="1101.5" rx="2.7" ry="2.3"/>
<ellipse cx="206.1" cy="1100.4" rx="2.7" ry="2.3"/>
<ellipse cx="209.1" cy="1098.7" rx="2.7" ry="2.3"/>
<ellipse cx="212.1" cy="1099.8" rx="2.7" ry="2.3"/>
<ellipse cx="215.1" cy="1099.2" rx="2.7" ry="2.3"/>
<ellipse cx="218.1" cy="1100.6" rx="2.7" ry="2.3"/>
<ellipse cx="221.1" cy="1100.6" rx="2.7" ry="2.3"/>
<ellipse cx="224.1" cy="1101.7" rx="2.7" ry="2.3"/>
<ellipse cx="227.1" cy="1099.6" rx="2.7" ry="2.3"/>
<ellipse cx="230.1" cy="1098.6" rx="2.7" ry="2.3"/>
<ellipse cx="233.1" cy="1098.7" rx="2.7" ry="2.3"/>
<ellipse cx="236.1" cy="1099.2" rx="2.7" ry="2.3"/>
<ellipse cx="239.1" cy="1099.4" rx="2.7" ry="2.3"/>
<ellipse cx="242.1" cy="1098.9" rx="2.7" ry="2.3"/>
<ellipse cx="245.1" cy="1100.3" rx="2.7" ry="2.3"/>
<ellipse cx="248.1" cy="1100.6" rx="2.7" ry="2.3"/>
<ellipse cx="251.1" cy="1100.8" rx="2.7" ry="2.3"/>
<ellipse cx="254.1" cy="1100.0" rx="2.7" ry="2.3"/>
<ellipse cx="257.1" cy="1099.8" rx="2.7" ry="2.3"/>
<ellipse cx="260.1" cy="1099.5" rx="2.7" ry="2.3"/>
<ellipse cx="263.1" cy="1100.2" rx="2.7" ry="2.3"/>
<ellipse cx="266.1" cy="1100.1" rx="2.7" ry="2.3"/>
<ellipse cx="269.1" cy="1100.8" rx="2.7" ry="2.3"/>
<ellipse cx="272.1" cy="1099.3" rx="2.7" ry="2.3"/>
<ellipse cx="275.1" cy="1100.1" rx="2.7" ry="2.3"/>
<ellipse cx="278.1" cy="1099.3" rx="2.7" ry="2.3"/>
<ellipse cx="281.1" cy="1101.1" rx="2.7" ry="2.3"/>
<ellipse cx="284.1" cy="1100.4" rx="2.7" ry="2.3"/>
<ellipse cx="287.1" cy="1101.0" rx="2.7" ry="2.3"/>
<ellipse cx="290.1" cy="1101.2" rx="2.7" ry="2.3"/>
<ellipse cx="293.1" cy="1100.8" rx="2.7" ry="2.3"/>
<ellipse cx="296.1" cy="1100.2" rx="2.7" ry="2.3"/>
<ellipse cx="299.1" cy="1099.1" rx="2.7" ry="2.3"/>
<ellipse cx="302.1" cy="1099.6" rx="2.7" ry="2.3"/>
<ellipse cx="305.1" cy="1098.5" rx="2.7" ry="2.3"/>
<ellipse cx="308.1" cy="1098.4" rx="2.7" ry="2.3"/>
<ellipse cx="311.1" cy="1098.0" rx="2.7" ry="2.3"/>
<ellipse cx="314.1" cy="1098.4" rx="2.7" ry="2.3"/>
<ellipse cx="317.1" cy="1098.3" rx="2.7" ry="2.3"/>
<ellipse cx="320.1" cy="1097.3" rx="2.7" ry="2.3"/>
<ellipse cx="323.1" cy="1098.6" rx="2.7" ry="2.3"/>
<ellipse cx="326.1" cy="1098.8" rx="2.7" ry="2.3"/>
<ellipse cx="329.1" cy="1100.8" rx="2.7" ry="2.3"/>
<ellipse cx="332.1" cy="1099.3" rx="2.7" ry="2.3"/>
<ellipse cx="335.1" cy="1098.1" rx="2.7" ry="2.3"/>
<ellipse cx="338.1" cy="1096.9" rx="2.7" ry="2.3"/>
<ellipse cx="341.1" cy="1096.3" rx="2.7" ry="2.3"/>
<ellipse cx="344.1" cy="1097.0" rx="2.7" ry="2.3"/>
<ellipse cx="347.1" cy="1096.2" rx="2.7" ry="2.3"/>
<ellipse cx="350.1" cy="1096.9" rx="2.7" ry="2.3"/>
<ellipse cx="353.1" cy="1096.8" rx="2.7" ry="2.3"/>
<ellipse cx="356.1" cy="1097.1" rx="2.7" ry="2.3"/>
<ellipse cx="359.1" cy="1098.4" rx="2.7" ry="2.3"/>
<ellipse cx="362.1" cy="1098.5" rx="2.7" ry="2.3"/>
<ellipse cx="365.1" cy="1097.5" rx="2.7" ry="2.3"/>
<ellipse cx="368.1" cy="1096.8" rx="2.7" ry="2.3"/>
<ellipse cx="371.1" cy="1095.4" rx="2.7" ry="2.3"/>
<ellipse cx="374.1" cy="1096.1" rx="2.7" ry="2.3"/>
<ellipse cx="377.1" cy="1094.5" rx="2.7" ry="2.3"/>
<ellipse cx="380.1" cy="1094.7" rx="2.7" ry="2.3"/>
<ellipse cx="383.1" cy="1095.2" rx="2.7" ry="2.3"/>
<ellipse cx="386.1" cy="1095.3" rx="2.7" ry="2.3"/>
<ellipse cx="389.1" cy="1095.1" rx="2.7" ry="2.3"/>
<ellipse cx="392.1" cy="1093.6" rx="2.7" ry="2.3"/>
<ellipse cx="395.1" cy="1093.4" rx="2.7" ry="2.3"/>
<ellipse cx="398.1" cy="1094.5" rx="2.7" ry="2.3"/>
<ellipse cx="401.1" cy="1094.1" rx="2.7" ry="2.3"/>
<ellipse cx="404.1" cy="1093.8" rx="2.7" ry="2.3"/>
<ellipse cx="407.1" cy="1093.8" rx="2.7" ry="2.3"/>
<ellipse cx="410.1" cy="1094.1" rx="2.7" ry="2.3"/>
<ellipse cx="413.1" cy="1095.1" rx="2.7" ry="2.3"/>
<ellipse cx="416.1" cy="1095.6" rx="2.7" ry="2.3"/>
<ellipse cx="419.1" cy="1096.1" rx="2.7" ry="2.3"/>
<ellipse cx="422.1" cy="1095.2" rx="2.7" ry="2.3"/>
<ellipse cx="425.1" cy="1093.3" rx="2.7" ry="2.3"/>
<ellipse cx="428.1" cy="1092.0" rx="2.7" ry="2.3"/>
<ellipse cx="431.1" cy="1091.2" rx="2.7" ry="2.3"/>
<ellipse cx="434.1" cy="1090.7" rx="2.7" ry="2.3"/>
<ellipse cx="437.1" cy="1090.6" rx="2.7" ry="2.3"/>
<ellipse cx="440.1" cy="1089.5" rx="2.7" ry="2.3"/>
<ellipse cx="443.1" cy="1086.7" rx="2.7" ry="2.3"/>
<ellipse cx="446.1" cy="1083.8" rx="2.7" ry="2.3"/>
<ellipse cx="449.1" cy="1080.8" rx="2.7" ry="2.3"/>
<ellipse cx="452.1" cy="1077.2" rx="2.7" ry="2.3"/>
<ellipse cx="455.1" cy="1077.2" rx="2.7" ry="2.3"/>
<ellipse cx="458.1" cy="1072.0" rx="2.7" ry="2.3"/>
<ellipse cx="461.1" cy="1066.3" rx="2.7" ry="2.3"/>
<ellipse cx="464.1" cy="1059.7" rx="2.7" ry="2.3"/>
<ellipse cx="467.1" cy="1053.2" rx="2.7" ry="2.3"/>
<ellipse cx="470.1" cy="1041.5" rx="2.7" ry="2.3"/>
<ellipse cx="473.1" cy="1026.8" rx="2.7" ry="2.3"/>
<ellipse cx="476.1" cy="1009.7" rx="2.7" ry="2.3"/>
<ellipse cx="479.1" cy="994.8" rx="2.7" ry="2.3"/>
<ellipse cx="482.1" cy="985.0" rx="2.7" ry="2.3"/>
<ellipse cx="485.1" cy="966.1" rx="2.7" ry="2.3"/>
<ellipse cx="488.1" cy="947.7" rx="2.7" ry="2.3"/>
<ellipse cx="491.1" cy="928.9" rx="2.7" ry="2.3"/>
<ellipse cx="494.1" cy="907.4" rx="2.7" ry="2.3"/>
<ellipse cx="497.1" cy="885.0" rx="2.7" ry="2.3"/>
<ellipse cx="500.1" cy="874.6" rx="2.7" ry="2.3"/>
<ellipse cx="503.1" cy="862.7" rx="2.7" ry="2.3"/>
<ellipse cx="506.1" cy="855.1" rx="2.7" ry="2.3"/>
<ellipse cx="509.1" cy="846.9" rx="2.7" ry="2.3"/>
<ellipse cx="512.1" cy="848.0" rx="2.7" ry="2.3"/>
<ellipse cx="515.1" cy="848.3" rx="2.7" ry="2.3"/>
<ellipse cx="518.1" cy="847.0" rx="2.7" ry="2.3"/>
<ellipse cx="521.1" cy="843.8" rx="2.7" ry="2.3"/>
<ellipse cx="524.1" cy="841.5" rx="2.7" ry="2.3"/>
<ellipse cx="527.1" cy="849.4" rx="2.7" ry="2.3"/>
<ellipse cx="530.1" cy="862.5" rx="2.7" ry="2.3"/>
<ellipse cx="533.1" cy="868.7" rx="2.7" ry="2.3"/>
<ellipse cx="536.1" cy="873.5" rx="2.7" ry="2.3"/>
<ellipse cx="539.1" cy="882.5" rx="2.7" ry="2.3"/>
<ellipse cx="542.1" cy="891.8" rx="2.7" ry="2.3"/>
<ellipse cx="545.1" cy="900.2" rx="2.7" ry="2.3"/>
<ellipse cx="548.1" cy="916.6" rx="2.7" ry="2.3"/>
<ellipse cx="551.1" cy="919.6" rx="2.7" ry="2.3"/>
<ellipse cx="554.1" cy="922.3" rx="2.7" ry="2.3"/>
<ellipse cx="557.1" cy="929.1" rx="2.7" ry="2.3"/>
<ellipse cx="560.1" cy="928.9" rx="2.7" ry="2.3"/>
<ellipse cx="563.1" cy="928.3" rx="2.7" ry="2.3"/>
<ellipse cx="566.1" cy="925.8" rx="2.7" ry="2.3"/>
<ellipse cx="569.1" cy="923.8" rx="2.7" ry="2.3"/>
<ellipse cx="572.1" cy="923.0" rx="2.7" ry="2.3"/>
<ellipse cx="575.1" cy="921.4" rx="2.7" ry="2.3"/>
<ellipse cx="578.1" cy="919.1" rx="2.7" ry="2.3"/>
<ellipse cx="581.1" cy="912.0" rx="2.7" ry="2.3"/>
<ellipse cx="584.1" cy="905.2" rx="2.7" ry="2.3"/>
<ellipse cx="587.1" cy="899.3" rx="2.7" ry="2.3"/>
<ellipse cx="590.1" cy="884.8" rx="2.7" ry="2.3"/>
<ellipse cx="593.1" cy="876.2" rx="2.7" ry="2.3"/>
<ellipse cx="596.1" cy="865.4" rx="2.7" ry="2.3"/>
<ellipse cx="599.1" cy="856.6" rx="2.7" ry="2.3"/>
<ellipse cx="602.1" cy="848.7" rx="2.7" ry="2.3"/>
<ellipse cx="605.1" cy="846.4" rx="2.7" ry="2.3"/>
<ellipse cx="608.1" cy="842.2" rx="2.7" ry="2.3"/>
<ellipse cx="611.1" cy="836.9" rx="2.7" ry="2.3"/>
<ellipse cx="614.1" cy="827.7" rx="2.7" ry="2.3"/>
<ellipse cx="617.1" cy="829.4" rx="2.7" ry="2.3"/>
<ellipse cx="620.1" cy="829.6" rx="2.7" ry="2.3"/>
<ellipse cx="623.1" cy="834.7" rx="2.7" ry="2.3"/>
<ellipse cx="626.1" cy="843.6" rx="2.7" ry="2.3"/>
<ellipse cx="629.1" cy="853.3" rx="2.7" ry="2.3"/>
<ellipse cx="632.1" cy="864.9" rx="2.7" ry="2.3"/>
<ellipse cx="635.1" cy="885.3" rx="2.7" ry="2.3"/>
<ellipse cx="638.1" cy="900.3" rx="2.7" ry="2.3"/>
<ellipse cx="641.1" cy="917.9" rx="2.7" ry="2.3"/>
<ellipse cx="644.1" cy="939.3" rx="2.7" ry="2.3"/>
<ellipse cx="647.1" cy="957.9" rx="2.7" ry="2.3"/>
<ellipse cx="650.1" cy="977.1" rx="2.7" ry="2.3"/>
<ellipse cx="653.1" cy="991.6" rx="2.7" ry="2.3"/>
<ellipse cx="656.1" cy="1004.7" rx="2.7" ry="2.3"/>
<ellipse cx="659.1" cy="1015.5" rx="2.7" ry="2.3"/>
<ellipse cx="662.1" cy="1027.7" rx="2.7" ry="2.3"/>
<ellipse cx="665.1" cy="1042.6" rx="2.7" ry="2.3"/>
<ellipse cx="668.1" cy="1049.0" rx="2.7" ry="2.3"/>
<ellipse cx="671.1" cy="1056.7" rx="2.7" ry="2.3"/>
<ellipse cx="674.1" cy="1060.9" rx="2.7" ry="2.3"/>
<ellipse cx="677.1" cy="1064.5" rx="2.7" ry="2.3"/>
<ellipse cx="680.1" cy="1070.3" rx="2.7" ry="2.3"/>
<ellipse cx="683.1" cy="1075.8" rx="2.7" ry="2.3"/>
<ellipse cx="686.1" cy="1078.2" rx="2.7" ry="2.3"/>
<ellipse cx="689.1" cy="1080.7" rx="2.7" ry="2.3"/>
<ellipse cx="692.1" cy="1083.6" rx="2.7" ry="2.3"/>
<ellipse cx="695.1" cy="1085.3" rx="2.7" ry="2.3"/>
<ellipse cx="698.1" cy="1087.2" rx="2.7" ry="2.3"/>
<ellipse cx="701.1" cy="1088.2" rx="2.7" ry="2.3"/>
<ellipse cx="704.1" cy="1090.8" rx="2.7" ry="2.3"/>
<ellipse cx="707.1" cy="1091.8" rx="2.7" ry="2.3"/>
<path d="M106.6,1095.4 L107.6,1095.4 L108.6,1095.4 L109.6,1095.4 L110.6,1095.4 L111.6,1095.4 L112.6,1095.4 L113.6,1095.4 L114.6,1095.4 L115.6,1095.4 L116.6,1095.4 L117.6,1095.4 L118.6,1095.4 L119.6,1095.4 L120.6,1095.4 L121.6,1095.4 L122.6,1095.4 L123.6,1095.4 L124.6,1095.4 L125.6,1095.4 L126.6,1095.4 L127.6,1095.4 L128.6,1095.4 L129.6,1095.4 L130.6,1095.4 L131.6,1095.4 L132.6,1095.4 L133.6,1095.4 L134.6,1095.4 L135.6,1095.4 L136.6,1095.4 L137.6,1095.4 L138.6,1095.4 L139.6,1095.4 L140.6,1095.4 L141.6,1095.4 L142.6,1095.4 L143.6,1095.4 L144.6,1095.4 L145.6,1095.4 L146.6,1095.4 L147.6,1095.4 L148.6,1095.4 L149.6,1095.4 L150.6,1095.4 L151.6,1095.4 L152.6,1095.4 L153.6,1095.4 L154.6,1095.4 L155.6,1095.4 L156.6,1095.4 L157.6,1095.4 L158.6,1095.4 L159.6,1095.4 L160.6,1095.4 L161.6,1095.4 L162.6,1095.4 L163.6,1095.4 L164.6,1095.4 L165.6,1095.4 L166.6,1095.4 L167.6,1095.4 L168.6,1095.4 L169.6,1095.4 L170.6,1095.4 L171.6,1095.4 L172.6,1095.4 L173.6,1095.4 L174.6,1095.4 L175.6,1095.4 L176.6,1095.4 L177.6,1095.4 L178.6,1095.4 L179.6,1095.4 L180.6,1095.4 L181.6,1095.4 L182.6,1095.4 L183.6,1095.4 L184.6,1095.4 L185.6,1095.4 L186.6,1095.4 L187.6,1095.4 L188.6,1095.4 L189.6,1095.4 L190.6,1095.4 L191.6,1095.4 L192.6,1095.4 L193.6,1095.4 L194.6,1095.4 L195.6,1095.4 L196.6,1095.4 L197.6,1095.4 L198.6,1095.4 L199.6,1095.4 L200.6,1095.4 L201.6,1095.4 L202.6,1095.4 L203.6,1095.4 L204.6,1095.4 L205.6,1095.4 L206.6,1095.4 L207.6,1095.4 L208.6,1095.4 L209.6,1095.4 L210.6,1095.4 L211.6,1095.4 L212.6,1095.4 L213.6,1095.4 L214.6,1095.4 L215.6,1095.4 L216.6,1095.4 L217.6,1095.4 L218.6,1095.4 L219.6,1095.4 L220.6,1095.4 L221.6,1095.4 L222.6,1095.4 L223.6,1095.4 L224.6,1095.4 L225.6,1095.4 L226.6,1095.4 L227.6,1095.4 L228.6,1095.4 L229.6,1095.4 L230.6,1095.4 L231.6,1095.4 L232.6,1095.4 L233.6,1095.4 L234.6,1095.4 L235.6,1095.4 L236.6,1095.4 L237.6,1095.4 L238.6,1095.4 L239.6,1095.4 L240.6,1095.4 L241.6,1095.4 L242.6,1095.4 L243.6,1095.4 L244.6,1095.4 L245.6,1095.4 L246.6,1095.4 L247.6,1095.4 L248.6,1095.4 L249.6,1095.4 L250.6,1095.4 L251.6,1095.4 L252.6,1095.4 L253.6,1095.4 L254.6,1095.4 L255.6,1095.4 L256.6,1095.4 L257.6,1095.4 L258.6,1095.4 L259.6,1095.4 L260.6,1095.4 L261.6,1095.4 L262.6,1095.4 L263.6,1095.4 L264.6,1095.4 L265.6,1095.4 L266.6,1095.4 L267.6,1095.4 L268.6,1095.4 L269.6,1095.4 L270.6,1095.4 L271.6,1095.4 L272.6,1095.4 L273.6,1095.4 L274.6,1095.4 L275.6,1095.4 L276.6,1095.4 L277.6,1095.4 L278.6,1095.4 L279.6,1095.4 L280.6,1095.4 L281.6,1095.4 L282.6,1095.4 L283.6,1095.4 L284.6,1095.4 L285.6,1095.4 L286.6,1095.4 L287.6,1095.4 L288.6,1095.4 L289.6,1095.4 L290.6,1095.4 L291.6,1095.4 L292.6,1095.4 L293.6,1095.4 L294.6,1095.4 L295.6,1095.4 L296.6,1095.4 L297.6,1095.4 L298.6,1095.4 L299.6,1095.4 L300.6,1095.4 L301.6,1095.4 L302.6,1095.4 L303.6,1095.4 L304.6,1095.4 L305.6,1095.4 L306.6,1095.4 L307.6,1095.4 L308.6,1095.4 L309.6,1095.4 L310.6,1095.4 L311.6,1095.4 L312.6,1095.4 L313.6,1095.4 L314.6,1095.4 L315.6,1095.4 L316.6,1095.4 L317.6,1095.4 L318.6,1095.4 L319.6,1095.4 L320.6,1095.4 L321.6,1095.4 L322.6,1095.4 L323.6,1095.4 L324.6,1095.4 L325.6,1095.4 L326.6,1095.4 L327.6,1095.4 L328.6,1095.4 L329.6,1095.4 L330.6,1095.4 L331.6,1095.4 L332.6,1095.4 L333.6,1095.4 L334.6,1095.4 L335.6,1095.4 L336.6,1095.4 L337.6,1095.4 L338.6,1095.4 L339.6,1095.4 L340.6,1095.4 L341.6,1095.4 L342.6,1095.4 L343.6,1095.4 L344.6,1095.4 L345.6,1095.4 L346.6,1095.4 L347.6,1095.4 L348.6,1095.4 L349.6,1095.4 L350.6,1095.4 L351.6,1095.4 L352.6,1095.4 L353.6,1095.4 L354.6,1095.4 L355.6,1095.4 L356.6,1095.4 L357.6,1095.4 L358.6,1095.4 L359.6,1095.4 L360.6,1095.4 L361.6,1095.4 L362.6,1095.4 L363.6,1095.4 L364.6,1095.4 L365.6,1095.4 L366.6,1095.4 L367.6,1095.4 L368.6,1095.4 L369.6,1095.4 L370.6,1095.4 L371.6,1095.4 L372.6,1095.4 L373.6,1095.4 L374.6,1095.4 L375.6,1095.4 L376.6,1095.4 L377.6,1095.4 L378.6,1095.3 L379.6,1095.3 L380.6,1095.3 L381.6,1095.3 L382.6,1095.3 L383.6,1095.3 L384.6,1095.3 L385.6,1095.3 L386.6,1095.3 L387.6,1095.3 L388.6,1095.3 L389.6,1095.3 L390.6,1095.3 L391.6,1095.3 L392.6,1095.3 L393.6,1095.3 L394.6,1095.3 L395.6,1095.3 L396.6,1095.3 L397.6,1095.3 L398.6,1095.3 L399.6,1095.3 L400.6,1095.3 L401.6,1095.3 L402.6,1095.3 L403.6,1095.3 L404.6,1095.3 L405.6,1095.3 L406.6,1095.2 L407.6,1095.2 L408.6,1095.2 L409.6,1095.1 L410.6,1095.1 L411.6,1095.0 L412.6,1094.9 L413.6,1094.8 L414.6,1094.7 L415.6,1094.6 L416.6,1094.5 L417.6,1094.3 L418.6,1094.2 L419.6,1094.0 L420.6,1093.8 L421.6,1093.5 L422.6,1093.2 L423.6,1093.0 L424.6,1092.7 L425.6,1092.4 L426.6,1092.1 L427.6,1091.8 L428.6,1091.5 L429.6,1091.1 L430.6,1090.8 L431.6,1090.3 L432.6,1089.8 L433.6,1089.3 L434.6,1088.7 L435.6,1088.0 L436.6,1087.1 L437.6,1086.2 L438.6,1085.0 L439.6,1083.8 L440.6,1082.4 L441.6,1081.0 L442.6,1079.5 L443.6,1077.9 L444.6,1076.1 L445.6,1074.2 L446.6,1072.2 L447.6,1070.0 L448.6,1067.7 L449.6,1065.1 L450.6,1062.3 L451.6,1059.5 L452.6,1056.6 L453.6,1053.7 L454.6,1050.7 L455.6,1047.2 L456.6,1043.2 L457.6,1038.7 L458.6,1033.8 L459.6,1028.4 L460.6,1022.7 L461.6,1016.8 L462.6,1011.0 L463.6,1005.5 L464.6,999.9 L465.6,994.3 L466.6,988.8 L467.6,983.6 L468.6,978.8 L469.6,974.4 L470.6,970.0 L471.6,965.5 L472.6,960.4 L473.6,954.4 L474.6,947.6 L475.6,940.5 L476.6,933.6 L477.6,926.7 L478.6,919.9 L479.6,913.1 L480.6,906.5 L481.6,899.8 L482.6,893.3 L483.6,886.8 L484.6,880.1 L485.6,873.6 L486.6,867.8 L487.6,863.2 L488.6,859.3 L489.6,855.8 L490.6,852.4 L491.6,849.2 L492.6,846.2 L493.6,843.4 L494.6,840.7 L495.6,838.1 L496.6,835.6 L497.6,833.6 L498.6,832.2 L499.6,831.1 L500.6,830.1 L501.6,829.3 L502.6,828.7 L503.6,828.4 L504.6,828.4 L505.6,828.4 L506.6,828.4 L507.6,828.4 L508.6,828.4 L509.6,828.4 L510.6,828.4 L511.6,828.4 L512.6,828.4 L513.6,828.5 L514.6,828.8 L515.6,829.3 L516.6,830.0 L517.6,830.8 L518.6,831.7 L519.6,833.1 L520.6,835.0 L521.6,837.4 L522.6,839.9 L523.6,842.3 L524.6,844.6 L525.6,846.7 L526.6,848.9 L527.6,851.1 L528.6,853.3 L529.6,855.5 L530.6,857.8 L531.6,860.0 L532.6,862.3 L533.6,864.6 L534.6,866.9 L535.6,869.2 L536.6,871.5 L537.6,873.7 L538.6,876.0 L539.6,878.2 L540.6,880.6 L541.6,883.1 L542.6,885.8 L543.6,888.7 L544.6,891.7 L545.6,894.4 L546.6,896.7 L547.6,898.7 L548.6,900.5 L549.6,902.1 L550.6,903.7 L551.6,905.2 L552.6,906.7 L553.6,908.2 L554.6,909.7 L555.6,911.1 L556.6,912.3 L557.6,913.3 L558.6,914.2 L559.6,915.0 L560.6,915.6 L561.6,914.4 L562.6,912.8 L563.6,911.0 L564.6,909.3 L565.6,907.9 L566.6,906.7 L567.6,905.5 L568.6,904.2 L569.6,902.8 L570.6,901.0 L571.6,898.8 L572.6,896.4 L573.6,893.7 L574.6,890.9 L575.6,888.1 L576.6,885.5 L577.6,882.8 L578.6,880.1 L579.6,877.4 L580.6,874.6 L581.6,871.9 L582.6,869.1 L583.6,866.3 L584.6,863.5 L585.6,860.5 L586.6,857.6 L587.6,854.8 L588.6,852.2 L589.6,849.8 L590.6,847.6 L591.6,845.6 L592.6,843.6 L593.6,841.7 L594.6,839.7 L595.6,837.6 L596.6,835.5 L597.6,833.7 L598.6,832.2 L599.6,831.2 L600.6,830.3 L601.6,829.5 L602.6,828.8 L603.6,828.3 L604.6,828.0 L605.6,827.9 L606.6,827.9 L607.6,827.9 L608.6,827.9 L609.6,827.9 L610.6,827.9 L611.6,827.9 L612.6,827.9 L613.6,827.9 L614.6,827.9 L615.6,828.1 L616.6,828.6 L617.6,829.2 L618.6,829.9 L619.6,830.8 L620.6,831.7 L621.6,833.2 L622.6,835.2 L623.6,837.6 L624.6,840.2 L625.6,843.5 L626.6,847.8 L627.6,852.6 L628.6,857.4 L629.6,862.2 L630.6,867.2 L631.6,872.5 L632.6,877.9 L633.6,883.9 L634.6,890.0 L635.6,895.7 L636.6,900.9 L637.6,906.2 L638.6,912.2 L639.6,918.8 L640.6,925.9 L641.6,933.7 L642.6,940.2 L643.6,946.1 L644.6,953.8 L645.6,963.6 L646.6,972.5 L647.6,980.2 L648.6,987.4 L649.6,994.1 L650.6,1000.2 L651.6,1005.9 L652.6,1011.2 L653.6,1016.3 L654.6,1021.1 L655.6,1025.7 L656.6,1030.3 L657.6,1034.7 L658.6,1039.0 L659.6,1043.1 L660.6,1047.0 L661.6,1050.8 L662.6,1054.2 L663.6,1057.5 L664.6,1060.6 L665.6,1063.6 L666.6,1066.5 L667.6,1069.1 L668.6,1071.5 L669.6,1073.6 L670.6,1075.6 L671.6,1077.4 L672.6,1079.2 L673.6,1080.9 L674.6,1082.4 L675.6,1083.7 L676.6,1084.9 L677.6,1085.9 L678.6,1086.8 L679.6,1087.6 L680.6,1088.4 L681.6,1089.1 L682.6,1089.8 L683.6,1090.4 L684.6,1091.0 L685.6,1091.5 L686.6,1091.9 L687.6,1092.3 L688.6,1092.5 L689.6,1092.8 L690.6,1093.0 L691.6,1093.2 L692.6,1093.4 L693.6,1093.5 L694.6,1093.7 L695.6,1093.8 L696.6,1093.9 L697.6,1094.1 L698.6,1094.1 L699.6,1094.2 L700.6,1094.3 L701.6,1094.4 L702.6,1094.5 L703.6,1094.5 L704.6,1094.6 L705.6,1094.7 L706.6,1094.6 L707.6,1094.5 L707.6,1100.0 L706.6,1100.0 L705.6,1100.0 L704.6,1100.0 L703.6,1100.0 L702.6,1100.0 L701.6,1100.0 L700.6,1100.0 L699.6,1100.0 L698.6,1100.0 L697.6,1099.9 L696.6,1099.9 L695.6,1099.8 L694.6,1099.7 L693.6,1099.7 L692.6,1099.6 L691.6,1099.5 L690.6,1099.4 L689.6,1099.3 L688.6,1099.3 L687.6,1099.1 L686.6,1099.0 L685.6,1098.9 L684.6,1098.7 L683.6,1098.6 L682.6,1098.4 L681.6,1098.2 L680.6,1098.0 L679.6,1097.7 L678.6,1097.5 L677.6,1097.1 L676.6,1096.7 L675.6,1096.2 L674.6,1095.6 L673.6,1095.0 L672.6,1094.3 L671.6,1093.6 L670.6,1092.8 L669.6,1092.0 L668.6,1091.1 L667.6,1090.1 L666.6,1088.9 L665.6,1087.6 L664.6,1086.1 L663.6,1084.4 L662.6,1082.6 L661.6,1080.8 L660.6,1078.8 L659.6,1076.7 L658.6,1074.3 L657.6,1071.7 L656.6,1068.8 L655.6,1065.8 L654.6,1062.7 L653.6,1059.4 L652.6,1056.0 L651.6,1052.2 L650.6,1048.3 L649.6,1044.2 L648.6,1039.9 L647.6,1035.5 L646.6,1030.9 L645.6,1026.3 L644.6,1021.5 L643.6,1016.4 L642.6,1011.1 L641.6,1005.4 L640.6,999.3 L639.6,992.6 L638.6,985.4 L637.6,977.7 L636.6,968.8 L635.6,959.0 L634.6,951.3 L633.6,945.4 L632.6,938.9 L631.6,931.1 L630.6,924.0 L629.6,917.4 L628.6,911.4 L627.6,906.1 L626.6,900.9 L625.6,895.2 L624.6,889.1 L623.6,883.1 L622.6,877.7 L621.6,872.4 L620.6,867.4 L619.6,862.6 L618.6,857.8 L617.6,853.0 L616.6,848.7 L615.6,845.4 L614.6,842.8 L613.6,840.4 L612.6,838.4 L611.6,836.9 L610.6,836.0 L609.6,835.5 L608.6,836.4 L607.6,837.4 L606.6,838.9 L605.6,840.7 L604.6,842.8 L603.6,844.9 L602.6,846.9 L601.6,848.8 L600.6,850.8 L599.6,852.8 L598.6,855.0 L597.6,857.4 L596.6,860.0 L595.6,862.8 L594.6,865.7 L593.6,868.7 L592.6,871.5 L591.6,874.3 L590.6,877.1 L589.6,879.8 L588.6,882.6 L587.6,885.3 L586.6,888.0 L585.6,890.7 L584.6,893.3 L583.6,896.1 L582.6,898.9 L581.6,901.6 L580.6,904.0 L579.6,906.2 L578.6,908.0 L577.6,909.4 L576.6,910.7 L575.6,911.9 L574.6,913.1 L573.6,914.5 L572.6,916.2 L571.6,918.0 L570.6,919.6 L569.6,920.8 L568.6,921.4 L567.6,921.8 L566.6,922.1 L565.6,922.3 L564.6,922.5 L563.6,922.5 L562.6,922.5 L561.6,922.5 L560.6,922.5 L559.6,922.5 L558.6,922.5 L557.6,922.5 L556.6,922.5 L555.6,922.5 L554.6,922.5 L553.6,922.2 L552.6,921.7 L551.6,921.0 L550.6,920.2 L549.6,919.4 L548.6,918.5 L547.6,917.5 L546.6,916.3 L545.6,914.9 L544.6,913.4 L543.6,911.9 L542.6,910.4 L541.6,908.9 L540.6,907.3 L539.6,905.7 L538.6,903.9 L537.6,901.9 L536.6,899.6 L535.6,896.9 L534.6,893.9 L533.6,891.0 L532.6,888.3 L531.6,885.8 L530.6,883.4 L529.6,881.2 L528.6,878.9 L527.6,876.7 L526.6,874.4 L525.6,872.1 L524.6,869.8 L523.6,867.5 L522.6,865.2 L521.6,863.0 L520.6,860.7 L519.6,858.5 L518.6,856.3 L517.6,854.1 L516.6,851.9 L515.6,849.8 L514.6,847.5 L513.6,845.1 L512.6,842.6 L511.6,840.2 L510.6,838.3 L509.6,836.9 L508.6,836.3 L507.6,837.4 L506.6,838.8 L505.6,840.8 L504.6,843.3 L503.6,845.9 L502.6,848.6 L501.6,851.4 L500.6,854.4 L499.6,857.6 L498.6,861.0 L497.6,864.5 L496.6,868.4 L495.6,873.0 L494.6,878.8 L493.6,885.3 L492.6,892.0 L491.6,898.5 L490.6,905.0 L489.6,911.7 L488.6,918.3 L487.6,925.1 L486.6,931.9 L485.6,938.8 L484.6,945.7 L483.6,952.8 L482.6,959.6 L481.6,965.6 L480.6,970.7 L479.6,975.2 L478.6,979.6 L477.6,984.0 L476.6,988.8 L475.6,994.0 L474.6,999.5 L473.6,1005.1 L472.6,1010.7 L471.6,1016.2 L470.6,1022.0 L469.6,1027.9 L468.6,1033.6 L467.6,1039.0 L466.6,1043.9 L465.6,1048.4 L464.6,1052.4 L463.6,1055.9 L462.6,1058.9 L461.6,1061.8 L460.6,1064.7 L459.6,1067.5 L458.6,1070.3 L457.6,1072.9 L456.6,1075.2 L455.6,1077.4 L454.6,1079.4 L453.6,1081.3 L452.6,1083.1 L451.6,1084.7 L450.6,1086.2 L449.6,1087.6 L448.6,1089.0 L447.6,1090.2 L446.6,1091.4 L445.6,1092.3 L444.6,1093.2 L443.6,1093.9 L442.6,1094.5 L441.6,1095.0 L440.6,1095.5 L439.6,1096.0 L438.6,1096.3 L437.6,1096.7 L436.6,1097.0 L435.6,1097.3 L434.6,1097.6 L433.6,1097.9 L432.6,1098.2 L431.6,1098.4 L430.6,1098.7 L429.6,1099.0 L428.6,1099.2 L427.6,1099.4 L426.6,1099.5 L425.6,1099.7 L424.6,1099.8 L423.6,1099.9 L422.6,1100.0 L421.6,1100.1 L420.6,1100.2 L419.6,1100.3 L418.6,1100.3 L417.6,1100.4 L416.6,1100.4 L415.6,1100.4 L414.6,1100.5 L413.6,1100.5 L412.6,1100.5 L411.6,1100.5 L410.6,1100.5 L409.6,1100.5 L408.6,1100.5 L407.6,1100.5 L406.6,1100.5 L405.6,1100.5 L404.6,1100.5 L403.6,1100.5 L402.6,1100.5 L401.6,1100.5 L400.6,1100.5 L399.6,1100.5 L398.6,1100.5 L397.6,1100.5 L396.6,1100.5 L395.6,1100.5 L394.6,1100.5 L393.6,1100.5 L392.6,1100.5 L391.6,1100.5 L390.6,1100.5 L389.6,1100.5 L388.6,1100.5 L387.6,1100.5 L386.6,1100.6 L385.6,1100.6 L384.6,1100.6 L383.6,1100.6 L382.6,1100.6 L381.6,1100.6 L380.6,1100.6 L379.6,1100.6 L378.6,1100.6 L377.6,1100.6 L376.6,1100.6 L375.6,1100.6 L374.6,1100.6 L373.6,1100.6 L372.6,1100.6 L371.6,1100.6 L370.6,1100.6 L369.6,1100.6 L368.6,1100.6 L367.6,1100.6 L366.6,1100.6 L365.6,1100.6 L364.6,1100.6 L363.6,1100.6 L362.6,1100.6 L361.6,1100.6 L360.6,1100.6 L359.6,1100.6 L358.6,1100.6 L357.6,1100.6 L356.6,1100.6 L355.6,1100.6 L354.6,1100.6 L353.6,1100.6 L352.6,1100.6 L351.6,1100.6 L350.6,1100.6 L349.6,1100.6 L348.6,1100.6 L347.6,1100.6 L346.6,1100.6 L345.6,1100.6 L344.6,1100.6 L343.6,1100.6 L342.6,1100.6 L341.6,1100.6 L340.6,1100.6 L339.6,1100.6 L338.6,1100.6 L337.6,1100.6 L336.6,1100.6 L335.6,1100.6 L334.6,1100.6 L333.6,1100.6 L332.6,1100.6 L331.6,1100.6 L330.6,1100.6 L329.6,1100.6 L328.6,1100.6 L327.6,1100.6 L326.6,1100.6 L325.6,1100.6 L324.6,1100.6 L323.6,1100.6 L322.6,1100.6 L321.6,1100.6 L320.6,1100.6 L319.6,1100.6 L318.6,1100.6 L317.6,1100.6 L316.6,1100.6 L315.6,1100.6 L314.6,1100.6 L313.6,1100.6 L312.6,1100.6 L311.6,1100.6 L310.6,1100.6 L309.6,1100.6 L308.6,1100.6 L307.6,1100.6 L306.6,1100.6 L305.6,1100.6 L304.6,1100.6 L303.6,1100.6 L302.6,1100.6 L301.6,1100.6 L300.6,1100.6 L299.6,1100.6 L298.6,1100.6 L297.6,1100.6 L296.6,1100.6 L295.6,1100.6 L294.6,1100.6 L293.6,1100.6 L292.6,1100.6 L291.6,1100.6 L290.6,1100.6 L289.6,1100.6 L288.6,1100.6 L287.6,1100.6 L286.6,1100.6 L285.6,1100.6 L284.6,1100.6 L283.6,1100.6 L282.6,1100.6 L281.6,1100.6 L280.6,1100.6 L279.6,1100.6 L278.6,1100.6 L277.6,1100.6 L276.6,1100.6 L275.6,1100.6 L274.6,1100.6 L273.6,1100.6 L272.6,1100.6 L271.6,1100.6 L270.6,1100.6 L269.6,1100.6 L268.6,1100.6 L267.6,1100.6 L266.6,1100.6 L265.6,1100.6 L264.6,1100.6 L263.6,1100.6 L262.6,1100.6 L261.6,1100.6 L260.6,1100.6 L259.6,1100.6 L258.6,1100.6 L257.6,1100.6 L256.6,1100.6 L255.6,1100.6 L254.6,1100.6 L253.6,1100.6 L252.6,1100.6 L251.6,1100.6 L250.6,1100.6 L249.6,1100.6 L248.6,1100.6 L247.6,1100.6 L246.6,1100.6 L245.6,1100.6 L244.6,1100.6 L243.6,1100.6 L242.6,1100.6 L241.6,1100.6 L240.6,1100.6 L239.6,1100.6 L238.6,1100.6 L237.6,1100.6 L236.6,1100.6 L235.6,1100.6 L234.6,1100.6 L233.6,1100.6 L232.6,1100.6 L231.6,1100.6 L230.6,1100.6 L229.6,1100.6 L228.6,1100.6 L227.6,1100.6 L226.6,1100.6 L225.6,1100.6 L224.6,1100.6 L223.6,1100.6 L222.6,1100.6 L221.6,1100.6 L220.6,1100.6 L219.6,1100.6 L218.6,1100.6 L217.6,1100.6 L216.6,1100.6 L215.6,1100.6 L214.6,1100.6 L213.6,1100.6 L212.6,1100.6 L211.6,1100.6 L210.6,1100.6 L209.6,1100.6 L208.6,1100.6 L207.6,1100.6 L206.6,1100.6 L205.6,1100.6 L204.6,1100.6 L203.6,1100.6 L202.6,1100.6 L201.6,1100.6 L200.6,1100.6 L199.6,1100.6 L198.6,1100.6 L197.6,1100.6 L196.6,1100.6 L195.6,1100.6 L194.6,1100.6 L193.6,1100.6 L192.6,1100.6 L191.6,1100.6 L190.6,1100.6 L189.6,1100.6 L188.6,1100.6 L187.6,1100.6 L186.6,1100.6 L185.6,1100.6 L184.6,1100.6 L183.6,1100.6 L182.6,1100.6 L181.6,1100.6 L180.6,1100.6 L179.6,1100.6 L178.6,1100.6 L177.6,1100.6 L176.6,1100.6 L175.6,1100.6 L174.6,1100.6 L173.6,1100.6 L172.6,1100.6 L171.6,1100.6 L170.6,1100.6 L169.6,1100.6 L168.6,1100.6 L167.6,1100.6 L166.6,1100.6 L165.6,1100.6 L164.6,1100.6 L163.6,1100.6 L162.6,1100.6 L161.6,1100.6 L160.6,1100.6 L159.6,1100.6 L158.6,1100.6 L157.6,1100.6 L156.6,1100.6 L155.6,1100.6 L154.6,1100.6 L153.6,1100.6 L152.6,1100.6 L151.6,1100.6 L150.6,1100.6 L149.6,1100.6 L148.6,1100.6 L147.6,1100.6 L146.6,1100.6 L145.6,1100.6 L144.6,1100.6 L143.6,1100.6 L142.6,1100.6 L141.6,1100.6 L140.6,1100.6 L139.6,1100.6 L138.6,1100.6 L137.6,1100.6 L136.6,1100.6 L135.6,1100.6 L134.6,1100.6 L133.6,1100.6 L132.6,1100.6 L131.6,1100.6 L130.6,1100.6 L129.6,1100.6 L128.6,1100.6 L127.6,1100.6 L126.6,1100.6 L125.6,1100.6 L124.6,1100.6 L123.6,1100.6 L122.6,1100.6 L121.6,1100.6 L120.6,1100.6 L119.6,1100.6 L118.6,1100.6 L117.6,1100.6 L116.6,1100.6 L115.6,1100.6 L114.6,1100.6 L113.6,1100.6 L112.6,1100.6 L111.6,1100.6 L110.6,1100.6 L109.6,1100.6 L108.6,1100.6 L107.6,1100.6 L106.6,1100.6 Z" fill="#2ca02c" stroke="none" fill-opacity="0.55"/>
<path d="M106.6,1098.6 L107.6,1098.6 L108.6,1098.6 L109.6,1098.6 L110.6,1098.6 L111.6,1098.6 L112.6,1098.6 L113.6,1098.6 L114.6,1098.6 L115.6,1098.6 L116.6,1098.6 L117.6,1098.6 L118.6,1098.6 L119.6,1098.6 L120.6,1098.6 L121.6,1098.6 L122.6,1098.6 L123.6,1098.6 L124.6,1098.6 L125.6,1098.6 L126.6,1098.6 L127.6,1098.6 L128.6,1098.6 L129.6,1098.6 L130.6,1098.6 L131.6,1098.6 L132.6,1098.6 L133.6,1098.6 L134.6,1098.6 L135.6,1098.6 L136.6,1098.6 L137.6,1098.6 L138.6,1098.6 L139.6,1098.6 L140.6,1098.6 L141.6,1098.6 L142.6,1098.6 L143.6,1098.6 L144.6,1098.6 L145.6,1098.6 L146.6,1098.6 L147.6,1098.6 L148.6,1098.6 L149.6,1098.6 L150.6,1098.6 L151.6,1098.6 L152.6,1098.6 L153.6,1098.6 L154.6,1098.6 L155.6,1098.6 L156.6,1098.6 L157.6,1098.6 L158.6,1098.6 L159.6,1098.6 L160.6,1098.6 L161.6,1098.6 L162.6,1098.6 L163.6,1098.6 L164.6,1098.6 L165.6,1098.6 L166.6,1098.6 L167.6,1098.6 L168.6,1098.6 L169.6,1098.6 L170.6,1098.6 L171.6,1098.6 L172.6,1098.6 L173.6,1098.6 L174.6,1098.6 L175.6,1098.6 L176.6,1098.6 L177.6,1098.6 L178.6,1098.6 L179.6,1098.6 L180.6,1098.6 L181.6,1098.6 L182.6,1098.6 L183.6,1098.6 L184.6,1098.6 L185.6,1098.6 L186.6,1098.6 L187.6,1098.6 L188.6,1098.6 L189.6,1098.6 L190.6,1098.6 L191.6,1098.6 L192.6,1098.6 L193.6,1098.6 L194.6,1098.6 L195.6,1098.6 L196.6,1098.6 L197.6,1098.6 L198.6,1098.6 L199.6,1098.6 L200.6,1098.6 L201.6,1098.6 L202.6,1098.6 L203.6,1098.6 L204.6,1098.6 L205.6,1098.6 L206.6,1098.6 L207.6,1098.6 L208.6,1098.6 L209.6,1098.6 L210.6,1098.6 L211.6,1098.6 L212.6,1098.6 L213.6,1098.6 L214.6,1098.6 L215.6,1098.6 L216.6,1098.6 L217.6,1098.6 L218.6,1098.6 L219.6,1098.6 L220.6,1098.6 L221.6,1098.6 L222.6,1098.6 L223.6,1098.6 L224.6,1098.6 L225.6,1098.6 L226.6,1098.6 L227.6,1098.6 L228.6,1098.6 L229.6,1098.6 L230.6,1098.6 L231.6,1098.6 L232.6,1098.6 L233.6,1098.6 L234.6,1098.6 L235.6,1098.6 L236.6,1098.6 L237.6,1098.6 L238.6,1098.6 L239.6,1098.6 L240.6,1098.6 L241.6,1098.6 L242.6,1098.6 L243.6,1098.6 L244.6,1098.6 L245.6,1098.6 L246.6,1098.6 L247.6,1098.6 L248.6,1098.6 L249.6,1098.6 L250.6,1098.6 L251.6,1098.6 L252.6,1098.6 L253.6,1098.6 L254.6,1098.6 L255.6,1098.6 L256.6,1098.6 L257.6,1098.6 L258.6,1098.6 L259.6,1098.6 L260.6,1098.6 L261.6,1098.6 L262.6,1098.6 L263.6,1098.6 L264.6,1098.6 L265.6,1098.6 L266.6,1098.6 L267.6,1098.6 L268.6,1098.6 L269.6,1098.6 L270.6,1098.6 L271.6,1098.6 L272.6,1098.6 L273.6,1098.6 L274.6,1098.6 L275.6,1098.6 L276.6,1098.6 L277.6,1098.6 L278.6,1098.6 L279.6,1098.6 L280.6,1098.6 L281.6,1098.6 L282.6,1098.6 L283.6,1098.6 L284.6,1098.6 L285.6,1098.6 L286.6,1098.6 L287.6,1098.6 L288.6,1098.6 L289.6,1098.6 L290.6,1098.6 L291.6,1098.6 L292.6,1098.6 L293.6,1098.6 L294.6,1098.6 L295.6,1098.6 L296.6,1098.6 L297.6,1098.6 L298.6,1098.6 L299.6,1098.6 L300.6,1098.6 L301.6,1098.6 L302.6,1098.6 L303.6,1098.6 L304.6,1098.6 L305.6,1098.6 L306.6,1098.6 L307.6,1098.6 L308.6,1098.6 L309.6,1098.6 L310.6,1098.6 L311.6,1098.6 L312.6,1098.6 L313.6,1098.6 L314.6,1098.6 L315.6,1098.6 L316.6,1098.6 L317.6,1098.6 L318.6,1098.6 L319.6,1098.6 L320.6,1098.6 L321.6,1098.6 L322.6,1098.6 L323.6,1098.6 L324.6,1098.6 L325.6,1098.6 L326.6,1098.6 L327.6,1098.6 L328.6,1098.6 L329.6,1098.6 L330.6,1098.6 L331.6,1098.6 L332.6,1098.6 L333.6,1098.6 L334.6,1098.6 L335.6,1098.6 L336.6,1098.6 L337.6,1098.6 L338.6,1098.6 L339.6,1098.6 L340.6,1098.6 L341.6,1098.6 L342.6,1098.6 L343.6,1098.6 L344.6,1098.6 L345.6,1098.6 L346.6,1098.6 L347.6,1098.6 L348.6,1098.6 L349.6,1098.6 L350.6,1098.6 L351.6,1098.6 L352.6,1098.6 L353.6,1098.6 L354.6,1098.6 L355.6,1098.6 L356.6,1098.6 L357.6,1098.6 L358.6,1098.6 L359.6,1098.6 L360.6,1098.6 L361.6,1098.6 L362.6,1098.6 L363.6,1098.6 L364.6,1098.6 L365.6,1098.6 L366.6,1098.6 L367.6,1098.6 L368.6,1098.6 L369.6,1098.6 L370.6,1098.6 L371.6,1098.6 L372.6,1098.6 L373.6,1098.6 L374.6,1098.6 L375.6,1098.6 L376.6,1098.6 L377.6,1098.6 L378.6,1098.6 L379.6,1098.6 L380.6,1098.6 L381.6,1098.6 L382.6,1098.6 L383.6,1098.6 L384.6,1098.6 L385.6,1098.5 L386.6,1098.5 L387.6,1098.5 L388.6,1098.5 L389.6,1098.5 L390.6,1098.5 L391.6,1098.5 L392.6,1098.5 L393.6,1098.5 L394.6,1098.5 L395.6,1098.5 L396.6,1098.5 L397.6,1098.5 L398.6,1098.5 L399.6,1098.5 L400.6,1098.5 L401.6,1098.5 L402.6,1098.5 L403.6,1098.5 L404.6,1098.5 L405.6,1098.5 L406.6,1098.5 L407.6,1098.5 L408.6,1098.5 L409.6,1098.5 L410.6,1098.5 L411.6,1098.5 L412.6,1098.5 L413.6,1098.4 L414.6,1098.4 L415.6,1098.3 L416.6,1098.3 L417.6,1098.2 L418.6,1098.2 L419.6,1098.1 L420.6,1098.0 L421.6,1097.9 L422.6,1097.8 L423.6,1097.6 L424.6,1097.5 L425.6,1097.3 L426.6,1097.1 L427.6,1096.9 L428.6,1096.6 L429.6,1096.3 L430.6,1096.0 L431.6,1095.7 L432.6,1095.4 L433.6,1095.1 L434.6,1094.8 L435.6,1094.5 L436.6,1094.2 L437.6,1093.7 L438.6,1093.3 L439.6,1092.8 L440.6,1092.2 L441.6,1091.5 L442.6,1090.8 L443.6,1089.9 L444.6,1088.8 L445.6,1087.6 L446.6,1086.3 L447.6,1084.9 L448.6,1083.4 L449.6,1081.9 L450.6,1080.2 L451.6,1078.4 L452.6,1076.4 L453.6,1074.3 L454.6,1072.1 L455.6,1069.6 L456.6,1066.9 L457.6,1064.1 L458.6,1061.2 L459.6,1058.4 L460.6,1055.4 L461.6,1052.2 L462.6,1048.5 L463.6,1044.2 L464.6,1039.5 L465.6,1034.4 L466.6,1028.8 L467.6,1022.9 L468.6,1017.1 L469.6,1011.4 L470.6,1005.9 L471.6,1000.3 L472.6,994.7 L473.6,989.4 L474.6,984.3 L475.6,979.7 L476.6,975.4 L477.6,971.0 L478.6,966.2 L479.6,960.8 L480.6,954.3 L481.6,947.3 L482.6,940.2 L483.6,933.4 L484.6,926.5 L485.6,919.7 L486.6,913.0 L487.6,906.3 L488.6,899.7 L489.6,893.2 L490.6,886.7 L491.6,880.0 L492.6,873.7 L493.6,868.6 L494.6,864.4 L495.6,860.7 L496.6,857.3 L497.6,854.0 L498.6,850.8 L499.6,848.0 L500.6,845.3 L501.6,842.6 L502.6,840.0 L503.6,837.7 L504.6,836.0 L505.6,834.8 L506.6,833.8 L507.6,832.9 L508.6,832.2 L509.6,831.7 L510.6,831.6 L511.6,831.8 L512.6,832.2 L513.6,832.8 L514.6,833.6 L515.6,834.4 L516.6,835.5 L517.6,837.2 L518.6,839.4 L519.6,841.8 L520.6,844.3 L521.6,846.7 L522.6,848.8 L523.6,851.0 L524.6,853.2 L525.6,855.4 L526.6,857.6 L527.6,859.8 L528.6,862.1 L529.6,864.4 L530.6,866.7 L531.6,869.0 L532.6,871.3 L533.6,873.6 L534.6,875.8 L535.6,878.1 L536.6,880.3 L537.6,882.6 L538.6,885.0 L539.6,887.6 L540.6,890.4 L541.6,893.4 L542.6,896.3 L543.6,898.8 L544.6,900.9 L545.6,902.8 L546.6,904.5 L547.6,906.1 L548.6,907.7 L549.6,909.1 L550.6,910.7 L551.6,912.2 L552.6,913.6 L553.6,914.9 L554.6,916.0 L555.6,916.9 L556.6,917.8 L557.6,918.6 L558.6,919.4 L559.6,920.0 L560.6,920.4 L561.6,920.5 L562.6,920.4 L563.6,920.2 L564.6,919.9 L565.6,919.6 L566.6,919.2 L567.6,918.3 L568.6,916.9 L569.6,915.1 L570.6,913.4 L571.6,911.8 L572.6,910.5 L573.6,909.3 L574.6,908.1 L575.6,906.7 L576.6,905.1 L577.6,903.2 L578.6,900.8 L579.6,898.2 L580.6,895.5 L581.6,892.7 L582.6,890.0 L583.6,887.4 L584.6,884.7 L585.6,882.0 L586.6,879.2 L587.6,876.5 L588.6,873.7 L589.6,870.9 L590.6,868.1 L591.6,865.2 L592.6,862.3 L593.6,859.4 L594.6,856.7 L595.6,854.2 L596.6,851.9 L597.6,849.8 L598.6,847.8 L599.6,845.8 L600.6,843.9 L601.6,841.8 L602.6,839.7 L603.6,837.8 L604.6,836.1 L605.6,834.9 L606.6,834.0 L607.6,833.1 L608.6,832.3 L609.6,831.7 L610.6,831.3 L611.6,831.1 L612.6,831.2 L613.6,831.5 L614.6,832.1 L615.6,832.7 L616.6,833.5 L617.6,834.4 L618.6,835.6 L619.6,837.3 L620.6,839.5 L621.6,842.1 L622.6,844.9 L623.6,848.7 L624.6,853.4 L625.6,858.2 L626.6,862.9 L627.6,867.9 L628.6,873.0 L629.6,878.4 L630.6,884.0 L631.6,890.1 L632.6,896.1 L633.6,901.5 L634.6,906.7 L635.6,912.3 L636.6,918.7 L637.6,925.5 L638.6,933.0 L639.6,940.4 L640.6,946.3 L641.6,952.8 L642.6,961.8 L643.6,971.5 L644.6,979.6 L645.6,987.1 L646.6,994.0 L647.6,1000.4 L648.6,1006.3 L649.6,1011.8 L650.6,1017.0 L651.6,1021.9 L652.6,1026.6 L653.6,1031.2 L654.6,1035.7 L655.6,1040.0 L656.6,1044.3 L657.6,1048.3 L658.6,1052.1 L659.6,1055.7 L660.6,1059.0 L661.6,1062.3 L662.6,1065.4 L663.6,1068.3 L664.6,1071.0 L665.6,1073.5 L666.6,1075.8 L667.6,1077.8 L668.6,1079.7 L669.6,1081.5 L670.6,1083.3 L671.6,1084.8 L672.6,1086.3 L673.6,1087.5 L674.6,1088.6 L675.6,1089.5 L676.6,1090.4 L677.6,1091.2 L678.6,1092.0 L679.6,1092.7 L680.6,1093.3 L681.6,1093.9 L682.6,1094.5 L683.6,1094.9 L684.6,1095.3 L685.6,1095.6 L686.6,1095.9 L687.6,1096.1 L688.6,1096.3 L689.6,1096.5 L690.6,1096.7 L691.6,1096.8 L692.6,1097.0 L693.6,1097.1 L694.6,1097.2 L695.6,1097.3 L696.6,1097.4 L697.6,1097.5 L698.6,1097.6 L699.6,1097.6 L700.6,1097.7 L701.6,1097.8 L702.6,1097.8 L703.6,1097.9 L704.6,1097.9 L705.6,1098.0 L706.6,1098.0 L707.6,1098.0" fill="none" stroke="#008000" stroke-width="3.6" stroke-linejoin="round" />
</g>
<line x1="407.2" y1="1125.40" x2="407.2" y2="803.50" stroke="#008000" stroke-width="5.0" stroke-dasharray="4.5 7.4"/>
<rect x="106.60" y="803.50" width="601.00" height="321.90" stroke="#000" stroke-width="1.4" fill="none" />
<rect x="116.0" y="812.1" width="282.0" height="114.8" rx="3.5" fill="#fff" fill-opacity="0.85" stroke="#d0d0d0" stroke-width="1.1"/>
<line x1="121.70" y1="823.75" x2="159.40" y2="823.75" stroke="#808080" stroke-width="2.0" />
<line x1="121.70" y1="845.90" x2="159.40" y2="845.90" stroke="#008000" stroke-width="3.0" />
<line x1="122.5" y1="867.9" x2="160" y2="867.9" stroke="#008000" stroke-width="4.2" stroke-dasharray="5.6 8.8"/>
<ellipse cx="140.2" cy="892.2" rx="2.9" ry="2.4" fill="#000"/>
<rect x="123.1" y="907.9" width="35.3" height="9.9" fill="#2ca02c" fill-opacity="0.55"/>
<text transform="translate(173.60,828.60) scale(1.3596,1)" font-size="14.94" fill="#000">Uncertainty band</text>
<text transform="translate(173.60,851.00) scale(1.3398,1)" font-size="14.94" fill="#000">Modeled spectrum</text>
<text transform="translate(173.60,873.00) scale(1.3232,1)" font-size="14.94" fill="#000">Laser reference</text>
<text transform="translate(173.60,895.50) scale(1.2921,1)" font-size="14.94" fill="#000">Data</text>
<text transform="translate(173.60,917.60) scale(1.3606,1)" font-size="14.94" fill="#000">68% confidence interval</text>
<text transform="translate(189.10,952.44) scale(1.2061,1)" font-size="15.80" font-family='"Liberation Sans", sans-serif' fill="#000" font-style="italic">σ</text>
<text transform="translate(206.90,950.60) scale(1.8801,1)" font-size="11.02" font-family='"Liberation Sans", sans-serif' fill="#000">=</text>
<text transform="translate(227.00,952.46) scale(1.3340,1)" font-size="14.41" font-family='"Liberation Sans", sans-serif' fill="#000">0.02</text>
<text transform="translate(298.80,1171.61) scale(1.4102,1)" font-size="20.15" font-family='"Liberation Sans", sans-serif' fill="#000">Wavelength (nm)</text>
<text transform="translate(50.54,1039.30) rotate(-90) scale(1.0004,1)" font-size="23.37" font-family='"Liberation Sans", sans-serif' fill="#000">Intensity (a.u.)</text>
<text transform="translate(19.80,824.14) scale(0.9716,1)" font-size="25.29" font-family='"Liberation Sans", sans-serif' fill="#000" font-weight="bold">b)</text>
</svg>
</body></html>
